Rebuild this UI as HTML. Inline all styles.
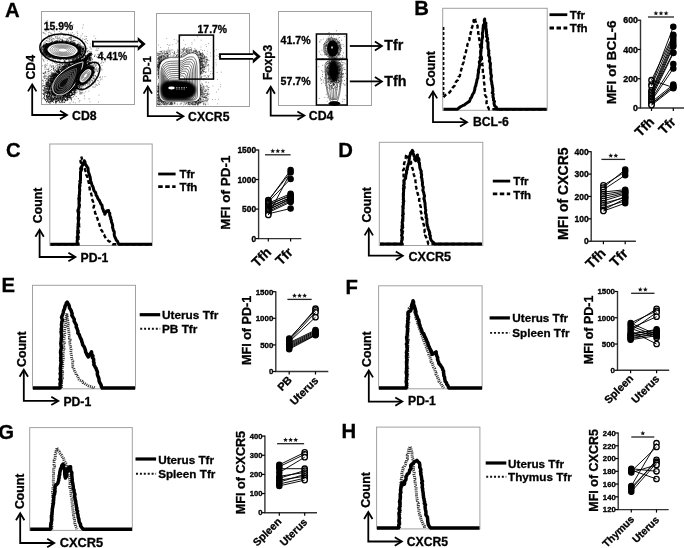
<!DOCTYPE html>
<html><head><meta charset="utf-8"><style>
html,body{margin:0;padding:0;background:#fff;width:685px;height:548px;overflow:hidden}
svg{display:block;will-change:transform}
</style></head><body>
<svg width="685" height="548" viewBox="0 0 685 548" font-family='"Liberation Sans", sans-serif'><defs><filter id="bl1" x="-50%" y="-50%" width="200%" height="200%"><feGaussianBlur stdDeviation="1.2"/></filter><filter id="bl05" x="-50%" y="-50%" width="200%" height="200%"><feGaussianBlur stdDeviation="0.6"/></filter></defs><text x="4.9" y="17.4" font-size="20.3" font-weight="bold" text-anchor="start" fill="#000" stroke="#000" stroke-width="0.3">A</text>
<text x="414.3" y="14.8" font-size="20.3" font-weight="bold" text-anchor="start" fill="#000" stroke="#000" stroke-width="0.3">B</text>
<text x="5.95" y="156.6" font-size="20.3" font-weight="bold" text-anchor="start" fill="#000" stroke="#000" stroke-width="0.3">C</text>
<text x="338.3" y="156.7" font-size="20.3" font-weight="bold" text-anchor="start" fill="#000" stroke="#000" stroke-width="0.3">D</text>
<text x="1.6" y="291.8" font-size="20.3" font-weight="bold" text-anchor="start" fill="#000" stroke="#000" stroke-width="0.3">E</text>
<text x="345.5" y="293.5" font-size="20.3" font-weight="bold" text-anchor="start" fill="#000" stroke="#000" stroke-width="0.3">F</text>
<text x="-1.65" y="438.7" font-size="20.3" font-weight="bold" text-anchor="start" fill="#000" stroke="#000" stroke-width="0.3">G</text>
<text x="341.5" y="437.9" font-size="20.3" font-weight="bold" text-anchor="start" fill="#000" stroke="#000" stroke-width="0.3">H</text>
<rect x="41.5" y="11.5" width="93.0" height="93.0" fill="#fff" stroke="#a0a0a0" stroke-width="1"/>
<rect x="156.5" y="13.5" width="93.0" height="93.0" fill="#fff" stroke="#a0a0a0" stroke-width="1"/>
<rect x="278.5" y="11.5" width="93.0" height="94.0" fill="#fff" stroke="#a0a0a0" stroke-width="1"/>
<path d="M62.8 57.3h0.9M80.3 54.8h0.9M77.1 72.0h0.9M56.3 50.2h0.9M59.5 45.8h0.9M56.1 50.7h0.9M71.4 39.2h0.9M61.9 54.1h0.9M72.7 50.0h0.9M83.0 54.9h0.9M62.5 41.0h0.9M70.8 62.0h0.9M62.0 41.4h0.9M57.4 57.2h0.9M70.2 37.2h0.9M73.4 54.2h0.9M61.0 42.9h0.9M61.0 50.3h0.9M72.4 45.4h0.9M53.3 30.7h0.9M44.2 39.0h0.9M68.1 51.2h0.9M53.8 54.7h0.9M54.0 31.2h0.9M57.6 42.2h0.9M47.7 47.0h0.9M44.1 43.1h0.9M64.1 43.3h0.9M74.0 58.3h0.9M59.3 58.0h0.9M52.8 55.6h0.9M68.7 42.6h0.9M72.2 51.6h0.9M59.2 48.2h0.9M71.1 38.7h0.9M75.8 58.8h0.9M60.2 50.6h0.9M52.8 45.1h0.9M66.4 62.5h0.9M65.6 56.9h0.9M76.6 58.6h0.9M45.5 58.8h0.9M53.9 55.5h0.9M53.1 38.5h0.9M63.9 58.8h0.9M70.4 44.2h0.9M53.4 49.6h0.9M80.6 55.1h0.9M72.6 63.3h0.9M70.2 61.8h0.9M67.5 58.2h0.9M75.5 49.6h0.9M45.1 56.4h0.9M70.5 55.3h0.9M70.9 49.4h0.9M67.1 54.7h0.9M60.3 43.4h0.9M72.2 61.7h0.9M57.5 47.5h0.9M62.3 55.1h0.9M68.6 37.6h0.9M51.7 48.9h0.9M71.4 42.8h0.9M62.4 41.7h0.9M70.8 34.5h0.9M54.6 67.7h0.9M77.2 50.1h0.9M70.7 52.8h0.9M59.9 59.3h0.9M71.3 49.8h0.9M78.9 55.9h0.9M87.2 40.6h0.9M42.5 50.0h0.9M74.7 47.6h0.9M68.6 54.8h0.9M61.6 51.5h0.9M51.0 37.2h0.9M80.6 35.8h0.9M47.4 40.1h0.9M69.8 57.0h0.9M79.5 55.1h0.9M60.6 32.6h0.9M48.0 25.8h0.9M66.6 45.1h0.9M82.9 49.0h0.9M89.6 47.2h0.9M55.7 48.0h0.9M73.0 40.8h0.9M84.1 44.4h0.9M68.3 51.7h0.9M53.3 49.8h0.9M66.9 49.7h0.9M61.1 69.2h0.9M60.6 47.6h0.9M53.4 50.2h0.9M68.8 42.0h0.9M67.3 47.3h0.9M61.4 54.4h0.9M59.7 54.6h0.9M46.5 47.2h0.9M56.4 52.8h0.9M78.6 51.8h0.9M61.9 33.9h0.9M46.8 20.6h0.9M78.6 71.1h0.9M69.3 57.6h0.9M90.3 51.9h0.9M65.1 35.4h0.9M58.0 38.7h0.9M43.2 59.8h0.9M82.2 27.9h0.9M96.5 50.2h0.9M51.7 56.4h0.9M54.5 50.5h0.9M70.2 57.1h0.9M52.3 47.9h0.9M57.7 70.0h0.9M59.2 40.9h0.9M66.5 38.7h0.9M77.0 53.6h0.9M62.2 62.1h0.9M74.9 50.6h0.9M56.8 58.4h0.9M67.6 45.9h0.9M43.2 60.2h0.9M72.1 64.2h0.9M54.2 62.3h0.9M70.8 46.9h0.9M70.9 40.8h0.9M81.0 41.6h0.9M73.7 49.0h0.9M75.7 56.1h0.9M61.2 54.2h0.9M55.0 37.1h0.9M53.4 50.8h0.9M56.7 49.6h0.9M48.3 49.5h0.9M55.9 49.2h0.9M62.0 48.2h0.9M65.8 55.3h0.9M58.5 50.7h0.9M62.6 44.1h0.9M65.6 53.6h0.9M77.1 50.2h0.9M72.1 32.7h0.9M54.3 53.4h0.9M53.8 46.9h0.9M88.4 60.1h0.9M72.9 49.5h0.9M86.8 51.3h0.9M90.4 54.2h0.9M52.4 49.0h0.9M68.3 46.7h0.9M70.3 35.3h0.9M68.9 66.2h0.9M71.2 37.2h0.9M65.9 47.3h0.9M64.8 55.7h0.9M43.3 51.5h0.9M60.4 54.6h0.9M52.7 55.7h0.9M63.7 60.8h0.9M56.7 52.0h0.9M68.9 75.3h0.9M74.4 42.3h0.9M66.8 52.3h0.9M67.4 47.3h0.9M64.6 45.5h0.9M57.0 51.9h0.9M59.8 62.2h0.9M57.1 43.4h0.9M68.6 44.4h0.9M62.6 56.2h0.9M70.1 55.3h0.9M44.3 65.1h0.9M73.7 59.7h0.9M53.0 51.1h0.9M53.7 46.4h0.9M60.3 51.6h0.9M55.8 47.9h0.9M67.8 38.8h0.9M55.6 49.4h0.9M49.3 47.3h0.9M52.2 47.1h0.9M80.3 47.9h0.9M62.3 64.4h0.9M47.4 54.6h0.9M62.4 57.9h0.9M43.3 43.1h0.9M86.9 43.4h0.9M43.5 45.9h0.9M69.0 52.6h0.9M70.3 47.7h0.9M44.4 46.8h0.9M66.2 58.5h0.9M75.7 53.7h0.9M69.8 42.2h0.9M66.7 46.7h0.9M75.8 45.5h0.9M64.9 51.7h0.9M68.2 40.5h0.9M61.5 48.3h0.9M70.7 56.6h0.9M50.8 49.2h0.9M73.9 43.2h0.9M56.9 44.2h0.9M48.8 49.8h0.9M67.4 54.5h0.9M84.3 59.0h0.9M75.6 49.9h0.9M57.3 38.3h0.9M71.0 62.9h0.9M56.9 52.0h0.9M61.1 53.3h0.9M63.9 52.7h0.9M65.7 47.5h0.9M49.5 51.0h0.9M53.2 58.0h0.9M43.9 48.8h0.9M45.7 21.9h0.9M51.0 46.9h0.9M73.4 53.9h0.9M83.6 62.8h0.9M62.1 56.0h0.9M75.3 72.3h0.9M58.5 61.8h0.9M64.2 58.2h0.9M69.8 38.8h0.9M56.8 56.7h0.9M66.5 55.4h0.9M70.8 46.2h0.9M51.4 54.0h0.9M43.6 51.9h0.9M60.5 45.8h0.9M60.4 48.7h0.9M58.6 47.4h0.9M75.6 53.1h0.9M85.7 48.4h0.9M57.2 54.1h0.9M73.5 34.6h0.9M75.4 48.7h0.9M73.5 36.5h0.9M76.9 47.1h0.9M57.6 53.9h0.9M72.6 51.0h0.9M89.3 51.4h0.9M73.4 51.5h0.9M53.8 62.6h0.9M71.7 41.3h0.9M78.7 58.9h0.9M68.9 37.6h0.9M56.0 45.4h0.9M82.9 53.1h0.9M47.4 41.4h0.9M69.4 52.3h0.9M62.3 56.2h0.9M48.4 38.5h0.9M78.8 50.7h0.9M67.8 47.2h0.9M49.3 32.2h0.9M70.9 49.1h0.9M58.0 42.8h0.9M54.7 41.8h0.9M65.2 64.7h0.9M71.6 46.2h0.9M63.7 66.6h0.9M63.2 54.6h0.9M68.8 54.4h0.9M59.7 56.6h0.9M77.6 59.0h0.9M63.9 62.1h0.9M65.5 65.0h0.9M70.3 47.7h0.9M50.2 38.2h0.9M55.8 26.6h0.9M83.1 48.5h0.9M66.8 56.8h0.9M59.1 52.9h0.9M67.3 51.4h0.9M57.0 46.5h0.9M67.1 44.9h0.9M54.6 46.8h0.9M66.3 53.6h0.9M43.9 33.3h0.9M79.7 57.7h0.9M57.4 37.1h0.9M42.6 46.9h0.9M60.6 44.4h0.9M58.5 46.5h0.9M65.7 41.3h0.9M49.0 38.9h0.9M68.3 48.5h0.9M110.7 44.9h0.9M44.6 69.3h0.9M67.7 46.8h0.9M59.5 44.0h0.9M65.9 45.5h0.9M49.9 27.8h0.9M69.1 48.3h0.9M62.3 52.5h0.9M85.3 39.1h0.9M53.9 49.2h0.9M66.2 39.9h0.9M100.8 52.9h0.9M52.8 52.1h0.9M50.9 53.0h0.9M62.2 53.6h0.9M63.0 43.9h0.9M73.3 58.3h0.9M65.0 46.3h0.9M52.9 52.0h0.9M65.2 56.1h0.9M97.4 50.3h0.9M80.4 40.5h0.9M62.0 40.3h0.9M52.3 41.4h0.9M71.9 41.3h0.9M60.1 56.9h0.9M88.2 50.7h0.9M76.7 31.9h0.9M74.0 57.2h0.9M63.9 67.7h0.9M61.2 65.1h0.9M67.8 45.5h0.9M79.7 52.0h0.9M69.6 54.8h0.9M57.8 57.1h0.9M79.5 51.7h0.9M66.3 40.9h0.9M61.4 56.2h0.9M52.3 54.2h0.9M56.7 38.0h0.9M55.0 46.1h0.9M76.2 51.0h0.9M70.0 55.0h0.9M59.6 56.4h0.9M76.2 55.7h0.9M68.8 49.4h0.9M68.8 38.9h0.9M59.0 61.5h0.9M68.4 67.2h0.9M83.9 51.4h0.9M86.9 51.7h0.9M80.4 63.8h0.9M46.9 60.8h0.9M69.9 56.6h0.9M63.9 43.5h0.9M75.0 55.9h0.9M62.0 42.7h0.9M66.0 48.9h0.9M43.7 47.1h0.9M69.2 46.4h0.9M58.8 31.5h0.9M68.2 43.3h0.9M68.7 53.2h0.9M61.5 49.2h0.9M67.4 46.9h0.9M62.5 53.5h0.9M72.3 56.6h0.9M68.9 57.6h0.9M56.5 42.4h0.9M55.4 49.4h0.9M85.8 49.0h0.9M62.3 42.3h0.9M77.0 38.3h0.9M68.2 49.5h0.9M56.4 41.8h0.9M51.7 67.2h0.9M64.6 49.2h0.9M66.5 48.2h0.9M71.3 47.2h0.9M45.2 64.3h0.9M56.0 41.2h0.9M61.9 48.4h0.9M84.3 45.2h0.9M68.7 50.1h0.9M55.2 58.6h0.9M69.6 38.4h0.9M56.7 49.1h0.9M66.5 64.0h0.9M83.7 47.3h0.9M67.7 48.8h0.9M69.3 42.8h0.9M69.8 28.1h0.9M53.4 48.1h0.9M69.2 60.4h0.9M60.7 45.7h0.9M53.9 33.3h0.9M62.3 52.1h0.9M60.0 50.3h0.9M72.0 59.2h0.9M61.8 57.5h0.9M56.4 47.0h0.9M81.6 54.9h0.9M77.1 35.7h0.9M78.6 60.7h0.9M70.7 52.1h0.9M60.8 58.9h0.9M56.8 58.4h0.9M59.6 47.1h0.9M75.4 49.7h0.9M65.1 42.6h0.9M45.3 30.7h0.9M62.6 48.7h0.9M44.6 49.6h0.9M66.0 40.8h0.9M46.9 54.5h0.9M46.6 49.3h0.9M64.2 53.8h0.9M62.6 43.3h0.9M42.8 33.0h0.9M72.1 57.3h0.9M90.6 57.5h0.9M43.9 47.2h0.9M86.9 48.4h0.9M54.3 46.7h0.9M56.7 48.1h0.9M61.1 45.3h0.9M45.8 31.2h0.9M79.3 58.0h0.9M70.5 37.8h0.9M53.5 46.2h0.9M59.7 46.9h0.9M43.2 50.4h0.9M59.7 35.8h0.9M74.2 61.1h0.9M56.8 55.9h0.9M64.0 60.8h0.9M77.2 44.3h0.9M82.8 24.9h0.9M56.8 52.2h0.9M52.4 60.2h0.9M68.0 60.3h0.9M58.7 45.0h0.9M59.1 48.8h0.9M76.8 53.6h0.9M86.2 36.5h0.9M66.9 44.6h0.9M61.0 44.3h0.9M69.2 64.0h0.9M61.6 63.2h0.9M49.3 48.9h0.9M95.2 38.5h0.9M70.7 69.6h0.9M65.6 41.9h0.9M60.0 55.0h0.9M72.6 46.3h0.9M85.0 41.4h0.9M52.8 58.0h0.9M71.8 51.3h0.9M73.3 40.4h0.9M43.8 39.1h0.9M75.4 47.8h0.9M79.8 59.7h0.9M66.2 47.8h0.9M61.7 55.5h0.9M72.0 64.9h0.9M42.1 59.0h0.9M63.1 62.3h0.9M75.7 61.6h0.9M48.1 35.0h0.9M74.9 61.5h0.9M57.3 52.3h0.9M62.4 40.7h0.9M51.6 35.4h0.9M68.0 41.0h0.9M47.8 48.5h0.9M77.5 41.2h0.9M54.0 42.2h0.9M68.1 45.2h0.9M54.8 55.0h0.9M59.0 47.1h0.9M78.5 50.1h0.9M64.8 61.5h0.9M58.1 46.8h0.9M46.3 53.7h0.9M78.8 42.4h0.9M72.2 53.6h0.9M58.7 50.6h0.9M66.0 51.8h0.9M50.0 44.9h0.9M50.6 40.1h0.9M52.5 46.5h0.9M67.9 46.4h0.9M66.1 59.1h0.9M52.7 56.8h0.9M73.4 40.7h0.9M72.7 56.2h0.9M65.6 46.1h0.9M76.1 55.1h0.9M59.6 45.6h0.9M62.6 37.4h0.9M68.4 59.1h0.9M62.2 53.8h0.9M74.2 40.5h0.9M48.2 32.6h0.9M81.9 47.1h0.9M53.8 39.1h0.9M61.1 46.7h0.9M44.7 53.7h0.9M69.7 63.1h0.9M79.8 48.4h0.9M75.9 62.9h0.9M72.9 60.8h0.9M43.2 44.6h0.9M54.1 35.0h0.9M56.4 56.7h0.9M50.4 54.1h0.9M75.8 71.2h0.9M64.3 62.3h0.9M62.1 56.6h0.9M68.1 64.9h0.9M51.5 40.1h0.9M51.1 50.6h0.9M51.8 46.7h0.9M68.2 65.4h0.9M67.0 55.2h0.9M72.7 24.8h0.9M75.9 62.9h0.9M46.1 40.8h0.9M55.2 56.0h0.9M65.3 46.2h0.9M45.3 50.6h0.9M55.6 54.9h0.9M76.0 52.9h0.9M78.0 43.3h0.9M75.9 63.2h0.9M63.3 53.5h0.9M60.3 49.7h0.9M76.4 57.3h0.9M58.6 45.2h0.9M66.0 66.5h0.9M80.0 53.5h0.9M58.0 52.8h0.9M54.8 52.4h0.9M63.5 42.4h0.9M71.6 40.9h0.9M69.1 52.5h0.9M64.7 53.3h0.9M69.2 62.2h0.9M52.7 40.0h0.9M64.7 54.8h0.9M50.3 56.1h0.9M44.9 57.1h0.9M47.1 51.6h0.9M52.0 38.8h0.9M59.8 59.8h0.9M50.3 42.8h0.9M65.6 55.3h0.9M86.1 38.8h0.9M60.5 56.5h0.9M80.1 45.0h0.9M65.9 59.7h0.9M47.2 63.8h0.9M58.8 59.8h0.9M51.1 39.2h0.9M73.6 43.0h0.9M48.7 41.5h0.9M79.6 57.3h0.9M70.2 53.7h0.9M72.9 53.7h0.9M82.7 56.8h0.9M52.3 54.8h0.9M74.5 65.6h0.9M66.1 52.1h0.9M42.8 32.5h0.9M70.2 39.5h0.9M68.0 52.4h0.9M91.8 61.5h0.9M55.6 45.7h0.9M74.1 46.9h0.9M64.8 45.9h0.9M58.7 50.8h0.9M71.4 46.1h0.9M83.9 55.5h0.9M46.8 51.2h0.9M70.0 53.6h0.9M66.9 56.9h0.9M44.5 48.7h0.9M83.8 53.1h0.9M86.9 67.1h0.9M50.7 48.6h0.9M84.9 58.7h0.9M63.7 50.5h0.9M61.2 45.9h0.9M82.8 47.8h0.9M66.6 43.3h0.9M67.2 50.5h0.9M83.1 46.6h0.9M80.0 47.9h0.9M73.7 61.3h0.9M45.0 47.3h0.9M77.4 53.5h0.9M50.4 56.2h0.9M65.4 45.0h0.9M49.0 50.0h0.9M58.7 72.1h0.9M45.8 55.5h0.9M83.4 60.3h0.9M49.6 50.8h0.9M60.8 57.1h0.9M61.4 39.9h0.9M79.3 44.1h0.9M44.3 52.0h0.9M62.0 56.9h0.9M60.6 46.2h0.9M70.0 49.0h0.9M69.4 47.4h0.9M57.1 47.8h0.9M67.0 40.0h0.9M59.2 37.4h0.9M69.1 49.8h0.9M63.0 35.1h0.9M55.2 40.9h0.9M63.1 44.3h0.9M68.5 41.4h0.9M92.2 54.5h0.9M57.0 45.5h0.9M67.0 49.5h0.9M82.7 43.0h0.9M47.4 51.6h0.9M61.9 45.7h0.9M94.3 55.7h0.9M67.9 51.8h0.9M78.5 52.5h0.9M59.0 63.0h0.9M75.9 54.5h0.9M65.6 48.0h0.9M47.1 38.4h0.9M77.0 56.9h0.9M42.9 50.2h0.9M77.7 51.4h0.9M81.8 51.6h0.9M53.1 49.0h0.9M49.3 40.9h0.9M73.7 53.1h0.9M50.2 33.2h0.9M74.2 50.4h0.9M48.7 35.6h0.9M73.8 47.6h0.9M63.7 55.8h0.9M57.6 46.9h0.9M51.8 44.5h0.9M65.7 54.2h0.9M59.8 45.8h0.9M58.2 45.8h0.9M70.7 63.1h0.9M46.3 53.8h0.9M84.9 55.6h0.9M59.9 39.1h0.9M47.8 53.5h0.9M81.9 40.2h0.9M84.2 55.5h0.9M61.4 39.9h0.9M50.1 65.0h0.9M64.5 35.3h0.9M53.2 59.1h0.9M58.4 55.9h0.9M84.5 36.2h0.9M68.3 47.9h0.9M63.9 61.9h0.9M66.7 59.5h0.9M63.5 35.4h0.9M74.3 46.0h0.9M75.3 40.5h0.9M59.0 40.4h0.9M64.9 44.2h0.9M92.9 67.8h0.9M68.4 51.1h0.9M60.8 47.3h0.9M89.8 49.0h0.9M62.7 55.1h0.9M48.3 54.1h0.9M72.5 42.4h0.9M50.3 60.9h0.9M57.4 39.7h0.9M67.5 47.5h0.9M61.1 53.1h0.9M51.9 63.1h0.9M56.2 45.9h0.9M55.2 51.2h0.9M77.2 61.8h0.9M53.2 53.9h0.9M54.8 58.3h0.9M88.7 60.5h0.9M55.7 51.0h0.9M81.9 56.5h0.9M79.4 58.7h0.9M61.1 49.0h0.9M43.5 61.4h0.9M70.4 33.1h0.9M72.4 42.4h0.9M74.5 62.8h0.9M63.7 53.1h0.9M79.1 45.4h0.9M80.8 54.2h0.9M48.6 57.5h0.9M82.0 46.3h0.9M64.7 56.2h0.9M55.8 47.8h0.9M59.0 48.1h0.9M87.4 51.0h0.9M75.0 60.0h0.9M64.4 46.4h0.9M60.7 54.9h0.9M61.7 38.9h0.9M57.6 35.5h0.9M43.8 52.6h0.9M74.2 50.5h0.9M51.0 47.2h0.9M58.1 50.2h0.9M56.0 40.5h0.9M51.5 73.3h0.9M73.4 42.0h0.9M68.3 46.2h0.9M55.4 36.7h0.9M51.1 44.9h0.9M55.8 61.9h0.9M75.6 50.7h0.9M64.2 54.6h0.9M66.4 45.6h0.9M57.5 64.4h0.9M59.6 50.6h0.9M66.8 39.1h0.9M84.2 48.2h0.9M52.4 53.7h0.9M55.6 50.0h0.9M80.2 53.2h0.9M65.8 50.9h0.9M64.3 41.8h0.9M56.6 36.1h0.9M42.1 56.0h0.9M65.5 48.5h0.9M78.3 53.2h0.9M51.7 44.5h0.9M82.2 33.9h0.9M49.4 37.4h0.9M52.5 60.4h0.9M70.2 43.4h0.9M63.3 46.2h0.9M73.1 37.8h0.9M53.8 44.1h0.9M50.0 45.1h0.9M47.5 47.5h0.9M49.6 42.9h0.9M45.0 43.0h0.9M67.1 49.7h0.9M54.2 51.4h0.9M93.9 67.0h0.9M52.1 50.2h0.9M46.7 49.4h0.9M79.6 45.3h0.9M77.4 59.4h0.9M48.9 39.4h0.9M45.2 34.0h0.9M50.8 40.0h0.9M77.2 55.9h0.9M59.9 39.4h0.9M51.6 59.4h0.9M62.7 49.2h0.9M79.8 37.9h0.9M45.2 45.9h0.9M56.8 64.1h0.9M45.8 40.6h0.9M92.2 40.8h0.9M86.2 55.8h0.9M74.4 61.5h0.9M60.6 57.9h0.9M71.8 47.4h0.9M66.4 52.5h0.9M44.9 57.8h0.9M44.3 66.1h0.9M54.0 47.7h0.9M57.6 60.0h0.9M70.7 47.1h0.9M71.7 55.2h0.9M67.1 41.8h0.9M51.4 41.9h0.9M71.5 53.7h0.9M62.2 41.7h0.9M77.7 58.2h0.9M51.6 43.7h0.9M56.9 48.1h0.9M91.2 49.0h0.9M69.0 51.0h0.9M59.7 58.3h0.9M72.2 76.7h0.9M70.4 39.9h0.9M68.8 52.5h0.9M56.5 47.3h0.9M64.7 41.7h0.9M65.4 52.0h0.9M55.4 41.2h0.9M48.6 47.5h0.9M63.9 60.0h0.9M77.1 33.4h0.9M71.3 52.2h0.9M69.1 53.7h0.9M70.3 41.9h0.9M96.1 56.8h0.9M66.2 52.7h0.9M76.8 47.6h0.9M87.5 61.9h0.9M64.7 38.4h0.9M66.0 55.1h0.9M76.7 48.6h0.9M85.7 42.4h0.9M67.2 48.2h0.9M68.0 46.8h0.9M63.6 56.4h0.9M48.5 35.4h0.9M77.7 49.0h0.9M60.1 45.2h0.9M62.0 39.8h0.9M51.3 33.4h0.9M63.1 52.3h0.9M51.3 47.2h0.9M76.7 53.8h0.9M44.6 41.8h0.9M68.0 33.1h0.9M71.5 36.9h0.9M81.1 62.1h0.9M74.9 52.2h0.9M66.8 42.3h0.9M63.5 57.0h0.9M63.0 42.9h0.9M78.5 44.3h0.9M55.6 38.3h0.9M69.1 59.9h0.9M60.5 65.8h0.9M67.0 41.4h0.9M59.6 51.4h0.9M90.1 60.0h0.9M53.1 66.4h0.9M68.3 29.2h0.9M66.7 50.8h0.9M70.6 55.4h0.9M70.1 37.2h0.9M68.4 53.2h0.9M75.8 52.0h0.9M43.2 53.7h0.9M63.8 44.3h0.9M46.9 51.4h0.9M66.7 44.4h0.9M47.5 53.0h0.9M50.7 49.5h0.9M62.7 46.0h0.9M82.4 38.8h0.9M69.5 63.8h0.9M66.3 58.9h0.9M80.8 58.2h0.9M51.5 42.5h0.9M56.5 62.9h0.9M59.1 55.2h0.9M79.9 43.4h0.9M90.9 52.0h0.9M45.9 48.9h0.9M95.5 50.3h0.9M84.2 43.0h0.9" stroke="#000" stroke-width="0.9" opacity="0.5" fill="none"/>
<path d="M72.8 80.4h0.9M63.0 80.0h0.9M70.9 99.0h0.9M42.3 89.8h0.9M63.2 96.7h0.9M68.3 93.6h0.9M58.2 71.2h0.9M62.2 92.7h0.9M69.0 78.6h0.9M65.9 89.1h0.9M46.5 82.2h0.9M44.9 86.7h0.9M46.8 93.0h0.9M67.4 94.7h0.9M60.9 81.4h0.9M54.9 60.4h0.9M50.4 75.7h0.9M44.0 85.5h0.9M82.5 74.4h0.9M57.2 77.9h0.9M47.7 76.5h0.9M64.7 93.5h0.9M51.5 95.7h0.9M66.1 82.2h0.9M57.0 76.8h0.9M79.8 82.4h0.9M66.5 75.9h0.9M53.1 65.8h0.9M61.2 68.4h0.9M52.1 81.1h0.9M55.4 86.6h0.9M64.0 89.7h0.9M46.1 88.7h0.9M54.7 81.7h0.9M71.2 100.8h0.9M64.8 80.2h0.9M56.1 81.2h0.9M46.3 98.1h0.9M51.8 76.2h0.9M73.0 77.8h0.9M50.5 86.1h0.9M66.1 90.7h0.9M48.4 91.9h0.9M57.6 90.1h0.9M55.3 79.3h0.9M45.2 88.6h0.9M52.2 72.8h0.9M63.9 82.9h0.9M48.9 91.5h0.9M58.2 82.6h0.9M60.1 69.5h0.9M51.0 78.2h0.9M58.7 77.2h0.9M67.2 82.8h0.9M59.9 87.9h0.9M62.3 73.0h0.9M64.3 83.5h0.9M63.9 102.5h0.9M64.1 81.3h0.9M78.7 91.0h0.9M68.2 81.4h0.9M63.6 97.3h0.9M59.6 77.7h0.9M76.9 82.0h0.9M53.8 75.1h0.9M69.7 77.4h0.9M66.8 72.9h0.9M46.8 71.8h0.9M55.8 70.9h0.9M64.9 93.5h0.9M70.5 79.8h0.9M67.4 93.1h0.9M57.2 89.3h0.9M60.9 86.3h0.9M58.9 77.8h0.9M59.9 77.7h0.9M48.7 89.5h0.9M50.3 83.9h0.9M56.3 75.5h0.9M71.1 88.6h0.9M63.3 86.4h0.9M74.3 61.3h0.9M65.1 73.5h0.9M65.5 90.8h0.9M67.4 81.4h0.9M70.6 75.9h0.9M54.7 73.7h0.9M44.8 93.6h0.9M53.4 76.1h0.9M48.1 71.5h0.9M80.7 74.6h0.9M44.8 94.9h0.9M68.2 70.4h0.9M52.7 79.0h0.9M71.3 82.2h0.9M71.2 99.3h0.9M64.9 86.4h0.9M73.9 81.9h0.9M52.6 75.4h0.9M68.5 77.6h0.9M60.8 85.9h0.9M66.6 96.3h0.9M58.5 85.5h0.9M50.4 81.4h0.9M58.7 84.3h0.9M66.9 71.5h0.9M60.9 101.4h0.9M52.5 99.8h0.9M62.1 86.2h0.9M73.1 73.1h0.9M72.8 81.8h0.9M66.3 71.4h0.9M63.0 69.1h0.9M42.9 77.0h0.9M68.4 90.5h0.9M59.8 92.2h0.9M64.6 79.8h0.9M58.5 100.6h0.9M56.2 76.8h0.9M65.5 72.6h0.9M70.6 57.7h0.9M70.8 74.2h0.9M47.5 92.6h0.9M46.4 102.8h0.9M57.5 78.9h0.9M58.8 67.3h0.9M52.3 98.7h0.9M64.6 95.5h0.9M61.7 91.5h0.9M60.1 83.0h0.9M61.5 87.4h0.9M53.0 69.1h0.9M65.6 73.9h0.9M68.1 90.4h0.9M68.5 81.1h0.9M68.9 63.9h0.9M58.5 96.1h0.9M52.0 90.0h0.9M68.5 84.5h0.9M64.4 61.4h0.9M58.1 78.9h0.9M70.1 77.7h0.9M60.1 87.5h0.9M70.3 80.4h0.9M55.8 87.7h0.9M63.9 77.3h0.9M66.2 83.5h0.9M68.7 86.0h0.9M60.5 63.9h0.9M65.9 73.7h0.9M54.9 86.2h0.9M67.7 78.0h0.9M54.9 101.7h0.9M59.0 67.8h0.9M83.3 67.2h0.9M53.3 68.4h0.9M59.3 74.8h0.9M57.7 79.4h0.9M64.7 75.5h0.9M53.5 82.4h0.9M62.1 75.1h0.9M56.6 82.8h0.9M55.9 84.3h0.9M49.8 70.5h0.9M51.4 74.6h0.9M45.7 92.5h0.9M78.7 71.7h0.9M68.1 88.4h0.9M69.0 76.1h0.9M55.5 78.2h0.9M63.3 82.7h0.9M70.1 82.3h0.9M55.3 90.2h0.9M59.4 83.0h0.9M62.2 81.0h0.9M58.9 67.0h0.9M47.7 80.7h0.9M66.5 92.5h0.9M49.5 66.0h0.9M59.6 86.3h0.9M57.3 83.1h0.9M71.3 90.0h0.9M57.6 93.9h0.9M66.5 66.3h0.9M62.2 97.5h0.9M57.5 79.2h0.9M71.0 97.9h0.9M66.2 98.5h0.9M64.0 78.7h0.9M72.8 80.7h0.9M72.2 73.9h0.9M59.2 73.2h0.9M64.3 92.9h0.9M69.6 79.6h0.9M55.9 98.6h0.9M67.9 89.5h0.9M73.4 88.3h0.9M71.3 85.6h0.9M52.1 90.7h0.9M50.7 94.2h0.9M75.1 74.0h0.9M56.4 86.0h0.9M47.6 93.3h0.9M63.9 86.2h0.9M81.0 86.8h0.9M55.8 78.4h0.9M68.9 74.5h0.9M59.5 78.9h0.9M61.5 77.5h0.9M65.8 74.5h0.9M57.2 85.2h0.9M60.0 78.5h0.9M69.3 97.4h0.9M60.4 92.1h0.9M60.6 74.0h0.9M51.4 85.7h0.9M65.9 87.5h0.9M58.4 92.4h0.9M56.1 80.2h0.9M62.7 92.9h0.9M59.3 66.6h0.9M58.1 79.9h0.9M72.0 93.8h0.9M55.8 55.4h0.9M58.8 97.6h0.9M55.5 78.7h0.9M57.9 74.9h0.9M51.8 65.9h0.9M53.9 73.4h0.9M54.6 90.2h0.9M69.2 67.7h0.9M62.4 81.4h0.9M57.5 84.6h0.9M54.2 93.4h0.9M52.8 70.3h0.9M54.9 85.2h0.9M55.0 84.8h0.9M59.8 80.3h0.9M56.2 76.6h0.9M73.1 78.9h0.9M58.3 96.0h0.9M67.0 86.2h0.9M71.4 93.2h0.9M64.4 87.1h0.9M54.9 84.3h0.9M63.6 86.6h0.9M48.8 80.4h0.9M50.0 97.0h0.9M64.7 77.9h0.9M46.3 84.4h0.9M66.2 93.2h0.9M72.4 85.7h0.9M63.2 86.6h0.9M84.7 69.6h0.9M54.0 88.3h0.9M52.2 74.7h0.9M63.7 68.3h0.9M62.8 90.0h0.9M51.5 95.5h0.9M58.8 66.4h0.9M61.9 98.8h0.9M60.1 86.7h0.9M76.5 87.9h0.9M62.5 95.8h0.9M54.2 84.4h0.9M64.2 81.1h0.9M54.0 80.8h0.9M56.8 76.6h0.9M51.5 88.8h0.9M62.4 88.0h0.9M61.0 100.3h0.9M43.5 89.4h0.9M77.0 76.0h0.9M63.6 81.1h0.9M65.2 76.2h0.9M60.4 98.0h0.9M57.7 82.0h0.9M67.4 94.2h0.9M48.0 92.0h0.9M58.2 74.4h0.9M59.9 94.0h0.9M49.5 76.3h0.9M66.0 75.9h0.9M65.6 78.8h0.9M61.3 79.7h0.9M47.9 79.5h0.9M72.1 78.7h0.9M61.7 89.5h0.9M55.7 75.9h0.9M62.9 84.8h0.9M53.6 93.4h0.9M77.4 79.8h0.9M71.0 91.8h0.9M57.7 82.9h0.9M68.4 87.7h0.9M57.5 74.1h0.9M58.6 81.9h0.9M56.2 91.8h0.9M69.9 87.4h0.9M59.4 67.5h0.9M58.6 79.5h0.9M76.4 75.9h0.9M69.4 81.1h0.9M59.0 72.1h0.9M64.4 68.7h0.9M58.3 91.6h0.9M50.1 81.4h0.9M65.4 82.0h0.9M69.7 86.3h0.9M71.0 73.6h0.9M51.4 59.1h0.9M68.9 90.4h0.9M69.1 89.9h0.9M67.3 95.1h0.9M63.1 92.2h0.9M46.4 76.7h0.9M75.7 86.7h0.9M59.2 89.6h0.9M63.8 92.6h0.9M60.4 82.0h0.9M55.2 86.2h0.9M57.2 84.2h0.9M64.7 83.2h0.9M56.9 84.9h0.9M53.6 74.6h0.9M66.0 84.4h0.9M47.4 97.2h0.9M78.4 68.0h0.9M67.9 89.1h0.9M66.4 87.2h0.9M48.1 96.4h0.9M66.5 80.7h0.9M64.3 81.3h0.9M62.9 90.7h0.9M67.0 86.2h0.9M70.9 75.3h0.9M53.2 80.4h0.9M60.1 95.1h0.9M76.3 79.6h0.9M56.3 74.6h0.9M62.4 86.9h0.9M75.0 64.5h0.9M48.5 68.2h0.9M59.7 84.1h0.9M69.1 87.3h0.9M53.8 81.4h0.9M58.3 77.2h0.9M68.7 88.6h0.9M49.6 80.8h0.9M53.4 79.0h0.9M61.3 79.0h0.9M67.8 84.4h0.9M69.2 83.0h0.9M63.3 74.3h0.9M60.9 79.5h0.9M65.3 80.1h0.9M55.9 83.4h0.9M53.8 79.6h0.9M61.5 69.0h0.9M51.6 101.7h0.9M62.2 79.3h0.9M101.5 79.1h0.9M51.8 100.4h0.9M66.8 68.0h0.9M48.5 95.8h0.9M65.6 83.0h0.9M74.8 74.5h0.9M74.1 75.8h0.9M57.2 92.8h0.9M50.6 91.9h0.9M54.6 97.9h0.9M79.6 92.4h0.9M55.1 83.6h0.9M58.2 81.2h0.9M66.9 86.4h0.9M71.4 88.7h0.9M69.5 85.1h0.9M69.1 90.6h0.9M48.8 94.8h0.9M69.3 72.0h0.9M73.5 79.3h0.9M66.8 98.7h0.9M68.9 95.1h0.9M45.2 75.9h0.9M62.8 91.4h0.9M56.0 79.7h0.9M45.1 72.5h0.9M55.1 94.1h0.9M65.3 76.8h0.9M54.1 85.7h0.9M61.7 66.2h0.9M52.9 78.5h0.9M54.0 87.5h0.9M54.0 71.3h0.9M65.9 76.9h0.9M54.5 91.1h0.9M57.4 84.9h0.9M72.3 75.6h0.9M52.8 90.4h0.9M47.0 82.4h0.9M55.0 76.1h0.9M52.6 93.2h0.9M49.5 96.5h0.9M59.8 78.0h0.9M66.0 80.2h0.9M53.0 68.1h0.9M56.8 74.7h0.9M49.2 90.1h0.9M64.7 78.6h0.9M66.4 73.6h0.9M53.6 87.0h0.9M59.4 69.6h0.9M54.1 82.7h0.9M63.2 84.0h0.9M51.2 69.5h0.9M42.2 86.6h0.9M68.4 71.2h0.9M63.6 99.2h0.9M63.9 88.7h0.9M66.7 97.1h0.9M72.0 89.0h0.9M60.5 77.8h0.9M60.0 83.1h0.9M62.8 66.3h0.9M69.7 89.2h0.9M62.1 91.2h0.9M62.5 89.9h0.9M61.2 88.7h0.9M55.5 91.2h0.9M56.0 91.5h0.9M72.2 87.2h0.9M62.7 71.3h0.9M67.1 63.7h0.9M68.4 75.7h0.9M62.7 96.1h0.9M63.6 83.4h0.9M49.4 92.1h0.9M70.8 83.8h0.9M63.5 81.9h0.9M43.9 76.0h0.9M53.2 78.1h0.9M45.3 72.2h0.9M54.4 86.8h0.9M66.8 71.5h0.9M85.1 64.6h0.9M79.5 91.3h0.9M64.0 72.5h0.9M61.5 82.6h0.9M55.4 83.8h0.9M58.0 50.4h0.9M52.9 81.5h0.9M58.6 76.4h0.9M61.2 86.3h0.9M59.2 74.2h0.9M51.8 75.9h0.9M68.3 83.3h0.9M51.0 92.3h0.9M54.0 78.8h0.9M65.2 69.2h0.9M51.1 89.1h0.9M60.8 93.6h0.9M79.0 83.1h0.9M54.9 72.6h0.9M75.3 83.6h0.9M44.9 99.9h0.9M63.7 85.0h0.9M57.5 98.9h0.9M44.4 87.5h0.9M68.7 86.3h0.9M60.4 67.1h0.9M46.8 91.4h0.9M47.1 86.2h0.9M66.9 98.6h0.9M69.8 95.1h0.9M55.7 98.0h0.9M79.6 71.0h0.9M61.1 76.3h0.9M68.8 97.4h0.9M65.5 96.3h0.9M82.5 73.0h0.9M75.5 67.2h0.9M54.7 85.1h0.9M62.3 80.8h0.9M77.7 83.3h0.9M46.0 86.3h0.9M56.9 88.8h0.9M80.3 84.7h0.9M61.0 94.4h0.9M68.3 98.0h0.9M53.4 96.1h0.9M57.7 92.1h0.9M74.0 87.8h0.9M58.6 94.0h0.9M53.3 95.4h0.9M52.7 85.3h0.9M63.6 62.1h0.9M71.0 92.2h0.9M53.7 85.4h0.9M56.7 78.3h0.9M69.0 86.4h0.9M55.6 77.6h0.9M58.9 78.4h0.9M58.5 85.3h0.9M68.1 79.9h0.9M54.0 97.0h0.9M73.9 82.9h0.9M56.1 87.0h0.9M50.5 98.7h0.9M69.1 74.1h0.9M52.7 83.9h0.9M65.5 84.1h0.9M61.4 87.6h0.9M79.8 88.2h0.9M72.0 80.2h0.9M63.9 71.9h0.9M69.2 83.0h0.9M47.3 94.2h0.9M51.0 72.1h0.9M49.4 86.9h0.9M59.5 76.8h0.9M62.3 83.9h0.9M49.4 93.6h0.9M42.9 81.7h0.9M55.1 91.8h0.9M68.1 95.0h0.9M74.3 88.6h0.9M67.3 72.3h0.9M56.3 94.1h0.9M50.8 82.9h0.9M62.3 64.2h0.9M74.4 85.7h0.9M66.2 86.9h0.9M50.8 89.2h0.9M67.2 89.0h0.9M58.1 90.6h0.9M72.4 68.0h0.9M62.7 85.5h0.9M62.3 82.3h0.9M49.9 89.7h0.9M48.4 87.3h0.9M61.4 94.9h0.9M52.9 85.9h0.9M51.3 78.6h0.9M74.3 93.1h0.9M69.9 90.5h0.9M70.8 80.5h0.9M50.3 93.6h0.9M63.1 84.1h0.9M53.0 73.6h0.9M71.6 72.9h0.9M60.5 87.7h0.9M61.4 80.8h0.9M57.2 92.9h0.9M58.5 76.5h0.9M64.3 82.7h0.9M46.0 79.0h0.9M57.0 87.3h0.9M56.2 80.7h0.9M56.1 71.9h0.9M49.6 90.0h0.9M66.7 78.1h0.9M54.1 82.9h0.9M79.6 76.5h0.9M66.3 69.5h0.9M63.2 93.0h0.9M60.3 93.3h0.9M74.0 62.9h0.9M73.7 88.7h0.9M55.8 71.7h0.9M60.5 90.6h0.9M59.7 85.6h0.9M70.7 83.3h0.9M54.8 70.1h0.9M46.8 82.7h0.9M63.9 70.1h0.9M62.5 82.1h0.9M53.9 91.5h0.9M67.4 77.2h0.9M57.3 83.8h0.9M61.3 74.2h0.9M47.6 79.6h0.9M60.0 78.9h0.9M51.8 99.0h0.9M69.1 87.8h0.9M46.1 91.8h0.9M67.9 89.6h0.9M64.5 89.4h0.9M58.5 72.2h0.9M65.1 82.2h0.9M62.7 69.6h0.9M46.4 85.7h0.9M67.9 69.5h0.9M80.4 81.5h0.9M47.3 88.5h0.9M58.3 93.6h0.9M56.9 89.1h0.9M61.8 86.1h0.9M63.3 84.7h0.9M56.8 72.4h0.9M58.5 86.2h0.9M55.0 93.5h0.9M63.2 73.7h0.9M59.8 88.8h0.9M61.8 69.6h0.9M68.4 84.8h0.9M53.4 82.0h0.9M66.7 74.0h0.9M70.7 83.3h0.9M63.2 94.4h0.9M45.0 92.1h0.9M52.2 84.0h0.9M70.6 85.9h0.9M81.0 79.9h0.9M69.9 90.3h0.9M54.8 76.1h0.9M70.3 88.6h0.9M56.0 92.7h0.9M62.0 87.8h0.9M46.2 95.6h0.9M62.7 76.3h0.9M54.4 84.9h0.9M57.4 83.2h0.9M54.6 87.0h0.9M61.3 74.2h0.9M60.2 82.9h0.9M53.2 84.7h0.9M70.9 73.2h0.9M61.3 86.3h0.9M68.6 97.6h0.9M63.0 70.8h0.9M62.4 78.6h0.9M46.5 86.5h0.9M45.4 80.7h0.9M60.5 94.3h0.9M51.5 73.7h0.9M66.4 89.0h0.9M64.3 84.1h0.9M57.9 79.0h0.9M65.8 69.9h0.9M75.1 75.0h0.9M66.0 80.0h0.9M70.0 83.3h0.9M57.3 86.7h0.9M49.0 88.7h0.9M67.5 83.2h0.9M52.8 76.3h0.9M71.4 83.2h0.9M47.3 97.4h0.9M72.1 58.0h0.9M44.6 86.8h0.9M58.2 81.8h0.9M55.7 65.6h0.9M58.8 102.6h0.9M62.1 94.0h0.9M49.1 93.5h0.9M63.2 85.8h0.9M55.7 75.6h0.9M44.2 72.8h0.9M58.7 64.8h0.9M77.3 81.6h0.9M61.9 86.0h0.9M50.2 77.4h0.9M62.5 90.4h0.9M54.5 85.0h0.9M65.1 70.5h0.9M58.4 79.0h0.9M54.7 83.5h0.9M68.9 96.1h0.9M58.0 74.2h0.9M54.6 84.3h0.9M70.6 90.1h0.9M69.2 93.7h0.9M63.5 68.2h0.9M81.2 88.7h0.9M56.8 101.0h0.9M49.5 75.8h0.9M76.4 90.3h0.9M47.5 77.9h0.9M70.1 82.5h0.9M55.2 74.4h0.9M53.0 68.6h0.9M64.9 89.8h0.9M64.8 84.5h0.9M63.2 79.7h0.9M50.8 95.7h0.9M52.9 89.9h0.9M51.1 89.6h0.9M65.3 65.3h0.9M65.9 85.5h0.9M62.8 81.5h0.9M59.7 81.2h0.9M52.8 84.1h0.9M53.0 87.5h0.9M56.5 68.4h0.9M55.4 84.7h0.9M65.1 66.5h0.9M69.5 90.7h0.9M54.7 77.3h0.9M55.6 82.7h0.9M59.6 84.6h0.9M65.3 88.8h0.9M73.8 76.1h0.9M76.8 67.5h0.9M61.8 82.1h0.9M67.1 81.0h0.9M49.9 82.8h0.9M62.9 93.3h0.9M56.4 71.0h0.9M55.8 80.4h0.9M64.7 89.9h0.9M51.5 74.2h0.9M60.7 81.0h0.9M82.4 73.4h0.9M59.9 81.2h0.9M67.7 79.7h0.9M52.2 83.4h0.9M58.6 77.5h0.9M54.0 82.3h0.9M56.8 82.8h0.9M57.7 94.3h0.9M54.8 90.2h0.9M75.8 93.1h0.9M68.9 82.1h0.9M65.1 82.4h0.9M69.5 102.9h0.9M61.6 81.0h0.9M67.8 78.2h0.9M52.9 77.3h0.9M65.3 85.2h0.9M77.0 84.3h0.9M61.1 90.9h0.9M64.3 74.5h0.9M56.1 86.1h0.9M67.0 83.1h0.9M64.7 94.2h0.9M59.8 79.2h0.9M67.8 70.9h0.9M62.4 95.3h0.9M57.2 89.6h0.9M60.0 88.4h0.9M65.4 84.8h0.9M74.8 59.5h0.9M55.1 87.0h0.9M54.6 87.5h0.9M47.7 93.8h0.9M58.1 89.7h0.9M62.8 86.2h0.9M50.3 83.5h0.9M47.9 98.0h0.9M74.3 95.3h0.9M55.1 89.4h0.9M70.3 78.5h0.9M58.5 67.2h0.9M60.2 96.1h0.9M63.1 91.9h0.9M65.8 88.6h0.9M64.5 77.3h0.9M50.8 98.0h0.9M59.3 83.9h0.9M78.9 76.0h0.9M59.6 84.3h0.9M66.8 87.2h0.9M51.9 75.3h0.9M49.8 90.2h0.9M49.1 59.0h0.9M61.3 80.9h0.9M66.4 87.5h0.9M63.8 77.0h0.9M80.8 93.0h0.9M61.6 78.2h0.9M50.4 82.0h0.9M58.3 79.4h0.9M52.3 85.8h0.9M44.9 80.6h0.9M60.9 70.8h0.9M73.1 96.6h0.9M56.7 84.1h0.9M64.1 91.5h0.9M52.9 75.1h0.9M59.5 83.1h0.9M53.1 88.8h0.9M55.5 82.1h0.9M64.5 77.2h0.9M70.3 74.2h0.9M59.1 95.5h0.9M81.8 77.5h0.9M52.8 74.6h0.9M50.9 67.1h0.9M55.5 86.1h0.9M56.2 87.9h0.9M75.2 77.9h0.9M65.7 91.8h0.9M55.6 80.0h0.9M81.8 88.3h0.9M74.4 72.9h0.9M65.3 90.9h0.9M62.3 85.3h0.9M75.3 72.4h0.9M68.0 55.9h0.9M58.3 81.9h0.9M64.3 81.8h0.9M65.8 76.3h0.9M73.1 79.6h0.9M66.3 93.6h0.9M76.4 86.9h0.9M63.6 96.2h0.9M63.9 83.5h0.9M71.7 83.2h0.9M43.2 97.8h0.9M46.2 69.2h0.9M60.5 75.0h0.9M68.1 75.9h0.9M56.6 68.1h0.9M48.3 73.4h0.9M72.5 74.8h0.9M65.2 83.5h0.9M57.5 83.1h0.9M58.4 79.0h0.9M57.5 66.4h0.9M61.7 81.2h0.9M56.5 78.1h0.9M53.4 96.1h0.9M70.4 85.7h0.9M57.7 79.3h0.9M76.6 72.7h0.9M62.1 84.3h0.9M64.8 88.1h0.9M66.3 97.2h0.9M70.3 82.1h0.9M64.1 89.0h0.9M61.0 93.0h0.9M69.7 69.0h0.9M73.6 70.3h0.9M60.0 88.4h0.9M61.6 98.1h0.9M77.2 83.2h0.9M74.2 56.1h0.9M59.8 83.7h0.9M57.0 65.2h0.9M48.5 88.8h0.9M50.4 72.8h0.9M76.2 82.6h0.9M69.0 84.6h0.9M50.5 80.0h0.9M80.6 67.7h0.9M71.0 82.4h0.9M70.5 95.6h0.9M62.0 92.5h0.9M60.0 85.7h0.9M70.1 72.8h0.9M59.6 92.4h0.9M63.3 84.6h0.9M52.3 85.7h0.9M62.3 66.3h0.9M66.6 90.8h0.9M62.7 72.2h0.9M63.4 77.2h0.9M62.0 92.1h0.9M65.7 77.6h0.9M75.0 83.4h0.9M45.9 84.0h0.9M70.9 82.8h0.9M78.0 49.2h0.9M49.5 75.5h0.9M59.1 71.8h0.9M52.4 93.2h0.9M60.1 75.4h0.9M48.2 78.4h0.9M74.2 85.1h0.9M54.7 77.2h0.9M52.0 90.6h0.9M70.6 76.7h0.9M56.6 81.5h0.9M56.2 92.4h0.9M65.5 86.4h0.9M53.6 89.2h0.9M70.5 86.7h0.9M56.9 79.6h0.9M51.8 78.9h0.9M67.2 79.5h0.9M45.9 85.9h0.9M70.4 78.4h0.9M46.2 96.6h0.9M69.6 68.5h0.9M66.1 85.3h0.9M62.6 88.2h0.9M63.0 77.0h0.9M60.9 84.9h0.9M62.9 87.3h0.9M65.0 72.1h0.9M50.7 78.7h0.9M60.2 85.4h0.9M68.5 84.2h0.9M55.7 62.2h0.9M50.5 74.5h0.9M58.5 78.0h0.9M45.0 66.2h0.9M62.6 73.8h0.9M77.0 77.5h0.9M47.7 82.8h0.9M61.0 84.7h0.9M55.1 77.6h0.9M68.0 81.4h0.9M75.9 76.3h0.9M69.2 91.3h0.9M63.1 81.8h0.9M75.9 81.5h0.9M54.7 94.3h0.9M52.6 85.4h0.9M67.2 95.5h0.9M57.2 79.2h0.9M63.8 82.3h0.9M72.9 102.1h0.9M79.1 75.9h0.9M50.8 82.7h0.9M61.5 86.2h0.9M65.3 71.6h0.9M65.7 76.5h0.9M51.4 73.5h0.9M65.1 81.6h0.9M57.1 67.2h0.9M63.3 85.4h0.9M68.1 80.7h0.9M59.8 94.9h0.9M75.7 96.6h0.9M47.0 81.8h0.9M46.5 84.8h0.9M66.4 70.4h0.9M63.3 91.9h0.9M61.0 78.7h0.9M50.6 85.9h0.9M52.4 77.3h0.9M55.0 81.0h0.9M52.0 86.4h0.9M66.4 76.2h0.9M64.9 78.1h0.9M83.6 67.6h0.9M57.2 91.2h0.9M53.2 74.9h0.9M54.9 99.5h0.9M65.8 88.4h0.9M50.3 97.5h0.9M57.5 70.8h0.9M47.9 77.4h0.9M47.8 96.7h0.9M44.9 86.0h0.9M64.3 91.0h0.9M72.6 82.9h0.9M61.9 90.2h0.9M60.5 100.1h0.9M60.3 95.1h0.9M54.1 75.2h0.9M65.5 80.0h0.9M66.2 83.4h0.9M71.8 77.8h0.9M59.2 85.5h0.9M66.5 72.7h0.9M44.1 90.9h0.9M46.2 96.1h0.9M52.1 91.1h0.9M58.6 83.9h0.9M53.1 84.1h0.9M42.5 73.1h0.9M43.2 73.5h0.9M63.5 89.5h0.9M48.0 83.8h0.9M71.4 90.1h0.9M55.7 79.2h0.9M55.2 93.3h0.9M64.2 61.4h0.9M47.0 88.8h0.9M64.2 77.0h0.9M58.6 92.8h0.9M73.6 91.8h0.9M70.2 86.0h0.9M57.3 68.2h0.9M70.6 73.4h0.9M53.2 88.7h0.9M76.9 59.0h0.9M67.0 84.4h0.9M64.6 99.5h0.9M47.7 90.5h0.9M84.5 73.8h0.9M81.2 80.6h0.9M53.6 76.9h0.9M77.3 89.3h0.9M80.7 84.7h0.9M63.1 84.7h0.9M68.3 97.4h0.9M61.9 85.3h0.9M73.9 84.8h0.9M64.8 87.5h0.9M46.2 86.9h0.9M67.7 79.7h0.9M47.0 94.9h0.9M52.0 85.7h0.9M62.2 67.2h0.9M57.3 76.8h0.9M54.4 73.9h0.9M68.6 89.9h0.9M55.5 63.5h0.9M60.7 84.3h0.9M42.6 93.7h0.9M54.4 73.7h0.9M79.7 79.7h0.9M66.9 74.8h0.9M59.3 89.0h0.9M59.2 83.2h0.9M65.3 87.0h0.9M73.7 82.2h0.9M52.1 86.2h0.9M54.1 89.8h0.9M67.2 99.2h0.9M57.9 78.8h0.9M73.9 93.1h0.9M55.2 83.8h0.9M62.5 74.4h0.9M42.4 80.1h0.9M54.6 78.7h0.9M44.4 77.4h0.9M49.6 87.1h0.9M73.8 79.0h0.9M57.8 85.4h0.9M49.4 86.9h0.9M54.3 76.7h0.9M48.9 86.4h0.9M55.6 69.9h0.9M58.6 69.3h0.9M80.3 88.5h0.9M54.4 92.7h0.9M53.6 78.7h0.9M78.1 74.4h0.9M68.5 94.6h0.9M65.6 70.3h0.9M70.9 71.8h0.9M42.5 85.5h0.9M59.1 64.6h0.9M74.7 86.8h0.9M88.7 98.9h0.9M68.0 66.5h0.9M53.5 69.8h0.9M70.1 91.9h0.9M71.7 85.8h0.9M61.1 89.0h0.9M73.5 89.3h0.9M43.8 95.9h0.9M74.8 72.7h0.9M61.7 92.3h0.9M62.4 77.6h0.9M65.8 84.2h0.9M59.8 81.2h0.9M64.2 85.6h0.9M62.0 84.0h0.9M57.1 88.0h0.9M60.0 65.7h0.9M47.7 85.4h0.9M42.3 80.5h0.9M81.0 73.4h0.9M67.1 72.6h0.9M69.3 69.7h0.9M68.3 91.5h0.9M67.0 86.0h0.9M64.6 76.6h0.9M51.3 66.2h0.9M64.0 88.3h0.9M48.2 92.4h0.9M52.9 86.5h0.9M54.2 99.1h0.9M67.8 68.1h0.9M57.0 85.9h0.9M64.8 90.5h0.9M66.1 85.1h0.9M56.6 79.5h0.9M73.4 89.0h0.9M63.2 95.4h0.9M72.7 70.6h0.9M56.6 90.1h0.9M63.6 93.8h0.9M57.4 92.2h0.9M57.3 88.5h0.9M59.8 82.9h0.9M63.8 76.4h0.9M48.6 87.1h0.9M58.3 77.5h0.9M58.0 91.1h0.9M67.0 73.1h0.9M42.4 83.6h0.9M61.3 83.3h0.9M76.0 89.2h0.9M59.1 102.2h0.9M48.3 70.2h0.9M55.9 77.3h0.9M59.5 94.5h0.9M59.2 85.8h0.9M67.8 77.1h0.9M61.2 81.2h0.9M57.6 87.2h0.9M52.3 78.8h0.9M70.9 88.1h0.9M62.7 68.1h0.9M65.0 77.2h0.9M75.2 88.4h0.9M78.3 79.5h0.9M49.1 94.9h0.9M49.9 94.1h0.9M63.0 74.8h0.9M42.3 98.8h0.9M68.4 92.7h0.9M62.8 75.8h0.9M53.8 97.5h0.9M58.2 91.4h0.9M60.9 88.4h0.9M63.6 77.0h0.9M54.0 99.5h0.9M63.5 82.7h0.9M65.8 79.6h0.9M58.2 80.0h0.9M47.7 69.3h0.9M73.7 79.8h0.9M66.5 87.3h0.9M56.8 81.0h0.9M56.7 85.3h0.9M66.6 81.2h0.9M52.0 80.0h0.9M69.3 83.9h0.9M65.4 87.9h0.9M73.6 81.5h0.9M60.4 95.6h0.9M48.7 71.6h0.9M66.0 84.9h0.9M60.4 78.4h0.9M75.3 83.1h0.9M69.7 88.0h0.9M71.8 82.9h0.9M73.6 69.7h0.9M83.9 95.9h0.9M52.4 91.3h0.9M43.5 87.7h0.9M71.1 85.5h0.9M48.4 77.7h0.9M74.4 94.3h0.9M65.4 91.8h0.9M77.9 83.3h0.9M75.4 82.3h0.9M54.8 94.8h0.9M53.9 73.9h0.9M54.4 82.6h0.9M54.6 97.1h0.9M63.6 78.4h0.9M61.6 87.6h0.9M59.1 76.8h0.9M72.9 61.7h0.9M71.6 76.7h0.9M72.8 81.1h0.9M57.4 87.2h0.9M45.8 86.5h0.9M58.6 64.9h0.9M70.9 99.2h0.9M53.4 76.7h0.9M52.1 81.4h0.9M56.4 78.9h0.9M82.9 72.8h0.9M53.2 81.7h0.9M61.7 89.7h0.9M63.5 84.6h0.9M55.0 75.0h0.9M52.7 93.7h0.9M55.0 87.3h0.9M63.3 90.4h0.9M53.1 88.3h0.9M47.3 85.6h0.9M50.8 88.2h0.9M56.1 85.8h0.9M61.3 87.2h0.9M44.5 76.5h0.9M65.6 84.8h0.9M58.3 84.4h0.9M50.4 93.9h0.9M58.7 88.1h0.9M58.7 83.3h0.9M62.4 75.9h0.9M49.0 96.4h0.9M68.9 83.5h0.9M58.7 89.6h0.9M61.4 82.9h0.9M58.0 72.8h0.9M55.1 91.8h0.9M46.8 82.6h0.9M54.7 80.8h0.9M65.8 80.0h0.9M56.6 88.8h0.9M56.6 101.1h0.9M60.4 94.7h0.9M65.5 84.6h0.9M65.9 74.0h0.9M56.0 87.7h0.9M55.9 85.0h0.9M69.3 96.4h0.9M61.6 88.1h0.9M48.9 86.8h0.9M51.3 82.1h0.9M69.0 90.6h0.9M54.9 78.1h0.9M62.1 86.4h0.9M53.7 92.5h0.9M62.5 94.9h0.9M49.1 83.8h0.9M70.0 79.8h0.9M71.2 75.3h0.9M67.1 86.9h0.9M79.5 81.6h0.9M58.3 87.0h0.9M56.3 84.9h0.9M56.1 99.0h0.9M52.5 73.8h0.9M57.7 88.7h0.9M54.2 77.5h0.9M55.6 73.3h0.9M48.1 76.1h0.9M64.7 89.8h0.9M64.7 90.3h0.9M60.6 84.8h0.9M71.0 86.1h0.9M58.5 86.0h0.9M54.8 83.1h0.9M65.2 65.3h0.9M72.2 81.6h0.9M64.3 90.0h0.9M61.2 98.8h0.9M51.7 82.4h0.9M60.8 79.8h0.9M57.3 69.9h0.9M84.0 74.6h0.9M62.6 90.4h0.9M64.2 86.4h0.9M57.3 86.6h0.9M59.6 82.7h0.9M55.0 84.6h0.9M59.4 98.5h0.9M63.2 73.1h0.9M66.5 88.9h0.9M70.8 77.0h0.9M50.2 81.4h0.9M52.8 73.2h0.9M59.8 74.6h0.9M46.7 97.1h0.9M42.7 85.3h0.9M69.3 82.8h0.9M68.0 90.6h0.9M50.7 100.4h0.9M44.3 78.6h0.9M62.2 92.9h0.9M80.3 82.7h0.9M53.6 85.6h0.9M77.6 73.2h0.9M56.7 84.1h0.9M51.0 85.2h0.9M77.4 79.4h0.9M63.4 74.0h0.9M75.2 79.8h0.9M84.7 81.3h0.9M66.9 75.8h0.9M80.6 87.2h0.9M60.3 95.5h0.9M63.4 80.9h0.9M77.9 98.7h0.9M65.6 79.2h0.9M52.0 82.2h0.9M78.4 86.4h0.9M64.8 60.1h0.9M67.3 82.6h0.9M61.4 73.2h0.9M72.7 89.0h0.9M66.3 76.7h0.9M67.4 87.7h0.9M56.7 87.1h0.9M54.9 75.5h0.9M47.6 69.4h0.9M63.6 83.6h0.9M53.4 76.3h0.9M59.9 80.3h0.9M62.9 93.9h0.9M54.4 71.0h0.9M79.2 93.8h0.9M53.9 87.1h0.9M60.4 79.2h0.9M74.0 86.5h0.9M67.0 79.9h0.9M47.6 83.9h0.9M59.0 96.8h0.9M63.4 86.5h0.9M60.2 98.3h0.9M72.0 60.5h0.9M47.5 82.4h0.9M58.7 93.4h0.9M62.0 76.6h0.9M43.3 73.6h0.9M63.1 89.0h0.9M48.6 86.3h0.9M64.5 95.8h0.9M45.5 92.2h0.9M53.1 89.8h0.9M48.5 75.0h0.9M54.3 79.6h0.9M50.9 90.8h0.9M58.5 92.9h0.9M55.0 91.4h0.9M67.5 90.0h0.9M44.9 71.5h0.9M51.2 93.2h0.9M63.3 78.9h0.9M48.2 82.6h0.9M62.1 81.4h0.9M48.5 86.0h0.9M64.4 85.0h0.9M56.6 83.0h0.9M63.2 87.2h0.9M57.3 75.1h0.9M70.7 89.4h0.9M63.3 85.8h0.9M72.1 94.6h0.9M49.9 92.4h0.9M55.9 81.7h0.9M45.2 100.6h0.9M50.8 80.0h0.9M58.1 86.1h0.9M69.6 73.6h0.9M60.1 75.6h0.9M64.9 74.2h0.9M51.3 80.4h0.9M63.6 82.2h0.9M59.2 67.7h0.9M74.1 91.5h0.9M62.3 82.1h0.9M66.4 89.6h0.9M45.6 83.1h0.9M55.7 92.7h0.9M48.9 93.4h0.9M68.8 87.7h0.9M63.4 91.7h0.9M44.6 78.5h0.9M69.6 89.1h0.9M46.2 78.7h0.9M75.6 85.5h0.9M72.8 70.6h0.9M55.3 73.4h0.9M59.5 93.5h0.9M49.6 94.9h0.9M67.5 63.8h0.9M58.3 76.3h0.9M54.7 95.4h0.9M58.6 67.9h0.9M42.7 90.3h0.9M68.6 99.1h0.9M53.3 80.9h0.9M59.7 89.0h0.9M54.7 95.0h0.9M82.7 73.5h0.9M62.7 92.6h0.9M46.4 65.4h0.9M57.0 80.8h0.9M56.2 102.9h0.9M51.0 82.9h0.9M73.0 94.3h0.9M68.0 79.2h0.9M49.7 78.8h0.9M66.1 85.2h0.9M69.9 98.9h0.9M59.7 75.7h0.9M58.5 74.3h0.9M51.8 84.7h0.9M56.6 88.9h0.9M54.7 93.8h0.9M65.6 81.2h0.9M91.5 83.3h0.9M48.1 82.1h0.9M43.4 76.8h0.9M67.0 84.3h0.9M63.2 83.3h0.9M46.6 79.0h0.9M69.8 96.3h0.9M52.8 82.3h0.9M55.3 70.7h0.9M68.2 81.2h0.9M76.4 75.9h0.9M81.5 92.7h0.9M54.8 69.6h0.9M52.9 74.8h0.9M64.8 75.7h0.9M50.3 88.2h0.9M74.7 68.4h0.9M57.4 77.5h0.9M59.9 64.1h0.9M51.5 86.8h0.9M71.8 81.4h0.9M67.9 86.3h0.9M54.5 81.1h0.9M58.8 92.2h0.9M56.5 92.9h0.9M69.5 68.2h0.9M66.4 73.2h0.9M61.1 83.5h0.9M79.4 100.6h0.9M56.0 90.2h0.9M46.4 95.6h0.9M52.2 84.8h0.9M66.3 92.5h0.9M58.6 71.4h0.9M69.0 85.8h0.9M63.9 85.6h0.9M47.8 96.6h0.9M63.2 90.2h0.9M51.3 75.7h0.9M53.5 95.3h0.9M65.3 62.3h0.9M67.6 82.9h0.9M52.2 81.7h0.9M69.0 70.5h0.9M71.9 80.2h0.9M56.5 74.2h0.9M65.6 86.4h0.9M80.0 93.0h0.9M69.1 72.5h0.9M66.7 89.8h0.9M63.4 90.7h0.9M56.0 71.8h0.9M60.7 83.5h0.9M43.5 73.2h0.9M60.2 84.5h0.9M60.4 87.1h0.9M65.5 84.7h0.9M63.7 86.3h0.9M69.2 92.2h0.9M57.0 82.9h0.9M72.0 89.6h0.9M59.9 91.1h0.9M70.5 80.6h0.9M47.2 95.0h0.9M67.7 88.8h0.9M58.5 76.1h0.9M55.8 97.8h0.9M64.3 94.4h0.9M65.2 70.5h0.9M53.1 78.9h0.9M49.0 85.5h0.9M64.9 84.1h0.9M66.5 89.1h0.9M76.7 92.0h0.9M85.1 80.1h0.9M61.9 85.9h0.9M58.6 80.7h0.9M47.5 81.2h0.9M65.0 89.9h0.9M63.3 87.7h0.9M63.7 77.0h0.9M63.0 79.2h0.9M54.0 88.8h0.9M69.5 74.0h0.9M55.5 93.0h0.9M64.6 78.1h0.9M64.8 65.8h0.9M65.1 79.8h0.9M65.0 85.4h0.9M81.4 86.1h0.9M69.5 88.5h0.9M63.9 88.0h0.9M58.4 85.3h0.9M59.6 67.4h0.9M62.0 76.2h0.9M62.3 64.4h0.9M57.1 85.9h0.9M64.8 93.2h0.9M63.8 94.0h0.9M68.0 88.0h0.9M55.4 89.2h0.9M73.1 84.0h0.9M60.8 80.0h0.9M47.5 97.3h0.9M59.1 62.8h0.9M56.3 81.2h0.9M45.4 67.3h0.9M54.1 84.1h0.9M70.7 89.2h0.9M42.4 93.6h0.9M50.0 97.2h0.9M55.8 78.9h0.9M53.7 67.7h0.9M68.3 85.6h0.9M63.5 89.4h0.9M63.0 75.8h0.9M65.3 93.3h0.9M55.2 79.5h0.9M62.1 87.2h0.9M44.2 74.9h0.9M49.1 83.3h0.9M60.6 93.0h0.9M43.4 85.7h0.9M52.6 73.1h0.9M49.9 76.4h0.9M64.9 74.5h0.9M67.7 75.2h0.9M63.2 88.3h0.9M68.8 95.2h0.9M51.8 87.3h0.9M64.7 100.4h0.9M53.2 98.4h0.9M65.0 76.4h0.9M61.9 89.0h0.9M75.0 88.9h0.9M75.6 88.0h0.9M61.4 92.6h0.9M57.8 85.3h0.9M63.0 92.0h0.9M68.8 78.3h0.9M62.1 84.3h0.9M63.0 84.7h0.9" stroke="#000" stroke-width="0.9" opacity="0.6" fill="none"/>
<path d="M92.2 59.6h0.9M79.3 80.8h0.9M81.7 70.7h0.9M88.5 87.9h0.9M100.0 76.9h0.9M87.7 63.1h0.9M89.8 62.4h0.9M85.0 76.7h0.9M89.9 76.6h0.9M92.6 71.3h0.9M90.5 75.7h0.9M92.6 76.5h0.9M93.2 78.1h0.9M96.8 80.4h0.9M86.9 75.8h0.9M86.9 69.7h0.9M78.5 82.9h0.9M94.8 86.2h0.9M83.5 85.9h0.9M89.7 78.0h0.9M89.1 84.5h0.9M95.5 76.4h0.9M104.6 76.7h0.9M76.4 78.6h0.9M83.6 80.0h0.9M92.2 75.7h0.9M98.5 69.2h0.9M89.3 68.2h0.9M81.8 65.0h0.9M85.3 73.7h0.9M81.3 74.2h0.9M88.4 71.7h0.9M94.7 76.0h0.9M91.0 76.4h0.9M78.4 73.1h0.9M74.6 80.9h0.9M83.1 80.3h0.9M90.0 81.4h0.9M80.2 81.1h0.9M89.5 73.3h0.9M72.0 76.6h0.9M82.8 74.1h0.9M84.9 68.9h0.9M92.0 70.2h0.9M86.7 71.7h0.9M89.1 63.3h0.9M78.4 73.3h0.9M83.4 79.8h0.9M89.4 64.9h0.9M87.0 84.2h0.9M86.4 75.7h0.9M75.9 83.5h0.9M96.8 71.2h0.9M84.8 64.8h0.9M86.6 82.5h0.9M73.7 81.6h0.9M91.2 75.6h0.9M84.7 69.6h0.9M88.3 63.1h0.9M87.9 55.3h0.9M87.9 72.8h0.9M87.4 77.4h0.9M78.6 69.7h0.9M92.9 83.3h0.9M78.9 82.2h0.9M76.3 74.7h0.9M94.9 82.7h0.9M75.6 82.2h0.9M86.0 88.0h0.9M79.9 55.0h0.9M92.6 87.0h0.9M91.5 70.0h0.9M92.2 67.4h0.9M87.8 75.3h0.9M85.4 64.2h0.9M89.6 78.9h0.9M83.6 81.1h0.9M87.2 76.0h0.9M84.0 71.2h0.9M81.6 68.4h0.9M88.3 75.1h0.9M87.9 79.8h0.9M92.7 68.2h0.9M84.3 74.3h0.9M81.6 74.3h0.9M94.6 71.4h0.9M87.6 86.0h0.9M85.6 73.3h0.9M90.3 61.6h0.9M98.0 83.8h0.9M86.8 59.0h0.9M86.1 76.5h0.9M83.1 76.5h0.9M91.5 80.3h0.9M82.7 76.7h0.9M76.7 69.1h0.9M78.7 71.8h0.9M91.1 69.6h0.9M88.4 71.4h0.9M82.1 72.4h0.9M79.7 76.0h0.9M96.4 48.2h0.9M78.4 68.9h0.9M91.0 62.9h0.9M76.8 78.1h0.9M81.7 77.7h0.9M87.5 61.7h0.9M87.6 86.9h0.9M72.5 73.0h0.9M90.0 77.8h0.9M85.0 80.5h0.9M92.1 82.2h0.9M93.6 78.7h0.9M85.0 63.3h0.9M89.0 74.3h0.9M91.5 75.4h0.9M97.9 70.0h0.9M96.4 67.6h0.9M81.9 73.7h0.9M82.4 90.4h0.9M80.5 79.5h0.9M90.0 65.6h0.9M84.8 77.6h0.9M80.6 76.4h0.9M81.0 73.9h0.9M95.6 65.0h0.9M98.9 84.5h0.9M86.0 77.6h0.9M83.1 78.5h0.9M78.6 78.7h0.9M103.3 58.6h0.9M80.9 69.4h0.9M89.6 75.1h0.9M86.1 77.0h0.9M92.7 68.0h0.9M83.3 82.0h0.9M75.3 84.7h0.9M86.5 80.2h0.9M90.8 74.2h0.9M101.3 62.8h0.9M86.2 74.5h0.9M86.0 82.8h0.9M84.5 74.6h0.9M88.3 84.0h0.9M81.8 78.2h0.9M92.9 78.7h0.9M89.3 73.3h0.9M82.9 77.8h0.9M87.9 63.3h0.9M89.1 77.1h0.9M88.8 74.8h0.9M84.0 77.3h0.9M90.4 73.5h0.9M89.4 72.1h0.9M86.0 66.3h0.9M76.8 74.1h0.9M92.9 72.8h0.9M84.4 78.2h0.9M94.1 79.7h0.9M99.8 77.8h0.9M98.6 68.4h0.9M87.1 79.3h0.9M83.2 83.0h0.9M87.9 73.6h0.9M90.3 64.1h0.9M72.8 65.1h0.9M103.2 62.6h0.9M79.2 87.7h0.9M94.9 65.1h0.9M93.5 67.5h0.9M97.1 71.3h0.9M86.4 82.7h0.9M94.9 66.6h0.9M91.8 66.0h0.9M96.1 69.0h0.9M89.1 78.6h0.9M95.5 84.5h0.9M89.5 62.5h0.9M90.8 73.9h0.9M80.7 72.5h0.9M80.1 77.1h0.9M98.8 82.1h0.9M77.5 80.4h0.9M89.2 70.0h0.9M84.9 70.7h0.9M82.2 86.8h0.9M87.2 69.5h0.9M85.5 59.9h0.9M88.6 73.1h0.9M83.3 85.3h0.9M83.3 77.5h0.9M91.9 69.6h0.9M76.4 78.9h0.9M80.3 72.3h0.9M92.8 67.1h0.9M79.9 71.0h0.9M81.4 75.6h0.9M86.4 65.0h0.9M94.2 63.3h0.9M92.4 74.8h0.9M79.2 81.7h0.9M83.1 88.3h0.9M86.9 76.9h0.9M76.2 84.2h0.9M81.9 70.7h0.9M91.9 68.9h0.9M66.9 85.0h0.9M89.0 78.1h0.9M82.1 66.4h0.9M77.2 71.4h0.9M84.7 68.0h0.9M81.5 64.0h0.9M92.6 68.0h0.9M97.5 54.5h0.9M86.1 70.1h0.9M84.5 81.8h0.9M70.8 70.9h0.9M78.7 80.3h0.9M91.9 71.1h0.9M93.0 76.0h0.9M89.6 71.6h0.9M84.5 69.9h0.9M99.3 68.2h0.9M96.6 71.1h0.9M102.1 76.9h0.9M92.6 86.8h0.9M83.8 75.0h0.9M85.7 87.4h0.9M83.9 78.7h0.9M82.3 69.2h0.9M83.1 84.1h0.9M89.0 83.1h0.9M86.6 52.1h0.9M91.6 80.5h0.9M74.5 79.5h0.9M87.1 88.0h0.9M87.1 75.4h0.9M91.7 69.5h0.9M92.4 80.2h0.9M89.6 67.3h0.9M97.7 80.6h0.9M76.0 76.6h0.9M89.3 65.2h0.9M79.0 72.1h0.9M99.1 64.8h0.9M82.9 77.1h0.9M89.3 78.0h0.9M88.5 81.6h0.9M88.6 78.7h0.9M93.8 75.6h0.9M90.4 79.5h0.9M92.4 66.4h0.9M85.3 68.2h0.9M90.4 60.3h0.9M90.2 76.4h0.9M90.9 63.8h0.9M88.4 62.6h0.9M81.8 71.1h0.9M99.1 57.6h0.9M95.6 65.6h0.9M88.2 69.4h0.9M80.6 70.6h0.9M88.4 76.4h0.9M75.2 65.5h0.9M86.4 70.6h0.9M85.0 84.7h0.9M87.8 74.3h0.9M88.5 82.1h0.9M95.8 64.0h0.9M93.1 71.3h0.9M95.5 63.7h0.9M97.2 57.5h0.9M90.6 72.2h0.9M101.6 65.4h0.9M79.3 63.1h0.9M85.9 66.3h0.9M71.6 70.5h0.9M82.4 69.1h0.9M88.1 59.5h0.9M86.7 68.4h0.9M82.8 74.4h0.9M90.6 77.2h0.9M87.8 82.8h0.9M78.9 74.0h0.9M76.1 79.9h0.9M95.0 69.2h0.9M89.1 64.1h0.9M83.7 72.3h0.9M70.4 73.7h0.9M88.2 77.7h0.9M98.1 62.3h0.9M74.6 77.3h0.9M77.4 70.8h0.9M78.7 71.7h0.9M92.4 70.3h0.9M77.1 78.9h0.9M82.0 66.7h0.9M80.2 76.8h0.9M88.1 78.9h0.9M85.3 85.7h0.9M95.1 75.6h0.9M84.1 76.8h0.9M84.2 77.9h0.9M93.5 68.0h0.9M91.2 74.0h0.9M101.7 61.7h0.9M84.2 66.9h0.9M83.4 69.8h0.9M85.2 71.0h0.9M104.3 59.8h0.9M90.7 63.8h0.9M81.3 71.9h0.9M92.7 75.6h0.9M90.2 82.4h0.9M85.8 65.7h0.9M83.0 75.8h0.9M88.6 81.4h0.9M86.9 69.1h0.9M97.8 69.0h0.9M84.5 62.4h0.9M89.3 68.0h0.9M89.5 75.8h0.9M80.3 94.1h0.9M89.7 78.3h0.9M77.8 68.0h0.9M82.2 63.9h0.9M91.8 59.3h0.9M94.1 72.2h0.9M80.2 86.8h0.9M91.3 77.7h0.9M88.1 77.6h0.9M87.5 66.7h0.9M84.2 72.2h0.9M71.9 81.2h0.9M85.1 82.2h0.9M78.8 70.2h0.9M75.5 86.0h0.9M86.7 75.2h0.9M90.3 80.2h0.9M88.5 63.9h0.9M87.4 75.8h0.9M78.3 73.1h0.9M90.2 78.4h0.9M84.6 71.9h0.9M90.0 66.4h0.9M76.7 75.3h0.9M71.2 84.5h0.9M98.1 54.3h0.9M87.5 66.5h0.9M91.6 78.0h0.9M94.7 54.9h0.9M81.0 81.4h0.9M85.6 81.7h0.9M78.6 71.5h0.9M79.0 61.8h0.9M85.8 78.2h0.9M82.8 62.1h0.9M80.7 72.5h0.9M92.7 65.3h0.9M89.9 71.9h0.9M75.9 82.4h0.9M82.7 70.9h0.9M84.4 84.5h0.9M86.3 75.3h0.9M94.8 81.4h0.9M94.1 56.4h0.9M84.4 74.6h0.9M77.1 83.1h0.9M89.1 75.2h0.9M80.8 81.6h0.9M96.1 62.7h0.9M98.8 77.4h0.9M93.9 63.5h0.9M85.9 77.9h0.9M81.2 80.7h0.9M84.9 69.4h0.9M81.9 85.0h0.9M72.3 71.9h0.9M87.1 82.9h0.9M78.2 68.2h0.9M76.3 81.6h0.9M75.3 86.6h0.9M91.6 63.0h0.9M80.7 74.8h0.9M90.5 79.7h0.9M100.1 79.8h0.9M93.1 75.3h0.9M83.2 78.3h0.9M80.8 73.8h0.9M91.4 60.8h0.9M98.4 71.0h0.9M94.2 72.8h0.9M101.1 69.0h0.9M80.4 89.1h0.9M92.8 78.2h0.9M81.9 72.9h0.9M72.1 82.0h0.9M83.4 67.4h0.9M89.5 69.6h0.9M86.7 71.2h0.9M76.8 85.0h0.9M79.5 70.0h0.9M88.1 73.0h0.9M88.5 78.3h0.9M88.0 72.2h0.9M76.7 59.6h0.9M93.8 64.8h0.9M85.8 70.7h0.9M104.7 61.3h0.9M86.6 71.5h0.9M90.6 74.3h0.9M88.7 67.2h0.9M87.3 75.3h0.9M88.8 79.4h0.9M91.7 64.9h0.9M75.9 87.7h0.9M77.3 84.9h0.9M100.3 63.4h0.9M89.7 68.5h0.9M91.3 72.1h0.9M79.6 64.2h0.9M86.7 70.8h0.9M84.8 82.5h0.9M87.7 77.9h0.9M76.3 75.7h0.9M88.9 63.2h0.9M91.5 71.2h0.9M89.2 73.4h0.9M90.4 72.9h0.9M85.8 74.5h0.9M80.4 80.8h0.9M100.2 67.3h0.9M85.6 65.7h0.9M79.1 68.9h0.9M94.0 73.9h0.9M89.8 62.6h0.9M95.8 69.0h0.9M86.8 66.6h0.9M85.8 63.9h0.9M91.9 81.0h0.9M93.3 64.9h0.9M85.1 61.9h0.9M90.5 66.7h0.9M78.4 80.5h0.9M88.8 68.6h0.9M90.6 69.9h0.9M85.4 63.8h0.9M70.7 87.9h0.9M78.0 86.5h0.9M90.5 74.2h0.9M81.4 79.5h0.9M84.7 67.8h0.9M76.8 66.0h0.9M97.4 74.1h0.9M78.1 72.3h0.9M78.3 78.1h0.9M89.0 70.3h0.9M86.6 76.9h0.9M79.5 80.5h0.9M71.6 82.2h0.9M103.1 54.2h0.9M93.4 84.0h0.9M95.9 85.1h0.9M74.3 84.6h0.9M83.4 82.3h0.9M77.4 67.5h0.9M88.8 72.4h0.9M93.5 71.7h0.9M80.6 76.9h0.9M96.8 78.0h0.9M96.3 70.1h0.9M86.0 79.2h0.9M74.0 63.5h0.9M73.4 82.1h0.9M84.7 81.4h0.9M76.3 80.0h0.9M81.9 62.4h0.9M82.5 72.4h0.9M101.6 70.0h0.9M90.1 75.2h0.9M94.3 72.2h0.9M89.8 71.2h0.9M94.4 78.9h0.9M67.7 68.9h0.9M89.8 58.7h0.9M94.2 81.9h0.9M80.7 89.1h0.9M84.0 78.1h0.9M78.5 79.0h0.9M84.5 59.1h0.9M90.0 65.5h0.9M93.9 63.7h0.9M94.0 56.5h0.9M88.7 83.1h0.9M80.3 89.3h0.9M79.7 78.2h0.9M92.4 74.7h0.9M71.0 90.0h0.9M84.0 78.4h0.9M88.6 66.5h0.9" stroke="#000" stroke-width="0.9" opacity="0.5" fill="none"/>
<path d="M72.3 97.5h0.9M94.9 70.2h0.9M93.8 77.9h0.9M69.4 77.0h0.9M89.9 44.0h0.9M84.2 98.8h0.9M97.7 56.7h0.9M59.8 59.0h0.9M68.9 59.5h0.9M78.8 80.1h0.9M86.2 57.2h0.9M81.3 88.8h0.9M66.6 52.0h0.9M89.7 47.1h0.9M97.1 85.4h0.9M93.5 36.0h0.9M71.3 41.5h0.9M71.1 37.5h0.9M65.5 94.2h0.9M92.3 83.8h0.9M83.6 93.0h0.9M57.1 99.6h0.9M75.3 85.9h0.9M47.0 101.5h0.9M45.0 82.8h0.9M85.3 49.1h0.9M51.3 36.8h0.9M59.0 38.7h0.9M98.1 45.3h0.9M64.8 45.9h0.9M81.9 92.1h0.9M69.5 53.2h0.9M85.3 91.7h0.9M95.8 77.3h0.9M88.4 91.1h0.9M47.1 78.6h0.9M94.5 69.0h0.9M80.9 88.5h0.9M57.6 54.3h0.9M58.3 41.7h0.9M49.4 88.8h0.9M74.7 38.7h0.9M89.5 101.9h0.9M46.6 74.1h0.9M62.9 42.9h0.9M49.0 75.9h0.9M60.6 98.8h0.9M46.7 56.8h0.9M72.6 54.5h0.9M53.8 89.6h0.9M73.0 42.9h0.9M74.9 102.9h0.9M91.5 65.4h0.9M72.8 92.2h0.9M83.2 85.6h0.9M69.2 74.6h0.9M47.4 57.7h0.9M91.5 58.5h0.9M44.9 73.6h0.9M46.2 53.3h0.9M52.1 50.6h0.9M84.1 39.5h0.9M53.1 99.7h0.9M73.8 83.3h0.9M72.0 62.2h0.9M47.8 56.2h0.9M54.1 78.5h0.9M98.1 102.1h0.9M50.6 98.2h0.9M46.3 54.6h0.9M72.1 69.0h0.9M52.7 51.1h0.9M98.1 48.4h0.9M58.8 82.4h0.9M44.4 56.6h0.9M85.2 82.9h0.9M64.8 52.7h0.9M61.1 73.3h0.9M98.5 95.1h0.9M81.5 93.7h0.9M45.8 75.7h0.9M71.0 49.4h0.9M65.1 87.1h0.9M58.3 83.0h0.9M78.7 101.9h0.9M47.6 87.3h0.9M42.2 65.7h0.9M52.3 77.0h0.9M95.9 76.9h0.9M64.9 90.4h0.9M44.2 67.8h0.9M82.3 81.0h0.9M87.4 83.6h0.9M94.4 87.4h0.9M57.3 93.4h0.9M74.4 99.1h0.9M55.2 66.4h0.9" stroke="#000" stroke-width="0.9" opacity="0.45" fill="none"/>
<path d="M76.3 53.4h0.9M46.1 48.4h0.9M56.8 55.8h0.9M55.7 42.6h0.9M46.3 52.5h0.9M55.3 55.3h0.9M53.0 43.1h0.9M83.3 49.5h0.9M63.9 57.4h0.9M79.6 54.4h0.9M70.4 56.0h0.9M75.3 47.7h0.9M60.9 42.6h0.9M80.6 51.3h0.9M66.3 57.3h0.9M65.4 41.9h0.9M71.4 55.6h0.9M46.6 49.9h0.9M67.8 56.2h0.9M58.3 57.8h0.9M48.6 51.5h0.9M48.0 50.1h0.9M75.1 44.8h0.9M46.8 50.1h0.9M79.0 48.9h0.9M43.9 48.3h0.9M44.8 51.0h0.9M56.8 58.8h0.9M47.9 54.7h0.9M82.5 49.8h0.9M48.5 47.9h0.9M68.2 56.2h0.9M75.7 57.1h0.9M52.9 44.7h0.9M44.3 46.9h0.9M43.0 48.9h0.9M49.7 44.5h0.9M76.2 53.9h0.9M78.3 53.9h0.9M59.2 56.8h0.9M58.9 57.3h0.9M59.7 44.0h0.9M73.1 46.1h0.9M48.4 46.5h0.9M67.0 43.5h0.9M67.1 44.3h0.9M50.4 53.4h0.9M49.5 46.9h0.9M69.7 42.5h0.9M82.1 48.6h0.9M68.1 44.6h0.9M49.6 52.7h0.9M74.5 54.3h0.9M62.5 57.6h0.9M46.1 48.0h0.9M66.1 56.6h0.9M61.5 42.3h0.9M60.4 58.1h0.9M49.1 51.9h0.9M50.6 53.2h0.9M79.7 50.3h0.9M49.4 52.7h0.9M53.9 42.2h0.9M76.8 49.3h0.9M62.3 43.8h0.9M59.9 44.0h0.9M72.3 43.5h0.9M46.0 54.1h0.9M63.5 57.4h0.9M65.2 59.4h0.9M76.4 55.3h0.9M75.5 53.8h0.9M72.8 45.9h0.9M80.0 47.2h0.9M69.7 44.9h0.9M64.7 56.6h0.9M79.6 52.9h0.9M61.5 42.0h0.9M43.1 46.6h0.9M48.0 45.7h0.9M50.6 53.2h0.9M50.8 46.0h0.9M62.1 42.1h0.9M47.7 50.1h0.9M45.9 52.5h0.9M49.0 51.8h0.9M77.3 52.5h0.9M50.0 55.1h0.9M49.3 54.3h0.9M61.9 58.0h0.9M56.8 42.7h0.9M68.4 43.7h0.9M45.4 54.9h0.9M61.4 43.0h0.9M47.8 48.9h0.9M56.3 56.7h0.9M77.6 52.2h0.9M56.7 55.9h0.9M76.2 45.8h0.9M71.8 44.4h0.9M76.4 48.8h0.9M67.9 41.9h0.9M53.5 45.0h0.9M79.1 53.7h0.9M75.7 53.7h0.9M71.7 44.7h0.9M73.0 56.1h0.9M73.1 55.4h0.9M78.0 47.1h0.9M45.1 53.6h0.9M76.1 54.5h0.9M64.4 56.5h0.9M63.5 57.1h0.9M75.9 53.9h0.9M48.1 49.0h0.9M55.8 55.8h0.9M75.3 54.0h0.9M47.5 51.9h0.9M50.4 46.2h0.9M54.7 58.3h0.9M52.7 56.9h0.9M54.9 55.1h0.9M82.7 48.8h0.9M72.6 46.1h0.9M55.7 55.4h0.9M61.7 42.1h0.9M71.2 45.6h0.9M55.1 43.3h0.9M58.1 43.7h0.9M75.4 53.9h0.9M68.3 44.5h0.9M76.2 53.1h0.9M77.2 50.4h0.9M66.6 56.6h0.9M64.9 56.8h0.9M48.2 50.8h0.9M51.4 53.7h0.9M72.9 55.1h0.9M71.3 57.2h0.9M82.7 49.5h0.9M68.1 59.3h0.9M76.9 52.2h0.9M55.8 55.9h0.9M75.7 53.5h0.9M54.7 42.0h0.9M48.2 50.5h0.9M70.3 44.8h0.9M62.8 56.6h0.9M79.6 53.4h0.9M42.5 46.2h0.9M78.4 50.9h0.9M82.2 53.2h0.9M62.3 41.6h0.9M45.3 52.1h0.9M59.0 43.8h0.9M53.4 54.6h0.9M72.0 44.0h0.9M49.0 47.3h0.9M55.4 55.8h0.9M53.8 56.0h0.9M54.4 44.7h0.9M58.8 56.8h0.9M53.9 57.8h0.9M78.5 48.3h0.9M65.8 59.1h0.9M56.0 42.5h0.9M70.4 56.0h0.9M67.3 56.7h0.9M57.0 43.3h0.9M51.1 54.1h0.9M43.2 51.7h0.9M64.7 59.0h0.9M75.5 47.7h0.9M60.0 44.0h0.9M62.5 57.5h0.9M51.3 55.3h0.9M60.0 58.2h0.9M66.7 44.2h0.9M48.6 43.7h0.9M55.6 55.6h0.9M44.9 47.4h0.9M65.6 42.8h0.9M62.8 58.0h0.9M49.4 53.9h0.9M48.8 53.3h0.9M44.7 46.4h0.9M77.4 52.8h0.9M54.9 55.5h0.9M66.1 56.4h0.9M71.9 55.4h0.9M52.0 56.1h0.9M64.2 57.5h0.9M55.0 44.5h0.9M74.3 54.7h0.9M71.0 44.3h0.9M73.0 46.0h0.9M77.4 48.9h0.9M74.3 55.1h0.9M76.4 53.7h0.9M76.8 49.2h0.9M75.0 54.4h0.9M75.2 56.4h0.9M67.9 57.8h0.9M47.3 43.9h0.9M67.9 43.3h0.9M80.8 54.7h0.9M49.7 56.3h0.9M47.3 55.4h0.9M77.6 48.7h0.9M48.7 44.1h0.9M46.0 51.1h0.9M51.4 54.2h0.9M53.1 54.7h0.9M61.8 56.8h0.9M58.4 42.9h0.9M72.1 57.2h0.9M48.5 47.6h0.9M65.3 44.2h0.9M47.4 49.0h0.9M48.4 51.8h0.9M52.7 44.9h0.9M80.5 54.5h0.9M79.4 55.2h0.9M74.5 54.3h0.9M58.5 56.2h0.9M50.1 53.1h0.9M54.1 57.8h0.9M49.9 57.2h0.9M57.2 43.4h0.9M67.2 44.5h0.9M60.9 44.0h0.9M58.5 43.6h0.9M78.3 53.0h0.9M55.0 55.2h0.9M48.5 53.7h0.9M52.4 45.3h0.9M45.5 52.6h0.9M50.6 46.1h0.9M67.3 43.0h0.9M46.6 45.9h0.9M63.8 56.5h0.9M75.1 47.5h0.9M72.4 45.3h0.9M48.1 50.3h0.9M62.4 43.6h0.9M78.6 54.2h0.9M47.0 44.4h0.9M50.1 45.9h0.9M76.2 48.4h0.9M60.2 44.0h0.9M77.2 51.7h0.9M47.8 49.7h0.9M83.2 48.6h0.9M76.5 57.8h0.9M54.4 44.1h0.9M49.5 56.1h0.9M44.6 53.9h0.9M75.3 47.6h0.9M70.0 45.1h0.9M51.0 56.0h0.9M56.0 44.3h0.9M60.2 56.4h0.9M48.1 47.3h0.9M68.3 56.3h0.9M65.9 44.2h0.9M71.8 55.4h0.9M77.5 54.0h0.9M79.2 51.9h0.9M70.1 44.8h0.9M57.0 43.8h0.9M55.0 44.3h0.9M80.0 46.7h0.9M58.7 44.0h0.9M76.7 52.5h0.9M81.3 55.0h0.9M76.5 53.0h0.9M74.1 54.8h0.9M74.1 54.9h0.9M61.5 57.7h0.9M54.8 56.7h0.9M44.0 46.3h0.9M48.2 50.8h0.9M61.5 42.2h0.9M50.0 52.8h0.9M83.6 50.8h0.9M59.5 42.2h0.9M82.5 51.3h0.9M49.3 52.7h0.9M57.9 56.0h0.9M65.4 44.1h0.9M76.3 53.2h0.9M75.5 45.4h0.9M51.3 45.1h0.9M77.0 44.9h0.9M55.0 55.3h0.9M75.5 47.9h0.9M76.0 53.2h0.9M59.3 42.0h0.9M74.9 55.3h0.9M79.1 46.3h0.9M57.0 55.7h0.9M51.5 45.4h0.9M56.3 57.1h0.9M53.0 44.4h0.9M45.8 51.3h0.9M61.7 58.3h0.9M75.6 53.7h0.9M75.5 47.8h0.9M43.6 50.7h0.9M53.0 54.9h0.9M65.1 42.6h0.9M57.0 41.0h0.9M69.3 45.0h0.9M64.2 44.0h0.9M79.1 44.9h0.9M66.4 44.2h0.9M49.9 43.0h0.9M66.0 43.4h0.9M76.9 47.2h0.9M69.2 56.0h0.9M50.9 53.4h0.9M45.2 50.9h0.9M55.7 42.9h0.9M65.1 56.6h0.9M46.4 46.8h0.9M47.4 55.0h0.9M69.8 55.9h0.9M65.0 56.8h0.9M81.8 49.0h0.9M64.6 56.4h0.9M65.1 56.6h0.9M50.4 55.2h0.9M79.7 55.4h0.9M56.8 57.4h0.9M74.9 47.4h0.9M50.5 53.7h0.9M49.0 47.3h0.9M48.1 49.1h0.9M70.6 45.0h0.9M59.5 43.8h0.9M55.4 42.8h0.9M52.6 55.1h0.9M47.7 49.3h0.9M77.8 53.0h0.9M72.5 55.4h0.9M48.1 48.1h0.9M71.0 43.9h0.9M50.5 53.2h0.9M75.6 53.5h0.9M60.5 44.0h0.9M53.7 55.0h0.9M54.3 55.5h0.9M80.8 46.1h0.9M76.5 48.8h0.9M79.9 50.7h0.9M76.9 52.1h0.9M62.2 42.9h0.9M78.3 53.1h0.9M55.2 43.2h0.9M48.7 53.7h0.9M53.0 45.1h0.9M73.8 54.8h0.9M72.9 55.5h0.9M56.8 43.6h0.9M47.7 47.0h0.9M73.2 56.4h0.9M51.5 45.1h0.9M55.4 44.4h0.9M45.9 47.4h0.9M58.4 44.1h0.9M72.9 55.0h0.9M77.6 48.9h0.9M71.5 55.8h0.9M75.2 54.1h0.9M49.7 46.5h0.9M71.3 43.4h0.9M72.5 44.9h0.9M48.9 51.7h0.9M51.6 53.9h0.9M57.6 43.8h0.9M73.9 54.7h0.9M55.0 44.2h0.9M77.9 52.3h0.9M77.0 51.9h0.9M49.6 46.3h0.9M48.2 46.7h0.9M50.8 54.0h0.9M62.2 57.3h0.9M70.4 45.0h0.9M52.6 45.0h0.9M60.4 56.6h0.9M74.0 57.1h0.9M55.7 41.7h0.9M78.1 49.0h0.9M66.4 42.8h0.9M65.4 56.9h0.9M75.5 55.8h0.9M50.8 45.4h0.9M75.9 54.4h0.9M67.2 43.2h0.9M79.5 55.6h0.9M56.9 55.8h0.9M79.7 56.4h0.9M78.7 52.4h0.9M63.7 56.4h0.9M59.6 56.5h0.9M58.6 41.1h0.9M47.9 49.5h0.9M76.2 46.0h0.9M47.8 54.6h0.9M45.8 49.3h0.9M53.7 44.1h0.9M51.9 54.0h0.9M62.5 43.8h0.9M70.2 41.8h0.9M77.2 44.3h0.9M66.2 56.4h0.9M47.7 51.4h0.9M47.7 51.8h0.9M69.0 44.9h0.9M63.6 56.4h0.9M61.6 56.4h0.9M59.5 44.0h0.9M71.2 45.5h0.9M68.9 44.8h0.9M80.3 53.9h0.9M48.5 51.3h0.9M51.0 55.2h0.9M65.7 42.5h0.9M43.0 52.6h0.9M65.6 56.5h0.9M79.2 51.7h0.9M76.3 48.6h0.9M73.2 46.4h0.9M45.3 46.5h0.9M51.5 42.9h0.9M42.9 46.0h0.9M48.9 56.5h0.9M57.5 56.0h0.9M46.7 49.1h0.9M55.4 58.6h0.9M46.5 46.6h0.9M47.9 50.2h0.9M48.8 51.8h0.9M77.2 53.2h0.9M64.5 43.9h0.9M60.3 41.8h0.9M70.6 44.4h0.9M68.7 56.8h0.9M48.1 50.8h0.9M51.2 44.7h0.9M59.8 43.4h0.9M47.3 50.5h0.9M48.1 51.4h0.9M78.7 50.0h0.9M48.0 52.0h0.9M77.0 49.9h0.9M48.2 50.6h0.9M61.7 56.4h0.9M52.2 54.6h0.9M61.4 41.2h0.9M65.0 43.9h0.9M62.1 41.1h0.9M48.0 48.6h0.9M63.8 43.8h0.9M60.3 58.6h0.9M67.0 56.9h0.9M65.8 44.2h0.9M77.5 54.0h0.9M75.9 53.4h0.9M75.6 54.9h0.9M51.4 54.0h0.9M74.5 54.5h0.9M68.4 56.2h0.9M58.2 43.4h0.9M74.2 56.5h0.9M45.0 51.2h0.9M49.9 46.5h0.9M76.7 48.6h0.9M55.2 55.3h0.9M76.3 55.4h0.9M70.5 41.9h0.9M69.0 57.2h0.9M65.2 42.9h0.9M71.7 55.5h0.9M77.9 51.6h0.9M72.6 45.7h0.9M53.0 43.3h0.9M74.3 54.4h0.9M61.6 57.1h0.9M66.9 43.9h0.9M76.2 55.5h0.9M75.8 45.8h0.9M73.6 54.8h0.9M47.9 47.7h0.9M69.7 57.9h0.9M48.2 47.5h0.9M68.7 56.1h0.9M77.9 56.9h0.9M52.7 54.4h0.9M59.0 43.4h0.9M48.3 48.4h0.9M45.0 46.6h0.9M47.8 48.9h0.9M49.5 46.9h0.9M72.2 56.1h0.9M48.5 51.4h0.9M75.7 54.3h0.9M79.3 56.4h0.9M64.0 56.4h0.9M76.9 52.1h0.9M71.3 56.0h0.9M50.5 53.2h0.9M82.1 52.3h0.9M77.1 50.0h0.9M77.6 45.2h0.9M60.9 44.0h0.9M61.4 56.4h0.9M52.8 45.2h0.9M68.6 56.1h0.9M77.7 50.6h0.9M59.5 43.8h0.9M50.2 53.0h0.9M48.3 51.1h0.9M50.8 53.7h0.9M72.1 45.9h0.9M48.5 43.2h0.9M77.0 55.9h0.9M74.5 54.3h0.9M67.0 44.3h0.9M58.5 56.1h0.9M46.8 52.5h0.9M48.9 44.6h0.9M58.4 56.0h0.9M63.2 43.0h0.9M58.8 44.0h0.9M75.4 53.7h0.9M49.3 46.1h0.9M76.0 48.2h0.9M55.1 44.5h0.9M65.6 58.4h0.9M59.8 57.6h0.9M74.3 44.8h0.9M65.5 44.2h0.9M61.0 56.9h0.9M48.0 49.3h0.9M51.9 56.6h0.9M69.5 44.2h0.9M76.6 53.6h0.9M77.2 52.1h0.9M79.3 51.0h0.9M64.2 56.4h0.9M64.2 58.0h0.9M74.1 43.4h0.9M77.2 46.1h0.9M50.7 46.1h0.9M69.9 57.9h0.9M63.1 59.0h0.9M70.8 58.9h0.9M77.2 51.0h0.9M77.0 51.9h0.9M48.0 51.7h0.9M49.6 46.5h0.9M72.0 55.4h0.9M79.7 52.1h0.9M68.0 56.3h0.9M74.6 54.9h0.9M77.6 54.7h0.9M61.5 58.0h0.9M60.6 59.1h0.9M73.5 54.8h0.9M73.5 55.0h0.9M81.6 53.0h0.9M48.1 50.4h0.9M79.4 54.3h0.9M53.5 44.7h0.9M79.4 46.3h0.9M66.4 56.8h0.9M66.0 58.8h0.9M61.6 42.7h0.9M48.7 47.7h0.9M76.6 53.1h0.9M76.4 48.4h0.9M77.9 52.5h0.9M47.7 47.1h0.9M66.7 56.4h0.9M63.8 43.3h0.9M71.2 55.6h0.9M43.1 47.4h0.9M45.0 50.4h0.9M49.6 52.7h0.9M48.2 50.7h0.9M46.3 51.8h0.9M59.5 56.6h0.9M44.5 51.1h0.9M75.3 57.7h0.9M72.2 55.3h0.9M49.4 46.8h0.9M47.2 50.8h0.9M49.7 46.4h0.9M50.5 45.7h0.9M59.7 57.2h0.9M77.1 50.3h0.9M60.7 58.8h0.9M62.2 56.4h0.9M59.2 57.3h0.9M77.2 52.4h0.9M77.3 50.6h0.9M73.5 44.4h0.9M82.2 49.7h0.9M48.1 51.1h0.9M70.1 45.0h0.9M67.0 44.4h0.9M65.6 56.6h0.9M47.5 47.8h0.9M77.0 53.4h0.9M67.9 44.6h0.9M53.6 54.7h0.9M70.9 44.5h0.9M52.0 45.5h0.9M44.6 45.9h0.9M59.2 58.1h0.9M66.5 43.7h0.9M65.7 56.4h0.9M73.8 56.2h0.9M55.8 56.0h0.9M55.8 44.0h0.9M60.1 42.6h0.9M75.4 54.0h0.9M77.2 47.6h0.9M68.1 58.5h0.9M73.8 46.5h0.9M48.9 47.4h0.9M79.0 50.3h0.9M75.1 54.1h0.9M50.3 46.3h0.9M47.7 50.2h0.9M67.9 56.6h0.9M62.8 43.9h0.9M47.2 50.6h0.9M76.2 44.4h0.9M70.8 45.1h0.9M63.8 56.5h0.9M55.4 55.3h0.9M61.6 56.4h0.9M62.3 41.9h0.9M71.8 44.1h0.9M67.2 44.4h0.9M77.7 51.0h0.9M46.2 43.8h0.9M77.2 52.3h0.9M77.2 50.6h0.9M76.0 46.5h0.9M48.3 56.4h0.9M53.4 55.0h0.9M76.9 56.1h0.9M45.8 47.0h0.9M52.9 44.0h0.9M61.0 43.9h0.9M71.5 55.5h0.9M46.0 47.1h0.9M57.8 43.0h0.9M71.5 42.7h0.9M77.1 51.7h0.9M47.9 50.0h0.9M55.8 58.2h0.9M48.2 47.6h0.9M45.8 47.5h0.9M46.5 54.6h0.9M78.2 49.3h0.9M52.9 45.1h0.9M54.4 57.1h0.9M82.5 48.0h0.9M52.7 55.9h0.9M66.0 44.2h0.9M62.7 43.6h0.9M72.1 55.6h0.9M53.8 54.8h0.9M63.6 57.0h0.9M81.3 48.8h0.9M47.6 52.2h0.9M76.6 45.6h0.9M51.0 45.2h0.9M64.5 44.1h0.9M64.0 56.5h0.9M51.8 53.9h0.9M70.9 43.8h0.9M58.9 43.7h0.9M76.1 48.0h0.9M66.6 41.8h0.9M55.2 43.8h0.9M55.6 43.9h0.9M60.1 56.2h0.9M74.1 57.0h0.9M50.5 46.2h0.9M48.6 45.5h0.9M72.9 46.0h0.9M62.0 56.7h0.9M62.6 57.8h0.9M79.5 47.4h0.9M48.1 50.2h0.9M45.5 50.0h0.9M53.4 44.2h0.9M78.7 51.4h0.9M68.2 56.3h0.9M78.0 47.1h0.9M76.4 57.1h0.9M77.2 47.9h0.9M75.6 48.0h0.9M81.7 54.5h0.9M44.9 48.4h0.9M57.7 55.9h0.9M55.3 44.2h0.9M79.1 47.9h0.9M56.4 56.5h0.9M72.0 55.6h0.9M77.1 48.3h0.9M66.0 41.8h0.9M50.7 55.0h0.9M73.0 44.9h0.9M47.5 48.4h0.9M74.0 54.6h0.9M51.8 54.0h0.9M62.0 43.4h0.9M56.6 55.6h0.9M52.9 44.1h0.9M71.8 58.7h0.9M66.2 43.4h0.9M66.8 57.1h0.9M53.8 55.8h0.9M65.1 43.8h0.9M67.2 56.5h0.9M45.9 51.4h0.9M68.6 44.4h0.9M53.5 44.9h0.9M75.3 53.9h0.9M74.6 54.7h0.9M65.6 42.6h0.9M76.3 53.0h0.9M71.7 56.7h0.9M80.4 54.3h0.9M67.5 56.3h0.9M49.3 44.1h0.9M56.6 56.8h0.9M80.4 52.4h0.9M54.5 44.7h0.9M49.8 46.3h0.9M45.6 47.2h0.9M51.0 45.9h0.9M52.3 44.6h0.9M68.0 57.2h0.9M78.0 51.6h0.9M49.9 53.7h0.9M77.1 51.6h0.9M49.8 52.6h0.9M70.0 44.8h0.9M74.0 54.8h0.9M56.6 43.8h0.9M49.7 45.0h0.9M73.4 44.4h0.9M48.0 48.4h0.9M55.7 42.6h0.9M64.9 41.3h0.9M51.7 45.6h0.9M67.2 58.2h0.9M76.1 48.3h0.9M48.1 50.4h0.9M65.3 56.8h0.9M75.2 43.5h0.9M49.2 43.4h0.9M51.6 54.3h0.9M62.0 43.9h0.9M47.6 50.6h0.9M53.0 43.3h0.9M73.2 46.4h0.9M78.0 51.8h0.9M63.1 44.0h0.9M77.7 47.4h0.9M70.5 44.4h0.9M81.1 51.1h0.9M49.2 52.3h0.9M63.3 56.9h0.9M53.2 54.5h0.9M79.5 52.7h0.9M53.9 44.5h0.9M72.3 55.3h0.9M72.6 45.9h0.9M83.0 50.9h0.9M49.3 52.3h0.9M62.9 43.4h0.9M59.3 56.2h0.9M83.6 50.9h0.9M75.6 47.9h0.9M55.5 44.5h0.9M48.5 48.0h0.9M83.6 52.4h0.9M77.5 50.0h0.9M81.5 51.4h0.9M75.7 48.0h0.9M47.9 50.2h0.9M81.7 50.8h0.9M50.3 53.7h0.9M54.4 55.0h0.9M51.1 43.8h0.9M61.3 42.2h0.9M47.4 45.7h0.9M77.2 52.1h0.9M71.3 58.1h0.9M50.3 53.0h0.9M54.0 56.5h0.9M53.0 43.9h0.9M77.8 49.4h0.9M51.9 44.9h0.9M47.8 46.0h0.9M80.0 54.1h0.9M57.2 56.9h0.9M70.3 42.2h0.9M71.6 43.2h0.9M72.0 57.6h0.9M56.1 41.4h0.9M71.8 45.8h0.9M79.0 47.7h0.9M46.8 50.9h0.9M45.7 54.7h0.9M75.9 53.6h0.9M58.2 57.2h0.9M76.3 54.7h0.9M48.0 47.9h0.9M65.9 58.1h0.9M77.0 45.5h0.9M70.5 57.4h0.9M78.6 53.5h0.9M74.9 47.4h0.9M50.7 45.4h0.9M49.1 45.0h0.9M52.4 43.4h0.9M81.4 54.1h0.9M75.6 53.6h0.9M55.9 55.7h0.9M44.4 52.4h0.9M47.0 49.2h0.9M61.1 43.9h0.9M50.5 46.2h0.9M45.7 50.0h0.9M66.3 44.3h0.9M48.1 47.3h0.9M76.9 53.2h0.9M47.4 49.3h0.9M52.2 54.6h0.9M51.5 54.9h0.9M67.4 57.8h0.9M57.1 41.9h0.9M65.4 56.9h0.9M76.7 57.3h0.9M54.7 44.6h0.9M67.5 44.6h0.9M75.1 47.5h0.9M64.6 56.5h0.9M78.4 51.3h0.9M77.4 50.2h0.9M63.7 56.4h0.9M53.7 54.8h0.9M74.5 47.1h0.9M54.9 44.5h0.9M51.2 45.8h0.9M61.3 43.9h0.9M70.4 56.3h0.9M48.5 51.1h0.9M65.4 56.5h0.9M51.3 45.8h0.9M52.4 43.8h0.9M44.7 48.3h0.9M63.6 41.0h0.9M73.2 57.5h0.9M43.9 50.9h0.9M77.3 51.3h0.9M63.6 58.5h0.9M74.5 54.5h0.9M57.1 56.9h0.9M75.4 47.1h0.9M76.3 47.2h0.9M57.5 57.9h0.9M48.9 47.4h0.9M59.1 58.5h0.9M62.9 57.2h0.9M48.1 50.2h0.9M77.1 48.3h0.9M80.5 46.2h0.9M74.2 46.9h0.9M75.9 48.3h0.9M71.6 45.7h0.9M72.9 57.2h0.9M77.3 51.6h0.9M55.6 55.7h0.9M77.2 53.4h0.9M63.8 56.6h0.9M67.6 56.3h0.9M46.8 49.2h0.9M78.0 48.0h0.9M56.9 44.1h0.9M56.0 42.4h0.9M46.9 50.9h0.9M71.7 45.7h0.9M54.5 43.4h0.9M77.5 49.8h0.9M78.2 53.4h0.9M51.7 56.1h0.9M54.1 44.8h0.9M54.4 55.3h0.9M51.1 54.1h0.9M52.1 54.2h0.9M69.1 44.9h0.9M64.9 56.6h0.9M61.3 43.9h0.9M66.4 56.4h0.9M52.6 45.1h0.9M49.5 46.6h0.9M68.5 57.3h0.9M49.3 45.3h0.9M70.7 56.0h0.9M47.4 46.6h0.9M57.5 44.1h0.9M60.8 56.7h0.9M63.4 56.6h0.9M61.6 56.4h0.9M77.0 52.6h0.9M44.9 46.2h0.9M49.6 44.7h0.9M75.6 47.8h0.9M78.8 56.0h0.9M54.3 56.4h0.9M83.6 49.9h0.9M48.6 47.7h0.9M46.4 50.3h0.9M46.8 52.5h0.9M48.6 47.9h0.9M65.0 43.9h0.9M80.0 53.8h0.9M43.5 50.7h0.9M75.6 53.6h0.9M74.4 54.6h0.9M51.4 53.8h0.9M71.0 56.6h0.9M66.5 56.4h0.9M44.4 51.9h0.9M74.2 45.5h0.9M76.6 49.0h0.9M44.4 49.7h0.9M63.3 56.4h0.9M44.6 46.9h0.9M54.4 55.0h0.9M70.8 44.8h0.9M76.7 49.2h0.9M77.4 51.6h0.9M76.9 52.4h0.9M57.6 41.2h0.9M79.9 49.6h0.9M60.3 58.2h0.9M50.1 44.0h0.9M77.1 51.6h0.9M62.3 43.3h0.9M47.6 49.5h0.9M77.6 50.1h0.9M76.3 48.7h0.9M75.4 56.1h0.9M66.6 56.5h0.9M52.1 45.4h0.9M71.3 55.6h0.9M48.6 44.8h0.9M65.5 42.0h0.9M48.3 48.3h0.9M48.7 51.7h0.9M78.5 50.4h0.9M74.8 45.4h0.9M61.8 43.5h0.9M52.2 43.5h0.9M71.7 57.5h0.9M66.5 56.7h0.9M52.1 43.8h0.9M61.7 42.5h0.9M55.5 55.3h0.9M47.3 47.6h0.9M57.0 55.8h0.9M73.1 46.2h0.9M42.6 50.6h0.9M58.0 58.4h0.9M69.4 45.0h0.9M46.3 53.8h0.9M62.9 42.5h0.9M62.9 56.7h0.9M50.0 46.1h0.9M51.5 54.1h0.9M69.3 58.5h0.9M55.3 44.1h0.9M63.0 43.5h0.9M49.3 45.3h0.9M48.3 50.8h0.9M62.0 44.0h0.9M76.0 55.8h0.9M77.5 52.2h0.9M66.1 58.1h0.9M61.2 42.0h0.9M48.7 47.8h0.9M57.1 55.8h0.9M56.5 44.1h0.9M50.5 56.5h0.9M53.8 54.9h0.9M65.8 43.9h0.9M79.3 50.1h0.9M83.6 50.7h0.9M59.5 56.3h0.9M45.5 44.0h0.9M65.2 58.1h0.9M69.8 57.9h0.9M64.7 56.9h0.9M61.1 42.6h0.9M64.2 44.1h0.9M46.7 52.0h0.9M56.7 55.9h0.9M57.6 55.9h0.9M52.1 57.0h0.9M68.5 44.8h0.9M50.1 53.4h0.9M64.4 57.0h0.9M74.6 43.2h0.9M71.5 56.7h0.9M76.3 48.6h0.9M49.1 53.6h0.9M67.7 42.8h0.9M45.2 48.7h0.9M57.8 43.4h0.9M54.8 44.5h0.9M49.5 46.3h0.9M80.8 47.7h0.9M49.1 47.3h0.9M47.5 47.4h0.9M65.3 44.1h0.9M48.2 50.9h0.9M52.3 54.2h0.9M54.0 44.7h0.9M44.1 52.3h0.9M70.7 59.2h0.9M46.5 45.4h0.9M49.8 56.9h0.9M48.0 49.0h0.9M74.1 43.1h0.9M77.1 49.8h0.9M77.3 50.8h0.9M75.2 54.2h0.9M75.7 47.4h0.9M82.0 49.6h0.9M45.6 53.2h0.9M51.8 53.9h0.9M44.4 51.1h0.9M76.0 55.1h0.9M54.4 41.4h0.9M63.0 57.5h0.9M66.5 56.7h0.9M47.3 51.0h0.9M73.1 43.1h0.9M75.6 53.6h0.9M42.9 46.2h0.9M76.7 48.0h0.9M72.8 46.2h0.9M74.4 57.6h0.9M59.3 58.1h0.9M77.1 52.3h0.9M65.9 43.9h0.9M76.2 53.4h0.9M51.1 45.6h0.9M72.0 44.4h0.9M55.2 42.3h0.9M71.0 45.5h0.9M51.4 45.7h0.9M76.5 52.7h0.9M70.9 57.9h0.9M74.0 46.8h0.9M72.6 55.7h0.9M53.7 54.7h0.9M49.5 52.8h0.9M61.3 44.0h0.9M77.3 50.8h0.9M65.9 42.5h0.9M73.7 56.2h0.9M78.0 53.8h0.9M47.6 50.1h0.9M71.7 55.6h0.9M51.0 53.4h0.9M51.7 45.2h0.9M43.5 49.4h0.9M53.5 54.8h0.9M50.1 53.0h0.9M77.2 51.0h0.9M66.0 42.9h0.9M72.8 55.1h0.9M48.1 50.4h0.9M60.2 44.0h0.9M78.9 49.7h0.9M57.3 55.8h0.9M69.3 43.8h0.9M62.8 43.2h0.9M78.0 56.7h0.9M77.1 52.4h0.9M76.7 54.0h0.9M79.0 56.2h0.9M57.3 43.3h0.9M79.7 52.9h0.9M64.2 44.1h0.9M45.1 45.0h0.9M76.5 48.0h0.9M57.4 56.9h0.9M76.4 45.6h0.9M76.5 48.3h0.9M50.4 53.8h0.9M44.6 47.6h0.9M69.3 44.5h0.9M74.2 46.0h0.9M52.1 44.5h0.9M66.9 56.6h0.9M77.7 51.8h0.9M69.5 45.0h0.9M67.4 43.0h0.9M52.0 56.7h0.9M57.6 58.6h0.9M71.8 45.8h0.9M50.4 54.8h0.9M70.6 55.7h0.9M53.0 43.7h0.9M83.3 50.8h0.9M51.1 45.1h0.9M75.7 53.5h0.9M67.0 57.1h0.9M53.7 57.2h0.9M79.0 50.3h0.9M66.9 57.2h0.9M57.3 56.3h0.9M76.6 52.8h0.9M56.8 56.1h0.9M73.2 44.9h0.9M57.8 55.9h0.9M62.3 44.0h0.9M81.7 50.9h0.9M72.6 55.3h0.9M61.4 56.6h0.9M52.0 54.0h0.9M77.1 51.7h0.9M78.4 52.5h0.9M76.8 47.6h0.9M77.9 50.5h0.9M46.9 51.8h0.9M75.4 47.7h0.9M65.9 57.1h0.9M50.5 53.2h0.9M56.6 44.2h0.9M58.3 56.2h0.9M55.4 44.4h0.9M50.8 45.7h0.9M78.0 49.7h0.9M70.0 44.0h0.9M54.5 55.0h0.9M48.0 46.1h0.9M47.6 50.0h0.9M48.0 48.8h0.9M48.6 47.9h0.9M47.4 51.0h0.9M76.8 52.3h0.9M71.2 55.6h0.9M62.8 56.6h0.9M83.4 48.7h0.9M76.6 48.0h0.9M55.3 44.0h0.9M79.1 46.3h0.9M66.4 43.7h0.9M50.7 44.6h0.9M60.5 56.5h0.9M67.9 56.2h0.9M76.9 52.2h0.9M76.2 48.5h0.9M54.8 55.9h0.9M77.1 50.2h0.9M77.7 52.2h0.9M48.1 48.4h0.9M76.5 48.9h0.9M78.9 53.4h0.9M77.2 51.0h0.9M64.2 43.4h0.9M58.9 56.4h0.9M81.9 50.0h0.9M67.6 44.3h0.9M59.6 56.2h0.9M76.3 47.9h0.9M63.0 56.8h0.9M72.5 46.0h0.9M70.9 45.4h0.9M55.8 44.4h0.9M48.1 48.4h0.9M55.2 57.2h0.9M69.8 56.1h0.9M46.9 52.6h0.9M71.3 55.6h0.9M46.5 44.8h0.9M61.7 43.6h0.9M51.6 53.8h0.9M48.2 52.1h0.9M61.4 42.9h0.9M52.2 54.3h0.9M74.3 54.4h0.9M74.0 46.6h0.9M71.7 56.5h0.9M76.1 53.1h0.9M63.2 57.0h0.9M73.6 44.3h0.9M63.6 43.0h0.9M76.2 56.1h0.9M51.8 43.5h0.9M76.4 44.8h0.9M76.8 48.4h0.9M46.0 47.6h0.9M77.3 44.3h0.9M51.4 55.3h0.9M84.0 53.0h0.9M73.9 58.2h0.9M60.6 56.5h0.9M76.6 52.5h0.9M77.2 49.6h0.9M77.2 51.0h0.9M74.2 46.9h0.9M47.5 48.2h0.9M43.4 52.8h0.9M52.6 57.5h0.9M47.3 46.4h0.9M76.9 57.6h0.9M64.9 44.0h0.9M54.3 55.0h0.9M69.5 42.4h0.9M78.4 56.0h0.9M59.8 56.3h0.9M71.4 43.9h0.9M66.3 44.3h0.9M51.5 42.2h0.9M49.5 46.7h0.9M77.2 50.4h0.9M51.7 41.8h0.9M56.4 55.6h0.9M67.2 56.4h0.9M42.5 53.1h0.9M76.8 48.1h0.9M69.6 56.2h0.9M74.2 45.7h0.9M63.6 44.0h0.9M69.4 56.0h0.9M77.7 51.5h0.9M80.9 54.6h0.9M42.8 48.1h0.9M61.9 58.3h0.9M59.0 41.9h0.9M48.1 47.3h0.9M48.9 54.7h0.9M47.0 46.8h0.9M60.3 43.9h0.9M59.4 44.0h0.9M73.8 56.5h0.9M61.8 56.7h0.9M68.4 58.6h0.9M46.0 43.7h0.9M77.7 49.0h0.9M48.2 50.6h0.9M76.5 53.2h0.9M50.4 53.8h0.9M58.5 56.1h0.9M48.0 51.4h0.9M79.6 49.8h0.9M80.2 49.5h0.9M46.3 46.8h0.9M61.0 43.9h0.9M83.4 52.6h0.9M49.1 46.4h0.9M52.0 45.5h0.9M73.1 44.0h0.9M48.9 52.1h0.9M43.3 53.7h0.9M71.7 45.7h0.9M75.3 57.3h0.9M80.1 49.1h0.9M58.5 44.1h0.9M74.7 45.4h0.9M73.3 46.4h0.9M50.8 53.3h0.9M76.1 48.0h0.9M59.8 42.7h0.9M51.9 44.9h0.9M72.3 55.2h0.9M42.5 49.2h0.9M48.8 47.1h0.9M71.0 55.6h0.9M54.6 55.4h0.9M43.2 50.3h0.9M65.2 57.0h0.9M62.5 58.5h0.9M46.7 54.2h0.9M74.0 56.3h0.9M56.9 55.7h0.9M50.5 53.3h0.9M61.9 56.4h0.9M65.1 57.1h0.9M49.5 52.5h0.9M55.5 44.4h0.9M77.5 53.4h0.9M54.8 55.6h0.9M58.9 56.7h0.9M48.1 45.6h0.9M77.9 55.6h0.9M73.0 55.0h0.9M77.4 48.6h0.9M48.6 47.6h0.9M45.6 44.3h0.9M72.9 58.0h0.9M77.5 51.6h0.9M81.0 55.8h0.9M81.8 53.5h0.9M50.0 55.6h0.9M63.0 56.4h0.9M77.0 49.4h0.9M78.7 52.9h0.9M77.5 51.0h0.9M75.2 54.0h0.9M77.1 51.3h0.9M48.0 49.9h0.9M45.5 54.4h0.9M57.2 55.9h0.9M77.0 49.5h0.9M62.6 43.5h0.9M68.4 57.3h0.9M76.8 55.1h0.9M76.7 45.8h0.9M71.9 45.5h0.9M81.5 55.4h0.9M72.3 44.4h0.9M51.4 45.7h0.9M66.2 43.0h0.9M60.3 42.7h0.9M55.0 56.4h0.9M72.2 45.7h0.9M77.2 52.7h0.9M77.4 48.3h0.9M76.9 53.0h0.9M53.1 42.6h0.9M48.2 50.6h0.9M53.3 45.0h0.9M80.7 47.6h0.9M59.9 41.3h0.9M48.0 49.5h0.9M57.2 44.1h0.9M50.4 55.1h0.9M72.8 56.3h0.9M72.0 55.4h0.9M60.3 57.4h0.9M76.2 46.8h0.9M49.0 52.0h0.9M56.3 42.8h0.9M51.7 56.9h0.9M72.4 43.3h0.9M50.9 44.0h0.9M62.2 57.2h0.9M83.0 54.3h0.9M65.2 44.2h0.9M69.4 56.9h0.9M64.1 43.7h0.9M71.5 55.5h0.9M68.2 44.7h0.9M57.6 43.3h0.9M68.5 56.2h0.9M46.7 51.6h0.9M54.7 44.6h0.9M70.2 58.0h0.9M67.0 56.4h0.9M70.0 57.7h0.9M77.9 53.9h0.9M77.1 49.2h0.9M65.1 56.5h0.9M43.7 46.6h0.9M68.6 56.1h0.9M59.9 57.3h0.9M74.0 46.8h0.9M68.5 57.2h0.9M76.7 53.9h0.9M71.2 45.1h0.9M48.7 51.5h0.9M81.6 47.9h0.9M53.0 54.5h0.9M65.6 44.2h0.9M46.2 54.2h0.9M48.7 52.2h0.9M61.5 43.5h0.9M50.7 53.3h0.9M79.5 52.3h0.9M61.0 56.3h0.9M73.3 45.9h0.9M55.6 55.4h0.9M46.3 43.7h0.9M46.5 43.8h0.9M67.7 43.9h0.9M51.2 54.1h0.9M52.4 41.6h0.9M48.7 55.8h0.9M61.5 57.0h0.9M75.5 53.7h0.9M68.8 44.8h0.9M77.7 54.5h0.9M48.6 54.9h0.9M50.9 43.3h0.9M59.3 58.9h0.9M47.9 49.4h0.9M72.6 43.2h0.9M62.2 43.7h0.9M53.4 55.3h0.9M74.8 47.3h0.9M73.1 45.7h0.9M69.4 44.3h0.9M65.4 57.4h0.9M49.8 53.4h0.9M77.2 50.8h0.9M46.0 44.7h0.9M62.7 56.4h0.9M42.3 52.1h0.9M52.4 54.4h0.9M46.1 46.2h0.9M56.4 55.7h0.9M79.9 48.6h0.9M47.2 49.5h0.9M48.0 49.8h0.9M78.3 52.4h0.9M63.9 56.4h0.9M67.4 57.9h0.9M49.6 52.6h0.9M80.6 54.6h0.9M57.4 55.9h0.9M70.6 45.3h0.9M45.4 49.3h0.9M74.8 47.1h0.9M48.8 53.3h0.9M45.1 44.9h0.9M72.9 45.8h0.9M47.9 56.2h0.9M45.9 50.8h0.9M47.7 53.1h0.9M48.3 48.4h0.9M59.0 58.4h0.9M59.5 41.7h0.9M65.2 56.4h0.9M78.0 54.0h0.9M72.6 55.2h0.9M73.4 57.9h0.9M44.5 49.4h0.9M65.0 44.2h0.9M45.7 53.0h0.9M70.6 56.6h0.9M75.6 55.3h0.9M64.5 44.1h0.9M45.7 55.0h0.9M78.6 52.1h0.9M56.2 42.7h0.9M69.5 44.5h0.9M78.3 49.1h0.9M73.1 45.9h0.9M76.8 52.2h0.9M56.8 44.1h0.9M43.4 45.1h0.9M49.9 54.4h0.9M73.5 54.8h0.9M75.4 58.1h0.9M66.1 43.0h0.9M54.9 56.4h0.9M53.1 45.0h0.9M45.2 45.2h0.9M60.4 43.9h0.9M57.6 41.1h0.9M51.7 53.9h0.9M72.4 56.6h0.9M47.8 49.0h0.9M61.3 57.4h0.9M62.5 41.9h0.9M48.0 46.8h0.9M47.5 45.6h0.9M61.6 43.9h0.9M59.1 42.1h0.9M48.1 50.3h0.9M69.5 44.5h0.9M64.7 44.1h0.9M66.5 44.3h0.9M74.6 54.3h0.9M66.2 44.2h0.9M49.0 47.3h0.9M48.2 50.7h0.9M65.4 42.3h0.9M74.2 46.2h0.9M71.4 43.1h0.9M79.8 53.6h0.9M73.6 46.5h0.9M70.8 57.5h0.9M44.7 46.7h0.9M75.5 47.9h0.9M66.9 59.2h0.9M56.4 44.3h0.9M53.2 56.4h0.9M72.0 57.5h0.9M73.4 45.3h0.9M67.6 43.6h0.9M77.4 47.2h0.9M80.6 54.4h0.9M66.9 56.8h0.9M75.6 53.8h0.9M76.0 53.7h0.9M48.0 49.8h0.9M69.3 45.0h0.9M69.1 44.8h0.9M78.3 51.5h0.9M53.2 57.7h0.9M55.0 56.3h0.9M80.6 49.2h0.9M58.8 57.5h0.9M64.7 43.6h0.9M69.5 56.2h0.9M66.6 56.4h0.9M54.6 44.6h0.9M48.8 46.7h0.9M47.1 46.5h0.9M73.6 58.7h0.9M71.5 44.7h0.9M70.8 45.4h0.9M62.8 58.8h0.9M49.3 46.6h0.9M55.2 55.3h0.9M67.5 56.3h0.9M81.1 48.3h0.9M48.3 47.1h0.9M74.6 54.4h0.9M48.7 51.9h0.9M61.4 58.1h0.9M81.4 50.0h0.9M57.7 58.4h0.9M47.5 50.3h0.9M54.9 55.5h0.9M73.7 54.7h0.9M74.1 46.7h0.9M57.3 41.7h0.9M79.9 47.1h0.9M74.8 44.7h0.9M47.4 44.4h0.9M48.9 46.2h0.9M58.3 43.9h0.9M51.3 53.6h0.9M60.2 42.5h0.9M73.8 56.3h0.9M46.8 45.3h0.9M58.0 43.2h0.9M75.8 57.6h0.9M81.7 53.6h0.9M49.9 52.8h0.9M65.7 41.5h0.9M55.6 56.6h0.9M70.2 56.4h0.9M57.0 41.9h0.9M60.4 42.3h0.9M58.8 57.0h0.9M70.8 56.6h0.9M46.9 52.2h0.9M69.3 56.9h0.9M77.1 51.4h0.9M70.1 44.7h0.9M44.5 48.0h0.9M68.2 56.2h0.9M58.2 56.0h0.9M54.0 57.2h0.9M49.0 52.0h0.9M76.0 48.3h0.9M68.1 44.5h0.9M73.7 54.7h0.9M59.1 44.0h0.9M42.7 51.7h0.9M61.8 57.3h0.9M79.9 54.4h0.9M52.5 45.3h0.9M79.4 49.6h0.9M76.8 52.2h0.9M75.2 47.6h0.9M71.7 45.7h0.9M55.4 55.4h0.9M59.1 42.3h0.9M58.9 43.9h0.9M57.1 42.9h0.9M52.4 45.2h0.9M68.4 44.7h0.9M72.5 46.0h0.9M63.1 56.6h0.9M44.5 48.8h0.9M78.8 46.7h0.9M74.4 54.5h0.9M44.9 46.7h0.9M67.2 44.5h0.9M79.6 45.9h0.9M54.9 44.6h0.9M43.3 48.0h0.9M42.0 49.4h0.9M60.9 56.3h0.9M53.9 55.4h0.9M56.6 43.1h0.9M74.4 46.4h0.9M83.1 48.4h0.9M75.8 48.2h0.9M60.5 56.6h0.9M62.7 58.9h0.9M75.6 54.1h0.9M77.0 46.4h0.9M49.2 47.2h0.9M54.5 55.6h0.9M54.2 44.8h0.9M70.0 44.7h0.9M60.7 43.9h0.9M68.0 56.7h0.9M49.1 47.2h0.9M80.4 52.0h0.9M59.4 56.7h0.9M47.1 46.4h0.9M51.9 43.8h0.9M66.0 56.7h0.9M56.8 44.3h0.9M51.7 55.8h0.9M76.5 53.3h0.9M78.2 50.5h0.9M47.6 46.8h0.9M46.2 43.7h0.9M71.9 57.4h0.9M64.0 42.0h0.9M76.7 53.8h0.9M70.7 56.6h0.9M70.4 45.1h0.9M64.5 43.8h0.9M45.4 51.9h0.9M70.8 56.2h0.9M43.3 50.0h0.9M60.1 57.0h0.9M49.6 55.2h0.9M69.8 56.9h0.9M77.1 47.2h0.9M69.9 44.7h0.9M80.8 50.4h0.9M53.9 54.9h0.9M44.5 52.7h0.9M57.1 44.2h0.9M76.1 47.7h0.9M73.7 55.7h0.9M72.0 55.5h0.9M81.3 54.8h0.9M76.4 52.8h0.9M65.3 56.5h0.9M57.2 56.6h0.9M48.0 51.6h0.9M56.8 43.6h0.9M63.2 41.1h0.9M74.7 47.1h0.9M67.1 44.4h0.9M56.9 55.8h0.9M77.3 50.6h0.9M53.7 55.1h0.9M72.2 55.7h0.9M76.7 46.2h0.9M77.8 47.2h0.9M49.0 52.2h0.9M70.3 59.1h0.9M56.3 55.6h0.9M80.3 48.2h0.9M75.2 54.7h0.9M59.5 41.6h0.9M76.9 52.4h0.9M53.8 44.6h0.9M68.3 44.6h0.9M47.8 44.7h0.9M82.3 51.8h0.9M75.7 53.6h0.9M46.2 49.8h0.9M64.0 44.1h0.9M75.1 56.4h0.9M51.3 53.8h0.9M76.8 49.3h0.9M84.3 51.8h0.9M80.2 50.1h0.9M67.8 56.3h0.9M69.4 58.0h0.9M71.7 45.7h0.9M77.5 49.8h0.9M61.9 43.9h0.9M78.6 51.4h0.9M70.2 56.6h0.9M80.5 49.6h0.9M43.5 46.1h0.9M67.3 44.3h0.9M68.6 44.8h0.9M48.9 46.6h0.9M64.1 57.6h0.9M56.4 56.0h0.9M72.5 45.9h0.9M79.1 49.6h0.9M66.6 57.0h0.9M56.2 43.5h0.9M66.6 41.6h0.9M70.3 58.1h0.9M49.8 46.7h0.9M54.3 43.1h0.9M50.8 53.7h0.9M50.1 54.4h0.9M55.4 55.7h0.9M61.6 41.1h0.9M77.6 46.1h0.9M48.7 45.2h0.9M74.8 54.3h0.9M61.7 44.0h0.9M51.9 54.0h0.9M77.1 47.7h0.9M47.9 51.1h0.9M46.0 43.7h0.9M50.3 45.8h0.9M74.4 47.0h0.9M54.2 41.6h0.9M47.7 47.3h0.9M47.1 45.2h0.9M51.3 45.7h0.9M59.4 43.3h0.9M78.9 47.5h0.9M44.0 54.0h0.9M48.0 49.8h0.9M62.5 43.3h0.9M75.7 45.2h0.9M69.0 44.8h0.9M59.1 43.8h0.9M50.2 46.3h0.9M72.1 55.4h0.9M76.3 53.3h0.9M75.0 56.0h0.9M64.1 44.0h0.9M80.5 53.9h0.9M64.6 56.5h0.9M53.2 44.6h0.9M45.6 54.5h0.9M80.8 52.4h0.9M82.0 48.6h0.9M72.5 46.1h0.9M77.5 51.4h0.9M49.9 46.5h0.9M79.6 47.4h0.9M73.4 54.8h0.9M47.8 50.2h0.9M48.8 55.2h0.9M77.7 50.9h0.9M75.9 53.6h0.9M76.1 53.5h0.9M48.4 51.8h0.9M45.6 50.6h0.9M50.7 53.6h0.9M50.6 45.8h0.9M58.6 57.8h0.9M61.7 43.5h0.9M44.4 52.6h0.9M77.5 50.2h0.9M75.4 53.8h0.9M50.6 43.5h0.9M66.6 56.5h0.9M52.2 45.2h0.9M48.6 47.9h0.9M61.8 58.5h0.9M46.3 55.0h0.9M46.7 48.4h0.9M52.7 45.2h0.9M74.7 47.2h0.9M44.1 45.0h0.9M74.5 46.5h0.9M49.2 46.0h0.9M48.1 46.8h0.9M73.0 56.4h0.9M56.4 43.8h0.9M83.8 51.0h0.9M65.8 57.6h0.9M68.4 44.6h0.9M48.6 44.6h0.9M75.7 53.9h0.9M63.5 56.4h0.9M46.6 49.9h0.9M74.1 55.5h0.9M81.1 55.8h0.9M51.9 54.0h0.9M77.3 49.6h0.9M61.1 57.7h0.9M77.2 49.9h0.9M68.5 56.2h0.9M50.2 53.3h0.9M77.4 44.5h0.9M49.2 53.4h0.9M77.9 44.4h0.9M42.9 45.3h0.9M48.9 46.0h0.9M70.0 43.4h0.9M65.7 43.7h0.9M73.5 55.8h0.9M42.9 46.5h0.9M80.8 47.9h0.9M56.7 57.3h0.9M70.8 55.7h0.9M75.8 48.1h0.9M53.1 43.5h0.9M65.9 44.3h0.9M53.3 44.9h0.9M74.1 55.0h0.9M75.2 47.3h0.9M65.2 56.7h0.9M72.8 44.3h0.9M44.0 49.3h0.9M51.0 54.8h0.9M64.6 57.1h0.9M74.9 47.4h0.9M70.5 45.3h0.9M71.2 55.6h0.9M77.4 50.0h0.9M67.7 56.9h0.9M77.2 49.7h0.9M49.9 44.3h0.9M47.6 48.9h0.9M61.8 43.0h0.9M73.1 44.0h0.9M48.2 53.1h0.9M72.0 45.8h0.9M76.7 45.4h0.9M49.2 52.4h0.9M61.6 41.2h0.9M51.3 44.4h0.9M44.2 44.9h0.9M47.3 45.6h0.9M70.7 56.2h0.9M71.9 45.7h0.9M53.2 43.2h0.9M74.7 54.6h0.9M48.0 48.1h0.9M65.4 57.4h0.9M48.5 51.1h0.9M64.6 43.6h0.9M78.5 53.0h0.9M62.2 42.2h0.9M49.9 53.1h0.9M76.7 55.2h0.9M74.4 54.7h0.9M77.0 49.9h0.9M48.0 52.9h0.9M60.3 56.5h0.9M64.4 43.6h0.9M77.5 51.1h0.9M79.9 49.0h0.9M48.7 47.5h0.9M78.5 54.3h0.9M48.2 46.6h0.9M74.1 44.3h0.9M48.3 48.1h0.9M76.7 52.5h0.9M52.6 54.3h0.9M70.8 55.7h0.9M82.3 51.7h0.9M57.1 41.2h0.9M58.6 44.0h0.9M74.4 54.5h0.9M49.6 53.3h0.9M59.6 43.4h0.9M68.4 57.8h0.9M47.5 47.8h0.9M71.9 55.4h0.9M76.9 54.2h0.9M60.6 44.0h0.9M56.0 55.6h0.9M54.8 44.4h0.9M50.8 44.2h0.9M72.0 45.0h0.9M76.3 55.6h0.9M43.7 50.1h0.9M77.5 53.2h0.9M66.9 44.3h0.9M46.8 50.7h0.9M55.6 41.4h0.9M76.7 45.5h0.9M55.1 44.5h0.9M72.5 57.9h0.9M55.0 55.4h0.9M69.9 42.6h0.9M52.8 56.0h0.9M51.6 45.6h0.9M46.1 50.9h0.9M55.3 43.5h0.9M66.8 44.3h0.9M53.2 43.8h0.9M72.3 46.0h0.9M67.9 56.7h0.9M69.3 43.8h0.9M67.1 56.3h0.9M48.6 44.2h0.9M73.9 44.4h0.9M55.4 41.9h0.9M83.0 54.0h0.9M70.3 45.1h0.9M55.2 55.2h0.9M72.5 55.2h0.9M77.0 49.7h0.9M51.8 54.1h0.9M72.4 55.7h0.9M71.4 45.4h0.9M50.8 42.6h0.9M76.7 55.8h0.9M76.9 52.0h0.9M75.6 48.0h0.9M78.2 49.2h0.9M78.6 46.9h0.9M69.1 44.9h0.9M79.7 53.7h0.9M75.9 47.7h0.9M55.2 56.8h0.9M51.5 53.7h0.9M68.1 56.3h0.9M59.1 57.6h0.9M76.9 52.1h0.9M82.9 48.3h0.9M75.7 53.5h0.9M77.2 50.7h0.9M77.0 53.1h0.9M63.2 58.8h0.9M75.4 54.1h0.9M76.6 49.0h0.9M71.5 55.5h0.9M60.6 43.2h0.9M64.9 44.2h0.9M59.3 42.0h0.9M69.3 58.0h0.9M71.1 43.4h0.9M58.4 56.1h0.9M73.6 46.2h0.9M79.5 53.8h0.9M79.1 53.9h0.9M74.8 54.6h0.9M68.8 57.7h0.9M81.2 46.9h0.9M59.3 58.0h0.9M81.5 51.7h0.9M47.1 46.8h0.9M47.6 48.5h0.9M64.5 57.6h0.9M59.9 44.0h0.9M44.6 53.5h0.9M79.7 51.1h0.9M53.2 54.6h0.9M51.5 53.8h0.9M60.2 56.3h0.9M72.7 58.5h0.9M44.2 50.6h0.9M77.9 45.4h0.9M67.5 56.5h0.9M74.6 47.0h0.9M75.2 53.9h0.9M51.7 45.3h0.9M73.2 54.9h0.9M51.6 44.6h0.9M58.4 56.3h0.9M57.1 42.3h0.9M70.9 45.1h0.9M59.6 56.7h0.9M69.7 44.9h0.9M63.9 57.8h0.9M48.1 51.3h0.9M76.0 54.1h0.9M45.0 52.4h0.9M79.7 48.3h0.9M71.9 57.4h0.9M46.3 50.0h0.9M76.0 53.3h0.9M60.8 44.0h0.9M64.1 58.6h0.9M64.5 41.2h0.9M51.5 44.3h0.9M77.1 49.5h0.9M65.9 56.4h0.9M59.1 43.9h0.9M47.5 43.8h0.9M75.7 53.9h0.9M45.2 48.3h0.9M82.8 49.3h0.9M73.5 43.4h0.9" stroke="#000" stroke-width="0.9" opacity="0.75" fill="none"/>
<path d="M79.80 51.10 L79.74 51.61 L79.58 52.11 L79.35 52.60 L79.03 53.08 L78.64 53.55 L78.16 54.00 L77.61 54.43 L76.99 54.84 L76.29 55.22 L75.53 55.59 L74.71 55.92 L73.83 56.23 L72.89 56.51 L71.90 56.76 L70.87 56.98 L69.80 57.16 L68.69 57.31 L67.55 57.43 L66.39 57.51 L65.21 57.55 L64.02 57.56 L62.82 57.53 L61.62 57.47 L60.42 57.37 L59.24 57.24 L58.07 57.07 L56.92 56.87 L55.80 56.64 L54.71 56.37 L53.67 56.08 L52.66 55.75 L51.71 55.40 L50.80 55.03 L49.96 54.63 L49.17 54.21 L48.46 53.76 L47.81 53.31 L47.23 52.83 L46.73 52.35 L46.30 51.85 L45.96 51.35 L45.69 50.84 L45.51 50.32 L45.41 49.81 L45.40 49.30 L45.46 48.79 L45.62 48.29 L45.85 47.80 L46.17 47.32 L46.56 46.85 L47.04 46.40 L47.59 45.97 L48.21 45.56 L48.91 45.18 L49.67 44.81 L50.49 44.48 L51.37 44.17 L52.31 43.89 L53.30 43.64 L54.33 43.42 L55.40 43.24 L56.51 43.09 L57.65 42.97 L58.81 42.89 L59.99 42.85 L61.18 42.84 L62.38 42.87 L63.58 42.93 L64.78 43.03 L65.96 43.16 L67.13 43.33 L68.28 43.53 L69.40 43.76 L70.49 44.03 L71.53 44.32 L72.54 44.65 L73.49 45.00 L74.40 45.37 L75.24 45.77 L76.03 46.19 L76.74 46.64 L77.39 47.09 L77.97 47.57 L78.47 48.05 L78.90 48.55 L79.24 49.05 L79.51 49.56 L79.69 50.08 L79.79 50.59Z" fill="none" stroke="#000" stroke-width="2.4" opacity="0.85" filter="url(#bl05)"/>
<path d="M76.00 51.72 L75.93 52.23 L75.77 52.74 L75.53 53.24 L75.21 53.73 L74.81 54.20 L74.33 54.66 L73.77 55.10 L73.13 55.51 L72.43 55.91 L71.65 56.28 L70.82 56.62 L69.92 56.93 L68.96 57.22 L67.96 57.47 L66.91 57.69 L65.82 57.88 L64.69 58.03 L63.54 58.15 L62.35 58.23 L61.15 58.28 L59.94 58.28 L58.72 58.26 L57.50 58.19 L56.28 58.09 L55.08 57.96 L53.89 57.79 L52.72 57.58 L51.58 57.35 L50.48 57.08 L49.41 56.78 L48.39 56.45 L47.42 56.09 L46.50 55.71 L45.64 55.30 L44.85 54.87 L44.12 54.43 L43.46 53.96 L42.87 53.48 L42.36 52.98 L41.93 52.48 L41.57 51.97 L41.31 51.45 L41.12 50.93 L41.02 50.40 L41.00 49.88 L41.07 49.37 L41.23 48.86 L41.47 48.36 L41.79 47.87 L42.19 47.40 L42.67 46.94 L43.23 46.50 L43.87 46.09 L44.57 45.69 L45.35 45.32 L46.18 44.98 L47.08 44.67 L48.04 44.38 L49.04 44.13 L50.09 43.91 L51.18 43.72 L52.31 43.57 L53.46 43.45 L54.65 43.37 L55.85 43.32 L57.06 43.32 L58.28 43.34 L59.50 43.41 L60.72 43.51 L61.92 43.64 L63.11 43.81 L64.28 44.02 L65.42 44.25 L66.52 44.52 L67.59 44.82 L68.61 45.15 L69.58 45.51 L70.50 45.89 L71.36 46.30 L72.15 46.73 L72.88 47.17 L73.54 47.64 L74.13 48.12 L74.64 48.62 L75.07 49.12 L75.43 49.63 L75.69 50.15 L75.88 50.67 L75.98 51.20Z" fill="none" stroke="#000" stroke-width="2" opacity="0.6" filter="url(#bl05)"/>
<path d="M77.18 50.96 L77.12 51.39 L76.99 51.82 L76.79 52.23 L76.53 52.64 L76.19 53.04 L75.79 53.42 L75.32 53.78 L74.79 54.13 L74.20 54.46 L73.56 54.77 L72.86 55.05 L72.11 55.31 L71.32 55.55 L70.48 55.76 L69.61 55.94 L68.70 56.10 L67.76 56.23 L66.80 56.32 L65.81 56.39 L64.81 56.43 L63.80 56.44 L62.78 56.41 L61.77 56.36 L60.75 56.28 L59.75 56.16 L58.76 56.02 L57.79 55.85 L56.84 55.65 L55.92 55.43 L55.03 55.18 L54.18 54.91 L53.37 54.61 L52.60 54.29 L51.89 53.95 L51.22 53.59 L50.61 53.22 L50.06 52.83 L49.57 52.43 L49.15 52.02 L48.79 51.60 L48.50 51.17 L48.27 50.74 L48.12 50.31 L48.03 49.87 L48.02 49.44 L48.08 49.01 L48.21 48.58 L48.41 48.17 L48.67 47.76 L49.01 47.36 L49.41 46.98 L49.88 46.62 L50.41 46.27 L51.00 45.94 L51.64 45.63 L52.34 45.35 L53.09 45.09 L53.88 44.85 L54.72 44.64 L55.59 44.46 L56.50 44.30 L57.44 44.17 L58.40 44.08 L59.39 44.01 L60.39 43.97 L61.40 43.96 L62.42 43.99 L63.43 44.04 L64.45 44.12 L65.45 44.24 L66.44 44.38 L67.41 44.55 L68.36 44.75 L69.28 44.97 L70.17 45.22 L71.02 45.49 L71.83 45.79 L72.60 46.11 L73.31 46.45 L73.98 46.81 L74.59 47.18 L75.14 47.57 L75.63 47.97 L76.05 48.38 L76.41 48.80 L76.70 49.23 L76.93 49.66 L77.08 50.09 L77.17 50.53Z" fill="#fff" stroke="#fff" stroke-width="1"/>
<path d="M75.14 50.86 L75.09 51.23 L74.98 51.59 L74.81 51.95 L74.58 52.30 L74.29 52.64 L73.94 52.97 L73.54 53.28 L73.09 53.58 L72.58 53.86 L72.03 54.13 L71.43 54.37 L70.78 54.60 L70.10 54.80 L69.38 54.98 L68.63 55.14 L67.85 55.27 L67.04 55.38 L66.21 55.47 L65.36 55.53 L64.50 55.56 L63.63 55.56 L62.76 55.54 L61.88 55.50 L61.01 55.43 L60.15 55.33 L59.30 55.21 L58.46 55.06 L57.64 54.89 L56.85 54.70 L56.09 54.48 L55.36 54.25 L54.66 53.99 L54.00 53.72 L53.39 53.43 L52.82 53.12 L52.29 52.80 L51.82 52.46 L51.40 52.12 L51.03 51.77 L50.72 51.40 L50.47 51.04 L50.28 50.66 L50.14 50.29 L50.07 49.92 L50.06 49.54 L50.11 49.17 L50.22 48.81 L50.39 48.45 L50.62 48.10 L50.91 47.76 L51.26 47.43 L51.66 47.12 L52.11 46.82 L52.62 46.54 L53.17 46.27 L53.77 46.03 L54.42 45.80 L55.10 45.60 L55.82 45.42 L56.57 45.26 L57.35 45.13 L58.16 45.02 L58.99 44.93 L59.84 44.87 L60.70 44.84 L61.57 44.84 L62.44 44.86 L63.32 44.90 L64.19 44.97 L65.05 45.07 L65.90 45.19 L66.74 45.34 L67.56 45.51 L68.35 45.70 L69.11 45.92 L69.84 46.15 L70.54 46.41 L71.20 46.68 L71.81 46.97 L72.38 47.28 L72.91 47.60 L73.38 47.94 L73.80 48.28 L74.17 48.63 L74.48 49.00 L74.73 49.36 L74.92 49.74 L75.06 50.11 L75.13 50.48Z" fill="none" stroke="#555" stroke-width="0.7"/>
<path d="M73.10 50.75 L73.06 51.06 L72.96 51.37 L72.82 51.66 L72.63 51.96 L72.38 52.24 L72.10 52.52 L71.76 52.78 L71.38 53.03 L70.96 53.27 L70.49 53.49 L69.99 53.69 L69.45 53.88 L68.88 54.05 L68.28 54.20 L67.65 54.34 L66.99 54.45 L66.32 54.54 L65.62 54.61 L64.91 54.66 L64.19 54.69 L63.46 54.69 L62.73 54.67 L62.00 54.64 L61.27 54.58 L60.55 54.49 L59.83 54.39 L59.13 54.27 L58.45 54.13 L57.79 53.97 L57.15 53.79 L56.54 53.59 L55.95 53.37 L55.40 53.14 L54.89 52.90 L54.41 52.64 L53.97 52.38 L53.57 52.10 L53.22 51.81 L52.91 51.51 L52.66 51.21 L52.44 50.90 L52.28 50.59 L52.17 50.28 L52.11 49.96 L52.10 49.65 L52.14 49.34 L52.24 49.03 L52.38 48.74 L52.57 48.44 L52.82 48.16 L53.10 47.88 L53.44 47.62 L53.82 47.37 L54.24 47.13 L54.71 46.91 L55.21 46.71 L55.75 46.52 L56.32 46.35 L56.92 46.20 L57.55 46.06 L58.21 45.95 L58.88 45.86 L59.58 45.79 L60.29 45.74 L61.01 45.71 L61.74 45.71 L62.47 45.73 L63.20 45.76 L63.93 45.82 L64.65 45.91 L65.37 46.01 L66.07 46.13 L66.75 46.27 L67.41 46.43 L68.05 46.61 L68.66 46.81 L69.25 47.03 L69.80 47.26 L70.31 47.50 L70.79 47.76 L71.23 48.02 L71.63 48.30 L71.98 48.59 L72.29 48.89 L72.54 49.19 L72.76 49.50 L72.92 49.81 L73.03 50.12 L73.09 50.44Z" fill="none" stroke="#555" stroke-width="0.7"/>
<path d="M71.06 50.64 L71.02 50.89 L70.95 51.14 L70.83 51.38 L70.68 51.62 L70.48 51.84 L70.25 52.07 L69.98 52.28 L69.67 52.48 L69.33 52.67 L68.96 52.85 L68.55 53.01 L68.12 53.17 L67.66 53.30 L67.17 53.42 L66.67 53.53 L66.14 53.62 L65.59 53.70 L65.03 53.75 L64.46 53.79 L63.88 53.81 L63.30 53.82 L62.71 53.80 L62.12 53.77 L61.53 53.73 L60.95 53.66 L60.37 53.58 L59.81 53.48 L59.26 53.36 L58.72 53.23 L58.21 53.09 L57.72 52.93 L57.25 52.76 L56.80 52.57 L56.39 52.38 L56.00 52.17 L55.65 51.95 L55.33 51.73 L55.05 51.49 L54.80 51.26 L54.59 51.01 L54.42 50.76 L54.29 50.51 L54.20 50.26 L54.15 50.01 L54.14 49.76 L54.18 49.51 L54.25 49.26 L54.37 49.02 L54.52 48.78 L54.72 48.56 L54.95 48.33 L55.22 48.12 L55.53 47.92 L55.87 47.73 L56.24 47.55 L56.65 47.39 L57.08 47.23 L57.54 47.10 L58.03 46.98 L58.53 46.87 L59.06 46.78 L59.61 46.70 L60.17 46.65 L60.74 46.61 L61.32 46.59 L61.90 46.58 L62.49 46.60 L63.08 46.63 L63.67 46.67 L64.25 46.74 L64.83 46.82 L65.39 46.92 L65.94 47.04 L66.48 47.17 L66.99 47.31 L67.48 47.47 L67.95 47.64 L68.40 47.83 L68.81 48.02 L69.20 48.23 L69.55 48.45 L69.87 48.67 L70.15 48.91 L70.40 49.14 L70.61 49.39 L70.78 49.64 L70.91 49.89 L71.00 50.14 L71.05 50.39Z" fill="none" stroke="#555" stroke-width="0.7"/>
<path d="M69.16 50.54 L69.13 50.74 L69.08 50.93 L68.99 51.12 L68.87 51.30 L68.72 51.48 L68.53 51.65 L68.32 51.81 L68.09 51.97 L67.82 52.12 L67.53 52.25 L67.22 52.38 L66.88 52.50 L66.52 52.61 L66.15 52.70 L65.75 52.78 L65.34 52.85 L64.92 52.91 L64.49 52.96 L64.05 52.99 L63.60 53.00 L63.14 53.01 L62.68 53.00 L62.23 52.97 L61.77 52.93 L61.32 52.88 L60.87 52.82 L60.43 52.74 L60.01 52.65 L59.59 52.55 L59.19 52.44 L58.81 52.32 L58.45 52.18 L58.10 52.04 L57.78 51.89 L57.48 51.73 L57.21 51.56 L56.96 51.38 L56.74 51.20 L56.55 51.02 L56.38 50.83 L56.25 50.64 L56.15 50.44 L56.08 50.25 L56.04 50.05 L56.04 49.86 L56.07 49.66 L56.12 49.47 L56.21 49.28 L56.33 49.10 L56.48 48.92 L56.67 48.75 L56.88 48.59 L57.11 48.43 L57.38 48.28 L57.67 48.15 L57.98 48.02 L58.32 47.90 L58.68 47.79 L59.05 47.70 L59.45 47.62 L59.86 47.55 L60.28 47.49 L60.71 47.44 L61.15 47.41 L61.60 47.40 L62.06 47.39 L62.52 47.40 L62.97 47.43 L63.43 47.47 L63.88 47.52 L64.33 47.58 L64.77 47.66 L65.19 47.75 L65.61 47.85 L66.01 47.96 L66.39 48.08 L66.75 48.22 L67.10 48.36 L67.42 48.51 L67.72 48.67 L67.99 48.84 L68.24 49.02 L68.46 49.20 L68.65 49.38 L68.82 49.57 L68.95 49.76 L69.05 49.96 L69.12 50.15 L69.16 50.35Z" fill="none" stroke="#555" stroke-width="0.7"/>
<path d="M67.27 50.44 L67.25 50.58 L67.21 50.72 L67.14 50.85 L67.06 50.98 L66.95 51.11 L66.82 51.23 L66.67 51.35 L66.50 51.46 L66.31 51.56 L66.11 51.66 L65.88 51.75 L65.64 51.84 L65.39 51.91 L65.12 51.98 L64.84 52.04 L64.55 52.09 L64.25 52.13 L63.94 52.16 L63.63 52.18 L63.31 52.19 L62.98 52.20 L62.66 52.19 L62.33 52.17 L62.01 52.14 L61.69 52.11 L61.37 52.06 L61.06 52.01 L60.76 51.95 L60.46 51.87 L60.18 51.79 L59.90 51.71 L59.65 51.61 L59.40 51.51 L59.17 51.40 L58.96 51.29 L58.76 51.17 L58.59 51.04 L58.43 50.91 L58.30 50.78 L58.18 50.65 L58.09 50.51 L58.01 50.37 L57.97 50.23 L57.94 50.09 L57.93 49.96 L57.95 49.82 L57.99 49.68 L58.06 49.55 L58.14 49.42 L58.25 49.29 L58.38 49.17 L58.53 49.05 L58.70 48.94 L58.89 48.84 L59.09 48.74 L59.32 48.65 L59.56 48.56 L59.81 48.49 L60.08 48.42 L60.36 48.36 L60.65 48.31 L60.95 48.27 L61.26 48.24 L61.57 48.22 L61.89 48.21 L62.22 48.20 L62.54 48.21 L62.87 48.23 L63.19 48.26 L63.51 48.29 L63.83 48.34 L64.14 48.39 L64.44 48.45 L64.74 48.53 L65.02 48.61 L65.30 48.69 L65.55 48.79 L65.80 48.89 L66.03 49.00 L66.24 49.11 L66.44 49.23 L66.61 49.36 L66.77 49.49 L66.90 49.62 L67.02 49.75 L67.11 49.89 L67.19 50.03 L67.23 50.17 L67.26 50.31Z" fill="none" stroke="#555" stroke-width="0.7"/>
<ellipse cx="64.5" cy="50.2" rx="2.5" ry="0.9" fill="#fff"/>
<path d="M80.2 59.1h0.9M67.4 97.5h0.9M72.3 87.8h0.9M53.7 72.8h0.9M82.9 64.9h0.9M69.6 90.4h0.9M70.7 94.9h0.9M71.3 64.0h0.9M86.9 57.6h0.9M56.4 75.5h0.9M54.1 81.2h0.9M80.5 83.3h0.9M61.9 94.7h0.9M51.1 92.8h0.9M79.4 77.0h0.9M65.0 69.8h0.9M52.7 93.4h0.9M79.5 57.8h0.9M89.8 53.6h0.9M84.6 75.2h0.9M52.2 85.5h0.9M55.6 74.4h0.9M84.5 76.6h0.9M57.6 96.7h0.9M53.9 77.4h0.9M83.1 67.8h0.9M84.4 64.7h0.9M56.7 95.8h0.9M69.2 66.3h0.9M85.3 66.1h0.9M77.9 82.9h0.9M55.0 93.5h0.9M66.9 68.1h0.9M53.7 94.7h0.9M54.8 79.8h0.9M75.4 88.8h0.9M52.6 95.0h0.9M62.3 98.3h0.9M85.2 55.2h0.9M45.3 89.6h0.9M53.5 91.3h0.9M89.1 53.1h0.9M82.6 70.5h0.9M65.3 94.7h0.9M86.2 56.3h0.9M87.4 56.3h0.9M67.5 94.4h0.9M71.7 62.8h0.9M82.3 62.0h0.9M66.6 98.3h0.9M83.8 64.5h0.9M76.9 82.1h0.9M83.1 61.9h0.9M69.7 66.5h0.9M82.8 65.9h0.9M77.8 58.8h0.9M76.3 87.5h0.9M74.5 92.0h0.9M52.9 78.9h0.9M78.3 88.2h0.9M55.3 101.2h0.9M81.8 69.4h0.9M75.6 83.6h0.9M68.0 97.1h0.9M77.5 63.4h0.9M81.1 77.2h0.9M84.6 60.6h0.9M86.7 56.1h0.9M80.5 82.1h0.9M63.9 94.2h0.9M49.6 84.9h0.9M79.9 62.3h0.9M53.0 92.0h0.9M73.5 65.0h0.9M74.2 87.4h0.9M43.5 97.4h0.9M43.6 93.9h0.9M82.0 78.0h0.9M89.1 54.1h0.9M83.2 64.9h0.9M54.9 99.4h0.9M52.4 93.7h0.9M90.2 53.6h0.9M66.2 69.1h0.9M68.2 94.0h0.9M75.4 83.5h0.9M53.2 91.3h0.9M55.3 93.4h0.9M81.5 59.5h0.9M82.0 68.8h0.9M78.5 63.0h0.9M52.2 94.5h0.9M71.5 94.9h0.9M82.1 71.1h0.9M78.3 78.9h0.9M69.5 92.7h0.9M77.5 63.4h0.9M53.2 78.0h0.9M49.1 93.5h0.9M59.6 97.0h0.9M83.6 72.3h0.9M80.7 77.3h0.9M87.5 62.3h0.9M51.7 98.8h0.9M46.3 101.5h0.9M86.5 69.2h0.9M82.4 67.4h0.9M77.9 84.2h0.9M52.1 90.1h0.9M59.9 73.4h0.9M48.8 93.0h0.9M66.4 99.9h0.9M61.8 102.0h0.9M67.4 67.8h0.9M49.6 96.1h0.9M53.3 76.5h0.9M83.3 75.1h0.9M72.3 90.1h0.9M75.2 90.0h0.9M78.4 78.9h0.9M88.6 55.5h0.9M69.2 97.7h0.9M73.3 64.4h0.9M82.3 67.0h0.9M86.7 61.7h0.9M76.2 63.9h0.9M80.7 60.6h0.9M56.3 71.5h0.9M48.3 84.8h0.9M85.7 74.4h0.9M53.4 83.3h0.9M78.9 80.5h0.9M47.5 89.7h0.9M63.4 70.9h0.9M81.3 71.1h0.9M48.6 84.5h0.9M60.4 72.8h0.9M69.3 90.9h0.9M71.5 92.9h0.9M52.8 89.7h0.9M56.0 78.2h0.9M83.0 61.9h0.9M48.7 79.7h0.9M75.8 83.6h0.9M64.5 70.1h0.9M88.4 55.9h0.9M85.2 69.3h0.9M52.7 86.4h0.9M73.8 64.9h0.9M88.5 62.2h0.9M69.1 90.8h0.9M88.5 63.5h0.9M82.1 79.6h0.9M74.6 86.2h0.9M70.8 66.3h0.9M58.6 73.6h0.9M50.0 94.1h0.9M52.6 77.3h0.9M65.2 69.4h0.9M48.3 81.1h0.9M73.3 94.6h0.9M84.5 70.4h0.9M85.1 59.1h0.9M82.4 70.9h0.9M88.6 55.5h0.9M71.0 95.5h0.9M83.6 61.6h0.9M65.5 93.4h0.9M79.5 75.7h0.9M58.7 74.1h0.9M75.0 63.5h0.9M51.0 95.6h0.9M70.4 90.9h0.9M66.5 66.4h0.9M73.5 86.8h0.9M80.5 60.2h0.9M79.1 60.4h0.9M88.9 55.4h0.9M57.8 72.6h0.9M73.4 87.4h0.9M83.2 61.5h0.9M61.1 94.8h0.9M57.3 75.8h0.9M59.7 74.1h0.9M75.8 85.8h0.9M67.0 92.5h0.9M61.6 101.9h0.9M59.8 74.0h0.9M89.1 54.1h0.9M55.6 94.7h0.9M87.7 56.9h0.9M53.1 93.0h0.9M86.9 58.7h0.9M51.8 81.1h0.9M78.3 63.1h0.9M47.5 91.8h0.9M48.1 90.7h0.9M73.1 62.7h0.9M50.7 89.0h0.9M83.3 73.8h0.9M85.9 55.3h0.9M81.3 79.3h0.9M63.2 70.8h0.9M84.8 66.7h0.9M51.0 88.7h0.9M79.4 75.7h0.9M54.8 94.1h0.9M56.0 94.0h0.9M58.9 71.3h0.9M79.2 76.6h0.9M68.6 65.2h0.9M68.5 91.6h0.9M71.7 64.7h0.9M62.3 66.6h0.9M90.7 55.6h0.9M86.2 56.3h0.9M71.8 61.5h0.9M63.3 95.9h0.9M60.2 97.3h0.9M75.7 60.0h0.9M83.3 73.6h0.9M84.9 61.0h0.9M64.0 69.7h0.9M83.6 60.6h0.9M81.6 82.6h0.9M86.3 64.9h0.9M69.3 67.1h0.9M83.0 64.9h0.9M82.4 66.7h0.9M75.4 90.6h0.9M68.3 61.8h0.9M50.1 86.0h0.9M74.2 64.3h0.9M51.9 88.5h0.9M77.4 82.2h0.9M53.2 84.1h0.9M55.3 95.5h0.9M87.4 64.9h0.9M77.3 63.1h0.9M73.8 64.8h0.9M54.1 81.3h0.9M52.8 89.2h0.9M63.8 94.6h0.9M55.6 96.3h0.9M85.2 68.4h0.9M78.2 62.0h0.9M67.5 68.2h0.9M76.1 88.7h0.9M51.4 77.0h0.9M86.5 60.1h0.9M55.8 99.6h0.9M59.7 72.9h0.9M77.6 58.8h0.9M69.7 65.9h0.9M62.3 95.6h0.9M75.9 63.9h0.9M65.3 94.1h0.9M62.4 94.5h0.9M85.6 60.4h0.9M83.4 73.2h0.9M48.3 96.6h0.9M53.2 90.8h0.9M73.2 64.8h0.9M62.2 67.1h0.9M84.6 74.8h0.9M89.0 55.0h0.9M84.0 62.9h0.9M56.7 96.2h0.9M52.0 90.8h0.9M52.1 91.8h0.9M83.2 67.2h0.9M79.0 76.7h0.9M84.0 62.8h0.9M84.8 62.7h0.9M46.9 86.8h0.9M66.7 96.8h0.9M75.0 85.0h0.9M85.7 59.8h0.9M86.1 58.1h0.9M72.5 59.8h0.9M77.8 81.3h0.9M86.2 60.3h0.9M87.1 57.9h0.9M80.8 77.7h0.9M60.6 95.3h0.9M65.3 67.1h0.9M47.4 92.1h0.9M62.9 70.0h0.9M83.0 65.3h0.9M62.5 101.8h0.9M51.1 93.0h0.9M83.5 61.3h0.9M67.8 64.7h0.9M83.5 60.2h0.9M46.2 82.2h0.9M52.9 90.1h0.9M57.1 75.3h0.9M51.9 78.7h0.9M87.7 69.2h0.9M49.8 91.7h0.9M57.7 97.8h0.9M84.3 70.3h0.9M53.5 91.2h0.9M81.9 62.1h0.9M78.5 79.2h0.9M51.6 88.7h0.9M57.9 75.9h0.9M50.5 100.7h0.9M53.1 75.1h0.9M53.7 80.1h0.9M54.9 78.6h0.9M73.6 88.1h0.9M68.9 63.4h0.9M68.7 92.1h0.9M79.2 60.7h0.9M88.3 56.1h0.9M55.8 74.2h0.9M72.7 65.4h0.9M85.0 59.4h0.9M64.7 100.3h0.9M75.8 59.3h0.9M60.8 73.1h0.9M61.2 70.6h0.9M85.3 56.4h0.9M51.7 84.8h0.9M48.7 88.8h0.9M73.6 62.5h0.9M62.7 71.5h0.9M87.8 58.7h0.9M85.7 58.9h0.9M82.9 60.5h0.9M81.2 71.7h0.9M82.6 59.5h0.9M72.2 87.8h0.9M85.8 58.1h0.9M58.0 74.1h0.9M53.3 82.7h0.9M59.5 95.5h0.9M78.0 63.2h0.9M50.8 81.4h0.9M51.9 99.9h0.9M46.3 89.4h0.9M83.6 64.2h0.9M64.7 96.1h0.9M63.9 68.4h0.9M83.5 62.6h0.9M50.9 80.9h0.9M81.4 75.1h0.9M50.2 78.6h0.9M89.3 54.2h0.9M60.8 94.8h0.9M77.8 60.8h0.9M84.7 56.1h0.9M80.9 71.9h0.9M80.9 72.9h0.9M82.8 64.2h0.9M77.6 61.5h0.9M77.7 79.5h0.9M51.0 94.3h0.9M73.8 85.8h0.9M82.3 61.7h0.9M84.1 61.4h0.9M73.8 63.2h0.9M54.7 96.7h0.9M64.1 69.1h0.9M53.6 92.7h0.9M76.0 88.6h0.9M68.5 66.2h0.9M77.0 81.9h0.9M83.9 63.5h0.9M75.0 92.7h0.9M64.1 99.1h0.9M88.9 57.8h0.9M61.2 100.9h0.9M83.1 61.9h0.9M82.4 61.7h0.9M71.2 91.9h0.9M57.0 94.4h0.9M67.9 67.8h0.9M74.2 64.3h0.9M85.4 61.0h0.9M65.3 93.8h0.9M77.6 63.3h0.9M64.7 67.3h0.9M81.9 59.7h0.9M86.3 59.1h0.9M82.3 67.2h0.9M76.5 62.5h0.9M69.2 64.8h0.9M67.7 92.4h0.9M83.3 61.8h0.9M69.0 90.9h0.9M50.0 86.7h0.9M80.6 77.4h0.9M74.7 86.4h0.9M45.3 100.0h0.9M83.1 63.6h0.9M51.2 82.4h0.9M75.5 63.6h0.9M66.9 65.9h0.9M68.6 67.4h0.9M64.7 95.4h0.9M88.5 53.9h0.9M84.8 59.9h0.9M68.4 95.0h0.9M55.2 102.9h0.9M53.7 93.9h0.9M46.7 84.5h0.9M63.7 99.0h0.9M78.5 59.9h0.9M83.0 61.5h0.9M71.6 90.8h0.9M87.8 56.3h0.9M82.6 61.9h0.9M55.8 94.8h0.9M48.9 95.1h0.9M77.8 60.1h0.9M52.1 90.8h0.9M73.8 64.7h0.9M79.7 59.8h0.9M83.1 62.4h0.9M87.5 55.0h0.9M78.3 84.8h0.9M87.5 62.3h0.9M47.4 85.2h0.9M85.8 64.4h0.9M65.5 94.2h0.9M57.9 76.0h0.9M57.5 99.2h0.9M71.2 95.5h0.9M77.8 79.3h0.9M64.8 63.7h0.9M58.0 98.9h0.9M53.3 90.8h0.9M82.2 67.5h0.9M79.3 76.3h0.9M83.8 66.4h0.9M77.0 60.7h0.9M62.6 69.4h0.9M71.5 65.8h0.9M83.8 61.0h0.9M57.9 69.9h0.9M69.8 66.6h0.9M74.1 63.0h0.9M66.0 69.0h0.9M82.5 60.8h0.9M76.4 63.8h0.9M83.1 61.8h0.9M79.9 62.3h0.9M49.6 99.4h0.9M61.4 72.6h0.9M76.3 61.3h0.9M80.2 59.4h0.9M62.8 94.4h0.9M86.4 67.6h0.9M52.5 78.9h0.9M52.3 86.0h0.9M44.0 95.7h0.9M54.6 78.1h0.9M52.5 86.5h0.9M50.4 86.8h0.9M54.7 80.4h0.9M76.8 61.7h0.9M85.8 59.3h0.9M87.2 59.6h0.9M74.6 87.3h0.9M68.9 95.5h0.9M81.9 71.5h0.9M70.0 90.0h0.9M63.5 95.0h0.9M51.8 83.1h0.9M57.9 94.6h0.9M56.8 76.2h0.9M75.0 88.9h0.9M76.5 88.5h0.9M83.7 67.9h0.9M68.6 92.9h0.9M88.4 55.7h0.9M70.1 90.0h0.9M58.8 73.3h0.9M52.8 100.2h0.9M64.6 69.1h0.9M74.8 88.3h0.9M59.7 96.7h0.9M90.7 53.5h0.9M50.1 84.8h0.9M81.8 69.2h0.9M52.5 101.2h0.9M82.3 67.5h0.9M59.1 73.2h0.9M64.6 67.0h0.9M78.2 62.3h0.9M68.4 63.1h0.9M83.5 61.5h0.9M63.4 69.2h0.9M74.4 92.1h0.9M77.3 88.0h0.9M79.0 76.8h0.9M67.7 95.6h0.9M75.8 85.7h0.9M85.8 62.6h0.9M52.0 80.2h0.9M50.0 80.5h0.9M63.4 69.3h0.9M63.8 94.1h0.9M64.3 94.5h0.9M74.2 59.2h0.9M80.7 62.3h0.9M81.9 68.3h0.9M62.6 70.6h0.9M74.1 62.5h0.9M48.7 96.0h0.9M60.0 69.7h0.9M63.3 67.6h0.9M89.0 53.5h0.9M79.0 58.1h0.9M74.6 63.7h0.9M57.8 76.0h0.9M67.3 93.1h0.9M82.2 67.2h0.9M55.9 99.0h0.9M79.4 82.0h0.9M73.3 90.5h0.9M73.0 90.0h0.9M84.2 60.7h0.9M67.4 97.0h0.9M63.7 66.6h0.9M58.1 96.6h0.9M59.3 74.5h0.9M56.5 75.9h0.9M59.3 72.1h0.9M90.8 54.6h0.9M55.2 93.3h0.9M68.2 64.7h0.9M57.6 76.3h0.9M59.0 73.6h0.9M83.3 61.4h0.9M82.7 65.0h0.9M49.7 101.6h0.9M60.0 99.8h0.9M82.0 77.0h0.9M77.9 79.0h0.9M83.0 71.9h0.9M71.4 90.3h0.9M84.3 61.2h0.9M55.7 75.6h0.9M81.3 62.2h0.9M54.9 97.3h0.9M81.5 78.8h0.9M62.5 96.7h0.9M68.0 93.2h0.9M75.4 91.9h0.9M79.1 60.7h0.9M82.0 57.9h0.9M82.0 62.0h0.9M76.4 83.9h0.9M70.4 65.6h0.9M55.8 78.3h0.9M83.7 60.8h0.9M80.4 79.4h0.9M79.9 81.5h0.9M67.5 92.7h0.9M83.2 62.4h0.9M73.3 64.2h0.9M46.8 84.0h0.9M76.0 85.2h0.9M46.9 99.2h0.9M68.3 91.7h0.9M46.2 88.5h0.9M53.6 82.4h0.9M76.2 87.8h0.9M53.0 90.0h0.9M56.3 99.6h0.9M51.3 93.9h0.9M78.4 78.2h0.9M78.0 83.4h0.9M64.9 69.8h0.9M64.2 66.5h0.9M70.3 91.7h0.9M76.7 86.1h0.9M88.2 63.9h0.9M58.6 74.1h0.9M66.8 68.2h0.9M50.0 101.4h0.9M65.2 94.7h0.9M82.1 67.8h0.9M69.2 95.2h0.9M52.9 90.1h0.9M79.5 61.0h0.9M84.0 60.1h0.9M52.2 91.2h0.9M50.2 98.3h0.9M57.1 94.5h0.9M85.6 60.4h0.9M64.9 99.9h0.9M52.9 99.7h0.9M81.6 77.2h0.9M63.4 94.4h0.9M69.5 90.5h0.9M87.4 57.5h0.9M89.8 54.3h0.9M53.4 91.3h0.9M51.9 88.2h0.9M46.0 101.8h0.9M79.3 62.6h0.9M52.3 85.0h0.9M62.9 95.2h0.9M73.7 87.1h0.9M82.9 77.9h0.9M49.9 85.0h0.9M78.8 62.8h0.9M71.7 64.9h0.9M88.6 59.2h0.9M83.6 60.6h0.9M53.2 80.0h0.9M73.7 89.0h0.9M62.1 100.4h0.9M51.6 82.0h0.9M55.7 74.8h0.9M80.3 76.3h0.9M78.3 80.0h0.9M55.2 76.0h0.9M77.5 81.3h0.9M64.8 93.8h0.9M61.6 97.4h0.9M70.0 66.0h0.9M48.6 98.1h0.9M51.0 94.1h0.9M70.5 92.6h0.9M52.5 86.5h0.9M53.9 77.6h0.9M55.0 101.2h0.9M52.7 94.0h0.9M59.3 96.1h0.9M78.1 79.6h0.9M84.5 59.6h0.9M61.3 71.9h0.9M72.2 65.7h0.9M51.4 87.0h0.9M74.1 91.9h0.9M87.1 57.6h0.9M83.3 60.6h0.9M82.8 61.7h0.9M80.5 82.1h0.9M47.6 88.3h0.9M83.3 74.6h0.9M55.2 102.9h0.9M54.1 94.8h0.9M53.1 90.3h0.9M69.9 98.1h0.9M84.3 65.5h0.9M72.2 64.4h0.9M85.8 58.2h0.9M56.6 77.2h0.9M50.9 98.4h0.9M78.7 83.2h0.9M62.2 69.5h0.9M49.2 96.8h0.9M50.1 86.1h0.9M82.8 65.5h0.9M49.3 103.0h0.9M55.9 75.3h0.9M57.1 74.7h0.9M88.9 65.1h0.9M78.7 81.3h0.9M53.7 91.7h0.9M57.6 71.1h0.9M52.7 86.7h0.9M83.1 61.8h0.9M53.4 92.6h0.9M83.3 61.5h0.9M79.8 81.0h0.9M51.8 75.7h0.9M82.8 73.2h0.9M81.0 77.8h0.9M82.0 60.1h0.9M76.3 63.5h0.9M85.4 60.8h0.9M78.3 78.4h0.9M80.7 75.2h0.9M84.0 64.5h0.9M85.0 57.1h0.9M48.9 86.4h0.9M69.9 90.1h0.9M52.0 86.1h0.9M85.2 59.0h0.9M62.7 70.0h0.9M65.0 69.8h0.9M83.0 63.1h0.9M49.7 83.8h0.9M65.1 95.2h0.9M83.0 66.7h0.9M58.0 73.4h0.9M74.6 86.7h0.9M73.6 90.9h0.9M61.3 97.7h0.9M81.8 69.6h0.9M83.2 59.2h0.9M83.6 61.7h0.9M54.1 75.8h0.9M58.3 75.5h0.9M52.3 76.4h0.9M50.2 79.8h0.9M48.8 99.0h0.9M68.8 91.1h0.9M79.8 57.9h0.9M48.0 98.8h0.9M77.9 79.8h0.9M53.7 100.1h0.9M84.3 66.8h0.9M43.3 90.5h0.9M81.0 62.3h0.9M57.3 74.8h0.9M52.5 78.2h0.9M85.2 65.7h0.9M59.9 73.6h0.9M73.8 64.6h0.9M51.0 81.3h0.9M51.8 94.9h0.9M55.3 79.2h0.9M78.0 80.1h0.9M82.5 69.3h0.9M82.3 67.0h0.9M85.4 62.0h0.9M74.2 64.8h0.9M76.5 61.2h0.9M59.0 94.8h0.9M67.4 93.0h0.9M70.7 89.5h0.9M80.7 75.1h0.9M52.4 81.9h0.9M66.1 93.7h0.9M84.7 62.6h0.9M70.8 90.0h0.9M58.0 70.2h0.9M74.1 87.0h0.9M63.9 70.6h0.9M73.1 88.3h0.9M51.5 92.7h0.9M54.7 95.6h0.9M69.5 92.1h0.9M75.3 62.4h0.9M77.4 61.9h0.9M43.8 94.6h0.9M81.5 70.1h0.9M83.1 61.9h0.9M51.5 91.4h0.9M67.1 95.6h0.9M80.4 62.4h0.9M68.6 92.2h0.9M83.1 62.4h0.9M65.8 69.2h0.9M78.7 62.9h0.9M47.7 98.5h0.9M49.6 77.1h0.9M81.0 61.9h0.9M49.0 88.0h0.9M79.1 83.1h0.9M48.8 86.2h0.9M77.4 62.1h0.9M84.6 62.9h0.9M49.4 92.3h0.9M53.1 75.7h0.9M83.4 64.4h0.9M44.6 92.8h0.9M84.8 66.1h0.9M90.8 57.1h0.9M74.9 59.0h0.9M73.2 59.9h0.9M86.5 59.5h0.9M56.4 94.6h0.9M89.6 55.0h0.9M56.9 96.3h0.9M82.1 80.7h0.9M67.5 97.4h0.9M58.0 95.4h0.9M76.2 58.6h0.9M63.8 94.1h0.9M76.0 60.7h0.9M64.9 95.5h0.9M71.2 89.4h0.9M49.9 85.3h0.9M88.9 55.5h0.9M81.9 69.5h0.9M83.7 65.1h0.9M51.9 83.7h0.9M49.6 85.7h0.9M84.5 77.1h0.9M64.1 94.6h0.9M60.8 94.9h0.9M76.7 81.5h0.9M63.6 66.8h0.9M80.4 83.0h0.9M51.5 88.4h0.9M82.0 62.0h0.9M71.7 64.2h0.9M69.2 92.9h0.9M53.3 96.0h0.9M82.2 68.4h0.9M73.4 59.8h0.9M57.5 96.5h0.9M86.9 57.6h0.9M82.5 59.2h0.9M76.9 88.6h0.9M69.1 63.0h0.9M53.1 83.9h0.9M68.3 91.8h0.9M77.6 84.1h0.9M85.3 59.4h0.9M89.8 54.4h0.9M54.7 79.9h0.9M58.1 96.3h0.9M63.8 98.7h0.9M77.8 79.5h0.9M73.8 63.0h0.9M76.6 81.6h0.9M50.8 91.6h0.9M80.2 78.2h0.9M68.2 93.1h0.9M63.9 70.4h0.9M79.2 57.5h0.9M82.9 79.5h0.9M79.5 75.7h0.9M54.9 79.6h0.9M72.4 65.1h0.9M83.2 67.8h0.9M54.3 75.9h0.9M84.6 61.4h0.9M84.5 69.0h0.9M82.8 61.7h0.9M89.8 57.4h0.9M60.5 96.2h0.9M70.8 95.5h0.9M46.6 89.5h0.9M51.7 92.1h0.9M47.7 84.8h0.9M47.7 91.0h0.9M78.1 81.0h0.9M60.3 94.9h0.9M81.5 70.9h0.9M82.0 68.2h0.9M85.4 62.7h0.9M84.6 59.9h0.9M60.4 69.7h0.9M85.2 73.3h0.9M55.2 94.5h0.9M83.2 61.7h0.9M50.8 80.1h0.9M72.2 88.0h0.9M75.7 64.0h0.9M48.5 81.4h0.9M80.6 61.2h0.9M78.8 61.3h0.9M49.6 93.0h0.9M87.8 63.8h0.9M57.3 96.3h0.9M88.5 64.2h0.9M84.7 63.6h0.9M58.6 73.0h0.9M84.8 59.6h0.9M84.2 60.4h0.9M74.8 62.1h0.9M54.8 79.7h0.9M76.1 63.9h0.9M70.1 65.6h0.9M70.7 62.4h0.9M56.4 74.0h0.9M51.8 88.8h0.9M62.4 94.7h0.9M79.8 76.1h0.9M52.8 83.2h0.9M57.2 94.5h0.9M84.5 60.1h0.9M80.5 59.8h0.9M84.7 59.8h0.9M80.7 72.3h0.9M67.4 68.1h0.9M84.4 62.6h0.9M84.6 64.8h0.9M81.7 72.4h0.9M56.0 77.2h0.9M54.5 75.1h0.9M57.2 97.5h0.9M74.7 90.6h0.9M88.8 65.7h0.9M84.5 63.8h0.9M62.4 98.1h0.9M85.2 71.1h0.9M80.0 81.3h0.9M78.3 78.4h0.9M64.0 69.7h0.9M85.2 60.7h0.9M82.7 67.1h0.9M80.4 76.3h0.9M48.0 102.3h0.9M81.2 78.7h0.9M72.1 64.8h0.9M64.1 95.4h0.9M57.1 71.3h0.9M71.4 89.1h0.9M85.4 67.0h0.9M76.6 86.2h0.9M81.6 70.5h0.9M60.2 72.8h0.9M85.0 59.6h0.9M83.5 64.2h0.9M69.2 97.5h0.9M74.1 88.4h0.9M82.1 67.9h0.9M76.6 83.1h0.9M74.8 64.4h0.9M78.2 61.8h0.9M53.0 99.8h0.9M52.5 93.8h0.9M86.3 57.8h0.9M53.1 82.4h0.9M63.2 94.5h0.9M57.4 75.7h0.9M56.3 101.5h0.9M52.7 90.2h0.9M84.4 60.0h0.9M74.2 89.4h0.9M49.7 89.0h0.9M80.1 62.3h0.9M54.0 78.7h0.9M89.6 54.0h0.9M60.3 96.4h0.9M80.9 72.0h0.9M78.9 81.0h0.9M52.7 80.2h0.9M51.4 101.1h0.9M85.3 57.6h0.9M71.8 92.8h0.9M51.1 94.6h0.9M59.2 96.6h0.9M86.3 62.4h0.9M51.1 76.9h0.9M63.4 70.8h0.9M51.7 74.9h0.9M48.2 86.0h0.9M61.4 67.4h0.9M52.1 94.4h0.9M52.8 90.2h0.9M81.5 70.8h0.9M86.0 58.8h0.9M55.5 78.9h0.9M71.9 94.9h0.9M83.2 64.6h0.9M66.8 96.2h0.9M51.3 81.7h0.9M78.4 62.6h0.9M62.8 71.2h0.9M69.1 67.3h0.9M72.3 88.9h0.9M82.4 79.4h0.9M85.6 59.2h0.9M83.3 60.8h0.9M86.6 57.7h0.9M65.8 96.9h0.9M66.8 97.0h0.9M53.2 78.5h0.9M76.9 58.7h0.9M84.0 61.1h0.9M52.5 90.0h0.9M74.9 63.2h0.9M78.1 60.3h0.9M49.4 93.9h0.9M60.9 94.9h0.9M51.4 85.6h0.9M75.6 61.6h0.9M53.3 93.1h0.9M61.7 95.2h0.9M83.3 76.4h0.9M55.8 76.7h0.9M61.5 95.8h0.9M70.5 92.1h0.9M77.8 81.0h0.9M81.6 81.7h0.9M67.1 92.8h0.9M58.8 71.2h0.9M67.9 67.2h0.9M80.9 72.9h0.9M66.3 68.4h0.9M53.7 78.7h0.9M71.4 93.2h0.9M71.1 89.9h0.9M85.8 57.4h0.9M44.2 98.3h0.9M77.7 60.6h0.9M51.3 99.7h0.9M89.0 56.9h0.9M60.5 97.0h0.9M59.0 95.5h0.9M75.3 64.1h0.9M51.0 101.8h0.9M80.2 75.6h0.9M76.7 63.5h0.9M84.7 71.0h0.9M88.4 64.9h0.9M70.4 89.8h0.9M82.8 65.3h0.9M59.2 95.9h0.9M71.2 89.2h0.9M80.5 59.6h0.9M54.2 81.5h0.9M56.8 96.1h0.9M75.9 62.5h0.9M50.4 99.1h0.9M78.2 61.1h0.9M50.6 86.7h0.9M47.1 100.1h0.9M57.6 70.8h0.9M51.3 96.4h0.9M84.7 66.4h0.9M70.2 91.0h0.9M85.1 73.3h0.9M72.1 90.6h0.9M82.6 61.6h0.9M73.9 86.9h0.9M84.3 75.4h0.9M47.7 96.9h0.9M67.5 96.1h0.9M87.0 56.8h0.9M65.0 65.1h0.9M78.7 63.0h0.9M76.1 86.6h0.9M78.9 81.5h0.9M62.5 99.5h0.9M55.8 77.3h0.9M80.1 74.7h0.9M58.3 72.8h0.9M47.4 100.0h0.9M45.6 99.3h0.9M64.5 70.2h0.9M74.2 86.3h0.9M61.0 68.1h0.9M82.5 66.3h0.9M85.0 56.9h0.9M81.2 56.3h0.9M69.5 63.6h0.9M76.9 88.2h0.9M53.6 91.4h0.9M81.7 62.1h0.9M50.1 79.9h0.9M84.3 60.2h0.9M84.9 66.2h0.9M82.9 68.3h0.9M83.1 62.0h0.9M53.4 83.2h0.9M71.6 65.4h0.9M75.4 83.5h0.9M71.7 65.8h0.9M61.4 94.9h0.9M52.2 90.2h0.9M84.0 76.6h0.9M91.3 53.4h0.9M51.3 93.1h0.9M70.8 89.6h0.9M85.9 58.5h0.9M68.7 67.5h0.9M90.0 53.9h0.9M75.7 82.9h0.9M64.7 67.3h0.9M82.8 61.9h0.9M78.1 78.7h0.9M67.1 94.8h0.9M48.7 87.6h0.9M71.5 65.5h0.9M83.0 63.3h0.9M59.6 97.2h0.9M82.3 72.9h0.9M60.9 95.3h0.9M89.3 59.4h0.9M79.3 62.7h0.9M79.6 77.0h0.9M89.0 54.1h0.9M61.5 71.2h0.9M83.4 60.5h0.9M80.7 78.3h0.9M79.0 80.9h0.9M48.4 101.8h0.9M77.0 85.0h0.9M55.3 74.4h0.9M83.1 63.7h0.9M84.1 69.3h0.9M81.8 60.7h0.9M78.8 85.3h0.9M77.2 61.2h0.9M70.5 66.0h0.9M63.6 70.5h0.9M84.8 57.8h0.9M52.4 89.6h0.9M86.2 58.8h0.9M72.4 94.3h0.9M60.2 102.7h0.9M71.5 88.7h0.9M55.4 93.6h0.9M76.1 61.4h0.9M52.2 97.8h0.9M78.4 62.0h0.9M85.9 59.1h0.9M85.7 59.4h0.9M54.0 92.7h0.9M78.9 83.0h0.9M70.4 92.7h0.9M80.2 61.8h0.9M78.7 62.7h0.9M82.4 71.2h0.9M87.0 56.6h0.9M48.1 91.2h0.9M51.4 89.4h0.9M90.6 58.7h0.9M89.4 62.5h0.9M89.6 59.8h0.9M71.7 88.7h0.9M58.7 98.1h0.9M57.1 96.5h0.9M83.4 61.5h0.9M74.1 61.1h0.9M89.8 58.7h0.9M59.6 95.2h0.9M63.1 69.3h0.9M51.0 79.7h0.9M82.7 80.5h0.9M50.9 99.9h0.9M74.2 90.4h0.9M53.6 91.8h0.9M83.0 58.1h0.9M73.2 94.5h0.9M83.0 65.1h0.9M73.2 87.4h0.9M58.7 95.3h0.9M79.3 62.7h0.9M57.1 74.9h0.9M87.4 61.2h0.9M87.1 56.7h0.9M54.7 78.5h0.9M49.9 92.8h0.9M52.4 90.9h0.9M80.3 74.7h0.9M51.7 85.9h0.9M86.3 62.9h0.9M87.8 55.3h0.9M83.4 65.3h0.9M52.2 101.2h0.9M80.7 80.9h0.9M63.3 66.4h0.9M68.4 65.0h0.9M51.4 90.3h0.9M79.1 85.4h0.9M79.9 61.3h0.9M74.0 62.3h0.9M83.1 62.2h0.9M83.2 64.6h0.9M51.8 84.9h0.9M72.4 61.2h0.9M46.4 82.2h0.9M75.0 84.2h0.9M58.1 95.0h0.9M60.2 69.2h0.9M86.4 61.7h0.9M75.7 83.4h0.9M64.0 94.7h0.9M78.3 63.1h0.9M80.5 84.8h0.9M47.6 92.8h0.9M78.6 77.5h0.9M82.7 80.3h0.9M80.9 73.3h0.9M51.4 88.5h0.9M81.9 59.2h0.9M87.4 55.4h0.9M68.3 91.9h0.9M83.8 58.4h0.9M69.1 90.8h0.9M51.3 78.3h0.9M77.6 85.7h0.9M76.8 81.1h0.9M82.2 67.1h0.9M65.9 96.6h0.9M72.8 89.0h0.9M90.5 52.8h0.9M87.0 55.2h0.9M66.4 93.6h0.9M60.1 97.0h0.9M70.0 66.2h0.9M78.8 79.0h0.9M76.1 88.2h0.9M82.7 73.0h0.9M85.8 58.3h0.9M80.3 73.6h0.9M83.1 67.9h0.9M82.9 63.9h0.9M80.0 61.9h0.9M84.9 58.3h0.9M85.9 58.5h0.9M54.0 92.4h0.9M80.5 61.0h0.9M81.0 71.8h0.9M54.5 94.9h0.9M88.7 58.6h0.9M84.9 76.4h0.9M85.9 60.4h0.9M79.0 87.2h0.9M81.5 72.9h0.9M82.8 61.5h0.9M66.4 68.8h0.9M81.7 74.5h0.9M60.0 94.9h0.9M73.3 86.5h0.9M89.3 62.4h0.9M75.7 88.1h0.9M61.6 95.7h0.9M68.6 65.4h0.9M59.2 72.2h0.9M59.9 95.0h0.9M89.2 55.8h0.9M90.4 53.4h0.9M58.0 74.9h0.9M69.4 62.6h0.9M58.0 68.9h0.9M50.8 95.0h0.9M56.2 71.8h0.9M65.1 68.4h0.9M54.7 74.9h0.9M73.1 63.6h0.9M66.9 68.6h0.9M83.6 61.3h0.9M50.8 85.8h0.9M83.3 63.3h0.9M69.5 95.9h0.9M79.6 56.9h0.9M55.2 79.0h0.9M78.7 78.1h0.9M52.4 81.9h0.9M49.2 99.6h0.9M51.9 87.4h0.9M70.0 92.7h0.9M80.4 73.5h0.9M82.0 68.4h0.9M83.4 64.4h0.9M83.1 61.8h0.9M63.6 98.8h0.9M61.6 102.6h0.9M53.2 81.7h0.9M83.8 75.7h0.9M49.6 86.8h0.9M72.4 87.7h0.9M65.6 96.1h0.9M64.1 65.8h0.9M52.6 84.2h0.9M81.4 73.8h0.9M83.7 62.0h0.9M86.1 58.0h0.9M72.6 88.0h0.9M72.5 64.3h0.9M85.1 60.6h0.9M51.9 79.3h0.9M45.4 85.1h0.9M78.8 62.1h0.9M52.4 94.8h0.9M77.9 63.3h0.9M73.9 86.8h0.9M81.6 72.5h0.9M87.6 56.8h0.9M58.7 71.0h0.9M89.8 55.4h0.9M62.1 100.6h0.9M83.0 61.7h0.9M83.5 68.0h0.9M65.8 96.3h0.9M56.7 77.1h0.9M72.1 62.3h0.9M67.5 64.1h0.9M57.0 72.3h0.9M79.7 62.0h0.9M80.1 74.9h0.9M76.6 81.7h0.9M82.7 64.8h0.9M70.0 90.1h0.9M78.6 77.6h0.9M61.5 66.9h0.9M64.9 97.4h0.9M87.1 57.4h0.9M88.3 55.0h0.9M63.4 70.9h0.9M84.6 75.0h0.9M89.8 54.4h0.9M68.2 67.6h0.9M82.9 64.4h0.9M87.3 57.8h0.9M81.8 60.2h0.9M59.7 73.8h0.9M51.1 97.6h0.9M82.9 64.5h0.9M48.8 102.7h0.9M72.7 87.6h0.9M53.9 92.6h0.9M86.1 58.6h0.9M49.3 86.6h0.9M51.6 81.1h0.9M49.0 87.8h0.9M51.5 84.6h0.9M50.2 87.2h0.9M72.3 61.2h0.9M74.1 64.3h0.9M72.2 88.8h0.9M83.9 60.3h0.9M54.7 80.1h0.9M84.1 60.7h0.9M56.7 98.6h0.9M49.3 86.9h0.9M65.5 63.4h0.9M72.9 88.3h0.9M62.4 97.4h0.9M85.0 68.7h0.9M80.4 81.6h0.9M69.2 61.7h0.9M68.6 91.6h0.9M64.3 70.3h0.9M88.1 53.4h0.9M84.4 60.3h0.9M82.3 61.8h0.9M87.0 58.2h0.9M58.6 70.9h0.9M81.5 61.3h0.9M65.8 65.2h0.9M57.0 76.2h0.9M61.4 95.3h0.9M59.0 101.5h0.9M74.7 89.3h0.9M59.7 71.4h0.9M83.5 61.8h0.9M84.0 61.9h0.9M50.5 98.3h0.9M75.7 87.5h0.9M63.0 98.8h0.9M50.7 82.9h0.9M73.8 86.0h0.9M55.1 94.5h0.9M54.5 92.8h0.9M89.2 59.0h0.9M86.9 57.2h0.9M70.0 65.9h0.9M82.3 67.2h0.9M63.6 102.3h0.9M62.1 72.0h0.9M51.8 82.2h0.9M89.5 57.4h0.9M83.6 65.4h0.9M53.3 91.5h0.9M83.3 61.7h0.9M53.6 82.9h0.9M71.2 65.0h0.9M79.6 60.1h0.9M64.5 69.6h0.9M84.7 61.4h0.9M79.4 80.0h0.9M62.5 97.7h0.9M82.9 60.5h0.9M64.3 66.8h0.9M53.5 92.9h0.9M84.9 73.4h0.9M48.9 89.6h0.9M69.3 90.8h0.9M65.5 94.8h0.9M82.9 61.4h0.9M69.3 92.0h0.9M57.3 94.7h0.9M64.9 94.2h0.9M78.5 77.9h0.9M85.8 59.5h0.9M76.0 87.3h0.9M78.2 78.9h0.9M82.9 80.4h0.9M80.1 75.2h0.9M50.5 78.7h0.9M62.2 95.1h0.9M64.6 93.7h0.9M83.1 62.3h0.9M83.1 62.3h0.9M89.8 54.0h0.9M78.8 61.2h0.9M79.0 58.4h0.9M54.2 97.4h0.9M72.0 65.8h0.9M50.7 82.0h0.9M85.5 69.1h0.9M50.6 89.6h0.9M47.4 92.1h0.9M74.0 86.0h0.9M44.4 88.9h0.9M43.5 91.2h0.9M86.7 70.4h0.9M83.1 67.2h0.9M47.5 83.8h0.9M62.7 69.0h0.9M54.2 80.1h0.9M51.8 88.5h0.9M54.1 81.6h0.9M46.4 99.6h0.9M63.3 94.6h0.9M89.7 62.8h0.9M52.7 92.8h0.9M83.8 61.0h0.9M55.2 73.1h0.9M85.6 67.3h0.9M53.9 82.0h0.9M80.8 76.3h0.9M51.9 84.5h0.9M82.5 61.7h0.9M82.9 60.0h0.9M87.2 59.8h0.9M69.2 95.7h0.9M64.6 95.9h0.9M57.5 94.6h0.9M69.0 90.9h0.9M75.2 64.3h0.9M45.9 86.1h0.9M88.3 55.6h0.9M54.7 95.9h0.9M74.0 85.9h0.9M54.7 73.8h0.9M51.0 93.6h0.9M67.2 66.6h0.9M87.5 69.7h0.9M55.0 94.9h0.9M82.7 61.9h0.9M90.1 60.7h0.9M82.0 76.7h0.9M76.2 82.5h0.9M50.5 87.1h0.9M61.1 72.7h0.9M49.1 93.4h0.9M70.9 95.1h0.9M84.8 57.3h0.9M83.3 65.8h0.9M70.7 89.3h0.9M72.6 88.8h0.9M75.9 86.7h0.9M84.1 70.0h0.9M89.9 53.3h0.9M83.9 60.1h0.9M46.9 87.8h0.9M80.1 59.9h0.9M73.6 90.7h0.9M76.8 62.5h0.9M58.3 69.0h0.9M67.3 68.3h0.9M56.2 76.0h0.9M85.9 58.8h0.9M57.4 70.9h0.9M61.4 99.2h0.9M51.7 84.7h0.9M76.5 82.5h0.9M79.7 60.5h0.9M87.3 54.3h0.9M57.9 72.9h0.9M80.2 62.2h0.9M47.5 85.0h0.9M61.4 95.2h0.9M79.2 62.6h0.9M77.1 62.2h0.9M82.1 74.9h0.9M45.8 93.6h0.9M83.1 63.2h0.9M83.8 61.1h0.9M81.8 68.8h0.9M74.2 64.6h0.9M85.6 74.2h0.9M85.9 61.2h0.9M79.6 62.6h0.9M88.0 61.5h0.9M55.6 93.7h0.9M60.7 94.8h0.9M47.4 98.1h0.9M85.3 64.9h0.9M52.9 98.7h0.9M83.5 67.2h0.9M64.7 93.7h0.9M58.5 75.0h0.9M85.9 68.9h0.9M83.1 61.9h0.9M53.3 81.4h0.9M76.2 60.6h0.9M80.8 72.2h0.9M83.3 63.9h0.9M82.1 74.2h0.9M88.7 61.9h0.9M52.5 93.4h0.9M86.9 57.6h0.9M50.2 91.4h0.9M85.8 65.0h0.9M78.5 80.7h0.9M66.3 67.3h0.9M49.5 95.5h0.9M54.5 93.6h0.9M64.2 64.2h0.9M63.8 94.0h0.9M82.0 72.2h0.9M81.5 70.1h0.9M51.0 96.1h0.9M83.2 61.7h0.9M49.8 82.9h0.9M66.0 69.1h0.9M57.8 76.1h0.9M57.6 76.3h0.9M85.9 60.2h0.9M60.4 96.0h0.9M59.4 74.5h0.9M85.0 60.3h0.9M85.7 58.9h0.9M50.0 88.5h0.9M82.8 74.0h0.9M47.5 92.9h0.9M88.0 56.4h0.9M88.4 57.1h0.9M88.3 56.3h0.9M52.7 86.3h0.9M52.1 84.8h0.9M49.1 93.1h0.9M78.8 62.0h0.9M75.1 88.1h0.9M73.4 92.6h0.9M72.0 59.8h0.9M52.6 88.8h0.9M68.6 96.9h0.9M65.2 100.1h0.9M71.7 89.8h0.9M54.1 93.0h0.9M70.3 97.6h0.9M64.5 93.9h0.9M47.4 84.0h0.9M52.0 89.5h0.9M47.2 100.7h0.9M88.7 56.1h0.9M47.0 93.7h0.9M60.8 99.3h0.9M76.6 86.8h0.9M66.6 68.0h0.9M51.9 75.9h0.9M81.0 61.0h0.9M83.0 65.1h0.9M63.6 95.4h0.9M62.6 71.6h0.9M80.9 74.1h0.9M78.7 77.7h0.9M70.7 91.8h0.9M87.4 58.0h0.9M56.5 77.5h0.9M65.8 64.2h0.9M81.6 71.9h0.9M82.1 67.7h0.9M54.2 81.1h0.9M84.5 55.9h0.9M89.7 53.7h0.9M52.1 89.0h0.9M52.1 90.8h0.9M83.0 61.9h0.9M84.8 62.1h0.9M63.1 95.6h0.9M57.1 76.7h0.9M77.9 59.8h0.9M57.8 75.9h0.9M55.1 93.7h0.9M54.2 96.6h0.9M80.1 61.5h0.9M62.3 71.8h0.9M79.7 78.1h0.9M80.5 62.4h0.9M69.8 64.5h0.9M52.5 83.8h0.9M68.6 67.5h0.9M60.4 73.4h0.9M66.9 100.2h0.9M57.2 75.5h0.9M64.0 94.0h0.9M89.4 55.6h0.9M63.0 96.5h0.9M48.7 94.3h0.9M63.5 69.2h0.9M53.1 91.9h0.9M84.5 66.4h0.9M63.5 96.8h0.9M66.3 68.9h0.9M67.3 92.2h0.9M56.0 77.5h0.9M70.1 89.9h0.9M81.7 75.6h0.9M80.4 60.7h0.9M85.7 63.9h0.9M64.7 69.5h0.9M48.2 82.9h0.9M88.9 57.5h0.9M84.8 60.1h0.9M77.1 84.6h0.9M53.8 77.4h0.9M64.3 67.5h0.9M64.6 97.0h0.9M77.0 62.9h0.9M83.4 66.7h0.9M65.7 69.3h0.9M54.3 74.7h0.9M67.8 92.1h0.9M86.2 58.3h0.9M66.7 92.9h0.9M75.8 84.5h0.9M45.7 84.1h0.9M52.8 90.6h0.9M80.1 74.0h0.9M66.3 97.2h0.9M69.7 66.8h0.9M68.0 91.8h0.9M64.4 70.1h0.9M46.2 91.0h0.9M62.8 67.6h0.9M80.4 82.6h0.9M76.3 63.8h0.9M85.4 65.5h0.9M51.5 88.0h0.9M82.7 61.7h0.9M85.8 67.5h0.9M86.4 64.5h0.9M81.3 77.8h0.9M84.9 60.4h0.9M53.2 77.8h0.9M53.6 92.1h0.9M77.4 89.0h0.9M54.9 74.3h0.9M53.1 93.9h0.9M72.7 87.7h0.9M78.7 78.6h0.9M72.1 94.5h0.9M74.4 63.5h0.9M90.0 54.1h0.9M64.7 97.0h0.9M52.5 85.1h0.9M62.7 71.0h0.9M77.3 87.0h0.9M53.9 78.1h0.9M57.9 95.5h0.9M80.8 61.2h0.9M83.0 71.4h0.9M85.3 63.5h0.9M91.3 54.3h0.9M59.9 94.9h0.9M84.2 75.7h0.9M68.6 65.2h0.9M62.9 70.8h0.9M53.4 77.7h0.9M50.2 81.1h0.9M57.3 76.5h0.9M64.0 64.8h0.9M54.9 97.2h0.9M76.8 81.8h0.9M86.2 68.0h0.9M69.4 91.5h0.9M46.8 96.1h0.9M83.6 60.7h0.9M74.2 64.7h0.9M50.6 93.6h0.9M84.6 62.7h0.9M81.2 71.1h0.9M79.9 81.9h0.9M82.6 68.9h0.9M62.9 97.5h0.9M53.4 77.4h0.9M84.4 60.8h0.9M77.7 79.6h0.9M83.2 57.2h0.9M50.9 99.0h0.9M52.9 92.6h0.9M50.5 88.9h0.9M52.4 80.1h0.9M77.8 81.0h0.9M48.9 78.6h0.9M85.4 63.7h0.9M67.3 68.2h0.9M66.2 69.0h0.9M69.6 92.5h0.9M62.1 68.2h0.9M82.1 69.8h0.9M76.0 62.3h0.9M50.1 101.2h0.9M56.4 94.8h0.9M82.5 75.3h0.9M66.7 64.7h0.9M55.0 94.5h0.9M73.8 87.5h0.9M81.3 78.8h0.9M43.6 92.9h0.9M84.6 61.5h0.9M64.3 95.9h0.9M83.1 63.6h0.9M79.8 57.1h0.9M63.3 95.4h0.9M84.5 62.9h0.9M49.2 97.9h0.9M78.0 81.8h0.9M43.6 90.7h0.9M69.1 63.0h0.9M47.0 92.0h0.9M72.4 65.5h0.9M50.2 87.0h0.9M67.4 63.3h0.9M62.6 94.9h0.9M53.5 76.8h0.9M69.4 92.6h0.9M56.7 71.6h0.9M75.8 64.1h0.9M73.9 94.1h0.9M54.3 95.5h0.9M59.6 95.2h0.9M82.0 70.1h0.9M67.7 92.7h0.9M66.5 92.7h0.9M74.0 64.7h0.9M53.4 75.8h0.9M86.0 67.1h0.9M82.8 70.6h0.9M75.0 88.7h0.9M51.2 86.5h0.9M76.9 81.5h0.9M81.8 71.0h0.9M53.4 80.7h0.9M65.0 100.3h0.9M56.0 94.3h0.9M68.7 64.8h0.9M84.1 58.7h0.9M56.9 76.6h0.9M52.7 74.1h0.9M44.6 88.5h0.9M46.2 96.4h0.9M88.2 63.6h0.9M52.5 91.0h0.9M82.9 78.9h0.9M80.1 76.9h0.9M70.9 89.4h0.9M54.7 93.3h0.9M78.8 62.1h0.9M81.9 70.2h0.9M63.8 95.0h0.9M83.8 76.0h0.9M67.9 67.6h0.9M76.7 82.2h0.9M54.8 97.9h0.9M47.3 88.9h0.9M84.5 64.7h0.9M53.8 81.3h0.9M54.1 74.6h0.9M74.5 86.8h0.9M82.7 61.9h0.9M56.9 77.2h0.9M80.4 73.9h0.9M69.2 92.8h0.9M83.0 67.6h0.9M63.4 94.4h0.9M85.5 59.6h0.9M56.2 75.8h0.9M83.6 60.9h0.9M81.1 61.6h0.9M80.3 75.1h0.9M52.7 98.5h0.9M52.7 85.5h0.9M53.7 93.8h0.9M50.1 92.2h0.9M85.3 62.4h0.9M49.8 99.1h0.9M50.6 88.6h0.9M51.9 92.3h0.9M83.2 61.4h0.9M51.8 88.8h0.9M53.1 91.5h0.9M46.7 86.9h0.9M83.3 63.7h0.9M46.2 91.2h0.9M47.9 89.5h0.9M65.7 65.4h0.9M59.6 99.9h0.9M62.5 71.7h0.9M61.0 95.8h0.9M87.7 64.7h0.9M66.5 92.7h0.9M82.4 62.0h0.9M51.8 93.5h0.9M48.5 82.7h0.9M83.4 62.1h0.9M75.7 61.7h0.9M50.7 90.0h0.9M69.1 92.9h0.9M75.2 61.6h0.9M57.4 76.2h0.9M90.2 53.9h0.9M65.5 95.2h0.9M52.7 86.1h0.9M79.2 77.6h0.9M54.7 74.0h0.9M82.7 67.3h0.9M59.7 74.1h0.9M69.7 66.8h0.9M56.9 98.0h0.9M86.4 66.6h0.9M46.3 93.1h0.9M47.6 80.4h0.9M52.9 99.2h0.9M64.4 69.4h0.9M87.8 56.5h0.9M54.2 92.9h0.9M66.8 68.2h0.9M83.3 61.3h0.9M85.0 58.3h0.9M84.1 64.7h0.9M55.3 78.4h0.9M43.1 94.4h0.9M77.6 80.0h0.9M56.9 74.6h0.9M73.7 92.0h0.9M83.3 62.3h0.9M63.3 66.1h0.9M49.8 79.1h0.9M86.6 61.5h0.9M72.9 87.6h0.9M72.5 90.9h0.9M63.2 94.3h0.9M84.0 61.5h0.9M80.9 75.1h0.9M87.9 56.2h0.9M60.6 72.8h0.9M70.4 61.0h0.9M82.5 60.5h0.9M59.2 94.8h0.9M63.4 94.5h0.9M48.0 82.3h0.9M81.3 71.0h0.9M57.2 94.4h0.9M76.5 63.2h0.9M57.4 98.3h0.9M83.1 62.7h0.9M83.1 73.4h0.9M59.7 72.8h0.9M83.4 61.4h0.9M69.0 91.2h0.9M50.8 83.7h0.9M84.4 60.4h0.9M57.9 71.0h0.9M89.2 55.3h0.9M82.7 65.4h0.9M46.2 84.3h0.9M46.8 97.3h0.9M44.9 92.1h0.9M89.3 56.3h0.9M58.4 99.3h0.9M45.8 96.8h0.9M75.1 88.1h0.9M54.1 98.3h0.9M55.0 93.6h0.9M58.3 100.5h0.9M81.6 75.8h0.9M81.1 62.2h0.9M79.7 62.6h0.9M67.0 92.4h0.9M55.8 73.5h0.9M55.1 75.9h0.9M71.9 65.5h0.9M81.2 71.6h0.9M66.7 99.9h0.9M72.6 62.8h0.9M53.2 102.6h0.9M67.8 96.3h0.9M53.5 79.6h0.9M58.0 75.7h0.9M83.8 78.5h0.9M80.7 74.0h0.9M86.2 64.7h0.9M83.1 65.7h0.9M84.8 70.3h0.9M54.8 93.0h0.9M84.0 70.1h0.9M83.4 64.6h0.9M87.1 55.1h0.9M72.3 88.7h0.9M70.3 97.6h0.9M90.4 55.6h0.9M56.6 94.4h0.9M52.8 85.3h0.9M60.9 71.8h0.9M76.7 60.3h0.9M68.1 67.8h0.9M89.4 56.0h0.9M88.1 65.2h0.9M61.0 94.8h0.9M55.4 79.2h0.9M82.8 61.8h0.9M85.0 58.1h0.9M81.0 62.1h0.9M66.1 65.2h0.9M53.0 89.9h0.9M83.4 66.5h0.9M74.3 63.3h0.9M89.2 57.6h0.9M54.0 81.8h0.9M62.5 70.4h0.9M52.0 92.7h0.9M52.4 90.9h0.9M65.0 69.0h0.9M77.3 81.5h0.9M76.6 63.5h0.9M57.6 72.0h0.9M52.4 80.8h0.9M87.7 55.3h0.9M56.2 71.1h0.9M70.8 66.4h0.9M67.4 92.1h0.9M80.4 79.3h0.9M85.7 60.2h0.9M74.2 64.5h0.9M76.3 63.9h0.9M48.3 100.9h0.9M82.0 60.0h0.9M69.6 90.8h0.9M83.3 60.9h0.9M58.3 94.9h0.9M54.5 95.2h0.9M84.0 64.3h0.9M82.4 66.5h0.9M72.9 60.8h0.9M78.0 79.0h0.9M84.8 61.6h0.9M81.1 71.5h0.9M85.3 57.6h0.9M58.2 75.1h0.9M73.3 86.7h0.9M62.5 100.5h0.9M67.8 62.9h0.9M83.0 60.6h0.9M80.3 74.2h0.9M87.7 63.8h0.9M73.1 86.9h0.9M81.8 57.1h0.9M75.7 88.1h0.9M65.3 95.9h0.9M55.9 78.4h0.9M82.4 56.8h0.9M83.4 77.1h0.9M76.7 85.4h0.9M56.6 77.6h0.9M80.8 62.1h0.9M49.7 85.7h0.9M64.4 101.8h0.9M72.8 65.2h0.9M66.2 69.1h0.9M79.8 76.5h0.9M58.9 96.7h0.9M83.3 65.8h0.9M50.9 92.0h0.9M53.2 93.1h0.9M52.3 86.1h0.9M81.7 62.1h0.9M66.6 100.1h0.9M67.5 65.6h0.9M84.1 69.9h0.9M82.6 66.1h0.9M81.5 61.4h0.9M86.6 58.4h0.9M52.9 83.1h0.9M85.2 59.4h0.9M81.9 75.3h0.9M83.5 63.2h0.9M80.6 76.7h0.9M67.2 99.1h0.9M53.3 83.4h0.9M56.1 94.1h0.9M87.2 57.4h0.9M77.2 84.5h0.9M69.8 65.6h0.9M63.7 67.9h0.9M55.9 94.2h0.9M80.1 75.1h0.9M87.7 56.8h0.9M82.5 79.1h0.9M49.9 93.8h0.9M60.1 98.7h0.9M89.1 60.4h0.9M53.1 84.5h0.9M58.4 75.2h0.9M47.3 94.0h0.9M57.1 73.0h0.9M75.7 83.0h0.9M49.1 87.9h0.9M75.9 63.8h0.9M83.3 66.2h0.9M70.4 65.9h0.9M86.5 58.5h0.9M90.7 55.0h0.9M52.0 93.5h0.9M50.8 91.5h0.9M63.4 68.9h0.9M65.8 93.5h0.9M73.5 92.5h0.9M75.2 84.4h0.9M83.0 63.3h0.9M51.8 89.7h0.9M57.7 75.2h0.9M47.0 93.0h0.9M60.2 95.7h0.9M59.3 71.9h0.9M66.9 93.4h0.9M84.8 59.7h0.9M62.3 94.7h0.9M81.4 71.0h0.9M79.4 61.5h0.9M57.9 70.4h0.9M52.2 88.4h0.9M81.5 70.1h0.9M73.6 64.9h0.9M69.0 96.0h0.9M74.7 85.5h0.9M62.5 70.7h0.9M80.2 62.4h0.9M79.8 61.1h0.9M71.3 89.7h0.9M82.9 61.8h0.9M75.5 61.7h0.9M77.9 81.2h0.9M83.4 60.8h0.9M77.0 81.0h0.9M69.2 65.9h0.9M55.8 93.8h0.9M72.9 87.8h0.9M61.0 95.8h0.9M83.1 61.9h0.9M82.1 59.9h0.9M83.2 74.6h0.9M75.4 83.5h0.9M51.9 78.3h0.9M53.6 81.5h0.9M82.8 55.2h0.9M48.6 85.8h0.9M68.3 67.7h0.9M51.5 95.7h0.9M81.3 70.7h0.9M69.3 65.8h0.9M77.2 80.3h0.9M61.6 68.7h0.9M58.1 100.2h0.9M83.8 66.1h0.9M52.4 87.1h0.9M64.9 93.6h0.9M70.1 91.7h0.9M58.0 98.3h0.9M62.4 71.8h0.9M52.5 80.7h0.9M61.3 72.5h0.9M53.4 98.9h0.9M55.1 94.1h0.9M50.7 76.6h0.9M76.5 59.2h0.9M56.8 97.8h0.9M87.4 56.1h0.9M81.5 69.9h0.9M55.5 77.4h0.9M58.6 75.0h0.9M67.6 92.8h0.9M84.5 60.4h0.9M52.8 91.0h0.9M63.6 97.4h0.9M66.4 63.7h0.9M53.4 83.2h0.9M49.4 88.6h0.9M80.9 72.2h0.9M49.8 78.9h0.9M79.3 76.1h0.9M49.3 80.3h0.9M51.6 93.0h0.9M84.8 62.4h0.9M81.5 61.8h0.9M66.3 68.8h0.9M53.8 94.9h0.9M59.7 98.2h0.9M63.6 94.9h0.9M90.2 59.3h0.9M78.3 83.9h0.9M74.2 86.0h0.9M83.7 60.8h0.9M63.6 96.1h0.9M70.3 96.7h0.9M56.1 75.8h0.9M83.6 62.2h0.9M48.9 93.2h0.9M54.1 81.0h0.9M58.2 71.5h0.9M78.3 88.4h0.9M68.7 91.2h0.9M54.3 80.9h0.9M46.4 84.6h0.9M55.6 78.8h0.9M44.9 90.2h0.9M88.6 59.7h0.9M50.3 97.0h0.9M88.9 58.4h0.9M83.8 73.8h0.9M77.2 63.4h0.9M61.9 99.4h0.9M68.4 95.5h0.9M83.7 60.9h0.9M48.3 80.6h0.9M75.9 84.6h0.9M66.6 93.2h0.9M54.7 80.4h0.9M82.8 69.2h0.9M82.9 61.7h0.9M73.0 64.7h0.9M74.2 85.8h0.9M82.8 66.3h0.9M86.5 58.1h0.9M52.2 75.9h0.9M70.7 66.2h0.9M85.1 71.0h0.9M78.6 58.1h0.9M80.5 76.1h0.9M56.5 77.4h0.9M77.4 60.9h0.9M69.0 95.2h0.9M87.3 55.7h0.9M62.2 94.6h0.9M74.4 93.1h0.9M64.6 66.6h0.9M51.2 87.8h0.9M55.6 94.7h0.9M81.7 70.5h0.9M81.0 62.0h0.9M62.2 70.9h0.9M83.1 62.0h0.9M53.4 94.6h0.9M63.2 94.6h0.9M48.9 89.6h0.9M77.9 81.8h0.9M61.7 94.7h0.9M44.2 92.2h0.9M80.8 62.3h0.9M50.0 91.7h0.9M73.3 87.9h0.9M88.6 54.7h0.9M83.2 66.5h0.9M83.9 61.1h0.9M56.0 101.5h0.9M55.4 93.7h0.9M62.8 71.4h0.9M79.8 76.0h0.9M50.1 102.9h0.9M66.9 68.1h0.9M78.5 86.5h0.9M66.6 66.5h0.9M82.6 61.5h0.9M77.3 62.3h0.9M48.1 88.9h0.9M73.2 65.0h0.9M65.6 95.0h0.9M81.7 61.9h0.9M83.8 59.9h0.9M85.8 60.6h0.9M72.9 87.2h0.9M69.9 91.4h0.9M52.8 83.5h0.9M85.7 57.5h0.9M86.7 57.6h0.9M80.5 73.3h0.9M60.9 71.0h0.9M80.8 74.1h0.9M57.6 75.7h0.9M56.2 76.5h0.9M78.3 78.2h0.9M53.2 94.9h0.9M58.6 74.5h0.9M69.1 65.4h0.9M84.4 58.0h0.9M84.5 60.2h0.9M84.3 60.3h0.9M52.2 101.3h0.9M53.4 91.5h0.9M57.9 94.9h0.9M84.6 66.6h0.9M60.6 95.1h0.9M67.0 97.5h0.9M87.8 57.4h0.9M83.8 63.5h0.9M52.6 97.3h0.9M80.5 60.6h0.9M44.0 87.8h0.9M53.1 90.5h0.9M85.9 65.1h0.9M84.0 58.7h0.9M85.9 63.8h0.9M81.6 61.5h0.9M67.2 67.9h0.9M50.7 76.0h0.9M73.8 89.7h0.9M82.3 61.2h0.9M46.3 98.0h0.9M55.6 77.3h0.9M72.9 87.8h0.9M54.4 92.6h0.9M82.0 80.8h0.9M79.3 80.1h0.9M53.1 90.5h0.9M55.4 100.8h0.9M74.1 92.2h0.9M89.0 55.5h0.9M67.5 99.8h0.9M57.5 76.3h0.9M82.7 66.3h0.9M56.6 100.9h0.9M49.2 87.9h0.9M87.1 58.0h0.9M65.2 68.9h0.9M48.4 92.0h0.9M79.0 62.0h0.9M78.3 61.6h0.9M83.7 60.4h0.9M83.6 62.2h0.9M52.9 84.2h0.9M87.1 56.7h0.9M71.6 90.2h0.9M83.2 59.0h0.9M72.8 89.4h0.9M55.7 96.4h0.9M56.9 77.0h0.9M71.2 66.1h0.9M61.9 70.7h0.9M83.4 62.5h0.9M46.5 83.8h0.9M66.5 68.6h0.9M74.4 88.5h0.9M74.2 85.2h0.9M83.3 61.3h0.9M80.8 62.4h0.9M51.0 77.9h0.9M65.0 69.7h0.9M88.3 54.6h0.9M89.5 54.7h0.9M82.3 59.6h0.9M65.1 68.9h0.9M65.7 95.0h0.9M82.9 63.5h0.9M52.6 86.3h0.9M53.7 91.6h0.9M57.6 69.6h0.9M64.9 69.9h0.9M87.9 55.3h0.9M76.0 82.5h0.9M82.8 68.9h0.9M87.7 66.9h0.9M55.2 75.7h0.9M85.4 56.3h0.9M52.7 83.6h0.9M82.2 67.2h0.9M52.2 94.7h0.9M51.9 81.4h0.9M70.7 91.8h0.9M60.1 95.8h0.9M68.7 63.6h0.9M78.6 80.2h0.9M76.4 82.3h0.9M84.6 60.8h0.9M84.8 61.5h0.9M55.3 93.7h0.9M83.0 62.9h0.9M72.9 86.9h0.9M67.9 65.4h0.9M83.1 61.8h0.9M57.1 72.4h0.9M86.8 58.3h0.9M74.9 60.8h0.9M74.5 62.7h0.9M69.1 94.0h0.9M53.2 82.3h0.9M48.9 92.5h0.9M78.2 78.5h0.9M74.4 89.7h0.9M71.8 88.4h0.9M82.7 61.4h0.9M54.8 98.5h0.9M82.5 56.3h0.9M83.1 61.8h0.9M84.6 69.7h0.9M50.9 91.4h0.9M63.7 65.7h0.9M52.6 85.1h0.9M78.0 79.2h0.9M62.2 72.0h0.9M59.7 74.1h0.9M58.8 99.9h0.9M88.0 60.8h0.9M84.7 63.0h0.9M81.7 71.8h0.9M77.5 80.6h0.9M70.7 64.4h0.9M67.0 62.5h0.9M79.6 81.7h0.9M70.3 64.5h0.9M52.7 85.3h0.9M53.9 76.0h0.9M44.2 96.6h0.9M49.3 81.2h0.9M58.0 100.8h0.9M57.7 96.8h0.9M80.7 61.1h0.9M76.0 59.5h0.9M54.5 97.4h0.9M82.6 60.5h0.9M49.5 91.2h0.9M70.7 66.2h0.9M83.3 61.8h0.9M77.2 80.5h0.9M69.2 91.2h0.9M51.7 93.4h0.9M66.3 67.1h0.9M84.3 64.3h0.9M61.0 95.2h0.9M82.0 68.3h0.9M50.7 86.5h0.9M84.7 60.2h0.9M48.4 96.0h0.9M70.1 95.7h0.9M66.3 92.9h0.9M56.4 76.1h0.9M79.5 76.6h0.9M71.7 93.6h0.9M70.7 91.0h0.9M60.9 70.1h0.9M79.6 82.8h0.9M88.8 54.9h0.9M45.4 90.8h0.9M79.2 59.0h0.9M56.3 98.5h0.9M53.6 81.9h0.9M80.1 62.4h0.9M73.1 62.4h0.9M70.2 90.3h0.9M82.9 65.9h0.9M79.0 87.2h0.9M83.8 61.1h0.9M77.9 60.7h0.9M90.2 53.8h0.9M78.8 59.1h0.9M88.7 55.1h0.9M54.1 94.5h0.9M49.0 85.2h0.9M87.4 56.2h0.9M55.3 93.7h0.9M89.7 54.1h0.9M62.4 94.9h0.9M57.5 100.3h0.9M83.9 63.2h0.9M69.1 91.9h0.9M82.1 67.8h0.9M81.1 61.0h0.9M80.6 81.1h0.9M46.3 95.7h0.9M59.7 99.1h0.9M51.6 78.5h0.9M52.9 84.6h0.9M68.8 95.2h0.9M86.8 58.7h0.9M88.8 65.0h0.9M83.8 62.2h0.9M84.3 68.3h0.9M78.8 80.9h0.9M78.8 86.8h0.9M67.6 64.6h0.9M60.4 73.5h0.9M69.8 90.3h0.9M43.8 94.0h0.9M83.3 62.4h0.9M58.6 74.1h0.9M76.9 61.5h0.9M84.5 74.6h0.9M48.7 83.5h0.9M67.4 92.7h0.9M57.4 74.9h0.9M87.8 68.0h0.9M71.2 66.0h0.9M58.6 75.0h0.9M83.0 60.8h0.9M61.6 94.9h0.9M76.1 87.6h0.9M56.6 94.7h0.9M79.7 76.2h0.9M59.6 68.9h0.9M85.4 57.3h0.9M63.3 67.1h0.9M57.6 97.0h0.9M49.2 93.1h0.9M50.7 83.7h0.9M66.3 96.2h0.9M48.7 101.6h0.9M72.0 65.3h0.9M63.3 99.3h0.9M83.3 64.0h0.9M48.8 86.7h0.9M80.7 75.0h0.9M55.7 94.5h0.9M52.4 89.2h0.9M83.9 62.3h0.9M72.0 62.9h0.9M73.8 89.3h0.9M84.0 60.4h0.9M86.8 58.6h0.9M77.7 80.4h0.9M49.3 93.9h0.9M52.5 88.0h0.9M83.1 61.9h0.9M52.7 88.7h0.9M56.2 74.3h0.9M45.5 92.4h0.9M71.5 94.3h0.9M70.7 91.9h0.9M89.0 58.8h0.9M71.9 89.4h0.9M75.3 84.5h0.9M70.4 66.1h0.9M74.1 86.7h0.9M66.0 66.9h0.9M58.9 99.0h0.9M54.8 94.2h0.9M48.3 99.7h0.9M78.0 84.4h0.9M80.6 72.7h0.9M54.4 97.3h0.9M73.1 94.2h0.9M82.9 61.8h0.9M85.4 71.4h0.9M53.5 91.4h0.9M52.0 82.4h0.9M52.8 82.5h0.9M67.0 68.2h0.9M83.3 73.9h0.9M55.6 102.3h0.9M75.5 83.5h0.9M90.8 53.6h0.9M75.5 64.0h0.9M82.1 59.9h0.9M82.5 61.7h0.9M55.4 101.5h0.9M75.1 84.0h0.9M60.5 69.6h0.9M70.8 92.5h0.9M75.0 64.1h0.9M82.9 59.9h0.9M90.4 59.0h0.9M64.9 100.7h0.9M65.8 68.8h0.9M48.3 86.5h0.9M65.5 100.6h0.9M73.3 61.2h0.9M84.7 60.9h0.9M85.5 58.8h0.9M49.7 84.3h0.9M81.9 68.6h0.9M50.7 84.7h0.9M85.9 63.1h0.9M67.7 67.5h0.9M45.7 83.9h0.9M64.7 69.2h0.9M51.6 81.5h0.9M83.1 61.8h0.9M60.6 94.8h0.9M76.8 63.5h0.9M66.8 93.4h0.9M64.4 94.2h0.9M72.6 90.4h0.9M62.3 96.0h0.9M48.2 92.1h0.9M53.8 93.5h0.9M85.3 58.8h0.9M48.2 92.8h0.9M72.9 59.3h0.9M75.2 89.9h0.9M75.0 86.9h0.9M79.9 74.7h0.9M54.0 93.3h0.9M67.6 64.6h0.9M49.4 100.0h0.9M57.5 76.4h0.9M83.0 63.0h0.9M71.6 89.4h0.9M89.4 53.8h0.9M71.3 61.4h0.9M69.3 90.7h0.9M73.7 63.3h0.9M62.7 67.1h0.9M82.0 60.1h0.9M51.2 100.2h0.9M44.1 89.0h0.9M83.3 63.8h0.9M82.6 80.8h0.9M60.9 71.5h0.9M61.3 72.2h0.9M83.4 64.8h0.9M89.7 55.1h0.9M44.5 99.5h0.9M55.3 79.3h0.9M87.2 58.6h0.9M78.3 84.7h0.9M79.3 76.1h0.9M51.4 100.1h0.9M50.4 76.8h0.9M77.0 63.6h0.9M82.2 67.5h0.9M83.3 61.6h0.9M82.1 60.5h0.9M87.1 57.4h0.9M57.3 72.3h0.9M83.0 63.2h0.9M62.0 71.9h0.9M60.1 69.2h0.9M51.5 84.3h0.9M56.4 97.9h0.9M52.7 86.6h0.9M87.6 58.4h0.9M51.6 97.0h0.9M82.9 61.4h0.9M55.4 93.6h0.9M67.3 94.3h0.9M46.7 97.9h0.9M82.8 65.3h0.9M83.5 75.5h0.9M50.6 90.9h0.9M54.0 80.2h0.9M67.3 96.0h0.9M51.2 82.1h0.9M53.8 79.6h0.9M54.7 92.9h0.9M74.3 85.7h0.9M79.3 79.6h0.9M83.1 69.4h0.9M84.8 67.4h0.9M74.8 84.8h0.9M78.2 62.5h0.9M51.0 83.8h0.9M45.9 95.4h0.9M55.0 93.2h0.9M88.6 58.7h0.9M83.9 61.1h0.9M69.0 91.1h0.9M54.1 95.8h0.9M56.3 94.3h0.9M69.1 64.7h0.9M89.6 54.6h0.9M59.2 94.8h0.9M73.7 88.1h0.9M66.4 68.8h0.9M59.5 96.6h0.9M77.6 80.1h0.9M83.9 64.8h0.9M90.0 57.1h0.9M65.7 66.5h0.9M67.7 65.9h0.9M74.5 62.4h0.9M44.1 98.6h0.9M67.0 68.5h0.9M62.0 100.0h0.9M48.4 79.8h0.9M63.5 96.7h0.9M85.8 57.0h0.9M87.8 67.9h0.9M84.5 68.4h0.9M76.7 60.0h0.9M65.9 66.1h0.9M63.6 94.1h0.9M52.0 83.7h0.9M77.2 83.0h0.9M82.7 68.9h0.9M60.0 97.9h0.9" stroke="#000" stroke-width="0.9" opacity="0.8" fill="none"/>
<path d="M83.05 61.89 L83.06 61.97 L83.06 62.17 L83.04 62.50 L82.99 62.94 L82.92 63.48 L82.83 64.13 L82.70 64.88 L82.53 65.72 L82.33 66.64 L82.09 67.64 L81.81 68.71 L81.49 69.84 L81.13 71.03 L80.73 72.26 L80.28 73.52 L79.78 74.82 L79.24 76.14 L78.66 77.46 L78.02 78.79 L77.35 80.11 L76.63 81.42 L75.87 82.70 L75.07 83.95 L74.23 85.17 L73.36 86.33 L72.45 87.45 L71.52 88.50 L70.56 89.49 L69.57 90.40 L68.57 91.24 L67.56 92.00 L66.53 92.68 L65.51 93.26 L64.48 93.76 L63.46 94.16 L62.46 94.47 L61.47 94.69 L60.51 94.81 L59.58 94.83 L58.68 94.76 L57.83 94.61 L57.02 94.36 L56.27 94.02 L55.58 93.60 L54.95 93.11 L54.39 92.53 L53.90 91.89 L53.49 91.17 L53.16 90.40 L52.91 89.57 L52.75 88.68 L52.68 87.75 L52.70 86.78 L52.81 85.78 L53.01 84.75 L53.30 83.69 L53.69 82.62 L54.17 81.54 L54.73 80.45 L55.38 79.36 L56.11 78.28 L56.92 77.21 L57.80 76.15 L58.75 75.10 L59.76 74.09 L60.83 73.10 L61.95 72.14 L63.11 71.21 L64.31 70.32 L65.53 69.47 L66.77 68.66 L68.03 67.89 L69.29 67.17 L70.54 66.50 L71.78 65.87 L72.99 65.29 L74.17 64.76 L75.31 64.27 L76.40 63.84 L77.44 63.45 L78.40 63.11 L79.30 62.81 L80.12 62.56 L80.85 62.35 L81.48 62.19 L82.02 62.06 L82.45 61.97 L82.77 61.92 L82.98 61.90Z" fill="#0a0a0a" stroke="#fff" stroke-width="1"/>
<path d="M76.58 68.58 L76.59 68.64 L76.59 68.82 L76.57 69.10 L76.53 69.48 L76.48 69.95 L76.39 70.51 L76.28 71.15 L76.14 71.87 L75.96 72.66 L75.76 73.52 L75.52 74.44 L75.25 75.41 L74.93 76.43 L74.59 77.49 L74.20 78.58 L73.77 79.70 L73.31 80.83 L72.80 81.97 L72.26 83.11 L71.68 84.25 L71.06 85.37 L70.41 86.47 L69.72 87.55 L69.00 88.59 L68.25 89.60 L67.47 90.55 L66.67 91.46 L65.84 92.31 L64.99 93.10 L64.13 93.82 L63.26 94.47 L62.38 95.05 L61.49 95.56 L60.61 95.98 L59.74 96.33 L58.87 96.59 L58.03 96.78 L57.20 96.88 L56.40 96.91 L55.63 96.85 L54.89 96.71 L54.20 96.50 L53.55 96.21 L52.96 95.85 L52.42 95.42 L51.93 94.93 L51.51 94.37 L51.16 93.76 L50.87 93.09 L50.66 92.38 L50.52 91.62 L50.46 90.82 L50.48 89.98 L50.57 89.12 L50.75 88.23 L51.00 87.33 L51.33 86.41 L51.74 85.47 L52.23 84.54 L52.78 83.60 L53.41 82.67 L54.11 81.75 L54.87 80.84 L55.68 79.94 L56.55 79.06 L57.47 78.21 L58.43 77.39 L59.43 76.59 L60.46 75.82 L61.52 75.09 L62.59 74.40 L63.67 73.74 L64.75 73.12 L65.82 72.54 L66.89 72.00 L67.93 71.50 L68.95 71.04 L69.93 70.62 L70.87 70.25 L71.75 69.92 L72.59 69.62 L73.36 69.37 L74.06 69.15 L74.69 68.97 L75.24 68.83 L75.70 68.72 L76.07 68.65 L76.35 68.60 L76.52 68.58Z" fill="none" stroke="#999" stroke-width="0.6"/>
<path d="M74.62 70.76 L74.62 70.82 L74.62 70.96 L74.61 71.20 L74.58 71.51 L74.53 71.91 L74.45 72.38 L74.36 72.91 L74.24 73.52 L74.10 74.18 L73.93 74.90 L73.73 75.67 L73.50 76.49 L73.24 77.34 L72.94 78.23 L72.62 79.14 L72.26 80.07 L71.87 81.02 L71.45 81.97 L71.00 82.93 L70.51 83.88 L69.99 84.82 L69.45 85.74 L68.87 86.65 L68.27 87.52 L67.64 88.36 L66.99 89.16 L66.31 89.92 L65.62 90.63 L64.91 91.29 L64.19 91.89 L63.46 92.44 L62.72 92.93 L61.98 93.35 L61.25 93.71 L60.51 94.00 L59.79 94.22 L59.08 94.37 L58.39 94.46 L57.72 94.48 L57.07 94.43 L56.46 94.32 L55.88 94.14 L55.34 93.90 L54.84 93.60 L54.38 93.24 L53.98 92.82 L53.63 92.36 L53.33 91.84 L53.09 91.29 L52.91 90.69 L52.80 90.05 L52.75 89.38 L52.76 88.68 L52.84 87.96 L52.99 87.22 L53.20 86.46 L53.48 85.69 L53.82 84.91 L54.22 84.13 L54.69 83.34 L55.22 82.56 L55.80 81.79 L56.43 81.02 L57.12 80.28 L57.85 79.54 L58.62 78.83 L59.42 78.14 L60.26 77.47 L61.12 76.83 L62.00 76.22 L62.90 75.63 L63.80 75.08 L64.71 74.56 L65.61 74.08 L66.50 73.63 L67.37 73.21 L68.22 72.83 L69.04 72.48 L69.83 72.16 L70.57 71.88 L71.27 71.64 L71.92 71.42 L72.50 71.24 L73.03 71.09 L73.49 70.97 L73.88 70.88 L74.19 70.82 L74.42 70.78 L74.56 70.76Z" fill="none" stroke="#aaa" stroke-width="0.6"/>
<path d="M72.65 72.95 L72.65 72.99 L72.65 73.11 L72.64 73.30 L72.62 73.55 L72.58 73.87 L72.52 74.25 L72.44 74.68 L72.35 75.17 L72.23 75.70 L72.09 76.28 L71.93 76.90 L71.75 77.56 L71.54 78.25 L71.30 78.96 L71.04 79.69 L70.75 80.45 L70.44 81.21 L70.10 81.98 L69.73 82.75 L69.34 83.51 L68.93 84.27 L68.49 85.02 L68.02 85.74 L67.54 86.45 L67.03 87.12 L66.50 87.77 L65.96 88.38 L65.40 88.95 L64.83 89.48 L64.25 89.97 L63.66 90.41 L63.07 90.80 L62.47 91.14 L61.88 91.43 L61.29 91.66 L60.71 91.84 L60.13 91.97 L59.58 92.04 L59.04 92.05 L58.52 92.01 L58.02 91.92 L57.55 91.78 L57.12 91.58 L56.72 91.34 L56.35 91.05 L56.02 90.72 L55.74 90.34 L55.50 89.93 L55.31 89.48 L55.17 89.00 L55.07 88.49 L55.03 87.95 L55.04 87.38 L55.11 86.80 L55.23 86.20 L55.40 85.59 L55.62 84.97 L55.90 84.34 L56.22 83.71 L56.60 83.08 L57.02 82.45 L57.49 81.83 L58.00 81.21 L58.55 80.61 L59.14 80.02 L59.76 79.45 L60.41 78.89 L61.08 78.35 L61.78 77.84 L62.49 77.34 L63.21 76.87 L63.94 76.43 L64.67 76.01 L65.39 75.62 L66.11 75.25 L66.81 74.92 L67.50 74.61 L68.16 74.33 L68.79 74.08 L69.39 73.85 L69.95 73.65 L70.47 73.48 L70.95 73.33 L71.37 73.21 L71.74 73.12 L72.05 73.05 L72.30 72.99 L72.49 72.96 L72.61 72.95Z" fill="none" stroke="#999" stroke-width="0.6"/>
<path d="M70.82 74.98 L70.83 75.01 L70.83 75.10 L70.82 75.25 L70.80 75.45 L70.77 75.69 L70.72 75.99 L70.66 76.32 L70.59 76.70 L70.50 77.11 L70.39 77.56 L70.27 78.04 L70.12 78.55 L69.96 79.09 L69.78 79.64 L69.57 80.21 L69.35 80.79 L69.11 81.39 L68.84 81.98 L68.56 82.58 L68.26 83.18 L67.93 83.76 L67.59 84.34 L67.23 84.90 L66.86 85.45 L66.46 85.97 L66.05 86.48 L65.63 86.95 L65.20 87.39 L64.76 87.81 L64.31 88.18 L63.85 88.53 L63.39 88.83 L62.93 89.09 L62.47 89.32 L62.01 89.50 L61.56 89.64 L61.11 89.73 L60.68 89.79 L60.26 89.80 L59.86 89.77 L59.47 89.70 L59.11 89.59 L58.77 89.44 L58.46 89.25 L58.18 89.02 L57.92 88.76 L57.70 88.47 L57.52 88.15 L57.37 87.80 L57.26 87.43 L57.19 87.03 L57.15 86.61 L57.16 86.18 L57.21 85.73 L57.30 85.26 L57.44 84.79 L57.61 84.31 L57.82 83.82 L58.08 83.33 L58.37 82.84 L58.70 82.35 L59.06 81.87 L59.46 81.39 L59.89 80.92 L60.34 80.46 L60.82 80.02 L61.33 79.59 L61.85 79.17 L62.39 78.77 L62.94 78.39 L63.50 78.02 L64.06 77.68 L64.63 77.35 L65.19 77.05 L65.75 76.77 L66.29 76.51 L66.83 76.27 L67.34 76.05 L67.83 75.85 L68.30 75.68 L68.73 75.52 L69.14 75.39 L69.50 75.28 L69.83 75.18 L70.12 75.11 L70.36 75.05 L70.55 75.01 L70.70 74.99 L70.79 74.98Z" fill="none" stroke="#aaa" stroke-width="0.6"/>
<path d="M69.00 77.01 L69.00 77.03 L69.00 77.10 L68.99 77.20 L68.98 77.34 L68.96 77.51 L68.92 77.72 L68.88 77.96 L68.83 78.23 L68.77 78.53 L68.69 78.85 L68.60 79.19 L68.50 79.55 L68.38 79.93 L68.25 80.32 L68.11 80.73 L67.95 81.14 L67.78 81.56 L67.59 81.99 L67.39 82.41 L67.17 82.84 L66.94 83.25 L66.70 83.66 L66.44 84.07 L66.17 84.45 L65.90 84.83 L65.61 85.18 L65.31 85.52 L65.00 85.84 L64.68 86.13 L64.36 86.40 L64.04 86.64 L63.71 86.86 L63.38 87.04 L63.05 87.20 L62.73 87.33 L62.41 87.43 L62.09 87.50 L61.78 87.54 L61.49 87.55 L61.20 87.52 L60.93 87.47 L60.67 87.39 L60.43 87.29 L60.21 87.15 L60.00 86.99 L59.82 86.81 L59.67 86.60 L59.54 86.38 L59.43 86.13 L59.35 85.86 L59.30 85.58 L59.28 85.28 L59.28 84.97 L59.32 84.65 L59.38 84.32 L59.48 83.98 L59.60 83.64 L59.75 83.29 L59.93 82.94 L60.14 82.60 L60.37 82.25 L60.63 81.91 L60.92 81.57 L61.22 81.23 L61.54 80.91 L61.89 80.59 L62.24 80.28 L62.61 79.99 L63.00 79.70 L63.39 79.43 L63.79 79.17 L64.19 78.93 L64.59 78.70 L64.99 78.48 L65.39 78.28 L65.78 78.09 L66.15 77.92 L66.52 77.77 L66.87 77.63 L67.20 77.50 L67.51 77.39 L67.80 77.30 L68.06 77.22 L68.29 77.15 L68.49 77.10 L68.67 77.06 L68.80 77.03 L68.91 77.01 L68.97 77.01Z" fill="none" stroke="#999" stroke-width="0.6"/>
<path d="M86.6 80.0h0.9M77.9 81.6h0.9M92.2 69.2h0.9M86.8 79.6h0.9M83.7 83.0h0.9M83.4 72.5h0.9M88.6 68.3h0.9M80.5 77.2h0.9M90.7 74.3h0.9M84.6 82.6h0.9M83.0 73.1h0.9M90.6 74.4h0.9M85.8 69.3h0.9M90.8 68.7h0.9M81.9 82.4h0.9M78.8 78.8h0.9M89.3 76.6h0.9M90.2 76.3h0.9M90.6 74.2h0.9M80.1 81.7h0.9M90.8 73.9h0.9M91.0 71.3h0.9M90.8 73.4h0.9M77.7 83.3h0.9M85.3 80.8h0.9M80.6 77.0h0.9M83.8 81.7h0.9M81.2 82.0h0.9M78.7 76.2h0.9M78.1 78.7h0.9M91.1 67.0h0.9M78.7 80.4h0.9M91.4 71.6h0.9M92.7 73.0h0.9M86.1 69.6h0.9M81.5 82.6h0.9M90.8 73.2h0.9M81.7 82.6h0.9M80.1 77.9h0.9M90.7 74.0h0.9M79.4 78.0h0.9M93.3 71.2h0.9M79.8 82.4h0.9M89.0 77.2h0.9M81.2 74.6h0.9M86.5 79.9h0.9M90.6 73.8h0.9M82.7 72.7h0.9M86.7 69.8h0.9M82.4 73.7h0.9M80.5 77.1h0.9M84.4 84.2h0.9M90.5 70.2h0.9M86.7 79.7h0.9M82.7 84.3h0.9M92.5 70.1h0.9M89.5 76.7h0.9M83.2 81.9h0.9M88.4 78.1h0.9M89.3 77.6h0.9M80.4 81.0h0.9M80.2 78.3h0.9M85.3 80.8h0.9M86.9 80.4h0.9M84.4 71.5h0.9M80.4 77.7h0.9M87.3 79.5h0.9M88.2 68.4h0.9M87.8 69.1h0.9M87.9 79.4h0.9M80.1 79.6h0.9M91.7 71.4h0.9M81.4 75.4h0.9M92.1 68.2h0.9M93.1 67.7h0.9M80.1 78.6h0.9M93.2 67.7h0.9M89.6 69.2h0.9M92.3 67.3h0.9M81.9 72.0h0.9M85.2 82.2h0.9M86.9 80.0h0.9M89.2 67.7h0.9M80.4 77.7h0.9M80.2 80.6h0.9M92.5 73.3h0.9M84.1 82.4h0.9M85.5 68.9h0.9M82.4 73.8h0.9M85.4 69.2h0.9M92.1 67.1h0.9M91.3 77.3h0.9M86.1 69.2h0.9M90.7 69.6h0.9M89.9 75.4h0.9M81.8 74.6h0.9M86.5 70.1h0.9M82.9 82.1h0.9M86.9 67.2h0.9M92.5 73.7h0.9M84.2 71.3h0.9M84.7 71.2h0.9M79.5 76.1h0.9M81.8 82.0h0.9M85.5 82.3h0.9M90.7 70.3h0.9M90.3 69.9h0.9M84.1 81.7h0.9M81.9 82.4h0.9M80.0 84.5h0.9M91.0 71.5h0.9M84.2 69.2h0.9M77.9 82.3h0.9M93.2 68.3h0.9M90.3 69.9h0.9M90.3 76.1h0.9M83.8 82.7h0.9M80.3 76.4h0.9M81.9 74.4h0.9M84.7 71.3h0.9M82.8 71.9h0.9M78.6 79.1h0.9M84.5 70.9h0.9M81.8 82.9h0.9M78.4 83.9h0.9M89.9 68.8h0.9M90.3 75.4h0.9M80.1 77.7h0.9M84.5 69.1h0.9M92.9 71.0h0.9M87.6 69.0h0.9M92.0 72.2h0.9M84.9 81.8h0.9M92.9 67.1h0.9M80.8 82.1h0.9M90.9 73.1h0.9M79.8 74.2h0.9M91.7 71.9h0.9M91.6 70.1h0.9M83.9 81.6h0.9M85.4 68.5h0.9M90.6 70.3h0.9M81.7 82.3h0.9M82.9 72.2h0.9M80.8 76.6h0.9M90.8 73.8h0.9M86.0 82.9h0.9M87.4 66.9h0.9M88.4 69.4h0.9M80.6 83.2h0.9M81.0 74.5h0.9M82.1 82.3h0.9M93.6 71.0h0.9M91.6 72.5h0.9M86.7 68.6h0.9M90.2 68.2h0.9M80.9 84.4h0.9M80.2 77.3h0.9M80.3 80.8h0.9M81.2 81.8h0.9M85.0 71.1h0.9M89.7 77.9h0.9M90.9 71.3h0.9M89.8 68.1h0.9M83.3 81.8h0.9M90.8 65.8h0.9M82.9 73.2h0.9M86.9 79.6h0.9M90.5 74.6h0.9M80.3 74.4h0.9M80.3 81.2h0.9M83.3 71.5h0.9M79.6 77.4h0.9M93.4 72.8h0.9M81.4 74.9h0.9M90.0 69.0h0.9M87.4 67.8h0.9M85.0 71.1h0.9M78.7 82.5h0.9M79.5 78.8h0.9M78.1 83.0h0.9M82.2 82.8h0.9M91.0 70.7h0.9M80.8 75.8h0.9M84.2 83.2h0.9M83.1 83.1h0.9M90.5 74.6h0.9M86.9 79.6h0.9M87.6 79.7h0.9M90.9 71.5h0.9M82.7 72.3h0.9M90.3 69.0h0.9M87.6 69.0h0.9M84.2 71.8h0.9M83.1 71.9h0.9M81.2 82.6h0.9M83.0 82.8h0.9M88.7 79.8h0.9M80.2 77.9h0.9M91.1 71.5h0.9M83.2 72.7h0.9M81.6 75.0h0.9M79.4 85.4h0.9M79.5 79.3h0.9M79.4 82.2h0.9M85.8 70.1h0.9M85.6 80.8h0.9M88.4 69.4h0.9M92.4 72.0h0.9M78.8 75.5h0.9M79.2 81.6h0.9M91.5 66.1h0.9M87.0 79.5h0.9M84.0 71.9h0.9M87.7 66.6h0.9M89.5 68.0h0.9M88.8 69.4h0.9M90.5 74.1h0.9M80.0 80.8h0.9M82.3 74.0h0.9M90.9 74.6h0.9M90.0 76.3h0.9M79.5 79.6h0.9M85.7 80.6h0.9M89.5 69.2h0.9M81.1 83.3h0.9M79.6 75.8h0.9M87.3 79.2h0.9M82.6 73.4h0.9M90.2 68.4h0.9M86.3 70.2h0.9M84.3 71.7h0.9M90.9 76.2h0.9M84.5 68.7h0.9M90.9 72.9h0.9M92.0 69.1h0.9M80.2 78.6h0.9M83.5 81.8h0.9M79.9 84.0h0.9M80.1 79.7h0.9M80.7 84.1h0.9M91.8 73.0h0.9M90.1 76.0h0.9M91.7 72.4h0.9M81.4 82.4h0.9M85.2 81.7h0.9M80.2 78.5h0.9M79.6 79.1h0.9M82.9 72.9h0.9M83.3 82.0h0.9M88.0 69.5h0.9M90.5 69.6h0.9M86.2 68.8h0.9M93.0 72.7h0.9M85.8 82.2h0.9M85.8 81.2h0.9M93.0 69.1h0.9M77.8 80.9h0.9M90.2 76.3h0.9M81.9 82.2h0.9M84.9 81.3h0.9M87.5 81.0h0.9M87.0 79.5h0.9M82.2 84.7h0.9M80.0 81.9h0.9M86.8 80.3h0.9M82.0 84.8h0.9M78.3 80.9h0.9M88.2 78.5h0.9M92.3 72.9h0.9M83.8 70.7h0.9M92.4 75.3h0.9M80.4 83.1h0.9M91.2 73.8h0.9M84.8 81.2h0.9M80.6 85.7h0.9M78.8 82.3h0.9M86.2 80.2h0.9M91.5 68.9h0.9M79.9 81.3h0.9M82.2 73.6h0.9M80.3 77.6h0.9M90.3 74.6h0.9M82.8 72.4h0.9M77.7 78.3h0.9M86.4 80.0h0.9M91.0 73.0h0.9M80.2 83.4h0.9M80.4 77.4h0.9M91.5 71.4h0.9M92.5 67.5h0.9M86.4 70.1h0.9M81.1 75.8h0.9M82.7 82.8h0.9M79.9 79.1h0.9M89.5 76.7h0.9M86.7 69.6h0.9M90.7 70.6h0.9M92.4 69.8h0.9M82.2 74.1h0.9M81.5 72.4h0.9M80.6 81.3h0.9M84.3 82.3h0.9M91.2 72.6h0.9M77.3 83.8h0.9M80.1 80.8h0.9M92.9 72.8h0.9M84.5 81.3h0.9M89.9 77.7h0.9M81.4 81.9h0.9M86.8 69.9h0.9M83.7 82.4h0.9M81.9 74.6h0.9M90.9 75.0h0.9M80.8 83.4h0.9M81.8 73.7h0.9M85.0 83.0h0.9M91.8 68.8h0.9M82.0 74.4h0.9M80.4 73.0h0.9M92.9 71.8h0.9M82.5 71.1h0.9M82.2 82.0h0.9M85.1 80.9h0.9M90.7 69.4h0.9M87.7 79.0h0.9M80.2 74.0h0.9M82.0 82.1h0.9M92.5 66.1h0.9M93.2 71.9h0.9M80.2 80.5h0.9M81.4 75.1h0.9M88.9 80.6h0.9M88.3 68.7h0.9M80.1 79.2h0.9M91.0 71.5h0.9M85.6 81.0h0.9M79.5 82.4h0.9M88.9 77.1h0.9M89.8 78.9h0.9M83.9 69.0h0.9M83.6 72.3h0.9M88.1 79.2h0.9M79.6 80.3h0.9M92.4 69.0h0.9M85.3 83.5h0.9M87.0 68.3h0.9M87.1 80.5h0.9M83.9 81.6h0.9M86.6 79.9h0.9M83.1 81.9h0.9M92.1 72.3h0.9M85.9 80.4h0.9M91.8 73.5h0.9M84.7 70.3h0.9M88.1 68.5h0.9M88.9 77.4h0.9M79.5 81.7h0.9M81.9 82.6h0.9M80.7 81.4h0.9M91.1 67.8h0.9M77.9 78.1h0.9M86.1 69.2h0.9M78.7 78.6h0.9M90.7 74.0h0.9M87.6 69.0h0.9M80.7 81.8h0.9M89.4 68.3h0.9M80.8 81.6h0.9M85.7 70.2h0.9M79.6 79.5h0.9M94.1 69.3h0.9M87.5 79.6h0.9M89.2 76.6h0.9M87.7 79.3h0.9M83.2 70.7h0.9M88.1 66.5h0.9M86.2 80.3h0.9M78.7 81.9h0.9M90.1 75.1h0.9M83.9 70.5h0.9M91.1 72.6h0.9M87.2 68.8h0.9M84.7 82.8h0.9M83.9 83.2h0.9M90.1 75.7h0.9M80.6 81.3h0.9M85.0 82.3h0.9M87.1 79.7h0.9M93.4 71.3h0.9M83.7 81.7h0.9M78.4 80.3h0.9M87.5 69.4h0.9M79.7 80.5h0.9M90.7 73.9h0.9M90.9 71.9h0.9M82.0 84.9h0.9M91.5 69.1h0.9M80.6 82.2h0.9M82.2 82.6h0.9M93.1 72.4h0.9M83.7 84.0h0.9M79.8 79.3h0.9M86.2 80.2h0.9M90.6 67.3h0.9M81.2 83.9h0.9M78.8 81.4h0.9M91.9 74.4h0.9M79.2 80.0h0.9M86.1 69.5h0.9M77.8 79.1h0.9M83.2 81.9h0.9M90.9 68.4h0.9M83.6 83.4h0.9M92.4 67.2h0.9M83.6 72.2h0.9M83.7 81.7h0.9M92.6 71.8h0.9M88.7 68.6h0.9M81.1 75.8h0.9M84.3 70.9h0.9M91.2 73.4h0.9M80.5 77.3h0.9M83.0 71.7h0.9M81.4 75.3h0.9M83.1 84.4h0.9M87.9 66.6h0.9M91.6 70.3h0.9M80.9 81.7h0.9M78.2 77.1h0.9M83.8 82.9h0.9M90.6 66.5h0.9M87.1 79.3h0.9M90.3 77.1h0.9M89.9 76.0h0.9M88.5 69.0h0.9M80.1 79.4h0.9M84.4 82.6h0.9M77.5 83.3h0.9M81.9 74.6h0.9M82.0 74.3h0.9M81.1 83.4h0.9M81.9 82.8h0.9M82.0 74.3h0.9M80.7 82.5h0.9M88.0 78.7h0.9M80.1 79.9h0.9M89.5 68.8h0.9M78.9 77.6h0.9M86.9 69.9h0.9M88.1 69.4h0.9M81.0 81.7h0.9M83.4 81.8h0.9M86.5 70.0h0.9M89.4 76.3h0.9M91.7 71.9h0.9M89.4 77.5h0.9M89.8 67.9h0.9M88.8 77.3h0.9M89.1 76.9h0.9M82.4 73.3h0.9M91.2 68.2h0.9M90.6 74.3h0.9M90.9 72.6h0.9M80.6 82.2h0.9M90.9 70.9h0.9M85.7 70.4h0.9M89.9 69.6h0.9M79.9 82.8h0.9M78.5 78.7h0.9M90.7 70.3h0.9M88.9 69.3h0.9M82.6 72.8h0.9M78.8 79.9h0.9M87.3 80.1h0.9M90.7 67.9h0.9M89.5 76.2h0.9M82.2 82.0h0.9M80.3 77.8h0.9M90.6 77.0h0.9M90.1 69.3h0.9M78.4 77.8h0.9M86.9 79.6h0.9M90.9 70.6h0.9M89.8 66.9h0.9M90.8 70.3h0.9M90.8 70.0h0.9M80.0 79.4h0.9M91.4 71.4h0.9M78.4 80.0h0.9M80.0 81.5h0.9M80.6 82.1h0.9M80.1 82.6h0.9M87.1 81.9h0.9M89.7 68.6h0.9M79.0 80.6h0.9M79.3 84.7h0.9M80.0 79.6h0.9M81.6 75.1h0.9M77.7 81.9h0.9M80.1 78.6h0.9M89.4 77.7h0.9M91.0 69.8h0.9M89.6 69.5h0.9M88.6 77.5h0.9M90.4 74.5h0.9M82.5 73.7h0.9M90.1 67.5h0.9M90.5 68.5h0.9M85.8 81.9h0.9M78.4 83.0h0.9M82.4 83.1h0.9M84.5 81.7h0.9M77.2 82.0h0.9M79.9 78.3h0.9M88.8 69.4h0.9M83.7 81.7h0.9M92.1 70.7h0.9M93.7 72.5h0.9M85.6 80.8h0.9M77.9 79.4h0.9M89.7 77.3h0.9M86.9 79.7h0.9M88.7 66.8h0.9M90.6 70.4h0.9M85.9 70.2h0.9M91.0 70.8h0.9M90.7 67.9h0.9M79.9 80.5h0.9M79.9 79.9h0.9M85.3 83.1h0.9M84.6 81.5h0.9M84.1 70.7h0.9M84.6 71.3h0.9M89.3 68.0h0.9M91.1 72.3h0.9M80.4 81.5h0.9M85.5 67.8h0.9M86.5 69.8h0.9M81.2 73.4h0.9M82.4 73.0h0.9M90.4 70.0h0.9M92.0 70.3h0.9M79.9 80.3h0.9M88.3 78.6h0.9M91.0 70.1h0.9M83.0 81.9h0.9M90.7 77.3h0.9M90.6 73.9h0.9M77.0 80.3h0.9M79.5 79.1h0.9M85.9 80.4h0.9M89.4 67.5h0.9M92.4 73.3h0.9M87.3 68.8h0.9M91.2 67.9h0.9M78.1 83.8h0.9M92.7 73.6h0.9M88.8 69.3h0.9M82.7 73.4h0.9M90.1 69.8h0.9M86.1 80.4h0.9M88.7 67.7h0.9M91.3 67.3h0.9M82.5 85.2h0.9M89.4 79.2h0.9M88.7 69.3h0.9M92.5 72.3h0.9M80.1 81.2h0.9M82.3 71.0h0.9M79.7 82.1h0.9M82.2 83.9h0.9M89.5 77.5h0.9M88.5 68.4h0.9M88.7 69.3h0.9M81.5 82.4h0.9M80.6 75.2h0.9M80.6 76.6h0.9M78.1 78.8h0.9M87.0 67.3h0.9M87.6 69.4h0.9M80.1 81.7h0.9M82.0 83.2h0.9M82.3 82.4h0.9M84.7 70.9h0.9M91.2 72.1h0.9M80.8 76.3h0.9M90.9 76.9h0.9M91.0 75.3h0.9M90.9 75.6h0.9M88.2 69.2h0.9M87.3 68.1h0.9M86.2 70.2h0.9M78.3 85.1h0.9M82.1 74.2h0.9M83.2 82.1h0.9M89.0 69.1h0.9M93.4 71.2h0.9M83.6 82.6h0.9M85.5 83.3h0.9M80.6 81.8h0.9M84.7 70.0h0.9M85.9 70.4h0.9M80.9 82.3h0.9M82.3 82.0h0.9M83.3 81.8h0.9M92.6 70.9h0.9M79.2 75.7h0.9M78.4 84.4h0.9M87.2 67.7h0.9M87.5 68.2h0.9M85.3 70.4h0.9M83.2 71.4h0.9M88.6 69.0h0.9M82.1 71.2h0.9M80.0 80.3h0.9M91.0 71.4h0.9M86.3 69.9h0.9M84.0 72.0h0.9M82.5 82.0h0.9M79.7 76.2h0.9M90.6 70.4h0.9M88.5 77.9h0.9M84.9 70.9h0.9M83.6 72.0h0.9M80.2 78.3h0.9M80.3 81.7h0.9M92.5 69.2h0.9M90.2 74.9h0.9M89.6 67.3h0.9M92.8 71.9h0.9M80.0 79.7h0.9M87.9 67.0h0.9M85.9 70.2h0.9M82.4 73.0h0.9M93.4 68.1h0.9M83.3 72.8h0.9M89.6 68.7h0.9M89.8 76.6h0.9M89.3 76.6h0.9M86.6 70.0h0.9M90.4 75.1h0.9M84.8 81.2h0.9M90.9 71.8h0.9M91.9 71.9h0.9M82.0 72.2h0.9M80.8 74.3h0.9M88.7 77.7h0.9M80.6 84.6h0.9M83.4 82.9h0.9M82.3 82.1h0.9M87.5 78.9h0.9M84.8 70.6h0.9M91.0 76.1h0.9M87.3 79.7h0.9M82.3 73.9h0.9M87.0 69.8h0.9M80.5 81.2h0.9M83.8 83.0h0.9M80.5 73.5h0.9M88.4 66.3h0.9M80.3 82.5h0.9M79.9 78.5h0.9M82.0 82.4h0.9M80.3 77.8h0.9M86.8 67.1h0.9M89.6 76.1h0.9M79.7 81.1h0.9M90.9 71.3h0.9M81.9 74.5h0.9M80.3 77.7h0.9M80.4 76.8h0.9M92.5 74.5h0.9M86.3 70.2h0.9M79.5 78.3h0.9M77.4 80.4h0.9M82.0 83.0h0.9M89.6 67.2h0.9M82.2 82.3h0.9M81.4 84.1h0.9M84.6 71.0h0.9M90.9 77.6h0.9M91.0 72.3h0.9M87.8 78.7h0.9M88.0 68.4h0.9M85.3 81.2h0.9M80.8 76.5h0.9M80.9 81.6h0.9M83.6 82.3h0.9M80.5 84.8h0.9M80.9 76.2h0.9M92.2 71.6h0.9M82.0 74.5h0.9M80.4 81.9h0.9M90.8 67.5h0.9M88.1 79.5h0.9M86.0 80.5h0.9M84.5 81.5h0.9M92.4 69.6h0.9M81.5 75.2h0.9M92.7 72.4h0.9M85.4 68.6h0.9M77.7 81.8h0.9M88.6 77.7h0.9M86.6 79.9h0.9M83.9 71.6h0.9M81.2 72.1h0.9M91.1 68.5h0.9M91.2 76.9h0.9M88.8 66.2h0.9M91.6 76.2h0.9M89.9 75.5h0.9M79.6 80.8h0.9M90.3 68.1h0.9M77.9 82.0h0.9M80.1 82.0h0.9M82.3 82.3h0.9M80.2 78.1h0.9M89.6 76.1h0.9M80.2 85.7h0.9M89.9 66.3h0.9M87.7 78.7h0.9M89.3 69.4h0.9M81.1 83.6h0.9M84.7 70.2h0.9M81.4 75.3h0.9M89.1 77.2h0.9M87.4 69.6h0.9M84.6 71.1h0.9M87.9 80.8h0.9M82.1 82.8h0.9M83.3 71.2h0.9M80.1 82.4h0.9M85.7 81.8h0.9M84.0 81.7h0.9M81.2 83.4h0.9M80.9 76.0h0.9M90.5 74.3h0.9M79.6 78.9h0.9M81.7 74.8h0.9M89.9 69.1h0.9M78.7 83.0h0.9M89.7 69.0h0.9M82.2 74.0h0.9M83.5 81.8h0.9M80.6 83.6h0.9M81.3 81.8h0.9M82.8 73.2h0.9M79.4 75.0h0.9M88.7 80.4h0.9M92.8 74.3h0.9M88.3 80.2h0.9M84.4 70.9h0.9M80.7 81.5h0.9M81.5 75.0h0.9M82.9 83.1h0.9M91.0 71.5h0.9M88.6 80.4h0.9M81.8 83.2h0.9M87.0 79.5h0.9M86.8 69.2h0.9M90.0 68.7h0.9M82.4 71.6h0.9M78.7 81.6h0.9M80.3 81.1h0.9M81.7 74.7h0.9M82.0 74.4h0.9M82.9 81.9h0.9M90.2 76.2h0.9M87.3 68.0h0.9M90.3 70.0h0.9M89.1 78.1h0.9M93.6 68.9h0.9M87.0 68.1h0.9M85.8 82.0h0.9M90.9 73.7h0.9M82.8 72.2h0.9M86.4 80.3h0.9M91.0 72.0h0.9M92.3 69.4h0.9M80.2 78.4h0.9M85.5 81.8h0.9M89.5 76.2h0.9M84.6 81.5h0.9M83.4 83.8h0.9M80.0 76.7h0.9M91.0 71.4h0.9M90.7 73.9h0.9M92.4 73.2h0.9M79.9 79.2h0.9M88.2 68.2h0.9M84.0 69.7h0.9M83.3 72.6h0.9M88.8 69.3h0.9M86.7 69.9h0.9M78.0 81.0h0.9M80.2 78.3h0.9M86.8 79.6h0.9M83.8 69.8h0.9M83.4 72.3h0.9M92.3 67.9h0.9M86.6 70.0h0.9M86.0 70.0h0.9M81.6 74.9h0.9M84.8 70.3h0.9M90.4 74.3h0.9M80.4 84.9h0.9M88.4 78.0h0.9M81.8 73.3h0.9M85.8 80.4h0.9M90.5 76.6h0.9M87.4 69.0h0.9M83.6 82.7h0.9M84.0 69.1h0.9M80.0 81.6h0.9M86.7 69.9h0.9M84.9 70.0h0.9M90.1 67.5h0.9M87.7 69.0h0.9M85.9 82.1h0.9M83.3 82.2h0.9M84.5 71.5h0.9M92.0 69.7h0.9M84.6 81.3h0.9M90.7 69.9h0.9M81.8 82.0h0.9M93.2 68.0h0.9M90.8 77.0h0.9M91.9 75.8h0.9M89.9 66.3h0.9M80.2 84.3h0.9M90.6 74.1h0.9M87.8 67.3h0.9M79.3 77.4h0.9M91.3 74.1h0.9M88.4 67.5h0.9M80.4 82.8h0.9M85.8 80.9h0.9M91.4 72.5h0.9M89.9 75.4h0.9M80.5 82.0h0.9M79.5 79.5h0.9M84.5 81.7h0.9M89.4 77.9h0.9M90.8 73.2h0.9M78.9 80.0h0.9M88.1 78.2h0.9M89.9 75.7h0.9M86.6 67.8h0.9M83.0 70.6h0.9M79.7 79.8h0.9M81.7 82.1h0.9M86.5 81.6h0.9M81.9 84.0h0.9M91.5 71.0h0.9M80.0 78.6h0.9M89.2 66.9h0.9M86.6 82.5h0.9M89.1 79.4h0.9M89.2 76.7h0.9M91.0 72.1h0.9M79.9 78.4h0.9M77.0 81.2h0.9M90.4 70.0h0.9M85.3 70.2h0.9M85.3 68.7h0.9M87.3 79.8h0.9M84.9 69.0h0.9M87.5 69.6h0.9M87.0 69.5h0.9M83.4 81.8h0.9M84.6 81.3h0.9M90.7 77.0h0.9M83.2 72.8h0.9M83.8 71.5h0.9M92.2 72.8h0.9M85.9 80.6h0.9M90.7 73.7h0.9M84.9 71.1h0.9M89.8 68.2h0.9M78.3 79.3h0.9M81.5 83.0h0.9M84.8 81.4h0.9M81.4 82.2h0.9M78.5 83.2h0.9M90.2 78.3h0.9M93.0 71.1h0.9M88.4 69.3h0.9M87.4 79.6h0.9M91.0 72.2h0.9M85.9 70.4h0.9M83.0 73.0h0.9M82.2 83.1h0.9M81.9 74.5h0.9M77.8 83.2h0.9M88.8 78.6h0.9M84.6 70.7h0.9M91.8 72.0h0.9M77.4 80.5h0.9M91.1 72.5h0.9M85.3 70.8h0.9M93.3 70.8h0.9M86.6 80.4h0.9M87.0 69.2h0.9M87.6 78.9h0.9M93.7 67.9h0.9M86.7 80.2h0.9M79.6 77.2h0.9M88.6 79.9h0.9M91.3 71.4h0.9M90.2 69.9h0.9M80.9 75.5h0.9M80.3 80.9h0.9M79.9 81.6h0.9M79.3 81.3h0.9M81.2 82.2h0.9M80.8 76.4h0.9M83.4 84.1h0.9M81.5 81.9h0.9M82.9 82.8h0.9M91.0 75.2h0.9M89.0 77.8h0.9M87.1 80.7h0.9M82.5 73.6h0.9M89.4 69.4h0.9M81.8 82.3h0.9M92.3 67.4h0.9M82.6 73.3h0.9M90.7 69.0h0.9M80.1 81.2h0.9M86.5 79.9h0.9M82.3 72.4h0.9M90.2 76.3h0.9M92.1 72.0h0.9M90.5 74.4h0.9M87.3 79.3h0.9M90.2 74.8h0.9M88.7 69.2h0.9M85.7 83.5h0.9M81.3 72.4h0.9M81.2 82.8h0.9M89.8 76.1h0.9M80.6 72.9h0.9M85.2 69.9h0.9M81.4 81.9h0.9M81.0 81.8h0.9M84.5 83.7h0.9M77.7 82.6h0.9M82.9 73.0h0.9M88.7 77.6h0.9M80.6 76.6h0.9M89.9 75.5h0.9M82.7 83.2h0.9M90.9 72.5h0.9M88.7 69.3h0.9M87.7 69.4h0.9M79.9 78.5h0.9M91.0 71.6h0.9M81.0 76.1h0.9M82.4 72.7h0.9M78.8 79.7h0.9M85.4 81.2h0.9M88.6 69.3h0.9M87.2 79.3h0.9M91.6 71.2h0.9M86.3 80.2h0.9M92.8 73.5h0.9M91.4 72.2h0.9M92.2 68.7h0.9M91.4 71.0h0.9M90.5 66.0h0.9M90.7 77.2h0.9M91.5 73.6h0.9M92.1 74.4h0.9M90.6 67.2h0.9M85.7 70.6h0.9M79.8 79.6h0.9M79.3 77.5h0.9M81.6 82.3h0.9M87.9 78.9h0.9M81.0 74.7h0.9M89.6 77.4h0.9M81.0 73.1h0.9M81.5 72.0h0.9M87.1 81.6h0.9M78.9 80.0h0.9M78.7 80.2h0.9M79.8 78.3h0.9M83.7 72.2h0.9M88.5 67.2h0.9M83.0 84.4h0.9M78.7 81.9h0.9M88.0 78.7h0.9M87.3 79.6h0.9M85.9 69.3h0.9M86.8 79.8h0.9M92.5 75.0h0.9M79.8 81.8h0.9M88.2 68.8h0.9M92.1 71.6h0.9M85.3 70.7h0.9M79.8 79.4h0.9M85.9 67.9h0.9M89.1 69.0h0.9M84.4 71.0h0.9M91.8 72.5h0.9M80.2 82.1h0.9M82.3 82.1h0.9M87.1 69.2h0.9M83.4 82.3h0.9M84.7 83.5h0.9M80.3 74.8h0.9M89.8 78.0h0.9M86.9 80.2h0.9M88.8 77.5h0.9M89.9 67.8h0.9M83.1 82.6h0.9M86.6 80.5h0.9M91.5 70.2h0.9M80.9 73.1h0.9M90.2 75.2h0.9M83.8 81.6h0.9M86.3 81.2h0.9M88.2 68.7h0.9M83.1 72.9h0.9M78.6 82.3h0.9M80.1 80.7h0.9M88.3 69.2h0.9M88.6 78.0h0.9M90.2 68.9h0.9M83.9 71.3h0.9M79.8 80.9h0.9M79.9 80.7h0.9M90.3 69.4h0.9M85.6 80.9h0.9M81.5 84.5h0.9M78.2 83.8h0.9M87.6 69.6h0.9M77.3 79.6h0.9M88.8 77.8h0.9M89.3 76.8h0.9M90.9 67.4h0.9M89.3 79.0h0.9M91.8 67.2h0.9M87.4 68.0h0.9M85.7 70.0h0.9M80.2 78.6h0.9M83.4 82.0h0.9M91.9 71.3h0.9M80.1 78.4h0.9M90.5 75.5h0.9M91.8 72.1h0.9M85.2 81.3h0.9M82.7 82.6h0.9M89.5 69.4h0.9M81.3 74.2h0.9M79.5 79.6h0.9M80.1 79.1h0.9M80.3 84.1h0.9M82.6 82.2h0.9M88.2 69.3h0.9M91.6 71.6h0.9M87.0 69.8h0.9M82.7 83.4h0.9M91.4 69.8h0.9M81.3 75.6h0.9M91.3 72.5h0.9M84.3 82.8h0.9M80.1 78.7h0.9M83.6 81.7h0.9M91.8 74.4h0.9M80.6 81.7h0.9M81.5 82.7h0.9M91.1 68.0h0.9M87.5 78.9h0.9M90.8 76.3h0.9M81.9 74.5h0.9M86.3 69.9h0.9M90.7 76.6h0.9M90.1 75.0h0.9M84.8 82.0h0.9M79.0 82.9h0.9M90.4 74.4h0.9M80.6 76.4h0.9M86.5 69.0h0.9M81.4 75.2h0.9M90.9 68.2h0.9M81.1 82.4h0.9M90.2 76.2h0.9M91.3 67.5h0.9M90.9 75.6h0.9M88.9 79.2h0.9M82.4 82.3h0.9M83.7 81.9h0.9M89.8 76.1h0.9M91.4 75.3h0.9M89.1 68.7h0.9M88.9 77.9h0.9M80.5 77.1h0.9M92.0 71.7h0.9" stroke="#000" stroke-width="0.9" opacity="0.75" fill="none"/>
<path d="M91.04 68.61 L91.26 68.81 L91.46 69.05 L91.63 69.32 L91.76 69.62 L91.87 69.95 L91.95 70.30 L91.99 70.69 L92.00 71.09 L91.98 71.53 L91.93 71.98 L91.85 72.45 L91.74 72.93 L91.59 73.43 L91.42 73.94 L91.22 74.46 L90.99 74.98 L90.73 75.51 L90.45 76.04 L90.14 76.56 L89.81 77.09 L89.46 77.60 L89.10 78.11 L88.71 78.61 L88.31 79.09 L87.89 79.55 L87.46 80.00 L87.03 80.42 L86.58 80.82 L86.13 81.20 L85.68 81.55 L85.22 81.87 L84.77 82.16 L84.32 82.42 L83.88 82.65 L83.44 82.84 L83.02 83.00 L82.60 83.12 L82.21 83.21 L81.82 83.26 L81.46 83.27 L81.11 83.25 L80.79 83.19 L80.49 83.09 L80.21 82.96 L79.96 82.79 L79.74 82.59 L79.54 82.35 L79.37 82.08 L79.24 81.78 L79.13 81.45 L79.05 81.10 L79.01 80.71 L79.00 80.31 L79.02 79.87 L79.07 79.42 L79.15 78.95 L79.26 78.47 L79.41 77.97 L79.58 77.46 L79.78 76.94 L80.01 76.42 L80.27 75.89 L80.55 75.36 L80.86 74.84 L81.19 74.31 L81.54 73.80 L81.90 73.29 L82.29 72.79 L82.69 72.31 L83.11 71.85 L83.54 71.40 L83.97 70.98 L84.42 70.58 L84.87 70.20 L85.32 69.85 L85.78 69.53 L86.23 69.24 L86.68 68.98 L87.12 68.75 L87.56 68.56 L87.98 68.40 L88.40 68.28 L88.79 68.19 L89.18 68.14 L89.54 68.13 L89.89 68.15 L90.21 68.21 L90.51 68.31 L90.79 68.44Z" fill="none" stroke="#000" stroke-width="2.2" opacity="0.85" filter="url(#bl05)"/>
<path d="M90.12 69.79 L90.30 69.96 L90.47 70.16 L90.61 70.38 L90.72 70.63 L90.81 70.90 L90.87 71.20 L90.91 71.52 L90.92 71.86 L90.90 72.22 L90.86 72.60 L90.79 72.99 L90.70 73.39 L90.58 73.81 L90.43 74.23 L90.27 74.66 L90.07 75.10 L89.86 75.54 L89.62 75.98 L89.37 76.42 L89.10 76.86 L88.80 77.29 L88.50 77.71 L88.17 78.12 L87.84 78.52 L87.49 78.91 L87.14 79.28 L86.77 79.63 L86.40 79.97 L86.03 80.28 L85.65 80.57 L85.27 80.84 L84.89 81.09 L84.52 81.30 L84.15 81.49 L83.79 81.65 L83.43 81.78 L83.09 81.89 L82.75 81.96 L82.44 82.00 L82.13 82.01 L81.84 81.99 L81.57 81.94 L81.32 81.86 L81.09 81.75 L80.88 81.61 L80.70 81.44 L80.53 81.24 L80.39 81.02 L80.28 80.77 L80.19 80.50 L80.13 80.20 L80.09 79.88 L80.08 79.54 L80.10 79.18 L80.14 78.80 L80.21 78.41 L80.30 78.01 L80.42 77.59 L80.57 77.17 L80.73 76.74 L80.93 76.30 L81.14 75.86 L81.38 75.42 L81.63 74.98 L81.90 74.54 L82.20 74.11 L82.50 73.69 L82.83 73.28 L83.16 72.88 L83.51 72.49 L83.86 72.12 L84.23 71.77 L84.60 71.43 L84.97 71.12 L85.35 70.83 L85.73 70.56 L86.11 70.31 L86.48 70.10 L86.85 69.91 L87.21 69.75 L87.57 69.62 L87.91 69.51 L88.25 69.44 L88.56 69.40 L88.87 69.39 L89.16 69.41 L89.43 69.46 L89.68 69.54 L89.91 69.65Z" fill="#fff" stroke="#fff" stroke-width="0.8"/>
<path d="M89.19 70.97 L89.34 71.11 L89.47 71.26 L89.59 71.44 L89.68 71.64 L89.75 71.86 L89.80 72.10 L89.83 72.36 L89.84 72.63 L89.82 72.92 L89.79 73.22 L89.73 73.53 L89.66 73.85 L89.56 74.19 L89.45 74.53 L89.31 74.87 L89.16 75.22 L88.99 75.57 L88.80 75.93 L88.60 76.28 L88.38 76.63 L88.14 76.97 L87.90 77.31 L87.64 77.64 L87.37 77.96 L87.09 78.27 L86.81 78.56 L86.52 78.85 L86.22 79.12 L85.92 79.37 L85.62 79.60 L85.32 79.81 L85.01 80.01 L84.71 80.18 L84.42 80.33 L84.13 80.46 L83.85 80.57 L83.57 80.65 L83.30 80.71 L83.05 80.74 L82.81 80.75 L82.57 80.73 L82.36 80.69 L82.16 80.63 L81.97 80.54 L81.81 80.43 L81.66 80.29 L81.53 80.14 L81.41 79.96 L81.32 79.76 L81.25 79.54 L81.20 79.30 L81.17 79.04 L81.16 78.77 L81.18 78.48 L81.21 78.18 L81.27 77.87 L81.34 77.55 L81.44 77.21 L81.55 76.87 L81.69 76.53 L81.84 76.18 L82.01 75.83 L82.20 75.47 L82.40 75.12 L82.62 74.77 L82.86 74.43 L83.10 74.09 L83.36 73.76 L83.63 73.44 L83.91 73.13 L84.19 72.84 L84.48 72.55 L84.78 72.28 L85.08 72.03 L85.38 71.80 L85.68 71.59 L85.99 71.39 L86.29 71.22 L86.58 71.07 L86.87 70.94 L87.15 70.83 L87.43 70.75 L87.70 70.69 L87.95 70.66 L88.19 70.65 L88.43 70.67 L88.64 70.71 L88.84 70.77 L89.03 70.86Z" fill="none" stroke="#444" stroke-width="0.7"/>
<path d="M88.27 72.15 L88.38 72.26 L88.48 72.37 L88.56 72.51 L88.63 72.66 L88.69 72.82 L88.72 73.00 L88.75 73.19 L88.75 73.40 L88.74 73.61 L88.72 73.84 L88.68 74.07 L88.62 74.32 L88.55 74.56 L88.46 74.82 L88.36 75.08 L88.24 75.34 L88.12 75.60 L87.97 75.87 L87.82 76.13 L87.66 76.39 L87.48 76.65 L87.30 76.91 L87.10 77.15 L86.90 77.39 L86.70 77.63 L86.48 77.85 L86.26 78.06 L86.04 78.26 L85.82 78.45 L85.59 78.62 L85.36 78.79 L85.14 78.93 L84.91 79.06 L84.69 79.17 L84.47 79.27 L84.26 79.35 L84.05 79.41 L83.85 79.46 L83.66 79.48 L83.48 79.49 L83.31 79.48 L83.14 79.45 L82.99 79.40 L82.86 79.33 L82.73 79.25 L82.62 79.14 L82.52 79.03 L82.44 78.89 L82.37 78.74 L82.31 78.58 L82.28 78.40 L82.25 78.21 L82.25 78.00 L82.26 77.79 L82.28 77.56 L82.32 77.33 L82.38 77.08 L82.45 76.84 L82.54 76.58 L82.64 76.32 L82.76 76.06 L82.88 75.80 L83.03 75.53 L83.18 75.27 L83.34 75.01 L83.52 74.75 L83.70 74.49 L83.90 74.25 L84.10 74.01 L84.30 73.77 L84.52 73.55 L84.74 73.34 L84.96 73.14 L85.18 72.95 L85.41 72.78 L85.64 72.61 L85.86 72.47 L86.09 72.34 L86.31 72.23 L86.53 72.13 L86.74 72.05 L86.95 71.99 L87.15 71.94 L87.34 71.92 L87.52 71.91 L87.69 71.92 L87.86 71.95 L88.01 72.00 L88.14 72.07Z" fill="none" stroke="#444" stroke-width="0.7"/>
<path d="M87.35 73.34 L87.42 73.40 L87.49 73.48 L87.54 73.57 L87.59 73.67 L87.62 73.78 L87.65 73.90 L87.66 74.03 L87.67 74.16 L87.66 74.31 L87.64 74.46 L87.62 74.62 L87.58 74.78 L87.53 74.94 L87.47 75.11 L87.41 75.29 L87.33 75.46 L87.24 75.64 L87.15 75.81 L87.05 75.99 L86.94 76.16 L86.82 76.33 L86.70 76.50 L86.57 76.67 L86.44 76.83 L86.30 76.98 L86.15 77.13 L86.01 77.27 L85.86 77.41 L85.71 77.53 L85.56 77.65 L85.41 77.76 L85.26 77.85 L85.11 77.94 L84.96 78.02 L84.81 78.08 L84.67 78.13 L84.53 78.17 L84.40 78.20 L84.27 78.22 L84.15 78.22 L84.04 78.22 L83.93 78.20 L83.83 78.16 L83.74 78.12 L83.65 78.06 L83.58 78.00 L83.51 77.92 L83.46 77.83 L83.41 77.73 L83.38 77.62 L83.35 77.50 L83.34 77.37 L83.33 77.24 L83.34 77.09 L83.36 76.94 L83.38 76.78 L83.42 76.62 L83.47 76.46 L83.53 76.29 L83.59 76.11 L83.67 75.94 L83.76 75.76 L83.85 75.59 L83.95 75.41 L84.06 75.24 L84.18 75.07 L84.30 74.90 L84.43 74.73 L84.56 74.57 L84.70 74.42 L84.85 74.27 L84.99 74.13 L85.14 73.99 L85.29 73.87 L85.44 73.75 L85.59 73.64 L85.74 73.55 L85.89 73.46 L86.04 73.38 L86.19 73.32 L86.33 73.27 L86.47 73.23 L86.60 73.20 L86.73 73.18 L86.85 73.18 L86.96 73.18 L87.07 73.20 L87.17 73.24 L87.26 73.28Z" fill="none" stroke="#444" stroke-width="0.7"/>
<path d="M157.2 91.4h0.9M166.0 102.8h0.9M160.1 61.9h0.9M158.6 91.4h0.9M196.4 102.4h0.9M170.8 101.8h0.9M191.6 59.7h0.9M201.9 94.5h0.9M161.1 101.8h0.9M191.2 101.1h0.9M159.2 57.7h0.9M159.2 58.7h0.9M207.2 65.3h0.9M202.1 70.4h0.9M161.8 62.0h0.9M172.0 59.0h0.9M159.2 94.1h0.9M202.2 84.2h0.9M159.9 57.3h0.9M172.0 104.2h0.9M183.7 101.5h0.9M197.3 60.2h0.9M201.2 71.9h0.9M159.6 65.7h0.9M159.9 64.1h0.9M158.1 76.5h0.9M159.7 62.7h0.9M181.4 59.4h0.9M159.2 63.5h0.9M169.6 52.9h0.9M163.5 52.1h0.9M199.5 55.4h0.9M184.1 57.2h0.9M198.2 102.4h0.9M199.6 91.9h0.9M202.1 92.1h0.9M159.4 95.1h0.9M159.2 104.5h0.9M158.0 71.3h0.9M159.6 53.4h0.9M196.6 60.2h0.9M185.0 59.5h0.9M196.1 59.6h0.9M169.5 56.7h0.9M165.8 59.9h0.9M160.0 97.3h0.9M194.2 54.1h0.9M196.3 101.1h0.9M196.6 59.8h0.9M174.1 51.5h0.9M162.0 103.2h0.9M199.7 92.9h0.9M184.6 104.2h0.9M158.8 99.6h0.9M194.9 100.1h0.9M160.2 99.3h0.9M158.0 66.9h0.9M195.3 102.5h0.9M160.7 57.5h0.9M159.9 64.2h0.9M203.0 67.1h0.9M191.0 58.0h0.9M164.8 58.9h0.9M160.4 62.0h0.9M161.9 62.0h0.9M186.7 59.2h0.9M160.0 103.0h0.9M166.4 101.2h0.9M159.7 96.6h0.9M200.3 67.6h0.9M158.9 92.4h0.9M157.2 94.6h0.9M189.7 101.7h0.9M205.0 72.2h0.9M202.1 64.9h0.9M170.4 59.6h0.9M202.4 92.4h0.9M191.7 57.5h0.9M159.0 104.9h0.9M191.9 59.3h0.9M206.9 86.6h0.9M163.4 60.2h0.9M158.5 87.3h0.9M162.6 57.7h0.9M194.0 100.2h0.9M171.0 103.8h0.9M165.9 58.6h0.9M200.3 65.1h0.9M170.1 103.6h0.9M171.2 59.6h0.9M162.7 99.5h0.9M187.9 57.9h0.9M171.1 102.8h0.9M194.0 53.8h0.9M198.9 94.2h0.9M199.2 92.3h0.9M196.6 98.7h0.9M189.7 56.3h0.9M199.5 52.6h0.9M191.3 53.6h0.9M198.5 53.6h0.9M194.0 59.5h0.9M199.4 62.8h0.9M159.6 101.4h0.9M193.6 56.3h0.9M158.7 94.6h0.9M160.6 62.3h0.9M160.2 57.8h0.9M159.3 100.7h0.9M201.3 73.3h0.9M166.4 57.8h0.9M201.9 60.9h0.9M199.3 97.4h0.9M163.0 99.9h0.9M200.7 71.5h0.9M159.3 94.6h0.9M204.0 55.8h0.9M160.7 99.0h0.9M193.4 59.5h0.9M163.2 59.8h0.9M200.3 102.5h0.9M166.5 60.0h0.9M199.7 71.9h0.9M194.8 61.1h0.9M201.9 53.0h0.9M183.9 58.6h0.9M205.0 105.0h0.9M184.7 56.7h0.9M188.2 103.3h0.9M198.2 63.4h0.9M160.7 57.6h0.9M188.6 52.7h0.9M188.2 104.5h0.9M199.8 98.6h0.9M206.6 102.0h0.9M200.4 95.2h0.9M196.9 62.8h0.9M207.0 100.0h0.9M163.5 56.7h0.9M204.5 65.4h0.9M197.5 97.4h0.9M201.0 77.4h0.9M197.0 104.8h0.9M157.1 58.7h0.9M165.3 59.9h0.9M165.4 102.9h0.9M200.1 61.1h0.9M196.8 99.7h0.9M158.1 91.5h0.9M157.3 57.8h0.9M163.0 101.2h0.9M159.8 100.5h0.9M162.3 53.7h0.9M189.9 101.2h0.9M199.5 97.0h0.9M158.5 69.3h0.9M201.0 93.7h0.9M167.7 56.7h0.9M193.7 59.0h0.9M158.5 90.2h0.9M170.4 102.2h0.9M200.2 74.3h0.9M161.3 56.6h0.9M205.6 95.4h0.9M198.5 102.6h0.9M174.1 101.7h0.9M200.2 101.8h0.9M158.7 70.0h0.9M185.5 58.1h0.9M157.6 86.5h0.9M198.3 95.8h0.9M202.4 97.1h0.9M158.8 92.2h0.9M207.0 95.4h0.9M207.8 64.6h0.9M174.2 101.8h0.9M197.1 100.5h0.9M194.8 50.6h0.9M198.4 65.1h0.9M175.5 101.5h0.9M165.9 101.0h0.9M199.9 75.5h0.9M187.2 59.4h0.9M192.9 52.7h0.9M200.8 87.6h0.9M161.1 98.8h0.9M164.1 101.2h0.9M199.4 61.5h0.9M161.5 54.1h0.9M160.8 98.7h0.9M158.5 84.3h0.9M165.7 104.7h0.9M160.7 54.1h0.9M171.3 101.5h0.9M166.7 103.9h0.9M200.4 70.2h0.9M199.2 68.7h0.9M202.5 58.7h0.9M199.3 101.3h0.9M165.1 57.8h0.9M163.6 51.0h0.9M200.0 85.6h0.9M171.7 101.5h0.9M193.7 60.2h0.9M163.2 100.9h0.9M158.4 92.5h0.9M197.9 54.6h0.9M199.8 68.2h0.9M169.6 54.6h0.9M190.5 59.7h0.9M199.4 90.6h0.9M194.3 57.5h0.9M195.9 100.0h0.9M201.3 60.8h0.9M170.7 103.4h0.9M160.9 51.2h0.9M158.6 96.4h0.9M158.7 66.9h0.9M199.0 97.9h0.9M158.4 97.8h0.9M199.4 72.2h0.9M193.0 100.6h0.9M201.3 62.5h0.9M183.8 102.1h0.9M203.8 67.4h0.9M201.7 88.8h0.9M164.6 104.2h0.9M157.6 100.7h0.9M166.4 60.1h0.9M195.1 61.3h0.9M160.4 97.9h0.9M191.3 59.8h0.9M190.3 59.8h0.9M187.5 102.0h0.9M190.7 59.5h0.9M196.3 60.9h0.9M202.9 58.0h0.9M163.5 101.0h0.9M161.2 61.4h0.9M158.6 88.5h0.9M162.4 60.6h0.9M167.1 101.1h0.9M203.6 69.5h0.9M158.0 98.7h0.9M203.1 97.2h0.9M163.9 56.7h0.9M199.1 65.8h0.9M205.0 91.7h0.9M158.0 77.4h0.9M202.7 102.9h0.9M205.3 63.0h0.9M166.3 101.3h0.9M199.6 68.7h0.9M159.7 62.8h0.9M184.5 58.9h0.9M182.8 59.5h0.9M157.8 68.4h0.9M159.7 63.2h0.9M158.8 61.6h0.9M170.9 104.3h0.9M169.4 50.7h0.9M163.6 59.3h0.9M199.2 102.0h0.9M201.6 55.6h0.9M195.6 99.8h0.9M198.6 63.8h0.9M194.2 101.8h0.9M163.3 59.4h0.9M163.7 58.8h0.9M200.4 85.3h0.9M165.9 101.6h0.9M199.3 64.0h0.9M195.5 61.1h0.9M198.7 65.5h0.9M157.7 87.7h0.9M197.5 99.3h0.9M160.2 97.4h0.9M201.9 87.4h0.9M202.5 54.5h0.9M195.0 58.7h0.9M202.7 65.6h0.9M199.5 69.4h0.9M195.1 58.5h0.9M161.5 62.5h0.9M202.6 91.1h0.9M172.2 101.5h0.9M199.7 53.5h0.9M195.6 57.8h0.9M160.5 99.3h0.9M161.6 99.5h0.9M197.2 61.9h0.9M157.9 88.6h0.9M206.0 97.5h0.9M185.8 102.7h0.9M158.8 68.0h0.9M193.6 100.4h0.9M190.3 102.1h0.9M189.2 57.4h0.9M158.7 90.6h0.9M198.3 96.7h0.9M202.6 95.5h0.9M202.0 56.6h0.9M159.3 97.6h0.9M191.6 104.5h0.9M201.9 94.6h0.9M172.4 58.0h0.9M172.0 52.5h0.9M159.3 64.1h0.9M197.9 96.6h0.9M198.8 53.1h0.9M205.5 56.5h0.9M190.7 59.4h0.9M204.1 56.7h0.9M159.1 62.7h0.9M160.2 57.8h0.9M198.9 96.4h0.9M199.4 57.7h0.9M162.3 99.8h0.9M192.0 104.6h0.9M163.2 55.8h0.9M162.1 52.8h0.9M207.3 99.3h0.9M201.9 92.3h0.9M199.9 68.1h0.9M201.1 94.7h0.9M172.3 104.1h0.9M199.4 89.3h0.9M198.8 59.3h0.9M195.6 103.8h0.9M158.1 96.0h0.9M183.0 104.9h0.9M158.4 65.0h0.9M197.9 59.8h0.9M166.5 103.2h0.9M196.2 50.7h0.9M201.9 95.6h0.9M199.6 69.9h0.9M158.4 83.9h0.9M157.3 67.3h0.9M182.3 54.5h0.9M193.5 59.8h0.9M196.2 61.4h0.9M167.4 101.2h0.9M201.1 97.9h0.9M161.7 101.3h0.9M158.0 97.8h0.9M196.7 98.6h0.9M207.4 94.5h0.9M199.7 97.1h0.9M157.7 74.5h0.9M197.0 62.3h0.9M195.0 56.0h0.9M207.5 60.4h0.9M165.3 56.9h0.9M199.0 93.6h0.9M202.7 57.1h0.9M197.0 103.9h0.9M157.6 100.8h0.9M162.8 101.2h0.9M192.4 59.1h0.9M195.5 59.5h0.9M197.5 57.0h0.9M165.4 101.2h0.9M165.3 104.8h0.9M201.9 53.9h0.9M165.9 60.2h0.9M164.1 100.2h0.9M204.0 69.0h0.9M157.6 52.9h0.9M205.2 62.9h0.9M159.6 62.5h0.9M174.3 58.9h0.9M194.6 60.2h0.9M198.9 94.2h0.9M198.0 97.9h0.9M197.0 58.9h0.9M199.1 55.0h0.9M159.0 104.3h0.9M174.9 59.5h0.9M190.6 59.9h0.9M161.0 98.2h0.9M203.0 94.8h0.9M166.5 101.0h0.9M194.5 99.9h0.9M159.7 65.0h0.9M157.8 58.8h0.9M159.5 95.4h0.9M159.5 95.2h0.9M166.3 60.0h0.9M172.7 55.9h0.9M207.6 91.4h0.9M164.1 59.2h0.9M158.6 55.0h0.9M159.8 64.2h0.9M158.0 85.3h0.9M197.9 58.3h0.9M199.5 74.6h0.9M196.6 99.5h0.9M203.0 99.8h0.9M194.1 60.8h0.9M157.0 92.6h0.9M206.1 97.2h0.9M194.3 100.1h0.9M157.5 86.3h0.9M158.6 91.0h0.9M199.5 103.9h0.9M198.0 96.6h0.9M158.6 66.9h0.9M195.8 101.9h0.9M161.1 104.8h0.9M165.4 54.1h0.9M187.4 103.8h0.9M158.7 64.3h0.9M158.0 93.7h0.9M192.2 100.8h0.9M197.3 62.9h0.9M194.8 60.9h0.9M158.3 73.9h0.9M157.6 104.6h0.9M164.0 60.8h0.9M203.5 86.8h0.9M192.2 101.7h0.9M196.8 101.0h0.9M204.0 97.4h0.9M205.6 81.9h0.9M164.7 102.8h0.9M186.2 103.6h0.9M200.2 91.1h0.9M159.4 58.6h0.9M170.3 58.9h0.9M158.0 58.1h0.9M200.9 76.4h0.9M160.4 63.7h0.9M169.2 59.6h0.9M158.0 61.0h0.9M175.1 102.1h0.9M157.1 90.4h0.9M200.4 92.5h0.9M161.0 56.7h0.9M201.6 56.1h0.9M162.0 61.6h0.9M200.2 54.8h0.9M191.1 101.0h0.9M193.3 59.6h0.9M162.1 53.8h0.9M188.0 55.5h0.9M198.1 99.2h0.9M198.2 100.4h0.9M205.8 100.1h0.9M164.9 58.0h0.9M158.4 60.3h0.9M199.6 84.6h0.9M200.0 74.0h0.9M160.5 61.8h0.9M159.8 103.5h0.9M157.9 58.1h0.9M190.1 59.0h0.9M166.7 50.3h0.9M192.9 102.8h0.9M196.2 98.9h0.9M196.7 59.8h0.9M191.5 103.3h0.9M204.1 58.8h0.9M199.7 54.8h0.9M162.6 61.0h0.9M200.2 88.7h0.9M165.1 102.7h0.9M205.3 104.4h0.9M159.2 62.2h0.9M199.6 66.3h0.9M161.6 61.5h0.9M194.7 102.1h0.9M206.3 98.8h0.9M158.7 96.1h0.9M198.0 104.7h0.9M195.7 102.9h0.9M200.4 76.3h0.9M200.2 95.1h0.9M203.9 56.8h0.9M194.7 104.5h0.9M169.9 101.8h0.9M158.3 92.9h0.9M191.2 101.7h0.9M192.7 100.8h0.9M158.6 89.5h0.9M192.9 60.4h0.9M161.6 100.9h0.9M198.5 64.5h0.9M167.6 58.6h0.9M160.0 97.9h0.9M201.1 53.9h0.9M167.5 101.8h0.9M200.6 89.9h0.9M194.1 101.3h0.9M161.1 102.2h0.9M162.8 53.7h0.9M162.1 99.1h0.9M157.4 71.9h0.9M200.0 66.2h0.9M158.2 65.0h0.9M159.6 65.2h0.9M158.9 54.4h0.9M196.6 52.9h0.9M157.1 101.1h0.9M202.9 101.7h0.9M201.0 64.6h0.9M190.1 101.2h0.9M194.7 100.0h0.9M206.3 59.4h0.9M160.3 61.1h0.9M159.6 97.4h0.9M199.1 95.9h0.9M199.5 74.1h0.9M208.2 69.8h0.9M164.6 60.4h0.9M204.1 60.1h0.9M199.5 93.7h0.9M170.5 55.7h0.9M162.2 61.9h0.9M163.8 101.1h0.9M157.9 67.4h0.9M161.3 62.6h0.9M158.3 65.2h0.9M172.2 58.9h0.9M200.1 95.1h0.9M158.2 99.6h0.9M202.3 59.9h0.9M163.4 61.1h0.9M202.2 70.4h0.9M163.3 56.4h0.9M201.2 61.2h0.9M197.0 104.9h0.9M158.6 63.1h0.9M159.5 60.7h0.9M204.2 66.7h0.9M202.3 67.3h0.9M161.5 62.5h0.9M208.6 75.5h0.9M199.8 65.0h0.9M196.1 102.1h0.9M157.2 104.4h0.9M199.8 63.2h0.9M158.3 86.7h0.9M159.2 66.4h0.9M208.1 64.6h0.9M198.9 94.6h0.9M199.0 62.5h0.9M160.6 98.5h0.9M159.6 101.5h0.9M201.3 102.7h0.9M157.3 64.1h0.9M157.6 73.7h0.9M163.7 60.7h0.9M158.4 60.3h0.9M193.8 60.4h0.9M202.8 97.4h0.9M160.8 97.9h0.9M184.5 59.4h0.9M158.8 91.9h0.9M200.1 68.3h0.9M159.5 59.5h0.9M160.3 64.0h0.9M162.6 99.4h0.9M157.6 54.8h0.9M169.2 58.0h0.9M198.5 61.2h0.9M201.0 90.8h0.9M197.5 101.2h0.9M168.8 101.6h0.9M197.0 54.8h0.9M172.4 103.9h0.9M187.0 57.9h0.9M200.0 88.4h0.9M196.1 99.6h0.9M191.9 57.7h0.9M196.4 58.1h0.9M202.3 66.2h0.9M197.7 102.7h0.9M173.6 57.1h0.9M191.4 59.1h0.9M194.3 104.8h0.9M160.0 97.6h0.9M193.0 52.9h0.9M158.4 76.2h0.9M166.4 51.1h0.9M157.7 97.2h0.9M159.9 97.9h0.9M190.4 52.9h0.9M158.7 92.2h0.9M166.9 56.3h0.9M199.9 57.6h0.9M199.2 66.5h0.9M170.8 101.4h0.9M164.5 101.7h0.9M200.6 93.7h0.9M200.5 58.2h0.9M159.8 98.3h0.9M198.6 61.0h0.9M162.7 99.9h0.9M204.5 57.3h0.9M194.8 58.9h0.9M192.2 60.2h0.9M157.5 98.2h0.9M199.3 62.5h0.9M198.5 97.4h0.9M200.4 99.7h0.9M193.7 60.6h0.9M158.7 70.2h0.9M160.8 98.5h0.9M198.8 52.1h0.9M208.3 87.5h0.9M162.5 61.2h0.9M204.2 97.7h0.9M200.8 61.1h0.9M182.7 101.7h0.9M203.2 64.5h0.9M199.0 93.0h0.9M187.5 101.5h0.9M196.6 98.9h0.9M161.0 58.9h0.9M169.6 104.4h0.9M168.1 101.2h0.9M161.5 62.4h0.9M200.2 92.9h0.9M199.2 93.1h0.9M195.3 60.8h0.9M160.7 97.6h0.9M158.6 68.9h0.9M162.8 100.0h0.9M193.9 101.1h0.9M195.1 104.7h0.9M166.7 55.4h0.9M167.3 53.9h0.9M188.2 58.9h0.9M158.2 75.0h0.9M206.3 86.3h0.9M166.6 53.5h0.9M164.0 104.2h0.9M194.9 99.9h0.9M193.9 51.3h0.9M157.0 91.6h0.9M163.9 58.6h0.9M197.9 99.6h0.9M195.9 61.9h0.9M158.0 65.1h0.9M159.1 59.2h0.9M158.1 70.5h0.9M162.0 60.6h0.9M189.6 53.4h0.9M195.7 57.4h0.9M157.1 66.5h0.9M203.1 58.0h0.9M197.7 100.4h0.9M159.6 96.5h0.9M168.6 101.9h0.9M196.8 100.5h0.9M186.0 101.6h0.9M157.7 67.5h0.9M203.4 104.8h0.9M193.7 60.3h0.9M187.2 58.4h0.9M198.8 94.2h0.9M198.8 96.7h0.9M199.9 88.9h0.9M196.6 102.8h0.9M159.6 95.6h0.9M184.6 56.7h0.9M198.0 96.3h0.9M200.0 62.3h0.9M164.2 104.4h0.9M188.9 101.3h0.9M157.6 104.8h0.9M198.3 64.8h0.9M201.1 61.6h0.9M199.7 78.7h0.9M158.4 98.2h0.9M158.2 72.5h0.9M198.1 59.8h0.9M198.7 66.3h0.9M204.6 60.1h0.9M165.5 103.5h0.9M158.3 73.9h0.9M195.3 103.5h0.9M200.0 62.4h0.9M163.2 99.9h0.9M203.9 91.3h0.9M197.7 64.0h0.9M164.7 58.0h0.9M194.6 61.1h0.9M197.0 98.3h0.9M203.8 57.8h0.9M204.8 96.8h0.9M163.0 102.3h0.9M164.6 59.6h0.9M160.7 100.7h0.9M197.3 98.2h0.9M157.4 102.6h0.9M172.3 101.8h0.9M164.6 55.4h0.9M159.2 61.5h0.9M188.7 102.1h0.9M198.6 65.6h0.9M204.6 59.8h0.9M172.4 59.3h0.9M175.2 54.4h0.9M199.1 68.6h0.9M203.3 64.6h0.9M198.4 63.5h0.9M207.9 89.4h0.9M194.6 60.0h0.9M158.9 66.7h0.9M200.7 94.3h0.9M188.9 59.6h0.9M158.6 92.4h0.9M158.9 102.2h0.9M190.8 59.3h0.9M165.9 101.0h0.9M199.1 52.1h0.9M201.5 73.1h0.9M198.0 97.3h0.9M164.6 60.5h0.9M199.4 102.8h0.9M206.4 85.4h0.9M169.3 59.5h0.9M197.0 62.9h0.9M191.0 56.7h0.9M167.5 103.5h0.9M182.8 59.5h0.9M157.5 97.3h0.9M203.5 87.4h0.9M201.4 86.8h0.9M197.0 63.0h0.9M165.1 53.8h0.9M203.2 62.2h0.9M195.1 99.6h0.9M158.9 95.4h0.9M204.0 67.6h0.9M163.6 100.6h0.9M164.0 52.9h0.9M158.0 73.0h0.9M197.1 63.1h0.9M201.2 58.7h0.9M202.0 101.6h0.9M158.7 90.8h0.9M195.2 101.7h0.9M167.8 51.2h0.9M195.2 100.9h0.9M198.4 95.8h0.9M161.9 61.4h0.9M166.3 51.5h0.9M175.9 101.5h0.9M171.7 59.1h0.9M199.0 68.1h0.9M197.9 51.8h0.9M203.8 56.7h0.9M165.5 60.1h0.9M158.7 56.9h0.9M202.7 66.5h0.9M202.7 66.0h0.9M173.2 59.5h0.9M197.5 63.0h0.9M198.9 93.9h0.9M199.4 89.4h0.9M204.5 103.0h0.9M199.8 76.9h0.9M198.4 103.1h0.9M166.7 101.1h0.9M197.0 62.5h0.9M159.3 94.4h0.9M160.8 63.2h0.9M170.3 101.4h0.9M199.0 67.9h0.9M167.4 58.7h0.9M157.4 62.6h0.9M204.7 93.5h0.9M196.1 60.9h0.9M192.0 102.6h0.9M204.7 90.8h0.9M191.2 101.0h0.9M198.2 99.7h0.9M200.1 63.8h0.9M205.0 89.3h0.9M199.5 71.7h0.9M199.3 69.7h0.9M195.2 60.4h0.9M199.8 56.3h0.9M183.5 59.4h0.9M160.1 96.6h0.9M201.2 72.1h0.9M199.0 93.2h0.9M192.8 56.4h0.9M190.6 58.8h0.9M206.2 90.0h0.9M200.4 94.6h0.9M157.4 65.8h0.9M195.9 60.6h0.9M193.2 60.2h0.9M159.9 96.8h0.9M201.6 83.9h0.9M165.5 54.2h0.9M199.7 69.8h0.9M201.7 68.1h0.9M202.8 89.9h0.9M170.1 101.4h0.9M203.2 104.3h0.9M173.1 58.1h0.9M161.1 62.8h0.9M195.0 59.4h0.9M205.3 97.3h0.9M198.3 96.0h0.9M198.8 51.6h0.9M195.7 100.0h0.9M199.6 72.3h0.9M166.8 101.0h0.9M165.4 100.9h0.9M201.1 78.8h0.9M166.8 101.6h0.9M167.0 55.9h0.9M197.6 100.4h0.9M163.2 60.9h0.9M198.9 65.3h0.9M202.7 70.2h0.9M199.2 65.5h0.9M185.9 101.7h0.9M197.4 97.5h0.9M194.2 60.5h0.9M203.3 97.5h0.9M157.8 63.8h0.9M197.8 98.2h0.9M162.1 99.8h0.9M199.5 74.5h0.9M158.5 100.2h0.9M172.2 57.0h0.9M196.1 59.9h0.9M158.7 67.7h0.9M188.8 59.5h0.9M202.6 96.7h0.9M195.9 100.1h0.9M192.2 101.9h0.9M159.6 64.8h0.9M200.0 100.1h0.9M200.2 90.1h0.9M184.9 53.2h0.9M159.2 98.7h0.9M161.2 56.3h0.9M201.8 65.1h0.9M194.4 61.0h0.9M184.7 101.5h0.9M161.9 59.4h0.9M161.5 101.0h0.9M193.5 100.4h0.9M200.9 63.8h0.9M161.0 57.0h0.9M184.9 58.9h0.9M169.6 104.6h0.9M160.6 98.3h0.9M158.3 91.7h0.9M193.3 101.4h0.9M176.7 104.0h0.9M201.2 58.7h0.9M203.7 69.1h0.9M200.9 68.6h0.9M202.1 55.1h0.9M201.6 59.4h0.9M160.9 62.8h0.9M193.5 104.8h0.9M200.1 53.2h0.9M203.4 71.8h0.9M199.8 72.0h0.9M199.8 98.4h0.9M204.1 97.2h0.9M166.6 58.2h0.9M196.6 99.6h0.9M184.3 101.8h0.9M169.5 59.6h0.9M199.4 70.9h0.9M186.9 101.8h0.9M193.2 104.7h0.9M158.7 90.4h0.9M197.4 63.3h0.9M181.3 52.1h0.9M191.5 59.9h0.9M201.0 78.1h0.9M201.0 61.5h0.9M158.6 93.3h0.9M190.7 103.3h0.9M205.8 57.4h0.9M170.5 101.9h0.9M159.8 98.6h0.9M204.2 78.5h0.9M189.2 56.1h0.9M159.8 100.3h0.9M199.5 73.9h0.9M199.8 99.4h0.9M171.2 104.7h0.9M169.4 101.6h0.9M197.5 97.4h0.9M206.6 57.8h0.9M161.2 59.0h0.9M159.3 96.3h0.9M190.1 57.7h0.9M161.4 102.6h0.9M197.9 64.1h0.9M158.0 86.9h0.9M189.6 57.3h0.9M205.1 57.9h0.9M197.6 63.3h0.9M159.1 57.4h0.9M157.5 97.9h0.9M196.0 99.2h0.9M193.3 60.3h0.9M168.3 102.4h0.9M157.0 66.3h0.9M202.3 101.2h0.9M196.4 61.2h0.9M193.9 101.0h0.9M194.0 100.2h0.9M189.3 102.0h0.9M194.7 58.1h0.9M162.1 59.0h0.9M204.3 97.1h0.9M201.3 89.9h0.9M158.7 69.0h0.9M200.6 88.3h0.9M158.9 63.6h0.9M204.2 94.1h0.9M191.1 101.2h0.9M162.7 100.6h0.9M206.2 62.0h0.9M164.8 51.8h0.9M194.4 60.6h0.9M169.3 58.5h0.9M190.0 57.2h0.9M190.8 59.9h0.9M165.9 100.8h0.9M199.3 90.6h0.9M174.3 53.6h0.9M162.5 99.4h0.9M157.1 53.4h0.9M203.8 58.3h0.9M174.1 57.4h0.9M193.7 104.1h0.9M157.2 95.7h0.9M193.1 102.0h0.9M167.9 58.1h0.9M168.9 57.9h0.9M157.2 98.3h0.9M158.0 68.4h0.9M167.5 57.6h0.9M201.2 71.3h0.9M204.0 64.1h0.9M171.1 104.0h0.9M196.4 100.4h0.9M193.1 51.5h0.9M196.7 98.3h0.9M201.6 65.5h0.9M205.3 64.2h0.9M203.0 89.5h0.9M206.4 97.4h0.9M160.7 98.8h0.9M195.4 57.8h0.9M200.2 89.4h0.9M199.4 55.9h0.9M157.7 68.5h0.9M201.3 90.6h0.9M189.5 104.8h0.9M192.9 59.0h0.9M201.6 66.4h0.9M199.6 73.7h0.9M160.8 59.6h0.9M164.4 101.6h0.9M163.1 100.8h0.9M195.0 60.9h0.9M187.2 57.9h0.9M197.4 101.6h0.9M161.0 62.4h0.9M195.0 104.8h0.9M159.4 63.6h0.9M205.5 59.2h0.9M201.3 65.4h0.9M202.5 76.7h0.9M202.1 53.0h0.9M205.5 82.4h0.9M189.7 58.0h0.9M200.6 69.0h0.9M160.6 99.6h0.9M167.0 101.8h0.9M193.9 103.3h0.9M199.9 91.1h0.9M200.2 102.9h0.9M164.7 56.8h0.9M206.4 100.6h0.9M203.1 94.1h0.9M197.6 98.1h0.9M205.5 68.8h0.9M163.4 100.4h0.9M158.4 95.1h0.9M201.3 65.0h0.9M194.4 60.7h0.9M192.2 104.3h0.9M164.9 101.2h0.9M201.1 94.1h0.9M161.9 61.3h0.9M199.6 89.6h0.9M157.1 94.5h0.9M168.4 54.3h0.9M192.1 52.7h0.9M204.7 93.6h0.9M199.7 65.3h0.9M158.4 59.8h0.9M198.9 60.1h0.9M171.4 57.4h0.9M205.6 98.5h0.9M201.2 68.9h0.9M199.7 66.2h0.9M208.1 82.6h0.9M164.0 104.2h0.9M202.6 67.4h0.9M160.4 60.7h0.9M182.7 53.4h0.9M188.3 56.8h0.9M203.7 94.4h0.9M190.8 101.1h0.9M159.6 96.4h0.9M158.1 57.3h0.9M157.5 67.5h0.9M161.4 104.0h0.9M199.3 62.9h0.9M157.6 62.2h0.9M157.2 99.3h0.9M168.3 104.0h0.9M158.0 72.7h0.9M203.6 93.2h0.9M198.0 60.5h0.9M202.3 69.3h0.9M199.4 98.7h0.9M194.7 101.2h0.9M161.8 99.7h0.9M162.5 103.7h0.9M201.3 74.7h0.9M158.4 97.9h0.9M158.5 68.5h0.9M160.8 62.7h0.9M198.7 94.4h0.9M158.6 71.0h0.9M196.9 98.5h0.9M197.9 59.8h0.9M160.5 62.4h0.9M202.1 58.5h0.9M162.6 56.7h0.9M167.2 58.8h0.9M182.8 58.7h0.9M160.1 56.7h0.9M160.6 52.0h0.9M160.8 52.8h0.9M200.5 72.5h0.9M160.5 99.3h0.9M163.6 55.8h0.9M198.2 96.5h0.9M193.0 59.5h0.9M198.3 95.8h0.9M187.4 101.8h0.9M199.5 86.1h0.9M194.3 58.8h0.9M198.1 100.5h0.9M160.2 64.1h0.9M202.4 92.7h0.9M169.2 58.6h0.9M192.3 56.4h0.9M196.1 101.2h0.9M158.9 93.7h0.9M157.7 104.5h0.9M199.6 67.4h0.9M158.6 90.1h0.9M197.0 98.1h0.9M158.4 74.5h0.9M197.4 103.6h0.9M201.1 91.5h0.9M159.5 64.3h0.9M202.5 93.3h0.9M161.0 61.7h0.9M202.0 89.0h0.9M171.3 104.0h0.9M200.4 85.8h0.9M160.0 62.1h0.9M198.1 96.2h0.9M188.3 102.0h0.9M195.8 102.6h0.9M169.2 101.3h0.9M158.0 89.6h0.9M196.5 98.7h0.9M200.0 54.4h0.9M204.5 91.4h0.9M195.5 99.3h0.9M157.6 87.9h0.9M159.9 63.1h0.9M199.1 93.5h0.9M196.8 62.7h0.9M198.2 61.4h0.9M202.4 91.3h0.9M201.4 68.0h0.9M157.6 69.4h0.9M158.6 58.4h0.9M190.7 103.9h0.9M165.9 57.6h0.9M170.3 59.6h0.9M198.1 64.8h0.9M188.0 104.3h0.9M194.2 51.3h0.9M204.9 66.3h0.9M166.4 103.4h0.9M205.8 63.6h0.9M159.0 66.8h0.9M192.5 56.9h0.9M203.9 67.6h0.9M189.7 103.0h0.9M158.4 88.5h0.9M199.9 57.5h0.9M166.7 53.7h0.9M159.5 63.1h0.9M197.7 59.5h0.9M158.5 87.5h0.9M191.1 54.9h0.9M196.6 51.8h0.9M158.1 53.7h0.9M191.5 101.4h0.9M174.0 101.5h0.9M158.8 61.9h0.9M164.3 60.6h0.9M158.5 93.6h0.9M167.3 56.9h0.9M185.9 103.3h0.9M166.3 59.1h0.9M164.6 60.4h0.9M200.2 87.1h0.9M197.1 61.5h0.9M204.8 104.4h0.9M199.8 89.5h0.9M157.8 72.3h0.9M157.4 95.7h0.9M174.1 103.7h0.9M172.2 103.2h0.9M161.6 100.8h0.9M171.4 59.3h0.9M191.2 57.7h0.9M175.5 56.7h0.9M185.9 58.7h0.9M192.2 101.8h0.9M157.7 86.5h0.9M161.3 61.5h0.9M200.9 99.2h0.9M199.6 70.0h0.9M157.0 65.1h0.9M160.1 101.3h0.9M157.7 66.0h0.9M161.1 61.5h0.9M158.5 84.6h0.9M197.5 101.2h0.9M190.9 57.7h0.9M200.6 94.9h0.9M166.9 59.9h0.9M163.4 52.7h0.9M202.1 57.9h0.9M200.9 101.5h0.9M160.7 63.0h0.9M202.5 64.4h0.9M203.0 85.9h0.9M157.2 70.7h0.9M158.7 95.8h0.9M192.8 55.6h0.9M158.9 92.5h0.9M197.7 63.9h0.9M199.6 88.4h0.9M157.3 103.4h0.9M199.9 66.9h0.9M198.6 94.7h0.9M193.0 57.2h0.9M158.1 71.2h0.9M197.6 63.2h0.9M195.1 59.4h0.9M195.4 61.3h0.9M158.7 68.8h0.9M157.8 65.8h0.9M197.6 63.4h0.9M200.2 68.7h0.9M205.8 71.9h0.9M191.6 57.0h0.9M158.1 88.1h0.9M197.3 62.2h0.9M198.6 94.9h0.9M158.2 94.4h0.9M201.3 60.3h0.9M189.2 59.5h0.9M157.2 66.1h0.9M188.5 51.5h0.9M160.2 51.5h0.9M193.8 100.8h0.9M159.1 64.0h0.9M175.7 56.7h0.9M176.3 55.5h0.9M157.4 103.2h0.9M163.0 99.7h0.9M158.1 94.9h0.9M204.8 100.0h0.9M158.9 93.0h0.9M200.2 70.2h0.9M181.3 101.5h0.9M204.3 61.3h0.9M197.8 56.1h0.9M204.0 90.2h0.9M169.4 59.4h0.9M164.6 60.5h0.9M195.4 61.2h0.9M200.9 68.3h0.9M199.5 73.5h0.9M191.3 50.6h0.9M173.7 59.5h0.9M202.5 58.4h0.9M196.7 98.3h0.9M172.5 59.0h0.9M200.9 91.9h0.9M170.1 103.4h0.9M199.5 87.0h0.9M167.8 101.3h0.9M162.6 58.2h0.9M158.0 100.3h0.9M184.5 103.6h0.9M192.7 101.7h0.9M195.6 103.4h0.9M194.2 104.5h0.9M194.0 55.3h0.9M170.2 57.4h0.9M199.9 71.8h0.9M165.1 60.0h0.9M198.8 57.9h0.9M157.4 96.0h0.9M199.3 64.4h0.9M160.9 100.4h0.9M192.5 102.7h0.9M191.8 103.4h0.9M199.7 63.5h0.9M200.1 57.6h0.9M159.2 65.8h0.9M187.9 102.4h0.9M158.2 62.7h0.9M197.3 104.5h0.9M158.9 67.1h0.9M157.9 67.5h0.9M159.8 97.9h0.9M159.2 63.5h0.9M200.7 65.6h0.9M199.5 70.2h0.9M198.2 64.8h0.9M164.4 54.6h0.9M160.7 63.4h0.9M201.7 61.5h0.9M193.8 100.3h0.9M177.1 59.0h0.9M195.9 60.3h0.9M194.2 58.0h0.9M173.3 59.1h0.9M188.8 101.4h0.9M198.7 100.9h0.9M177.6 59.2h0.9M196.7 100.1h0.9M163.1 101.3h0.9M199.8 89.8h0.9M185.1 104.3h0.9M160.5 97.5h0.9M194.1 102.1h0.9M167.0 101.9h0.9M193.0 60.1h0.9M201.8 90.3h0.9M157.3 59.7h0.9M163.4 61.1h0.9M199.7 91.7h0.9M205.9 66.8h0.9M202.8 55.6h0.9M203.9 100.9h0.9M188.6 102.4h0.9M196.8 58.2h0.9M157.9 91.5h0.9M158.9 92.9h0.9M161.2 62.5h0.9M196.9 59.9h0.9M192.5 57.4h0.9M164.8 101.0h0.9M198.0 103.3h0.9M166.2 52.8h0.9M198.7 99.4h0.9M173.3 54.0h0.9M160.0 96.5h0.9M163.9 104.9h0.9M161.1 51.6h0.9M194.2 100.1h0.9M189.2 104.3h0.9M159.3 95.3h0.9M161.4 59.2h0.9M161.1 62.9h0.9M177.2 101.5h0.9M162.3 50.9h0.9M191.7 101.4h0.9M196.2 56.0h0.9M201.5 61.6h0.9M203.6 55.9h0.9M168.0 55.8h0.9M200.6 68.1h0.9M158.4 62.7h0.9M202.6 67.4h0.9M158.6 96.8h0.9M169.7 104.6h0.9M203.0 103.7h0.9M204.9 97.2h0.9M157.9 98.8h0.9M194.4 101.2h0.9M158.8 92.3h0.9M204.0 95.1h0.9M184.7 101.5h0.9M198.6 64.0h0.9M199.9 54.0h0.9M161.0 100.8h0.9M196.4 99.9h0.9M157.1 69.8h0.9M206.5 65.5h0.9M203.0 54.2h0.9M170.4 50.1h0.9M157.8 88.0h0.9M188.0 103.4h0.9M168.5 101.3h0.9M192.6 104.8h0.9M159.4 63.1h0.9M198.1 98.4h0.9M159.6 98.3h0.9M199.6 69.7h0.9M162.9 60.8h0.9M185.9 101.5h0.9M164.9 100.6h0.9M171.9 103.0h0.9M202.2 96.3h0.9M199.4 71.1h0.9M200.1 98.7h0.9M197.8 61.7h0.9M189.4 57.9h0.9M198.5 63.1h0.9M174.1 103.6h0.9M158.2 73.8h0.9M195.7 58.2h0.9M158.9 97.0h0.9M157.4 61.2h0.9M160.5 97.8h0.9M187.8 102.6h0.9M159.1 64.4h0.9M157.3 91.8h0.9M161.0 62.8h0.9M159.7 55.9h0.9M190.6 57.7h0.9M198.6 63.0h0.9M203.1 88.4h0.9M204.5 103.3h0.9M199.8 65.1h0.9M164.9 59.8h0.9M195.8 61.0h0.9M158.2 58.7h0.9M189.7 57.1h0.9M199.9 63.8h0.9M205.8 56.7h0.9M161.1 98.2h0.9M199.1 66.6h0.9M199.3 90.7h0.9M205.2 72.6h0.9M159.3 102.2h0.9M167.8 59.4h0.9M205.9 101.3h0.9M199.0 62.2h0.9M167.1 59.4h0.9M180.7 103.8h0.9M168.1 59.2h0.9M162.3 99.2h0.9M195.4 58.8h0.9M165.5 53.8h0.9M200.0 58.6h0.9M199.4 91.2h0.9M202.6 65.2h0.9M198.8 60.1h0.9M159.5 59.3h0.9M159.9 56.2h0.9M208.5 87.4h0.9M208.2 76.6h0.9M196.4 62.4h0.9M200.4 96.1h0.9M165.4 53.5h0.9M181.6 58.6h0.9M192.5 103.2h0.9M192.8 100.7h0.9M161.4 56.0h0.9M158.2 101.0h0.9M160.8 60.7h0.9M201.8 90.6h0.9M173.0 59.4h0.9M159.4 66.0h0.9M163.9 101.1h0.9M204.1 57.6h0.9M198.2 62.7h0.9M174.1 52.4h0.9M197.9 64.3h0.9M199.1 66.2h0.9M163.4 60.9h0.9M185.5 58.5h0.9M158.2 64.7h0.9M158.8 53.6h0.9M192.5 101.0h0.9M201.7 90.9h0.9M180.8 103.7h0.9M196.3 99.3h0.9M159.2 66.0h0.9M168.8 59.6h0.9M159.3 99.1h0.9M195.2 60.6h0.9M158.0 85.7h0.9M171.3 59.3h0.9M207.4 98.6h0.9M195.1 101.4h0.9M199.8 54.5h0.9M188.2 102.5h0.9M198.8 66.6h0.9M202.8 59.5h0.9M164.1 53.5h0.9M203.0 99.0h0.9M197.5 58.4h0.9M160.3 63.0h0.9M197.8 96.9h0.9M162.7 101.6h0.9M190.8 57.4h0.9M203.1 86.9h0.9M196.9 58.5h0.9M194.4 100.6h0.9M199.5 62.1h0.9M204.9 75.8h0.9M160.5 99.4h0.9M207.3 59.5h0.9M168.1 59.7h0.9M203.8 61.8h0.9M206.3 64.3h0.9M167.6 59.8h0.9M157.9 70.4h0.9M205.9 61.6h0.9M189.3 101.9h0.9M197.7 100.5h0.9M192.5 101.4h0.9M200.8 96.6h0.9M195.2 101.6h0.9M199.5 66.7h0.9M194.0 100.2h0.9M158.5 63.7h0.9M197.4 100.5h0.9M169.0 101.6h0.9M202.3 64.1h0.9M185.4 54.8h0.9M191.7 57.0h0.9M193.0 60.2h0.9M159.4 96.7h0.9M166.8 56.2h0.9M159.4 54.7h0.9M157.9 104.7h0.9M198.8 102.1h0.9M199.6 99.7h0.9M172.7 101.5h0.9M201.8 60.5h0.9M200.6 55.6h0.9M161.0 61.9h0.9M161.9 60.5h0.9M202.7 93.4h0.9M201.3 62.9h0.9M197.1 102.7h0.9M200.9 61.4h0.9M170.1 53.7h0.9M167.0 53.6h0.9M164.9 60.2h0.9M160.2 58.7h0.9M170.6 104.4h0.9M194.9 102.1h0.9M158.3 74.7h0.9M162.3 61.6h0.9M206.8 93.5h0.9M158.9 93.1h0.9M198.5 64.5h0.9M200.3 92.5h0.9M185.9 58.9h0.9M189.5 57.7h0.9M206.2 61.0h0.9M199.0 66.9h0.9M172.3 58.9h0.9M158.2 91.2h0.9M161.7 101.1h0.9M200.4 54.1h0.9M199.4 71.1h0.9M203.2 101.7h0.9M203.6 61.3h0.9M200.0 98.9h0.9M198.8 63.2h0.9M192.3 59.2h0.9M160.6 104.5h0.9M201.6 53.3h0.9M199.9 102.3h0.9M200.3 87.5h0.9M158.5 57.0h0.9M168.5 104.5h0.9M197.0 98.0h0.9M200.5 64.7h0.9M208.0 70.9h0.9M163.2 100.4h0.9M195.2 51.6h0.9M157.2 103.5h0.9M158.1 104.6h0.9M192.7 56.8h0.9M204.9 91.6h0.9M160.3 63.3h0.9M159.6 63.7h0.9M157.2 97.6h0.9M199.3 67.7h0.9M198.4 103.1h0.9M189.3 57.4h0.9M194.1 60.5h0.9M160.4 97.1h0.9M195.4 99.8h0.9M196.9 55.9h0.9M172.5 101.5h0.9M199.3 68.4h0.9M168.1 54.9h0.9M193.0 101.3h0.9M196.2 100.2h0.9M207.9 89.8h0.9M207.7 96.7h0.9M158.5 96.9h0.9M199.2 98.3h0.9M195.5 53.9h0.9M195.6 100.4h0.9M200.0 73.7h0.9M157.6 55.4h0.9M162.3 55.9h0.9M199.1 68.1h0.9M197.9 96.7h0.9M168.3 101.6h0.9M197.4 56.5h0.9M186.4 59.4h0.9M166.0 101.3h0.9M165.4 60.2h0.9M158.0 67.2h0.9M201.8 56.1h0.9M196.4 98.9h0.9M158.1 90.7h0.9M199.0 95.5h0.9M200.3 72.4h0.9M158.2 86.4h0.9M198.6 57.9h0.9M194.8 50.9h0.9M159.1 103.4h0.9M169.6 59.3h0.9M159.6 95.5h0.9M199.7 68.9h0.9M194.8 59.3h0.9M160.3 100.4h0.9M199.8 85.2h0.9M162.8 55.5h0.9M164.9 60.1h0.9M192.5 60.0h0.9M207.1 60.6h0.9M157.9 77.9h0.9M193.1 60.2h0.9M158.2 59.0h0.9M199.9 54.4h0.9M158.5 88.8h0.9M195.0 102.1h0.9M169.3 101.5h0.9M190.4 101.4h0.9M201.2 92.6h0.9M192.5 60.1h0.9M190.0 55.0h0.9M158.0 94.9h0.9M201.7 70.8h0.9M193.2 58.4h0.9M193.8 100.3h0.9M200.3 95.0h0.9M168.6 57.9h0.9M164.8 100.9h0.9M164.1 103.5h0.9M166.9 104.4h0.9M201.3 57.2h0.9M159.2 66.4h0.9M198.7 61.3h0.9M157.8 66.7h0.9M197.3 58.0h0.9M157.8 55.1h0.9M201.2 87.8h0.9M167.2 52.8h0.9M159.7 63.9h0.9M200.1 102.7h0.9M203.4 60.9h0.9M194.1 60.0h0.9M193.3 59.9h0.9M201.8 67.2h0.9M192.7 57.0h0.9M202.3 71.3h0.9M197.6 97.2h0.9M198.5 59.2h0.9M159.7 65.4h0.9M200.8 61.4h0.9M158.5 101.4h0.9M199.5 61.4h0.9M160.9 57.8h0.9M158.3 82.8h0.9M203.2 58.6h0.9M160.1 96.9h0.9M157.1 86.3h0.9M200.4 67.9h0.9M198.1 96.5h0.9M207.4 94.0h0.9M194.8 61.2h0.9M159.5 62.2h0.9M161.1 57.2h0.9M198.1 64.9h0.9M195.2 101.5h0.9M163.2 60.5h0.9M196.2 98.8h0.9M195.3 101.8h0.9M161.7 98.7h0.9M159.3 59.2h0.9M158.1 67.7h0.9M159.4 53.4h0.9M161.3 102.1h0.9M187.4 104.9h0.9M185.7 101.7h0.9M189.4 59.5h0.9M158.1 90.2h0.9M192.2 103.9h0.9M199.5 88.9h0.9M158.2 71.2h0.9M195.7 100.1h0.9M199.8 98.0h0.9M169.8 103.6h0.9M194.2 60.4h0.9M202.3 65.2h0.9M200.1 93.1h0.9M199.3 91.8h0.9M157.4 67.7h0.9M203.8 88.3h0.9M182.7 53.1h0.9M168.4 50.2h0.9M158.5 86.2h0.9M159.2 66.8h0.9M206.0 59.3h0.9M200.4 53.7h0.9M185.0 101.5h0.9M199.5 77.7h0.9M197.1 103.9h0.9M161.1 55.9h0.9M185.9 58.1h0.9M185.4 58.3h0.9M199.5 59.9h0.9M201.3 83.1h0.9M201.6 62.8h0.9M200.6 87.7h0.9M207.4 62.4h0.9M159.4 65.5h0.9M200.0 62.4h0.9M201.2 101.3h0.9M172.3 59.5h0.9M166.0 101.6h0.9M189.9 59.8h0.9M191.2 101.2h0.9M182.6 102.8h0.9M207.3 92.8h0.9M201.1 89.3h0.9M163.8 59.1h0.9M163.6 60.1h0.9M157.6 97.9h0.9M158.5 80.8h0.9M189.8 104.4h0.9M205.8 91.2h0.9M194.4 100.1h0.9M200.0 90.9h0.9M169.1 103.9h0.9M167.1 103.4h0.9M205.4 90.3h0.9M199.9 60.2h0.9M157.7 64.3h0.9M192.2 101.1h0.9M200.0 68.7h0.9M200.8 58.8h0.9M190.1 59.0h0.9M168.6 58.7h0.9M189.1 104.7h0.9M159.9 63.9h0.9M165.7 104.4h0.9M207.2 100.7h0.9M166.6 56.3h0.9M166.3 53.0h0.9M193.0 59.5h0.9M162.9 57.3h0.9M159.6 96.3h0.9M203.6 71.4h0.9M199.7 54.0h0.9M194.1 100.6h0.9M163.6 100.4h0.9M157.8 103.1h0.9M157.4 65.9h0.9M159.6 57.1h0.9M199.7 96.6h0.9M206.7 87.9h0.9M162.7 102.3h0.9M158.2 102.8h0.9M194.1 60.7h0.9M158.7 93.0h0.9M199.6 61.7h0.9M187.7 54.4h0.9M175.1 57.8h0.9M167.7 58.0h0.9M199.3 65.9h0.9M204.3 71.7h0.9M191.7 52.5h0.9M193.0 101.6h0.9M203.7 75.4h0.9M163.5 100.0h0.9M197.2 97.8h0.9M197.7 102.8h0.9M158.3 94.5h0.9M206.9 94.2h0.9M188.3 55.2h0.9M158.5 67.2h0.9M190.2 103.0h0.9M161.9 99.4h0.9M158.0 87.2h0.9M174.8 58.7h0.9M163.1 59.7h0.9M201.3 100.7h0.9M204.6 66.4h0.9M185.3 59.5h0.9M158.6 68.3h0.9M194.5 102.0h0.9M157.1 64.4h0.9M166.4 104.9h0.9M189.2 59.4h0.9M201.4 92.8h0.9M170.7 57.0h0.9M189.8 58.9h0.9M158.5 73.3h0.9M196.8 62.0h0.9M186.2 58.2h0.9M164.3 100.4h0.9M165.3 101.6h0.9M197.5 104.9h0.9M200.0 61.0h0.9M169.0 51.4h0.9M190.4 57.8h0.9M187.4 53.4h0.9M158.7 91.9h0.9M157.3 90.9h0.9M171.2 101.4h0.9M168.9 59.6h0.9M199.3 69.4h0.9M196.5 55.3h0.9M158.4 93.0h0.9M166.5 51.7h0.9M195.0 61.0h0.9M203.9 67.2h0.9M208.0 76.4h0.9M198.3 61.2h0.9M200.7 67.8h0.9M162.8 104.5h0.9M200.0 73.3h0.9M166.6 60.0h0.9M197.6 63.4h0.9M159.5 100.4h0.9M198.4 61.1h0.9M201.6 96.7h0.9M194.9 102.9h0.9M200.3 89.7h0.9M198.1 99.0h0.9M158.4 96.1h0.9M189.3 57.4h0.9M187.5 55.7h0.9M202.6 72.8h0.9M163.6 101.4h0.9M160.4 62.7h0.9M162.5 102.0h0.9M160.4 53.6h0.9M207.3 93.9h0.9M202.6 100.0h0.9M199.7 78.7h0.9M163.9 60.1h0.9M159.5 56.5h0.9M169.3 59.6h0.9M160.4 97.4h0.9M205.3 100.9h0.9M207.0 59.4h0.9M198.6 97.0h0.9M198.7 60.0h0.9M190.7 102.2h0.9M199.1 93.8h0.9M201.1 58.0h0.9M196.0 100.9h0.9M196.7 52.4h0.9M161.5 62.0h0.9M185.2 59.5h0.9M159.4 104.4h0.9M161.5 60.8h0.9M191.0 103.2h0.9M198.9 95.6h0.9M163.4 60.4h0.9M191.3 104.6h0.9M158.7 60.6h0.9M167.8 59.7h0.9M162.5 101.4h0.9M200.8 72.2h0.9M198.5 96.3h0.9M197.9 61.8h0.9M195.9 53.6h0.9M157.6 74.2h0.9M190.0 59.6h0.9M158.0 57.1h0.9M205.9 95.1h0.9M206.0 93.4h0.9M157.1 69.3h0.9M161.7 56.0h0.9M162.7 103.8h0.9M184.2 101.9h0.9M158.7 91.2h0.9M194.5 61.0h0.9M182.9 57.0h0.9M158.0 78.4h0.9M163.3 59.3h0.9M202.0 63.0h0.9M198.9 65.6h0.9M165.3 58.5h0.9M170.2 103.8h0.9M162.7 55.6h0.9M160.0 60.0h0.9M185.6 51.1h0.9M205.4 61.7h0.9M204.8 100.3h0.9M198.1 102.8h0.9M172.0 58.8h0.9M199.9 94.1h0.9M158.0 76.8h0.9M200.0 65.4h0.9M160.9 101.5h0.9M199.0 59.5h0.9M160.1 97.1h0.9M159.1 97.4h0.9M157.4 55.3h0.9M185.6 51.7h0.9M173.9 102.1h0.9M161.2 100.7h0.9M161.8 99.7h0.9M166.8 59.8h0.9M171.0 101.8h0.9M206.2 62.2h0.9M164.6 57.5h0.9M202.5 70.3h0.9M197.5 103.8h0.9M199.3 63.3h0.9M173.1 101.6h0.9M204.4 96.4h0.9M164.0 51.1h0.9M170.0 59.4h0.9M195.5 50.7h0.9M208.4 65.7h0.9M159.4 96.6h0.9M194.5 50.8h0.9M189.9 53.2h0.9M162.9 104.4h0.9M202.4 67.2h0.9M200.0 55.8h0.9M193.1 56.7h0.9M157.4 94.7h0.9M206.0 59.8h0.9M189.7 101.9h0.9M160.2 63.9h0.9M160.1 105.0h0.9M167.0 53.9h0.9M166.1 55.7h0.9M158.8 59.3h0.9M159.3 95.0h0.9M167.6 59.3h0.9M159.3 66.4h0.9M187.2 53.9h0.9M194.9 60.9h0.9M197.0 53.9h0.9M204.0 62.7h0.9M165.2 60.4h0.9M160.1 64.1h0.9M199.3 69.8h0.9M162.6 60.2h0.9M207.3 89.4h0.9M199.7 58.9h0.9M208.3 94.5h0.9M198.0 64.1h0.9M199.2 69.2h0.9M170.9 102.1h0.9M158.7 97.5h0.9M198.7 103.2h0.9M203.1 71.2h0.9M162.9 103.7h0.9M191.0 53.1h0.9M204.4 76.1h0.9M167.4 55.6h0.9M158.9 94.2h0.9M168.9 59.5h0.9M163.5 61.0h0.9M200.7 63.8h0.9M205.2 97.4h0.9M199.5 102.4h0.9M198.0 100.2h0.9M201.5 62.9h0.9M157.4 85.1h0.9M197.8 99.1h0.9M158.2 83.5h0.9M157.8 76.6h0.9M195.7 61.8h0.9M192.0 57.8h0.9M158.1 94.8h0.9M197.2 52.3h0.9M198.4 95.9h0.9M162.6 102.2h0.9M195.9 58.7h0.9M159.1 60.3h0.9M199.5 71.2h0.9M186.9 56.2h0.9M159.7 65.2h0.9M158.8 51.5h0.9M196.7 55.9h0.9M185.6 101.9h0.9M164.5 103.3h0.9M168.3 102.7h0.9M159.2 94.1h0.9M163.4 60.6h0.9M160.3 97.0h0.9M205.4 98.5h0.9M187.4 102.0h0.9M158.4 69.7h0.9M205.0 62.9h0.9M198.7 98.1h0.9M164.6 102.4h0.9M194.5 100.0h0.9M169.7 102.1h0.9M167.6 103.1h0.9M192.7 101.6h0.9M159.5 99.5h0.9M163.7 102.3h0.9M157.1 73.9h0.9M167.2 53.5h0.9M171.8 102.9h0.9M196.8 62.8h0.9M167.5 57.2h0.9M174.4 58.4h0.9M158.8 93.7h0.9M196.1 61.9h0.9M162.9 58.9h0.9M198.9 60.0h0.9M199.5 85.2h0.9M160.1 97.6h0.9M160.7 98.3h0.9M167.9 101.2h0.9M172.5 59.3h0.9M158.7 104.9h0.9M198.1 62.0h0.9M175.0 59.3h0.9M202.7 86.5h0.9M202.1 93.8h0.9M184.6 56.1h0.9M197.4 98.6h0.9M198.2 96.5h0.9M158.5 77.6h0.9M194.6 101.5h0.9M190.6 59.6h0.9M161.0 62.2h0.9M198.6 63.2h0.9M161.4 98.5h0.9M195.6 104.2h0.9M202.0 99.2h0.9M203.1 54.4h0.9M199.1 92.7h0.9M169.3 58.7h0.9M203.4 61.4h0.9M202.1 101.4h0.9M200.5 100.1h0.9M197.6 62.6h0.9M176.3 59.5h0.9M196.2 59.1h0.9M161.0 61.0h0.9M196.2 60.5h0.9M159.4 100.9h0.9M199.3 99.9h0.9M158.0 91.3h0.9M158.4 100.7h0.9M202.1 61.4h0.9M196.5 62.5h0.9M157.5 59.2h0.9M160.2 97.4h0.9M159.3 99.6h0.9M161.5 99.4h0.9M201.4 63.2h0.9M198.9 101.3h0.9M158.5 67.3h0.9M170.4 102.3h0.9M160.4 63.5h0.9M162.6 60.8h0.9M166.5 101.0h0.9M199.5 68.5h0.9M157.4 53.4h0.9M196.0 99.1h0.9M173.7 102.5h0.9M198.3 96.9h0.9M158.6 62.9h0.9M161.5 62.4h0.9M163.9 100.9h0.9M188.8 103.6h0.9M170.4 51.8h0.9M162.6 102.7h0.9M159.1 63.6h0.9M198.2 101.0h0.9M163.2 100.6h0.9M172.8 59.5h0.9M163.2 102.4h0.9M200.4 64.4h0.9M162.5 100.5h0.9M157.7 70.5h0.9M205.5 95.4h0.9M159.6 61.4h0.9M160.1 64.0h0.9M201.9 97.0h0.9M157.5 75.7h0.9M195.0 61.3h0.9M162.6 99.5h0.9M171.2 101.4h0.9M203.6 93.2h0.9M177.0 58.0h0.9M186.4 58.5h0.9M167.0 59.3h0.9M199.9 101.2h0.9M157.4 100.2h0.9M193.6 101.5h0.9M191.1 55.0h0.9M200.8 57.5h0.9M160.2 98.2h0.9M199.8 73.6h0.9M200.5 58.2h0.9M199.1 68.5h0.9M157.2 101.2h0.9M193.7 56.8h0.9M199.3 92.5h0.9M157.8 65.9h0.9M160.5 51.5h0.9M196.6 98.4h0.9M196.8 98.5h0.9M203.4 66.7h0.9M162.8 61.4h0.9M200.2 69.4h0.9M158.4 99.0h0.9M196.7 98.5h0.9M160.4 60.4h0.9M165.9 100.8h0.9M202.0 63.5h0.9M170.8 102.3h0.9M158.9 68.0h0.9M201.0 59.4h0.9M158.5 91.1h0.9M193.4 104.0h0.9M194.0 100.8h0.9M198.8 94.2h0.9M164.0 56.5h0.9M208.3 68.2h0.9M194.3 60.5h0.9M199.0 94.9h0.9M187.1 54.1h0.9M198.1 96.8h0.9M202.7 66.9h0.9M196.5 103.5h0.9M158.6 64.7h0.9M161.7 99.3h0.9M199.2 91.8h0.9M197.7 63.3h0.9" stroke="#000" stroke-width="0.9" opacity="0.45" fill="none"/>
<path d="M188.3 56.9h0.9M193.1 56.6h0.9M196.7 62.5h0.9M198.0 60.1h0.9M186.8 57.7h0.9M188.9 57.4h0.9M188.0 57.0h0.9M181.2 55.3h0.9M192.1 53.3h0.9M181.9 60.5h0.9M189.4 64.7h0.9M186.9 64.5h0.9M194.1 53.3h0.9M186.6 56.9h0.9M197.2 59.9h0.9M191.8 56.6h0.9M176.2 57.1h0.9M188.1 57.4h0.9M189.5 57.7h0.9M193.7 54.1h0.9M187.0 59.0h0.9M197.3 57.9h0.9M195.1 54.6h0.9M199.1 51.8h0.9M188.0 60.5h0.9M192.0 58.2h0.9M187.4 61.1h0.9M184.1 47.9h0.9M198.5 51.1h0.9M193.9 55.8h0.9M189.4 58.7h0.9M193.3 56.1h0.9M201.7 56.0h0.9M186.6 52.6h0.9M189.1 53.6h0.9M191.1 48.1h0.9M196.3 64.8h0.9M187.9 55.8h0.9M198.5 59.0h0.9M187.4 49.9h0.9M189.6 57.4h0.9M186.4 64.1h0.9M178.4 52.4h0.9M191.8 54.3h0.9M183.9 50.4h0.9M188.7 57.2h0.9M176.1 56.2h0.9M182.6 60.8h0.9M182.7 51.2h0.9M187.6 57.0h0.9M175.6 58.6h0.9M176.4 55.4h0.9M192.3 54.4h0.9M182.9 58.5h0.9M187.8 56.1h0.9M197.9 61.8h0.9M184.0 48.1h0.9M187.7 57.1h0.9M195.3 54.0h0.9M189.5 51.8h0.9M195.1 51.8h0.9M191.3 51.4h0.9M183.5 63.2h0.9M189.2 64.3h0.9M192.5 58.2h0.9M196.3 52.2h0.9M189.7 59.4h0.9M178.4 55.7h0.9M192.8 56.7h0.9M188.2 56.8h0.9M182.0 58.6h0.9M187.9 56.7h0.9M189.5 56.8h0.9M186.8 52.0h0.9M189.3 62.2h0.9M183.1 50.7h0.9M187.5 63.6h0.9M192.0 54.1h0.9M201.5 59.1h0.9M177.3 50.8h0.9M185.9 58.3h0.9M198.2 57.3h0.9M187.2 59.9h0.9M192.2 60.9h0.9M179.4 58.0h0.9M188.9 53.1h0.9M186.2 54.4h0.9M178.4 53.2h0.9M184.0 49.5h0.9M188.6 57.2h0.9M195.6 63.3h0.9M187.0 56.9h0.9M188.8 50.7h0.9M189.3 55.7h0.9M185.5 56.8h0.9M191.1 66.3h0.9M188.4 58.8h0.9M196.9 57.2h0.9M188.2 57.2h0.9M187.9 56.6h0.9M194.8 54.3h0.9M186.6 50.1h0.9M184.0 53.3h0.9M187.7 50.2h0.9M190.9 49.4h0.9M199.0 59.7h0.9M189.3 57.3h0.9M200.3 59.1h0.9M182.8 55.1h0.9M180.5 62.0h0.9M185.4 49.2h0.9M180.7 49.1h0.9M186.0 51.8h0.9M184.1 61.2h0.9M195.4 63.3h0.9M189.4 50.5h0.9M184.7 56.4h0.9M186.2 58.4h0.9M188.0 56.0h0.9M195.8 50.6h0.9M184.5 49.9h0.9M192.0 57.6h0.9M199.4 57.0h0.9M184.9 63.3h0.9M187.1 57.7h0.9M189.9 57.7h0.9M194.5 65.5h0.9M186.7 57.6h0.9M188.3 56.7h0.9M188.9 53.4h0.9M178.1 63.6h0.9M190.0 59.5h0.9M183.3 49.0h0.9M187.7 53.7h0.9M192.3 56.5h0.9M189.7 55.3h0.9M190.7 57.2h0.9M192.9 61.0h0.9M179.3 61.9h0.9M187.6 59.8h0.9M179.6 52.0h0.9M188.4 62.0h0.9M188.4 60.9h0.9M182.7 65.0h0.9M196.2 56.4h0.9M187.4 56.6h0.9M188.0 57.1h0.9M188.7 56.7h0.9M191.4 52.7h0.9M178.0 60.2h0.9M195.8 59.9h0.9M193.1 60.2h0.9M188.8 61.3h0.9M189.1 62.2h0.9M188.2 56.0h0.9M189.1 52.3h0.9M187.9 57.2h0.9M180.6 57.3h0.9M184.2 57.3h0.9M181.1 56.6h0.9M179.3 49.5h0.9M176.4 52.3h0.9M189.1 58.2h0.9M187.8 56.7h0.9M189.2 56.9h0.9M186.7 57.0h0.9M187.0 52.3h0.9M186.8 51.6h0.9M197.8 55.3h0.9M197.4 58.3h0.9M195.8 55.4h0.9M185.7 51.6h0.9M189.4 55.9h0.9M194.4 57.6h0.9M186.7 48.6h0.9M180.0 58.0h0.9M194.3 58.1h0.9M190.9 50.2h0.9M190.2 55.4h0.9M189.9 60.1h0.9M193.0 57.5h0.9M191.5 59.4h0.9M180.8 55.4h0.9M195.4 52.9h0.9M180.7 57.6h0.9M191.7 55.6h0.9M184.3 65.2h0.9M187.8 57.0h0.9M188.2 57.1h0.9M183.8 58.8h0.9M195.4 58.4h0.9M197.6 59.7h0.9M187.9 57.1h0.9M190.4 54.9h0.9M194.0 58.2h0.9M181.8 60.7h0.9M182.7 49.3h0.9M185.5 61.3h0.9M188.2 57.2h0.9M187.4 57.1h0.9M192.5 55.1h0.9M186.7 62.6h0.9M192.8 55.6h0.9M189.5 55.4h0.9M187.7 57.3h0.9M182.7 49.9h0.9M193.3 52.1h0.9M185.8 60.9h0.9M193.9 48.8h0.9M186.2 58.6h0.9M188.9 65.4h0.9M193.5 56.8h0.9M192.0 52.9h0.9M186.0 54.3h0.9M188.9 55.2h0.9M197.1 59.1h0.9M185.1 56.3h0.9M198.6 60.2h0.9M196.1 51.5h0.9M189.7 54.0h0.9M188.1 58.2h0.9M188.5 47.7h0.9M197.7 58.3h0.9M187.1 57.8h0.9M188.0 58.2h0.9M195.2 55.7h0.9M184.5 61.1h0.9M194.3 65.4h0.9M195.8 59.9h0.9M185.9 55.7h0.9M176.8 54.4h0.9M187.5 56.5h0.9M197.3 59.7h0.9M183.0 51.6h0.9M188.0 54.3h0.9M180.7 64.3h0.9M189.6 58.1h0.9M200.1 59.7h0.9M177.8 56.5h0.9M199.3 59.9h0.9M190.1 55.0h0.9M196.0 62.5h0.9M188.4 56.9h0.9M198.2 59.3h0.9M184.8 57.5h0.9M184.0 58.1h0.9M188.7 56.8h0.9M182.2 56.9h0.9M194.8 49.1h0.9M187.4 57.0h0.9M188.8 57.9h0.9M186.3 56.7h0.9M178.5 54.0h0.9M189.6 49.7h0.9M191.2 61.0h0.9M188.6 65.3h0.9M191.6 58.3h0.9M192.9 61.3h0.9M190.3 62.2h0.9M189.4 57.5h0.9M182.4 63.6h0.9M178.7 63.7h0.9M187.3 53.9h0.9M187.2 56.4h0.9M181.0 52.9h0.9M187.7 52.1h0.9M186.1 48.6h0.9M198.3 54.6h0.9M184.9 59.9h0.9M178.2 61.0h0.9M200.7 53.5h0.9M193.7 60.9h0.9M185.8 54.7h0.9M194.0 55.0h0.9M188.2 57.6h0.9M189.9 61.7h0.9M183.5 54.1h0.9M198.6 60.9h0.9M192.1 61.3h0.9M197.0 58.4h0.9M188.3 52.2h0.9M176.2 55.5h0.9M188.3 54.3h0.9M183.8 52.8h0.9M189.8 65.2h0.9M184.8 64.9h0.9M192.0 55.6h0.9M187.8 63.4h0.9M179.1 55.6h0.9M186.1 58.4h0.9M192.3 54.4h0.9M187.4 61.2h0.9M183.7 61.1h0.9M186.3 64.3h0.9M190.1 59.3h0.9M191.4 61.5h0.9M177.9 50.4h0.9M192.7 51.0h0.9M194.8 51.6h0.9M190.7 65.7h0.9M190.5 57.6h0.9M182.5 59.1h0.9M189.1 64.8h0.9M179.3 63.6h0.9M187.9 56.9h0.9M177.4 58.2h0.9M184.7 60.3h0.9M187.5 59.8h0.9M189.6 59.2h0.9M189.9 61.6h0.9M189.6 52.4h0.9M189.3 62.4h0.9M189.9 55.1h0.9M190.0 58.9h0.9M183.6 55.9h0.9M196.9 60.0h0.9M188.4 57.6h0.9M188.9 54.0h0.9M188.6 50.2h0.9M180.2 51.2h0.9M183.6 58.1h0.9M192.6 55.8h0.9M181.7 49.9h0.9M182.2 54.4h0.9M185.3 58.1h0.9M190.6 60.3h0.9M191.7 53.2h0.9M180.7 55.8h0.9M180.4 63.1h0.9M181.5 55.7h0.9M194.8 58.5h0.9M191.8 57.5h0.9M185.1 66.3h0.9M200.7 55.5h0.9M185.7 60.1h0.9M186.0 50.6h0.9M187.1 63.1h0.9M183.1 48.2h0.9M195.9 60.9h0.9M200.5 58.4h0.9M183.1 59.2h0.9M187.8 48.0h0.9M187.6 58.4h0.9M187.7 57.2h0.9M185.4 55.2h0.9M187.2 55.9h0.9M193.3 62.1h0.9M189.6 57.0h0.9M195.9 60.6h0.9M188.4 56.3h0.9M188.6 56.9h0.9M182.0 65.0h0.9M184.7 53.8h0.9M186.3 49.2h0.9M182.1 49.2h0.9M196.4 58.8h0.9M182.9 50.1h0.9M185.2 61.7h0.9M180.9 62.7h0.9M192.6 53.2h0.9M185.6 56.1h0.9M187.8 57.2h0.9M181.3 62.9h0.9M189.6 62.6h0.9M192.4 61.3h0.9M188.3 59.1h0.9M180.9 61.6h0.9M183.1 60.3h0.9M177.2 56.9h0.9M194.9 54.0h0.9M193.7 58.1h0.9M189.1 57.6h0.9M180.9 56.5h0.9M193.5 56.2h0.9M194.4 59.4h0.9M178.7 50.6h0.9M199.2 54.7h0.9M190.6 65.9h0.9M193.4 50.5h0.9M177.6 59.7h0.9M181.8 62.3h0.9M182.6 59.0h0.9M187.6 56.5h0.9M197.9 55.4h0.9M189.0 56.5h0.9M174.0 55.1h0.9M201.7 54.8h0.9M186.0 58.1h0.9M179.9 57.2h0.9M190.7 61.6h0.9M192.4 56.4h0.9M187.0 57.0h0.9M189.7 49.9h0.9M187.8 57.6h0.9M192.8 57.7h0.9M196.4 63.7h0.9M192.4 55.5h0.9M187.6 59.2h0.9M187.4 56.9h0.9M195.6 54.8h0.9" stroke="#000" stroke-width="0.9" opacity="0.45" fill="none"/>
<path d="M166.3 58.6h0.9M159.1 79.1h0.9M179.2 85.0h0.9M177.8 83.3h0.9M188.6 61.9h0.9M198.9 68.9h0.9M169.2 59.8h0.9M173.1 68.3h0.9M169.9 79.1h0.9M172.9 67.8h0.9M195.6 75.6h0.9M207.1 75.7h0.9M179.7 86.5h0.9M184.0 83.9h0.9M174.7 71.7h0.9M172.8 90.0h0.9M159.1 78.3h0.9M161.7 93.1h0.9M170.6 79.4h0.9M194.6 95.1h0.9M202.6 78.9h0.9M179.5 56.3h0.9M194.7 68.7h0.9M174.6 79.6h0.9M187.1 77.8h0.9M188.6 82.2h0.9M181.1 70.4h0.9M186.5 69.8h0.9M177.3 51.2h0.9M166.1 89.3h0.9M165.0 90.4h0.9M177.6 89.1h0.9M190.0 47.4h0.9M180.5 65.9h0.9M170.6 67.1h0.9M166.5 75.0h0.9M180.9 58.8h0.9M179.8 103.2h0.9M170.5 88.0h0.9M185.0 73.6h0.9M179.4 69.0h0.9M186.9 50.4h0.9M167.1 89.8h0.9M187.2 79.7h0.9M174.4 80.2h0.9M178.5 89.1h0.9M163.9 61.0h0.9M178.0 41.1h0.9M168.1 85.5h0.9M159.7 54.6h0.9M168.0 84.5h0.9M183.7 101.1h0.9M182.7 81.7h0.9M176.8 55.1h0.9M191.3 49.3h0.9M165.1 72.0h0.9M186.8 89.0h0.9M201.9 85.0h0.9M189.8 68.7h0.9M194.5 78.7h0.9M190.0 75.2h0.9M172.2 62.1h0.9M163.3 80.4h0.9M170.8 102.8h0.9M176.2 74.9h0.9M168.4 76.7h0.9M180.8 57.3h0.9M170.4 84.7h0.9M193.7 52.3h0.9M172.6 80.4h0.9M196.6 83.1h0.9M212.9 74.8h0.9M183.0 65.6h0.9M162.4 64.4h0.9M166.6 95.6h0.9M183.0 88.3h0.9M169.0 79.2h0.9M192.2 89.2h0.9M177.9 69.1h0.9M170.4 75.5h0.9M173.3 65.2h0.9M201.6 65.0h0.9M175.3 91.8h0.9M184.2 65.2h0.9M202.7 68.6h0.9M181.6 74.9h0.9M162.1 95.3h0.9M180.6 61.5h0.9M186.0 73.2h0.9M170.0 70.5h0.9M189.8 78.1h0.9M172.7 67.9h0.9M183.8 70.4h0.9M202.4 61.1h0.9M168.7 59.2h0.9M166.8 87.2h0.9M212.5 86.0h0.9M187.6 72.5h0.9M185.2 87.1h0.9M194.9 89.6h0.9M197.4 86.9h0.9M182.1 52.4h0.9M157.4 91.4h0.9M173.3 88.0h0.9M175.0 79.0h0.9M179.9 66.9h0.9M173.4 71.3h0.9M173.8 39.5h0.9M171.4 49.8h0.9M162.7 94.0h0.9M183.0 80.6h0.9M169.0 96.9h0.9M176.3 59.1h0.9M183.5 64.6h0.9M186.2 73.7h0.9M191.5 42.5h0.9M166.5 57.4h0.9M173.5 83.1h0.9M186.4 57.8h0.9M162.2 88.1h0.9M171.7 65.8h0.9M206.1 77.6h0.9M160.5 75.1h0.9M182.7 71.6h0.9M190.5 74.7h0.9M175.2 80.6h0.9M167.3 85.8h0.9M179.3 68.4h0.9M195.6 68.1h0.9M189.2 62.3h0.9M184.1 79.5h0.9M169.7 91.7h0.9M194.3 94.0h0.9M194.6 58.7h0.9M162.7 66.9h0.9M162.1 73.2h0.9M186.4 79.8h0.9M187.4 72.6h0.9M178.1 60.0h0.9M169.1 94.1h0.9M194.8 92.0h0.9M161.1 77.0h0.9M174.2 71.4h0.9M175.1 57.9h0.9M166.7 70.5h0.9M190.5 54.1h0.9M158.2 72.6h0.9M161.6 74.5h0.9M178.8 81.9h0.9M159.7 90.9h0.9M185.9 62.9h0.9M195.3 74.8h0.9M157.2 79.3h0.9M183.0 95.2h0.9M165.1 64.6h0.9M170.3 87.9h0.9M174.6 89.5h0.9M182.4 73.2h0.9M176.4 99.5h0.9M180.4 61.5h0.9M187.6 83.8h0.9M168.8 71.4h0.9M172.2 77.6h0.9M172.7 82.9h0.9M197.1 53.1h0.9M196.1 101.4h0.9M223.3 59.2h0.9M204.0 50.4h0.9M165.4 81.8h0.9M173.5 74.9h0.9M160.8 89.6h0.9M160.4 83.0h0.9M177.4 52.2h0.9M180.4 66.2h0.9M161.0 58.2h0.9M174.1 53.5h0.9M201.1 72.9h0.9M181.0 68.5h0.9M157.1 89.1h0.9M165.0 71.2h0.9M192.1 93.6h0.9M198.0 59.2h0.9M174.7 95.0h0.9M195.3 78.2h0.9M188.5 59.3h0.9M179.5 80.7h0.9M186.7 57.1h0.9M178.4 54.9h0.9M192.9 65.2h0.9M172.8 58.5h0.9M190.3 76.2h0.9M183.0 82.6h0.9M196.9 82.8h0.9M172.5 68.0h0.9M200.5 64.2h0.9M167.8 81.6h0.9M177.0 42.1h0.9M183.5 65.7h0.9M172.3 61.3h0.9M186.7 85.6h0.9M172.6 63.5h0.9M201.7 67.0h0.9M188.6 102.8h0.9M162.2 76.6h0.9M194.8 66.7h0.9M201.3 58.2h0.9M196.0 96.6h0.9M173.7 92.9h0.9M185.2 91.2h0.9M188.5 75.0h0.9M177.0 71.2h0.9M164.5 62.0h0.9M181.7 88.3h0.9M163.0 69.0h0.9M202.3 73.3h0.9M172.6 87.3h0.9M159.8 94.5h0.9M185.9 50.3h0.9M175.3 78.7h0.9M190.0 85.7h0.9M183.0 84.2h0.9M172.3 44.7h0.9M190.5 83.5h0.9M173.3 65.3h0.9M170.4 90.0h0.9M186.4 99.0h0.9M200.7 73.5h0.9M204.6 66.2h0.9M172.8 87.6h0.9M200.6 87.2h0.9M179.0 74.2h0.9M158.8 78.5h0.9M189.7 58.6h0.9M163.2 69.2h0.9M180.4 36.8h0.9M180.2 83.2h0.9M185.1 75.8h0.9M193.9 40.0h0.9M190.2 62.8h0.9M164.7 67.9h0.9M180.7 97.5h0.9M186.5 81.3h0.9M181.0 79.7h0.9M206.6 54.1h0.9M188.2 78.3h0.9M187.2 96.8h0.9M175.1 86.9h0.9M163.9 54.9h0.9M174.8 59.7h0.9M195.5 84.3h0.9M202.4 57.0h0.9M185.6 76.9h0.9M191.0 103.6h0.9M182.4 82.1h0.9M183.6 88.1h0.9M188.8 61.6h0.9M167.2 61.3h0.9M191.5 44.2h0.9M169.2 90.3h0.9M178.2 86.3h0.9M172.7 55.3h0.9M182.9 97.0h0.9M198.9 77.9h0.9M174.5 84.4h0.9M184.8 56.4h0.9M183.9 84.6h0.9M158.8 84.2h0.9M177.9 100.0h0.9M174.5 85.7h0.9M179.2 84.0h0.9M194.4 71.4h0.9M175.2 100.3h0.9M158.2 88.9h0.9M177.3 54.6h0.9M215.5 62.8h0.9M197.8 64.7h0.9M163.6 71.3h0.9M170.5 91.4h0.9M172.7 84.6h0.9M181.2 78.1h0.9M173.2 71.4h0.9M220.2 84.6h0.9M204.2 101.0h0.9M176.3 82.8h0.9M187.5 56.0h0.9M193.8 75.0h0.9M184.9 88.7h0.9M171.1 92.2h0.9M218.9 54.1h0.9M189.2 85.7h0.9M196.4 94.1h0.9M181.0 80.9h0.9M207.6 66.1h0.9M172.3 76.0h0.9M202.4 68.9h0.9M184.0 79.4h0.9M175.2 68.1h0.9M186.0 60.3h0.9M186.5 63.1h0.9M170.5 72.9h0.9M198.3 80.0h0.9M168.7 54.4h0.9M185.1 50.0h0.9M183.1 77.5h0.9M158.6 59.0h0.9M184.1 85.1h0.9M171.7 71.7h0.9M179.6 92.9h0.9M185.4 79.5h0.9M158.2 87.7h0.9M162.7 92.2h0.9M185.0 69.1h0.9M168.4 83.5h0.9M186.7 72.8h0.9M176.2 91.8h0.9M181.2 68.1h0.9M181.1 60.3h0.9M194.0 97.7h0.9M197.1 36.7h0.9M166.2 99.5h0.9M192.4 70.9h0.9M177.3 72.1h0.9M178.9 89.9h0.9M159.2 56.6h0.9M190.1 86.4h0.9M205.8 90.2h0.9M190.2 49.6h0.9M200.4 49.5h0.9M177.7 73.3h0.9M181.5 76.6h0.9M193.9 68.3h0.9M174.3 78.7h0.9M194.2 83.5h0.9M183.3 84.0h0.9M168.4 83.0h0.9M197.2 87.1h0.9M167.4 96.4h0.9M174.3 67.8h0.9M179.2 60.3h0.9M199.6 80.8h0.9M159.8 78.6h0.9M181.3 68.5h0.9M170.3 77.7h0.9M185.8 52.1h0.9M182.3 63.5h0.9M189.4 79.6h0.9M194.2 88.0h0.9M197.2 89.1h0.9M184.6 74.2h0.9M184.7 75.9h0.9M186.5 99.6h0.9M200.5 47.0h0.9M167.2 56.2h0.9M187.5 71.7h0.9M221.6 58.0h0.9M172.5 83.8h0.9M186.7 61.3h0.9M212.1 99.5h0.9M190.8 76.8h0.9M191.4 96.9h0.9M166.2 65.1h0.9M169.6 62.5h0.9M168.0 47.7h0.9M186.9 80.5h0.9M178.7 74.7h0.9M195.7 62.2h0.9M183.9 61.6h0.9M202.3 67.3h0.9M176.6 99.3h0.9M185.3 58.1h0.9M196.0 73.8h0.9M185.4 70.2h0.9M193.5 101.2h0.9M183.0 85.8h0.9M200.4 77.4h0.9M173.0 92.4h0.9M178.4 92.0h0.9M195.4 93.0h0.9M179.7 71.7h0.9M202.5 65.5h0.9M170.6 62.4h0.9M172.9 74.5h0.9M197.7 57.5h0.9M175.1 90.7h0.9M173.2 72.0h0.9M216.5 55.6h0.9M159.3 81.9h0.9M168.5 68.8h0.9M190.6 74.5h0.9M168.1 77.4h0.9M208.6 93.8h0.9M164.0 85.1h0.9M187.9 57.0h0.9M174.0 62.6h0.9M167.6 60.6h0.9M200.6 67.4h0.9M182.6 61.8h0.9M158.1 61.9h0.9M192.8 78.5h0.9M161.3 96.5h0.9M182.3 56.4h0.9M203.0 79.2h0.9M189.6 95.8h0.9M169.9 66.5h0.9M170.3 63.0h0.9M208.6 78.5h0.9M210.4 71.5h0.9M192.1 73.2h0.9M187.9 71.6h0.9M169.1 82.0h0.9M183.1 40.2h0.9M190.3 70.9h0.9M179.3 71.8h0.9M169.2 72.0h0.9M194.2 72.6h0.9M174.9 83.5h0.9M180.5 89.4h0.9M187.2 86.2h0.9M171.8 68.1h0.9M168.2 52.8h0.9M181.4 92.3h0.9M188.4 64.4h0.9M161.5 55.5h0.9M166.5 60.8h0.9M184.9 57.4h0.9M193.3 68.5h0.9M180.7 57.1h0.9M178.6 79.2h0.9M186.5 90.5h0.9M170.0 80.1h0.9M166.9 62.7h0.9M199.8 62.2h0.9M194.6 65.2h0.9M176.6 75.3h0.9M178.3 56.2h0.9M191.7 81.9h0.9M178.3 66.6h0.9M173.8 70.4h0.9M191.8 70.4h0.9M172.5 99.2h0.9M166.9 83.3h0.9M159.1 68.1h0.9M177.9 85.2h0.9M175.7 43.5h0.9M187.4 77.3h0.9M180.4 83.6h0.9M183.4 55.2h0.9M179.6 58.5h0.9M174.8 67.4h0.9M178.1 64.1h0.9M180.8 101.7h0.9M173.5 75.5h0.9M210.3 56.1h0.9M185.3 83.8h0.9M177.0 84.5h0.9M186.9 84.3h0.9M198.4 86.0h0.9M166.9 64.5h0.9M177.3 78.8h0.9M167.8 85.0h0.9M184.0 85.1h0.9M172.4 67.7h0.9M193.1 88.7h0.9M162.1 75.9h0.9M195.1 72.4h0.9M197.8 66.0h0.9M179.5 61.6h0.9M175.3 60.8h0.9M184.9 44.7h0.9M216.7 72.5h0.9M168.8 52.0h0.9M166.9 80.7h0.9M193.9 101.1h0.9M178.3 75.0h0.9M173.5 64.9h0.9M160.9 61.3h0.9M176.8 63.0h0.9M183.5 97.9h0.9M193.3 79.6h0.9M201.8 89.2h0.9M175.8 97.9h0.9M218.0 89.4h0.9M185.5 65.9h0.9M186.4 88.1h0.9M183.5 76.9h0.9M166.8 82.1h0.9M169.3 101.2h0.9M196.8 59.7h0.9M186.7 77.6h0.9M177.2 59.5h0.9M183.3 88.6h0.9M161.2 63.5h0.9M173.5 72.8h0.9M196.7 78.6h0.9M190.6 51.0h0.9M166.3 38.3h0.9M179.0 71.2h0.9M169.2 74.5h0.9M187.4 76.7h0.9M183.0 74.6h0.9M199.1 75.5h0.9M171.3 67.6h0.9M162.1 88.5h0.9M188.0 83.7h0.9M158.8 84.4h0.9M161.5 84.2h0.9M184.4 75.5h0.9M193.0 59.5h0.9M176.4 75.8h0.9M163.8 87.1h0.9M181.2 82.8h0.9M163.9 92.7h0.9M171.3 79.3h0.9M157.2 88.9h0.9M183.5 79.2h0.9M192.7 86.6h0.9M171.6 82.7h0.9M173.0 53.1h0.9M179.9 67.5h0.9M177.4 59.7h0.9M170.0 77.0h0.9M166.0 62.4h0.9M184.6 79.8h0.9M168.9 74.4h0.9M199.6 69.0h0.9M172.9 60.9h0.9M183.1 82.7h0.9M178.2 56.6h0.9M187.0 75.4h0.9M185.8 52.7h0.9M159.4 71.3h0.9M187.2 99.6h0.9M177.5 73.5h0.9M169.6 90.4h0.9M195.9 80.0h0.9M191.7 73.2h0.9M171.1 64.6h0.9M168.0 60.6h0.9M190.9 79.9h0.9M186.7 67.8h0.9M174.6 56.9h0.9M201.1 56.2h0.9M188.5 80.0h0.9M187.9 90.4h0.9M167.9 64.3h0.9M165.2 103.0h0.9M175.9 75.3h0.9M180.8 83.8h0.9M182.0 77.2h0.9M177.0 74.9h0.9M161.3 73.4h0.9M164.1 71.7h0.9M204.7 86.2h0.9M194.0 66.0h0.9M170.2 76.7h0.9M191.3 85.0h0.9M206.3 60.0h0.9M199.4 60.5h0.9M187.0 96.8h0.9M185.9 76.6h0.9M173.1 68.4h0.9M195.9 52.4h0.9M177.5 94.5h0.9M178.9 70.6h0.9M172.8 56.7h0.9M180.1 67.2h0.9M176.4 83.8h0.9M182.0 81.5h0.9M164.2 91.4h0.9M188.9 62.5h0.9M201.7 70.1h0.9M194.4 72.8h0.9M191.8 76.0h0.9M178.3 88.8h0.9M205.1 64.9h0.9M182.6 51.3h0.9M165.4 56.1h0.9M182.9 91.7h0.9M190.8 54.9h0.9M181.1 101.9h0.9M190.4 80.4h0.9M195.2 72.3h0.9M172.9 79.3h0.9M170.9 78.9h0.9M191.0 82.0h0.9M179.7 104.6h0.9M185.8 88.4h0.9M168.1 79.2h0.9M188.6 69.2h0.9M157.7 62.5h0.9M174.1 52.6h0.9M186.7 50.2h0.9M179.5 81.2h0.9M177.4 58.0h0.9M177.4 98.8h0.9M180.4 53.5h0.9M188.1 60.0h0.9M184.3 59.2h0.9M190.6 77.7h0.9M175.0 75.7h0.9M165.5 75.8h0.9M164.4 57.6h0.9M188.8 75.9h0.9M191.1 88.1h0.9M180.0 62.5h0.9M180.5 86.4h0.9M185.6 59.2h0.9M194.5 57.6h0.9M202.9 71.8h0.9M172.6 66.4h0.9M191.1 80.8h0.9M191.4 82.1h0.9M191.7 74.4h0.9M157.7 89.0h0.9M195.7 62.8h0.9M182.5 89.6h0.9M164.6 61.1h0.9M182.6 76.4h0.9M194.1 59.4h0.9M220.9 72.2h0.9M200.6 85.7h0.9M210.0 52.9h0.9M194.8 70.1h0.9M168.6 73.5h0.9M194.3 69.1h0.9M164.2 95.4h0.9M213.8 51.0h0.9M182.9 77.1h0.9M184.4 55.5h0.9M190.1 73.3h0.9M193.4 69.6h0.9M168.5 45.4h0.9M169.5 72.8h0.9M169.6 96.4h0.9M166.4 84.3h0.9M177.1 82.8h0.9M177.0 78.9h0.9M192.4 68.0h0.9M197.3 59.3h0.9M176.8 77.0h0.9M158.3 65.8h0.9M192.5 61.5h0.9M202.1 50.6h0.9M179.6 68.3h0.9M187.9 76.4h0.9M165.4 60.0h0.9M199.7 89.3h0.9M195.2 69.5h0.9M165.4 73.5h0.9M177.2 49.3h0.9M162.3 57.7h0.9M179.4 90.5h0.9M182.8 59.0h0.9M194.5 82.0h0.9M181.5 89.5h0.9M181.4 68.6h0.9M184.3 75.0h0.9M171.4 69.2h0.9M175.8 71.6h0.9M171.5 96.6h0.9M189.8 68.0h0.9M181.8 98.6h0.9M175.7 75.6h0.9M184.4 65.5h0.9M180.1 67.5h0.9M164.0 74.2h0.9M163.3 84.5h0.9M169.9 59.3h0.9M172.5 50.1h0.9M182.9 94.5h0.9M171.8 91.7h0.9M159.6 80.2h0.9M178.4 77.8h0.9M189.6 66.1h0.9M172.7 73.3h0.9M198.9 75.6h0.9M199.6 72.6h0.9M164.3 68.7h0.9M186.2 71.0h0.9M174.0 62.0h0.9M164.4 71.1h0.9M177.2 62.1h0.9M172.8 86.6h0.9M190.3 75.5h0.9M174.9 76.0h0.9M180.6 77.5h0.9M189.9 61.1h0.9M180.3 78.8h0.9M173.3 61.8h0.9M184.6 80.4h0.9M194.9 99.5h0.9M173.7 69.9h0.9M188.3 51.3h0.9M171.4 81.6h0.9M186.2 88.7h0.9M184.7 86.8h0.9M199.8 86.5h0.9M183.0 86.7h0.9M157.6 64.6h0.9M202.8 71.3h0.9M176.7 57.4h0.9M198.1 71.6h0.9M198.9 73.1h0.9M172.8 92.5h0.9M173.4 79.0h0.9M159.1 73.0h0.9M183.8 95.4h0.9M190.1 68.7h0.9M188.4 49.3h0.9M177.8 63.4h0.9M180.3 73.7h0.9M173.5 90.8h0.9M174.0 61.5h0.9M173.3 71.3h0.9M192.3 68.5h0.9" stroke="#000" stroke-width="0.9" opacity="0.4" fill="none"/>
<path d="M192.0 97.3h0.9M206.1 46.5h0.9M184.8 87.6h0.9M219.7 55.8h0.9M218.0 56.6h0.9M182.8 89.0h0.9M177.3 62.8h0.9M169.0 75.2h0.9M219.9 86.8h0.9M157.1 55.3h0.9M184.6 73.8h0.9M193.3 84.2h0.9M167.9 79.6h0.9M158.2 45.0h0.9M196.5 54.5h0.9M190.7 79.7h0.9M170.4 61.6h0.9M212.8 47.8h0.9M212.1 67.8h0.9M160.1 47.4h0.9M197.5 72.2h0.9M158.4 101.4h0.9M182.8 73.9h0.9M200.5 61.0h0.9M186.0 65.6h0.9M215.7 59.7h0.9M171.2 75.3h0.9M177.1 104.2h0.9M164.7 80.6h0.9M218.5 54.3h0.9M216.9 79.6h0.9M215.8 49.6h0.9M162.9 59.6h0.9M200.7 40.2h0.9M160.6 96.2h0.9M175.7 87.9h0.9M184.2 54.0h0.9M198.5 68.3h0.9M194.3 58.4h0.9M219.2 54.9h0.9M178.0 82.3h0.9M205.6 44.4h0.9M181.7 60.6h0.9M162.0 93.9h0.9M198.2 75.8h0.9M161.0 102.5h0.9M208.1 43.6h0.9M187.4 79.5h0.9M210.1 73.8h0.9M217.0 103.8h0.9M178.4 87.4h0.9M175.6 62.4h0.9M207.6 104.1h0.9M193.8 80.8h0.9M199.4 78.6h0.9M176.5 40.2h0.9M185.0 96.1h0.9M196.9 81.6h0.9M185.7 98.4h0.9M166.9 44.5h0.9M207.7 77.4h0.9M212.4 78.3h0.9M186.5 76.3h0.9M180.4 65.1h0.9M208.2 99.2h0.9M160.6 60.3h0.9M172.4 76.5h0.9M180.1 60.8h0.9M202.9 80.0h0.9M207.2 51.3h0.9M173.8 103.8h0.9M215.8 65.0h0.9M166.8 52.8h0.9M194.1 87.0h0.9M191.6 80.9h0.9M200.4 102.4h0.9M164.8 80.4h0.9M161.8 93.5h0.9M188.2 62.6h0.9M211.9 73.5h0.9M177.7 41.2h0.9M216.1 92.0h0.9M185.7 68.0h0.9M198.2 57.7h0.9M186.0 62.8h0.9M174.8 103.8h0.9M204.7 78.2h0.9M168.7 78.4h0.9M198.4 93.7h0.9M186.5 72.5h0.9M200.9 58.4h0.9M214.8 99.5h0.9M190.8 53.7h0.9M191.4 73.2h0.9M193.6 87.3h0.9M171.0 66.3h0.9M213.9 56.1h0.9M170.0 68.4h0.9M192.3 95.4h0.9M185.8 82.0h0.9M195.9 86.8h0.9M197.4 68.4h0.9M201.3 54.9h0.9M195.6 49.8h0.9M218.0 99.3h0.9M167.9 49.2h0.9M208.7 60.6h0.9M169.5 45.1h0.9M183.3 81.8h0.9M180.7 63.9h0.9" stroke="#000" stroke-width="0.9" opacity="0.4" fill="none"/>
<path d="M159.8 70 Q160 59 170 58.5 L183 58 Q189 52.5 195 54 Q198.5 56 199 64 L199.5 95 Q199.5 101 193 101 L166 101 Q159.8 101 159.8 94 Z" fill="#fff" stroke="#222" stroke-width="1.6" filter="url(#bl05)"/>
<path d="M159.8 70 Q160 59 170 58.5 L183 58 Q189 52.5 195 54 Q198.5 56 199 64 L199.5 95 Q199.5 101 193 101 L166 101 Q159.8 101 159.8 94 Z" fill="#fff" stroke="#fff" stroke-width="0.9"/>
<path d="M159.8 70 Q160 59 170 58.5 L183 58 Q189 52.5 195 54 Q198.5 56 199 64 L199.5 95 Q199.5 101 193 101 L166 101 Q159.8 101 159.8 94 Z" transform="translate(13.92 7.44) scale(0.92)" fill="none" stroke="#333" stroke-width="0.76"/>
<path d="M159.8 70 Q160 59 170 58.5 L183 58 Q189 52.5 195 54 Q198.5 56 199 64 L199.5 95 Q199.5 101 193 101 L166 101 Q159.8 101 159.8 94 Z" transform="translate(24.36 13.02) scale(0.86)" fill="none" stroke="#333" stroke-width="0.81"/>
<path d="M159.8 70 Q160 59 170 58.5 L183 58 Q189 52.5 195 54 Q198.5 56 199 64 L199.5 95 Q199.5 101 193 101 L166 101 Q159.8 101 159.8 94 Z" transform="translate(34.80 18.60) scale(0.8)" fill="none" stroke="#333" stroke-width="0.87"/>
<path d="M159.8 70 Q160 59 170 58.5 L183 58 Q189 52.5 195 54 Q198.5 56 199 64 L199.5 95 Q199.5 101 193 101 L166 101 Q159.8 101 159.8 94 Z" transform="translate(45.24 24.18) scale(0.74)" fill="none" stroke="#333" stroke-width="0.95"/>
<path d="M159.8 70 Q160 59 170 58.5 L183 58 Q189 52.5 195 54 Q198.5 56 199 64 L199.5 95 Q199.5 101 193 101 L166 101 Q159.8 101 159.8 94 Z" transform="translate(55.68 29.76) scale(0.68)" fill="none" stroke="#333" stroke-width="1.03"/>
<path d="M159.8 70 Q160 59 170 58.5 L183 58 Q189 52.5 195 54 Q198.5 56 199 64 L199.5 95 Q199.5 101 193 101 L166 101 Q159.8 101 159.8 94 Z" transform="translate(66.12 35.34) scale(0.62)" fill="none" stroke="#333" stroke-width="1.13"/>
<path d="M159.8 70 Q160 59 170 58.5 L183 58 Q189 52.5 195 54 Q198.5 56 199 64 L199.5 95 Q199.5 101 193 101 L166 101 Q159.8 101 159.8 94 Z" transform="translate(76.56 40.92) scale(0.56)" fill="none" stroke="#333" stroke-width="1.25"/>
<path d="M159.8 70 Q160 59 170 58.5 L183 58 Q189 52.5 195 54 Q198.5 56 199 64 L199.5 95 Q199.5 101 193 101 L166 101 Q159.8 101 159.8 94 Z" transform="translate(87.00 46.50) scale(0.5)" fill="none" stroke="#333" stroke-width="1.40"/>
<path d="M159.8 70 Q160 59 170 58.5 L183 58 Q189 52.5 195 54 Q198.5 56 199 64 L199.5 95 Q199.5 101 193 101 L166 101 Q159.8 101 159.8 94 Z" transform="translate(97.44 52.08) scale(0.44)" fill="none" stroke="#333" stroke-width="1.59"/>
<path d="M160.5 88 Q162 79 176 80 Q193 80 196 88 Q197 99 182 99.5 L167 99.5 Q160.5 98 160.5 88Z" fill="#000" filter="url(#bl1)"/>
<ellipse cx="171.5" cy="88" rx="3.2" ry="1.4" fill="#fff" filter="url(#bl05)"/>
<path d="M176 87.5h11M176 89h10" stroke="#999" stroke-width="0.9" stroke-dasharray="1.5 1"/>
<path d="M335.3 49.9h0.9M332.5 50.2h0.9M334.5 50.0h0.9M331.6 51.4h0.9M329.2 41.7h0.9M331.5 49.0h0.9M330.9 52.5h0.9M326.8 44.9h0.9M329.7 48.8h0.9M330.7 48.0h0.9M335.5 50.8h0.9M336.8 46.2h0.9M332.3 42.5h0.9M326.5 42.5h0.9M331.8 42.9h0.9M335.9 51.8h0.9M332.2 48.0h0.9M331.4 46.7h0.9M333.6 54.9h0.9M334.8 48.1h0.9M329.5 37.3h0.9M325.6 46.2h0.9M330.3 46.3h0.9M326.8 41.3h0.9M325.4 46.0h0.9M331.5 47.9h0.9M331.5 56.9h0.9M331.3 49.8h0.9M332.4 44.8h0.9M333.8 41.3h0.9M329.6 56.6h0.9M332.5 48.3h0.9M330.6 50.4h0.9M336.2 42.1h0.9M336.7 54.8h0.9M337.6 53.6h0.9M332.4 54.3h0.9M330.5 46.8h0.9M333.1 53.2h0.9M336.7 45.9h0.9M331.8 48.2h0.9M334.3 41.5h0.9M338.9 54.0h0.9M331.1 36.1h0.9M327.5 46.0h0.9M330.7 44.4h0.9M334.8 58.5h0.9M329.0 54.7h0.9M332.4 47.2h0.9M339.2 40.9h0.9M332.4 50.7h0.9M332.9 44.5h0.9M332.3 45.6h0.9M329.1 45.6h0.9M333.5 55.8h0.9M337.8 48.3h0.9M335.5 44.6h0.9M336.7 53.0h0.9M332.2 52.9h0.9M332.4 54.2h0.9M334.7 52.9h0.9M328.3 58.3h0.9M331.7 43.9h0.9M328.5 46.6h0.9M335.0 54.2h0.9M333.4 52.2h0.9M331.7 48.9h0.9M331.7 51.4h0.9M328.8 51.5h0.9M328.5 41.3h0.9M332.1 49.6h0.9M329.1 45.9h0.9M329.8 47.0h0.9M332.1 55.7h0.9M335.5 46.5h0.9M332.5 51.6h0.9M335.5 47.8h0.9M331.6 46.0h0.9M334.0 44.8h0.9M341.3 40.2h0.9M334.4 47.0h0.9M333.6 46.4h0.9M333.6 47.7h0.9M333.9 42.8h0.9M340.5 46.0h0.9M338.3 42.7h0.9M331.5 47.9h0.9M333.7 48.7h0.9M329.8 55.2h0.9M330.3 50.2h0.9M333.5 49.6h0.9M338.8 45.4h0.9M333.6 58.3h0.9M333.6 46.0h0.9M329.7 41.9h0.9M330.3 53.6h0.9M331.7 54.9h0.9M332.0 46.0h0.9M331.4 57.4h0.9M332.1 39.7h0.9M337.0 48.3h0.9M329.1 48.7h0.9M332.1 52.8h0.9M336.9 41.6h0.9M334.5 50.5h0.9M336.0 53.9h0.9M332.8 46.4h0.9M329.6 53.3h0.9M329.0 47.6h0.9M338.6 54.9h0.9M332.3 42.8h0.9M333.8 49.4h0.9M328.6 32.5h0.9M333.5 46.8h0.9M332.9 46.6h0.9M330.6 52.4h0.9M332.1 38.6h0.9M340.9 48.7h0.9M337.9 50.2h0.9M329.2 57.8h0.9M330.7 46.7h0.9M324.9 45.8h0.9M332.8 51.4h0.9M331.6 51.4h0.9M327.9 56.5h0.9M335.8 43.7h0.9M336.9 56.8h0.9M330.6 41.3h0.9M329.4 49.2h0.9M332.3 40.8h0.9M335.2 50.2h0.9M330.8 51.0h0.9M337.6 47.6h0.9M331.2 44.9h0.9M339.3 45.2h0.9M330.7 51.5h0.9M331.5 46.3h0.9M333.0 47.7h0.9M335.6 47.7h0.9M336.3 53.5h0.9M332.6 45.9h0.9M337.6 47.0h0.9M332.2 51.5h0.9M331.9 50.5h0.9M329.1 54.5h0.9M337.7 55.2h0.9M332.2 50.1h0.9M333.3 52.3h0.9M330.7 51.1h0.9M332.8 45.1h0.9M337.5 52.0h0.9M338.7 52.8h0.9M336.1 47.6h0.9M331.3 57.5h0.9M335.9 30.8h0.9M333.3 46.6h0.9M330.3 45.5h0.9M332.5 43.1h0.9M329.9 45.2h0.9M331.3 49.6h0.9M329.8 52.9h0.9M329.9 51.7h0.9M335.7 44.2h0.9M338.2 47.3h0.9M330.9 49.5h0.9M330.4 55.1h0.9M329.1 45.0h0.9M338.5 53.1h0.9M330.0 40.0h0.9M334.2 46.7h0.9M332.9 35.8h0.9M330.7 45.1h0.9M335.6 57.3h0.9M337.5 44.9h0.9M331.5 43.1h0.9M333.4 51.9h0.9M335.2 55.6h0.9M329.5 41.2h0.9M326.4 45.0h0.9M331.9 51.5h0.9M332.3 50.5h0.9M332.2 51.4h0.9M331.1 54.6h0.9M333.9 42.4h0.9M331.0 52.6h0.9M336.0 65.4h0.9M335.0 46.2h0.9M335.1 44.7h0.9M335.1 47.7h0.9M331.9 55.7h0.9M339.2 46.5h0.9M337.7 39.0h0.9M325.6 51.6h0.9M335.2 58.8h0.9M334.2 52.1h0.9M330.6 45.7h0.9M335.0 46.5h0.9M338.5 54.4h0.9M332.5 44.7h0.9M332.9 48.0h0.9M335.4 48.2h0.9M340.8 48.4h0.9M330.3 41.9h0.9M329.1 47.9h0.9M331.9 44.0h0.9M329.7 42.5h0.9M334.5 56.3h0.9M336.1 51.1h0.9M330.1 46.8h0.9M336.4 42.9h0.9M332.2 42.2h0.9M324.0 43.5h0.9M338.9 42.5h0.9M336.2 53.9h0.9M334.0 46.6h0.9M330.8 53.0h0.9M329.9 41.6h0.9M335.7 50.5h0.9M332.6 43.4h0.9M331.8 49.4h0.9M330.6 55.7h0.9M330.2 44.6h0.9M332.5 53.0h0.9M331.2 59.9h0.9M332.2 48.6h0.9M333.6 45.4h0.9M338.1 46.1h0.9M338.5 45.7h0.9M327.6 48.4h0.9M334.9 46.2h0.9M336.4 53.2h0.9M330.4 53.1h0.9M327.6 34.1h0.9M330.5 55.1h0.9M328.8 49.1h0.9M330.3 37.9h0.9M325.0 48.6h0.9M329.1 55.0h0.9M330.5 46.1h0.9M324.9 50.5h0.9M334.7 43.0h0.9M332.0 51.9h0.9M334.8 40.2h0.9M330.2 42.8h0.9M333.4 43.9h0.9M334.0 50.6h0.9M326.4 48.6h0.9M330.4 52.2h0.9M328.6 45.7h0.9M328.6 43.4h0.9M333.4 58.7h0.9M332.3 47.7h0.9M330.5 49.2h0.9M329.5 42.1h0.9M334.5 42.8h0.9M338.7 49.5h0.9M334.0 50.5h0.9M337.2 42.8h0.9M328.6 44.4h0.9M330.2 47.2h0.9M335.3 53.6h0.9M331.5 46.3h0.9M332.3 56.3h0.9M337.6 51.9h0.9M329.3 55.4h0.9M331.8 47.5h0.9M332.0 49.2h0.9M330.0 44.4h0.9M337.9 48.0h0.9M329.5 50.2h0.9M328.6 42.0h0.9M329.6 45.9h0.9M337.5 48.5h0.9M331.4 46.7h0.9M336.0 39.6h0.9M335.3 49.8h0.9M331.4 47.2h0.9M330.3 42.2h0.9M334.8 49.3h0.9M327.3 44.8h0.9M329.8 45.4h0.9M326.4 54.4h0.9M330.1 43.0h0.9M334.3 52.1h0.9M331.9 48.9h0.9M334.4 50.3h0.9M329.9 49.0h0.9M331.5 52.7h0.9M333.8 48.3h0.9M331.1 44.8h0.9M328.3 49.0h0.9M332.2 47.8h0.9M329.0 47.7h0.9M335.8 50.3h0.9M335.0 54.5h0.9M330.9 49.7h0.9M335.4 53.6h0.9M335.8 43.4h0.9M331.3 48.1h0.9M329.1 55.4h0.9M328.8 45.6h0.9M331.9 48.5h0.9M330.3 40.3h0.9M336.2 52.6h0.9M330.3 50.4h0.9M328.0 43.8h0.9M329.9 44.2h0.9M334.5 53.1h0.9M331.3 44.2h0.9M323.4 51.9h0.9M325.8 54.4h0.9M334.6 49.0h0.9M334.6 54.3h0.9M338.2 52.7h0.9M326.8 46.1h0.9M339.7 47.5h0.9M334.2 50.1h0.9M335.1 55.5h0.9M328.5 38.7h0.9M332.4 42.6h0.9M337.1 43.5h0.9M334.1 45.1h0.9M333.4 55.3h0.9M338.3 54.1h0.9M330.1 47.1h0.9M334.2 39.9h0.9M333.3 46.2h0.9M336.8 51.7h0.9M335.6 48.7h0.9M334.8 61.1h0.9M326.2 45.5h0.9M332.3 46.9h0.9M334.1 51.2h0.9M333.7 52.2h0.9M321.5 50.2h0.9M328.3 39.4h0.9M334.3 43.9h0.9M335.6 51.0h0.9M334.1 46.2h0.9M329.1 62.5h0.9M335.0 53.7h0.9M335.8 48.1h0.9M333.3 49.4h0.9M331.2 48.4h0.9M332.9 43.7h0.9M336.1 45.4h0.9M327.4 38.6h0.9M330.7 46.7h0.9M338.8 37.5h0.9M334.9 39.9h0.9M337.0 48.9h0.9M339.7 48.5h0.9M337.6 42.0h0.9M332.0 56.4h0.9M328.8 53.4h0.9M332.3 50.6h0.9M331.3 58.8h0.9M326.2 46.0h0.9M333.9 42.3h0.9M329.1 46.2h0.9M336.8 51.9h0.9M334.5 55.2h0.9M334.8 55.2h0.9M331.0 37.5h0.9M328.3 43.5h0.9M327.1 52.0h0.9M329.0 35.7h0.9M330.8 49.9h0.9M336.0 50.1h0.9M324.4 53.1h0.9M332.3 48.9h0.9M335.3 48.8h0.9M323.4 44.5h0.9M329.7 58.0h0.9M332.9 45.8h0.9M328.4 48.0h0.9M332.5 48.9h0.9M332.0 43.0h0.9M335.9 38.3h0.9M328.3 46.4h0.9M336.1 48.4h0.9M330.7 48.9h0.9M329.1 40.2h0.9M330.9 44.0h0.9M336.6 45.3h0.9M334.4 51.0h0.9M330.8 46.4h0.9M325.3 52.8h0.9M332.0 45.6h0.9M331.3 41.9h0.9M332.0 47.6h0.9M330.1 44.8h0.9M333.1 50.6h0.9M334.5 45.6h0.9M331.4 47.3h0.9M331.5 56.3h0.9M333.6 51.2h0.9M333.1 41.3h0.9M333.0 54.5h0.9M335.4 51.8h0.9M331.7 47.7h0.9M335.0 51.4h0.9M340.5 44.4h0.9M330.9 52.8h0.9M331.5 49.5h0.9M334.1 46.1h0.9M335.6 48.2h0.9M338.2 47.6h0.9M330.3 51.2h0.9M329.6 44.8h0.9M332.4 46.3h0.9M337.8 47.5h0.9M329.0 56.1h0.9M333.1 40.3h0.9M337.2 50.3h0.9M335.5 43.4h0.9M328.2 47.0h0.9M330.7 48.2h0.9M337.9 48.3h0.9M332.4 51.9h0.9M339.8 52.2h0.9M328.3 38.8h0.9M329.9 49.7h0.9M320.5 39.9h0.9M334.2 42.2h0.9M328.7 48.4h0.9M327.3 53.3h0.9M331.0 46.2h0.9M333.3 48.4h0.9M327.9 51.1h0.9M336.3 45.2h0.9M332.6 40.6h0.9M338.1 54.4h0.9M334.5 54.6h0.9M327.0 46.3h0.9M331.1 51.0h0.9M335.4 45.0h0.9M329.4 50.2h0.9M335.3 44.5h0.9M334.2 58.4h0.9M333.1 42.5h0.9M335.6 49.4h0.9M328.0 50.5h0.9M330.7 41.5h0.9M332.9 53.4h0.9M329.0 44.4h0.9M331.1 52.4h0.9M331.3 49.2h0.9M332.5 42.4h0.9M330.8 43.4h0.9M337.9 47.3h0.9M326.7 49.3h0.9M332.5 49.4h0.9M330.6 49.6h0.9M336.1 58.0h0.9M331.3 47.4h0.9M337.6 35.1h0.9M335.2 44.7h0.9M337.8 42.1h0.9M336.6 47.9h0.9M332.7 40.4h0.9M336.5 46.5h0.9M334.0 44.6h0.9M334.0 44.1h0.9M340.0 51.0h0.9M330.2 49.5h0.9M335.4 49.6h0.9M330.6 49.1h0.9M327.8 37.1h0.9M334.9 48.9h0.9M333.3 53.0h0.9M334.7 52.9h0.9M332.9 43.7h0.9M331.7 41.5h0.9M333.3 52.1h0.9M329.9 47.1h0.9M335.8 49.6h0.9M332.1 47.7h0.9M337.4 53.9h0.9M336.3 45.1h0.9M331.6 42.2h0.9M327.4 51.1h0.9M340.6 50.5h0.9M334.1 45.6h0.9M337.3 52.5h0.9M326.8 47.8h0.9M326.3 53.9h0.9M337.8 47.4h0.9M334.5 47.3h0.9M331.9 42.1h0.9M332.3 51.9h0.9M336.6 44.6h0.9M330.1 54.9h0.9M336.7 51.3h0.9M326.5 44.3h0.9M331.1 53.5h0.9M329.9 50.9h0.9M328.0 40.0h0.9M330.6 47.3h0.9M329.3 44.4h0.9" stroke="#000" stroke-width="0.9" opacity="0.6" fill="none"/>
<path d="M334.4 52.7h0.9M338.1 82.0h0.9M338.9 68.9h0.9M332.7 78.2h0.9M323.8 71.8h0.9M339.3 62.7h0.9M330.3 69.6h0.9M337.5 58.0h0.9M331.8 68.8h0.9M332.8 83.6h0.9M332.6 67.3h0.9M336.2 81.4h0.9M335.0 64.8h0.9M329.0 70.7h0.9M333.2 77.8h0.9M341.2 74.0h0.9M340.7 82.9h0.9M332.1 66.0h0.9M330.3 86.9h0.9M333.5 62.7h0.9M342.6 68.9h0.9M332.8 68.9h0.9M336.6 67.9h0.9M331.5 65.2h0.9M334.0 70.7h0.9M330.1 75.8h0.9M335.6 57.7h0.9M341.8 57.3h0.9M337.1 79.4h0.9M334.3 72.9h0.9M336.9 67.4h0.9M333.8 82.6h0.9M330.3 81.4h0.9M342.9 83.8h0.9M333.8 63.8h0.9M339.7 69.7h0.9M337.5 76.7h0.9M332.9 74.2h0.9M334.5 77.2h0.9M332.1 66.8h0.9M333.0 51.2h0.9M339.6 69.5h0.9M332.7 70.3h0.9M333.4 80.3h0.9M333.3 82.0h0.9M333.5 81.4h0.9M329.3 65.7h0.9M328.0 50.9h0.9M332.4 74.4h0.9M338.9 76.7h0.9M332.9 63.7h0.9M332.7 76.7h0.9M336.0 74.1h0.9M331.6 67.3h0.9M337.2 71.9h0.9M334.6 72.9h0.9M334.1 61.8h0.9M334.6 64.4h0.9M331.8 59.7h0.9M336.9 67.6h0.9M324.1 78.0h0.9M328.1 69.9h0.9M335.8 60.2h0.9M325.8 71.4h0.9M334.1 73.1h0.9M334.1 79.1h0.9M325.6 78.8h0.9M331.2 70.9h0.9M340.1 47.7h0.9M336.8 68.2h0.9M336.7 85.5h0.9M332.2 60.6h0.9M335.9 72.6h0.9M331.9 66.6h0.9M332.7 69.8h0.9M340.2 83.2h0.9M340.6 72.2h0.9M336.9 78.2h0.9M331.3 77.3h0.9M330.8 65.9h0.9M331.6 76.9h0.9M333.6 65.6h0.9M337.5 75.3h0.9M338.5 76.5h0.9M337.3 73.1h0.9M333.6 67.7h0.9M338.8 64.0h0.9M343.4 76.4h0.9M326.7 71.9h0.9M338.0 79.5h0.9M334.3 84.8h0.9M336.3 65.9h0.9M334.0 87.6h0.9M335.6 68.6h0.9M331.5 81.1h0.9M332.8 71.9h0.9M334.0 78.4h0.9M339.9 65.1h0.9M333.0 75.7h0.9M335.4 89.9h0.9M332.1 62.0h0.9M329.8 73.2h0.9M334.7 70.0h0.9M333.3 70.7h0.9M324.6 78.1h0.9M333.0 74.1h0.9M333.4 76.5h0.9M331.3 69.0h0.9M332.9 71.2h0.9M339.3 60.2h0.9M334.3 61.8h0.9M331.8 74.9h0.9M332.4 72.3h0.9M335.5 62.3h0.9M321.4 70.6h0.9M344.6 69.7h0.9M340.5 77.6h0.9M333.0 75.6h0.9M334.2 79.9h0.9M332.8 69.9h0.9M334.5 67.7h0.9M331.2 69.5h0.9M341.4 80.1h0.9M332.6 72.9h0.9M338.4 64.3h0.9M337.5 72.5h0.9M333.2 71.1h0.9M332.8 72.3h0.9M330.9 77.0h0.9M333.7 66.2h0.9M332.0 67.8h0.9M333.0 71.3h0.9M334.8 71.8h0.9M338.8 74.9h0.9M333.4 67.7h0.9M335.6 70.2h0.9M327.2 61.3h0.9M336.6 75.9h0.9M339.8 68.5h0.9M324.9 74.9h0.9M334.3 73.4h0.9M333.4 57.2h0.9M323.3 80.2h0.9M344.3 69.5h0.9M332.0 72.4h0.9M343.6 62.8h0.9M334.0 78.0h0.9M339.4 69.9h0.9M332.8 75.0h0.9M336.5 75.7h0.9M334.7 71.0h0.9M329.6 63.1h0.9M329.7 66.3h0.9M326.4 76.4h0.9M327.1 69.7h0.9M335.0 65.2h0.9M328.2 72.3h0.9M338.4 69.7h0.9M327.8 73.1h0.9M336.0 87.5h0.9M326.2 69.3h0.9M331.6 85.3h0.9M332.8 80.4h0.9M330.9 68.8h0.9M330.9 85.6h0.9M338.4 75.0h0.9M332.5 75.4h0.9M340.2 66.0h0.9M328.9 78.4h0.9M338.7 71.1h0.9M335.3 68.9h0.9M338.4 63.0h0.9M327.1 70.9h0.9M329.0 78.1h0.9M338.4 81.0h0.9M329.1 73.2h0.9M334.2 61.0h0.9M338.6 62.6h0.9M336.0 81.3h0.9M333.9 76.4h0.9M332.7 73.1h0.9M339.4 69.6h0.9M327.3 61.8h0.9M334.7 52.3h0.9M335.1 67.1h0.9M340.4 66.8h0.9M334.7 76.0h0.9M335.8 60.3h0.9M338.6 75.7h0.9M335.0 63.1h0.9M338.7 60.4h0.9M338.1 60.4h0.9M333.2 62.3h0.9M329.7 72.0h0.9M335.0 78.7h0.9M328.2 74.4h0.9M327.6 74.0h0.9M338.6 78.4h0.9M326.5 70.4h0.9M332.6 77.1h0.9M339.5 72.3h0.9M330.6 57.0h0.9M330.0 70.6h0.9M337.4 63.5h0.9M331.1 61.6h0.9M333.9 69.2h0.9M332.0 58.0h0.9M327.1 72.1h0.9M340.1 70.4h0.9M332.1 54.7h0.9M336.3 74.2h0.9M332.6 69.8h0.9M336.8 70.0h0.9M334.1 57.8h0.9M332.6 67.7h0.9M332.6 66.9h0.9M331.8 74.1h0.9M322.3 72.0h0.9M338.2 73.8h0.9M337.3 62.4h0.9M329.4 85.6h0.9M335.7 80.7h0.9M333.3 69.5h0.9M336.1 74.2h0.9M331.8 43.6h0.9M333.9 58.9h0.9M327.1 72.2h0.9M331.6 59.9h0.9M335.8 68.9h0.9M335.4 80.6h0.9M336.9 63.1h0.9M335.9 73.5h0.9M339.1 70.1h0.9M338.4 66.0h0.9M338.6 73.6h0.9M337.8 65.8h0.9M334.5 67.3h0.9M336.3 85.1h0.9M333.7 69.0h0.9M331.8 81.5h0.9M328.2 59.3h0.9M344.0 80.5h0.9M331.0 69.7h0.9M330.5 68.9h0.9M332.8 70.2h0.9M332.9 70.9h0.9M334.1 69.0h0.9M332.4 68.0h0.9M328.6 83.0h0.9M335.7 73.2h0.9M342.9 52.9h0.9M330.8 66.3h0.9M333.3 71.2h0.9M335.6 80.2h0.9M321.3 79.7h0.9M329.8 74.3h0.9M332.7 69.0h0.9M333.6 80.8h0.9M327.5 81.1h0.9M329.6 88.6h0.9M329.3 76.3h0.9M331.2 74.3h0.9M328.8 60.9h0.9M336.2 75.7h0.9M325.5 70.8h0.9M329.0 75.6h0.9M329.5 71.3h0.9M337.3 64.1h0.9M335.1 67.8h0.9M331.3 63.3h0.9M331.4 61.2h0.9M331.8 72.0h0.9M333.7 68.9h0.9M331.0 70.2h0.9M341.4 80.0h0.9M342.7 74.3h0.9M335.5 70.4h0.9M339.8 77.7h0.9M327.7 75.1h0.9M335.0 71.6h0.9M330.7 71.8h0.9M343.1 73.5h0.9M333.9 53.0h0.9M337.5 69.9h0.9M339.9 85.0h0.9M327.6 73.6h0.9M337.3 82.1h0.9M336.6 72.9h0.9M336.4 62.1h0.9M338.6 78.0h0.9M335.0 75.6h0.9M330.1 59.1h0.9M332.4 68.6h0.9M326.3 68.2h0.9M327.7 71.8h0.9M320.5 80.1h0.9M331.7 57.2h0.9M329.1 85.1h0.9M321.9 76.5h0.9M328.7 70.9h0.9M332.0 82.2h0.9M336.1 59.3h0.9M337.1 66.7h0.9M333.2 71.3h0.9M331.6 68.2h0.9M339.3 70.2h0.9M335.0 75.5h0.9M334.5 71.7h0.9M333.3 73.7h0.9M329.5 70.5h0.9M335.9 73.0h0.9M326.8 67.1h0.9M338.7 67.2h0.9M340.3 76.4h0.9M336.3 79.4h0.9M339.4 62.9h0.9M329.8 73.2h0.9M330.2 66.0h0.9M335.8 67.6h0.9M333.9 53.2h0.9M338.2 73.5h0.9M328.1 77.5h0.9M336.3 77.0h0.9M331.6 88.4h0.9M332.8 83.3h0.9M331.3 87.9h0.9M332.3 88.2h0.9M335.2 70.2h0.9M338.1 80.6h0.9M330.5 65.4h0.9M334.4 80.8h0.9M330.0 64.2h0.9M334.0 52.3h0.9M331.0 82.3h0.9M339.7 66.5h0.9M329.8 73.8h0.9M330.6 77.7h0.9M338.4 77.8h0.9M335.1 72.2h0.9M331.9 84.3h0.9M328.9 61.0h0.9M338.7 57.1h0.9M328.7 80.5h0.9M339.2 66.3h0.9M342.2 73.7h0.9M338.3 77.4h0.9M331.2 71.1h0.9M334.2 72.3h0.9M328.0 67.7h0.9M331.0 72.6h0.9M331.4 67.3h0.9M331.2 64.2h0.9M335.4 83.1h0.9M336.8 86.7h0.9M336.8 82.9h0.9M327.3 67.5h0.9M346.1 78.8h0.9M330.9 75.0h0.9M336.5 67.7h0.9M334.7 72.1h0.9M336.0 69.2h0.9M336.7 83.0h0.9M327.0 79.8h0.9M330.5 70.7h0.9M335.9 64.4h0.9M329.6 81.4h0.9M332.2 76.0h0.9M331.7 70.1h0.9M330.0 83.3h0.9M335.2 77.6h0.9M329.7 73.9h0.9M332.3 71.0h0.9M338.9 86.4h0.9M333.1 64.7h0.9M342.3 62.5h0.9M327.4 67.8h0.9M339.2 79.0h0.9M330.7 66.5h0.9M332.3 71.2h0.9M334.2 69.7h0.9M329.5 64.2h0.9M336.6 76.3h0.9M330.2 63.0h0.9M336.3 68.2h0.9M332.5 73.2h0.9M322.3 58.5h0.9M333.0 74.1h0.9M332.2 76.6h0.9M335.3 72.3h0.9M331.9 58.3h0.9M335.3 79.1h0.9M326.3 64.3h0.9M334.7 79.8h0.9M332.6 68.8h0.9M337.6 72.7h0.9M333.0 83.6h0.9M325.0 67.1h0.9M341.4 81.4h0.9M337.5 77.3h0.9M330.2 73.9h0.9M335.2 78.2h0.9M327.5 74.2h0.9M330.2 68.0h0.9M332.2 63.1h0.9M333.8 75.9h0.9M322.3 65.3h0.9M332.1 77.0h0.9M335.2 66.2h0.9M336.3 82.3h0.9M333.2 79.9h0.9M332.1 80.0h0.9M332.8 65.6h0.9M331.5 70.1h0.9M329.1 67.7h0.9M333.1 63.9h0.9M337.6 74.9h0.9M329.9 73.7h0.9M338.4 55.9h0.9M340.0 87.0h0.9M330.4 67.7h0.9M329.8 75.4h0.9M336.2 71.4h0.9M335.5 78.0h0.9M338.6 68.5h0.9M332.3 69.9h0.9M339.4 58.7h0.9M330.6 81.5h0.9M334.7 67.3h0.9M334.9 79.5h0.9M333.2 67.8h0.9M326.8 68.5h0.9M334.0 64.7h0.9M336.5 74.0h0.9M334.3 81.2h0.9M335.0 82.2h0.9M341.0 73.8h0.9M332.9 68.5h0.9M329.7 85.9h0.9M332.1 74.3h0.9M327.5 74.7h0.9M338.8 59.7h0.9M331.3 70.3h0.9M329.1 77.9h0.9M335.9 82.7h0.9M328.5 63.4h0.9M330.1 59.3h0.9M332.8 70.7h0.9M334.0 69.1h0.9M337.1 65.2h0.9M330.2 71.3h0.9M332.6 71.6h0.9M334.3 64.1h0.9M331.0 81.3h0.9M331.4 71.5h0.9M340.9 61.0h0.9M335.2 66.8h0.9M335.0 58.9h0.9M340.6 76.8h0.9M335.6 73.5h0.9M338.5 67.9h0.9M332.0 77.6h0.9M338.1 66.9h0.9M336.5 69.3h0.9M327.7 78.5h0.9M337.5 65.8h0.9M340.7 59.2h0.9M331.6 82.0h0.9M333.4 61.3h0.9M339.0 67.6h0.9M327.1 82.4h0.9M333.9 84.4h0.9M329.3 68.5h0.9M331.9 70.5h0.9M334.5 78.0h0.9M337.8 83.0h0.9M329.4 66.2h0.9M333.0 85.7h0.9M327.9 79.5h0.9M333.8 83.8h0.9M339.0 81.2h0.9M331.4 87.5h0.9M333.2 84.8h0.9M336.4 71.1h0.9M339.7 84.7h0.9M338.6 73.7h0.9M335.4 52.5h0.9M322.1 74.6h0.9M331.4 70.1h0.9M336.4 74.0h0.9M331.9 75.2h0.9M331.7 65.3h0.9M334.4 70.4h0.9M340.2 64.5h0.9M338.6 76.0h0.9M333.9 69.9h0.9M328.7 75.5h0.9M328.7 71.7h0.9M337.2 67.8h0.9M338.5 77.6h0.9M330.4 80.6h0.9M332.1 72.6h0.9M325.8 77.9h0.9M334.1 75.5h0.9M333.4 78.6h0.9M339.2 70.5h0.9M332.9 84.6h0.9M327.3 78.4h0.9M331.7 81.2h0.9M329.6 69.5h0.9M332.1 79.3h0.9M335.5 70.0h0.9M331.3 72.1h0.9M335.1 73.3h0.9M327.6 73.1h0.9M337.2 77.8h0.9M329.3 62.1h0.9M336.7 77.6h0.9M334.7 76.9h0.9M327.8 65.7h0.9M328.2 82.2h0.9M331.3 68.2h0.9M330.6 70.2h0.9M329.3 72.6h0.9M330.7 68.5h0.9M327.9 78.1h0.9M328.0 68.4h0.9M331.0 67.3h0.9M336.5 84.5h0.9M331.9 77.3h0.9M338.4 73.5h0.9M333.9 74.6h0.9M329.7 67.5h0.9M334.4 71.5h0.9M327.0 67.1h0.9M327.9 73.2h0.9M326.2 63.0h0.9M338.6 69.2h0.9M337.4 80.4h0.9M332.4 61.1h0.9M336.5 61.6h0.9M329.2 70.0h0.9M333.1 70.6h0.9M337.9 70.8h0.9M339.8 81.3h0.9M337.3 74.1h0.9M331.5 71.7h0.9M328.3 52.4h0.9M327.8 81.5h0.9M326.1 68.7h0.9M336.2 79.6h0.9M335.4 78.7h0.9M337.8 82.3h0.9M332.3 74.5h0.9M342.2 70.7h0.9M338.9 73.0h0.9M328.3 84.2h0.9M335.3 70.6h0.9M336.5 63.4h0.9M331.3 77.8h0.9M331.0 64.6h0.9M327.1 63.5h0.9M332.5 67.2h0.9M332.3 74.0h0.9M330.1 70.5h0.9M334.1 65.7h0.9M327.1 87.3h0.9M340.7 76.5h0.9M328.0 65.2h0.9M333.2 63.2h0.9M331.8 70.3h0.9M341.8 69.0h0.9M337.4 63.9h0.9M338.6 65.5h0.9M330.5 70.7h0.9M339.7 84.2h0.9M327.3 73.2h0.9M326.1 82.3h0.9M335.9 83.8h0.9M337.4 78.1h0.9M329.6 79.9h0.9M338.0 80.4h0.9M340.5 80.2h0.9M331.2 72.1h0.9M330.5 52.6h0.9M335.4 60.3h0.9M332.7 80.8h0.9M331.3 52.5h0.9M340.6 76.5h0.9M331.3 63.3h0.9M334.4 63.4h0.9M334.7 75.5h0.9M335.0 82.6h0.9M332.8 77.5h0.9M328.5 74.5h0.9M332.7 61.8h0.9M330.9 69.2h0.9M333.1 81.0h0.9M336.1 67.6h0.9M335.1 77.3h0.9M340.8 62.3h0.9M336.1 67.5h0.9M339.0 81.9h0.9M336.1 71.2h0.9M330.2 56.6h0.9M332.7 65.3h0.9M331.6 56.6h0.9M337.3 77.0h0.9M328.4 65.9h0.9M334.2 58.5h0.9M335.6 80.3h0.9M337.7 67.7h0.9M332.0 56.1h0.9M338.1 66.9h0.9M338.7 81.5h0.9M330.3 83.7h0.9M340.0 54.7h0.9M336.5 71.1h0.9M333.1 81.4h0.9M333.4 78.8h0.9M339.1 71.6h0.9M336.5 70.8h0.9M334.0 78.6h0.9M339.5 83.4h0.9M328.7 63.6h0.9M333.3 74.0h0.9M334.1 72.8h0.9M334.7 71.6h0.9M331.5 75.0h0.9M337.7 82.6h0.9M331.6 68.6h0.9M337.0 72.2h0.9M337.1 73.3h0.9M327.8 81.8h0.9M333.4 67.9h0.9M327.4 54.6h0.9M342.3 74.7h0.9M325.0 80.9h0.9M334.8 66.5h0.9M328.3 76.4h0.9M322.8 82.2h0.9M331.0 85.7h0.9M343.4 57.3h0.9M334.7 65.8h0.9M337.2 78.9h0.9M331.7 68.4h0.9M339.1 81.1h0.9M331.1 67.6h0.9M337.5 66.6h0.9M331.5 75.5h0.9M329.9 71.1h0.9M332.2 63.1h0.9M341.6 77.3h0.9M333.0 85.4h0.9M332.9 59.9h0.9M338.2 62.9h0.9M334.3 62.3h0.9M326.1 70.6h0.9M339.9 74.1h0.9M341.5 74.4h0.9M334.2 69.0h0.9M336.8 68.4h0.9M328.4 65.1h0.9M333.6 82.0h0.9M324.6 54.7h0.9M338.0 73.1h0.9M330.9 70.4h0.9M334.8 73.3h0.9M331.5 70.0h0.9M328.6 71.8h0.9M340.6 74.4h0.9M336.9 73.0h0.9M334.5 76.7h0.9M334.5 74.2h0.9M331.0 74.0h0.9M329.6 82.0h0.9M335.4 75.1h0.9M330.0 63.8h0.9M338.5 63.0h0.9M329.9 79.5h0.9M329.5 63.3h0.9M329.2 64.6h0.9M337.0 86.8h0.9M337.9 70.8h0.9M335.7 80.8h0.9M337.1 71.4h0.9M334.6 79.7h0.9M329.9 71.9h0.9M329.5 65.6h0.9M332.1 69.0h0.9M330.1 70.5h0.9M339.2 65.6h0.9M330.4 52.3h0.9M335.8 73.8h0.9M332.7 79.0h0.9M329.4 82.9h0.9M335.3 66.4h0.9M330.2 74.1h0.9M337.4 69.8h0.9M331.6 77.8h0.9M330.6 70.5h0.9M340.0 68.8h0.9M335.3 51.4h0.9M337.5 69.9h0.9M333.4 68.9h0.9M334.3 73.0h0.9M331.6 76.7h0.9M329.9 72.7h0.9M340.2 57.8h0.9M329.6 87.0h0.9M330.6 78.2h0.9M337.2 70.5h0.9M336.5 89.4h0.9M328.3 74.4h0.9M327.2 66.6h0.9M330.4 74.2h0.9M332.6 67.2h0.9M336.8 57.8h0.9M334.7 76.8h0.9M325.6 72.9h0.9M335.5 74.1h0.9M331.4 68.1h0.9M334.5 78.2h0.9M331.0 65.8h0.9M336.4 74.1h0.9M331.8 70.3h0.9M336.2 58.7h0.9M330.6 66.2h0.9M337.6 59.6h0.9M325.2 75.0h0.9M335.6 78.9h0.9M328.3 74.9h0.9M340.5 78.1h0.9M325.3 74.7h0.9M332.3 51.9h0.9M335.5 68.0h0.9M329.1 65.8h0.9M333.6 51.8h0.9M339.3 66.3h0.9M334.7 70.9h0.9M332.2 66.5h0.9M334.3 70.7h0.9M340.8 67.8h0.9M329.8 89.6h0.9M343.5 67.6h0.9M331.1 70.5h0.9M332.8 74.0h0.9M334.9 70.1h0.9M333.3 80.5h0.9M330.1 79.1h0.9M339.6 63.9h0.9M328.6 78.7h0.9M332.9 79.5h0.9M332.5 79.8h0.9M332.8 62.7h0.9M332.3 74.3h0.9M339.4 80.0h0.9M331.1 70.7h0.9M332.3 65.1h0.9M333.1 76.6h0.9M333.0 57.7h0.9M328.4 62.6h0.9M331.0 71.8h0.9M332.9 66.9h0.9M336.1 81.0h0.9M342.3 77.4h0.9M329.7 72.2h0.9M335.1 80.6h0.9M336.0 62.3h0.9M338.1 77.9h0.9M336.0 67.0h0.9M335.1 78.8h0.9M332.6 67.4h0.9M337.9 72.7h0.9M329.6 78.2h0.9M330.9 65.5h0.9M326.1 75.8h0.9M330.1 82.8h0.9M335.5 66.2h0.9M331.1 72.1h0.9M332.0 85.9h0.9M331.0 73.5h0.9M334.0 66.1h0.9M333.3 78.4h0.9M330.6 75.8h0.9M325.7 74.6h0.9M334.2 73.0h0.9M335.9 73.9h0.9M332.9 60.6h0.9M325.5 71.3h0.9M341.6 75.2h0.9M339.2 72.7h0.9M333.1 68.4h0.9M334.1 77.1h0.9M332.8 75.1h0.9M333.8 69.7h0.9M332.9 84.6h0.9M337.4 75.2h0.9M331.8 67.7h0.9M335.4 78.5h0.9M328.3 80.1h0.9M333.9 79.0h0.9M334.8 72.6h0.9M329.4 51.7h0.9M334.3 78.6h0.9M331.0 75.0h0.9M333.8 76.1h0.9M335.3 67.8h0.9M332.1 65.3h0.9M334.9 79.0h0.9M325.8 73.9h0.9M332.2 86.8h0.9M330.0 63.1h0.9M325.4 72.7h0.9M331.4 73.3h0.9M332.2 64.6h0.9M333.8 80.8h0.9M339.7 74.6h0.9M332.5 72.0h0.9M329.1 79.6h0.9M327.7 78.2h0.9M332.9 65.4h0.9M330.4 69.6h0.9M333.9 84.4h0.9M336.5 78.9h0.9M330.9 61.0h0.9M339.2 46.1h0.9M331.4 83.2h0.9M334.7 86.4h0.9M335.4 69.5h0.9M336.4 72.4h0.9M341.9 58.3h0.9M332.3 79.0h0.9M338.7 54.8h0.9M330.4 63.5h0.9M337.3 72.1h0.9M338.4 67.3h0.9M335.4 71.7h0.9M330.2 70.3h0.9M341.4 73.2h0.9M336.6 76.7h0.9M331.0 70.9h0.9M334.3 58.4h0.9M333.9 73.6h0.9M334.3 74.4h0.9M335.1 62.0h0.9M330.7 63.2h0.9M339.5 72.7h0.9M334.2 71.7h0.9M333.8 78.1h0.9M329.0 85.3h0.9M332.2 78.7h0.9M331.4 59.3h0.9M333.5 83.1h0.9M331.7 72.3h0.9M335.0 73.8h0.9M333.5 88.5h0.9M332.2 63.0h0.9M336.0 76.9h0.9M336.1 79.1h0.9M344.8 63.9h0.9M330.5 67.5h0.9M337.1 68.3h0.9M334.9 70.0h0.9M335.7 71.0h0.9M325.2 85.4h0.9M324.8 69.5h0.9M332.8 65.0h0.9M341.1 71.9h0.9M336.2 78.6h0.9M332.1 64.1h0.9M333.8 74.6h0.9M335.7 71.6h0.9M328.2 88.1h0.9M336.9 73.0h0.9M329.2 77.9h0.9M331.5 81.9h0.9M334.0 61.6h0.9M331.3 61.8h0.9M342.3 64.9h0.9M334.6 78.9h0.9M331.3 71.5h0.9M335.8 80.1h0.9M336.8 74.1h0.9M330.0 72.0h0.9M336.8 80.7h0.9M334.2 81.1h0.9M327.6 68.4h0.9M331.4 71.4h0.9M336.3 73.0h0.9M328.6 77.8h0.9M333.8 63.0h0.9M336.5 72.2h0.9M334.6 73.0h0.9" stroke="#000" stroke-width="0.9" opacity="0.6" fill="none"/>
<path d="M345.6 83.9h0.9M328.8 39.8h0.9M335.8 92.9h0.9M341.9 65.6h0.9M325.5 83.4h0.9M319.3 41.4h0.9M339.4 42.8h0.9M343.9 99.5h0.9M318.9 98.4h0.9M342.0 55.7h0.9M336.1 73.8h0.9M330.1 102.9h0.9M330.9 72.6h0.9M334.4 98.6h0.9M326.0 39.2h0.9M336.0 80.4h0.9M335.7 73.4h0.9M337.0 60.6h0.9M343.4 46.4h0.9M342.5 99.2h0.9M322.8 39.1h0.9M321.6 55.1h0.9M325.8 62.8h0.9M324.3 54.8h0.9M326.6 67.4h0.9M320.1 78.3h0.9M332.2 73.9h0.9M332.2 78.6h0.9M318.8 51.8h0.9M342.6 44.5h0.9M321.2 83.5h0.9M325.8 94.4h0.9M343.9 36.5h0.9M330.8 98.1h0.9M326.7 101.2h0.9M329.8 59.5h0.9M342.5 64.3h0.9M341.6 76.7h0.9M332.4 100.8h0.9M318.3 66.7h0.9M332.0 97.9h0.9M324.5 46.6h0.9M342.2 101.7h0.9M324.4 97.4h0.9M345.2 73.4h0.9M330.5 51.2h0.9M334.9 54.3h0.9M326.5 50.6h0.9M320.0 54.3h0.9M324.5 83.2h0.9M331.3 69.4h0.9M344.5 85.5h0.9M326.9 97.7h0.9M334.3 85.1h0.9M338.3 73.9h0.9M345.4 95.7h0.9M331.7 44.4h0.9M335.9 87.9h0.9M344.3 84.4h0.9M319.4 42.2h0.9" stroke="#000" stroke-width="0.9" opacity="0.5" fill="none"/>
<ellipse cx="332.2" cy="48" rx="8.60" ry="10.00" fill="none" stroke="#333" stroke-width="0.7"/>
<ellipse cx="332.2" cy="48" rx="7.57" ry="8.80" fill="none" stroke="#333" stroke-width="0.7"/>
<ellipse cx="332.2" cy="48" rx="6.54" ry="7.60" fill="none" stroke="#333" stroke-width="0.7"/>
<ellipse cx="332.6" cy="48.5" rx="5.6" ry="8" fill="#000" filter="url(#bl05)"/>
<ellipse cx="332" cy="47.5" rx="0.7" ry="1.3" fill="#fff"/>
<path d="M325 67 Q324 60.5 333 60.5 Q342 60.5 342 68 L341 84 Q340 95 337.5 101.5 L330.5 101.5 Q327 95 326 84 Z" transform="translate(0.0 0.0) scale(1.0)" fill="none" stroke="#444" stroke-width="0.7"/>
<path d="M325 67 Q324 60.5 333 60.5 Q342 60.5 342 68 L341 84 Q340 95 337.5 101.5 L330.5 101.5 Q327 95 326 84 Z" transform="translate(33.3 8.0) scale(0.9)" fill="none" stroke="#444" stroke-width="0.7"/>
<ellipse cx="333.5" cy="71" rx="5.5" ry="11" fill="#000" filter="url(#bl1)"/>
<path d="M329 84 Q330 92 331 100 M337.5 84 Q336.5 92 336 100 M331.5 86 L332.5 100 M335.5 86 L334.8 100 M333.5 88 V100" stroke="#555" stroke-width="0.7" fill="none"/>
<ellipse cx="334.4" cy="103.5" rx="6" ry="2.2" fill="#000" filter="url(#bl05)"/>
<ellipse cx="62.8" cy="48.4" rx="23" ry="14.3" transform="rotate(4 62.8 48.4)" fill="none" stroke="#000" stroke-width="1.5"/>
<ellipse cx="88" cy="76" rx="8.5" ry="16" transform="rotate(38 88 76)" fill="none" stroke="#000" stroke-width="1.5"/>
<rect x="179.3" y="35.1" width="34.2" height="44" fill="none" stroke="#000" stroke-width="1.5"/>
<rect x="316.4" y="34" width="30.2" height="25.2" fill="none" stroke="#000" stroke-width="1.5"/>
<rect x="316.4" y="59.4" width="30.8" height="45.6" fill="none" stroke="#000" stroke-width="1.5"/>
<text x="43.8" y="30" font-size="10.4" font-weight="bold" text-anchor="start" fill="#000" stroke="#000" stroke-width="0.3">15.9%</text>
<text x="97.8" y="60" font-size="10.4" font-weight="bold" text-anchor="start" fill="#000" stroke="#000" stroke-width="0.3">4.41%</text>
<text x="197.6" y="32.7" font-size="10.4" font-weight="bold" text-anchor="start" fill="#000" stroke="#000" stroke-width="0.3">17.7%</text>
<text x="280.6" y="44.3" font-size="10.6" font-weight="bold" text-anchor="start" fill="#000" stroke="#000" stroke-width="0.3">41.7%</text>
<text x="280.6" y="85.2" font-size="10.6" font-weight="bold" text-anchor="start" fill="#000" stroke="#000" stroke-width="0.3">57.7%</text>
<path d="M138.2 41.7 H92.9 V46.3 H138.2" fill="#fff" stroke="#000" stroke-width="1.8"/>
<path d="M137.7 37.0 L145.7 44 L137.7 51.0 L137.7 47.199999999999996 L141.5 44 L137.7 40.800000000000004Z" fill="#000"/>
<path d="M253.3 54.2 H220 V58.8 H253.3" fill="#fff" stroke="#000" stroke-width="1.8"/>
<path d="M252.8 49.5 L260.8 56.5 L252.8 63.5 L252.8 59.699999999999996 L256.6 56.5 L252.8 53.300000000000004Z" fill="#000"/>
<path d="M349.8 46 H380.9" stroke="#000" stroke-width="1.8"/>
<path d="M374.9 41.5 L381.9 46 L374.9 50.5" fill="none" stroke="#000" stroke-width="1.8"/>
<path d="M349.8 81.4 H380.9" stroke="#000" stroke-width="1.8"/>
<path d="M374.9 76.9 L381.9 81.4 L374.9 85.9" fill="none" stroke="#000" stroke-width="1.8"/>
<text x="384.3" y="50.2" font-size="14.3" font-weight="bold" text-anchor="start" fill="#000" stroke="#000" stroke-width="0.3">Tfr</text>
<text x="384.3" y="85.8" font-size="14.3" font-weight="bold" text-anchor="start" fill="#000" stroke="#000" stroke-width="0.3">Tfh</text>
<path d="M32.2 85.4 V115 H66" fill="none" stroke="#000" stroke-width="1.8"/>
<path d="M28.000000000000004 91.4 L32.2 84.4 L36.400000000000006 91.4" fill="none" stroke="#000" stroke-width="1.8"/>
<path d="M60 110.8 L67 115 L60 119.2" fill="none" stroke="#000" stroke-width="1.8"/>
<path d="M147.8 87.6 V116.2 H182.4" fill="none" stroke="#000" stroke-width="1.8"/>
<path d="M143.60000000000002 93.6 L147.8 86.6 L152.0 93.6" fill="none" stroke="#000" stroke-width="1.8"/>
<path d="M176.4 112.0 L183.4 116.2 L176.4 120.4" fill="none" stroke="#000" stroke-width="1.8"/>
<path d="M270.7 87.7 V115.6 H303.4" fill="none" stroke="#000" stroke-width="1.8"/>
<path d="M266.5 93.7 L270.7 86.7 L274.9 93.7" fill="none" stroke="#000" stroke-width="1.8"/>
<path d="M297.4 111.39999999999999 L304.4 115.6 L297.4 119.8" fill="none" stroke="#000" stroke-width="1.8"/>
<text x="72" y="119.6" font-size="12.3" font-weight="bold" text-anchor="start" fill="#000" stroke="#000" stroke-width="0.3">CD8</text>
<text x="188.1" y="120.5" font-size="12.2" font-weight="bold" text-anchor="start" fill="#000" stroke="#000" stroke-width="0.3">CXCR5</text>
<text x="308.8" y="120.3" font-size="12.3" font-weight="bold" text-anchor="start" fill="#000" stroke="#000" stroke-width="0.3">CD4</text>
<text x="35.5" y="67.2" font-size="12.3" font-weight="bold" text-anchor="middle" fill="#000" transform="rotate(-90 35.5 67.2)" stroke="#000" stroke-width="0.3">CD4</text>
<text x="151.4" y="69.2" font-size="11.5" font-weight="bold" text-anchor="middle" fill="#000" transform="rotate(-90 151.4 69.2)" stroke="#000" stroke-width="0.3">PD-1</text>
<text x="272.2" y="62.4" font-size="12" font-weight="bold" text-anchor="middle" fill="#000" transform="rotate(-90 272.2 62.4)" stroke="#000" stroke-width="0.3">Foxp3</text>
<rect x="442.7" y="8.3" width="104.5" height="102.0" fill="#fff" stroke="#a0a0a0" stroke-width="1"/>
<path d="M433 92.4 V122.2 H466" fill="none" stroke="#000" stroke-width="1.8"/>
<path d="M428.8 98.4 L433 91.4 L437.2 98.4" fill="none" stroke="#000" stroke-width="1.8"/>
<path d="M460 118.0 L467 122.2 L460 126.4" fill="none" stroke="#000" stroke-width="1.8"/>
<text x="472.9" y="125.8" font-size="12.2" font-weight="bold" text-anchor="start" fill="#000" stroke="#000" stroke-width="0.3">BCL-6</text>
<text x="434.9" y="68.8" font-size="12.3" font-weight="bold" text-anchor="middle" fill="#000" transform="rotate(-90 434.9 68.8)" stroke="#000" stroke-width="0.3">Count</text>
<rect x="49.8" y="144.0" width="102.4" height="101.5" fill="#fff" stroke="#a0a0a0" stroke-width="1"/>
<path d="M39.6 230.7 V257 H74.4" fill="none" stroke="#000" stroke-width="1.8"/>
<path d="M35.4 236.7 L39.6 229.7 L43.800000000000004 236.7" fill="none" stroke="#000" stroke-width="1.8"/>
<path d="M68.4 252.8 L75.4 257 L68.4 261.2" fill="none" stroke="#000" stroke-width="1.8"/>
<text x="80.5" y="262.1" font-size="12.2" font-weight="bold" text-anchor="start" fill="#000" stroke="#000" stroke-width="0.3">PD-1</text>
<text x="42.2" y="205.4" font-size="12.3" font-weight="bold" text-anchor="middle" fill="#000" transform="rotate(-90 42.2 205.4)" stroke="#000" stroke-width="0.3">Count</text>
<rect x="379.3" y="142.3" width="103.5" height="103.2" fill="#fff" stroke="#a0a0a0" stroke-width="1"/>
<path d="M368.8 229.4 V255.7 H401.8" fill="none" stroke="#000" stroke-width="1.8"/>
<path d="M364.6 235.4 L368.8 228.4 L373.0 235.4" fill="none" stroke="#000" stroke-width="1.8"/>
<path d="M395.8 251.5 L402.8 255.7 L395.8 259.9" fill="none" stroke="#000" stroke-width="1.8"/>
<text x="408.4" y="260.7" font-size="12.6" font-weight="bold" text-anchor="start" fill="#000" stroke="#000" stroke-width="0.3">CXCR5</text>
<text x="370.9" y="204.8" font-size="12.3" font-weight="bold" text-anchor="middle" fill="#000" transform="rotate(-90 370.9 204.8)" stroke="#000" stroke-width="0.3">Count</text>
<rect x="32.5" y="285.3" width="103.0" height="103.5" fill="#fff" stroke="#a0a0a0" stroke-width="1"/>
<path d="M23.8 370.7 V400.9 H57.3" fill="none" stroke="#000" stroke-width="1.8"/>
<path d="M19.6 376.7 L23.8 369.7 L28.0 376.7" fill="none" stroke="#000" stroke-width="1.8"/>
<path d="M51.3 396.7 L58.3 400.9 L51.3 405.09999999999997" fill="none" stroke="#000" stroke-width="1.8"/>
<text x="63.4" y="405.5" font-size="12.2" font-weight="bold" text-anchor="start" fill="#000" stroke="#000" stroke-width="0.3">PD-1</text>
<text x="25.6" y="349.2" font-size="12.3" font-weight="bold" text-anchor="middle" fill="#000" transform="rotate(-90 25.6 349.2)" stroke="#000" stroke-width="0.3">Count</text>
<rect x="378.6" y="285.8" width="103.5" height="103.0" fill="#fff" stroke="#a0a0a0" stroke-width="1"/>
<path d="M368.8 371.4 V401.6 H401.3" fill="none" stroke="#000" stroke-width="1.8"/>
<path d="M364.6 377.4 L368.8 370.4 L373.0 377.4" fill="none" stroke="#000" stroke-width="1.8"/>
<path d="M395.3 397.40000000000003 L402.3 401.6 L395.3 405.8" fill="none" stroke="#000" stroke-width="1.8"/>
<text x="408" y="405.2" font-size="12.2" font-weight="bold" text-anchor="start" fill="#000" stroke="#000" stroke-width="0.3">PD-1</text>
<text x="370.9" y="349.2" font-size="12.3" font-weight="bold" text-anchor="middle" fill="#000" transform="rotate(-90 370.9 349.2)" stroke="#000" stroke-width="0.3">Count</text>
<rect x="29.7" y="427.6" width="102.6" height="102.8" fill="#fff" stroke="#a0a0a0" stroke-width="1"/>
<path d="M20.2 514.3 V543 H53.2" fill="none" stroke="#000" stroke-width="1.8"/>
<path d="M16.0 520.3 L20.2 513.3 L24.4 520.3" fill="none" stroke="#000" stroke-width="1.8"/>
<path d="M47.2 538.8 L54.2 543 L47.2 547.2" fill="none" stroke="#000" stroke-width="1.8"/>
<text x="59.8" y="546.9" font-size="12.8" font-weight="bold" text-anchor="start" fill="#000" stroke="#000" stroke-width="0.3">CXCR5</text>
<text x="23.9" y="491.3" font-size="12.3" font-weight="bold" text-anchor="middle" fill="#000" transform="rotate(-90 23.9 491.3)" stroke="#000" stroke-width="0.3">Count</text>
<rect x="376.6" y="427.1" width="103.3" height="101.8" fill="#fff" stroke="#a0a0a0" stroke-width="1"/>
<path d="M368.3 513 V541.5 H400.8" fill="none" stroke="#000" stroke-width="1.8"/>
<path d="M364.1 519 L368.3 512 L372.5 519" fill="none" stroke="#000" stroke-width="1.8"/>
<path d="M394.8 537.3 L401.8 541.5 L394.8 545.7" fill="none" stroke="#000" stroke-width="1.8"/>
<text x="406.8" y="546.2" font-size="12.2" font-weight="bold" text-anchor="start" fill="#000" stroke="#000" stroke-width="0.3">CXCR5</text>
<text x="370.3" y="490" font-size="12.3" font-weight="bold" text-anchor="middle" fill="#000" transform="rotate(-90 370.3 490)" stroke="#000" stroke-width="0.3">Count</text>
<path d="M443.6 27 V97" stroke="#000" stroke-width="1.6" stroke-dasharray="3 2"/>
<path d="M443.5 97.3 L444.5 96.1 L445.5 95.0 L446.9 94.2 L448.1 93.3 L449.4 92.5 L450.4 91.2 L451.5 90.2 L452.1 88.8 L452.8 87.5 L453.9 86.4 L454.9 85.3 L455.3 83.8 L455.7 82.3 L456.6 81.0 L457.9 80.1 L458.3 78.6 L458.6 77.0 L459.8 76.0 L460.1 74.6 L460.2 73.1 L460.7 71.8 L461.1 70.4 L461.4 69.0 L462.1 67.6 L462.3 66.2 L462.5 64.8 L463.1 63.4 L463.6 62.1 L463.2 60.5 L464.0 59.2 L464.1 57.7 L464.7 56.4 L464.7 54.9 L465.5 53.6 L465.8 52.2 L466.2 50.8 L466.4 49.4 L466.6 48.0 L467.1 46.7 L467.3 45.3 L467.6 43.9 L468.4 42.6 L468.4 41.2 L469.4 40.0 L469.6 38.6 L469.2 37.0 L470.2 35.8 L470.5 34.4 L470.5 32.9 L471.2 31.6 L471.5 30.3 L471.3 28.7 L472.1 27.5 L472.4 26.1 L473.1 24.8 L472.8 23.3 L473.7 22.0 L473.5 20.5 L474.1 19.2 L474.5 17.8 L475.2 19.1 L475.2 20.7 L475.9 22.0 L475.9 23.6 L476.9 24.8 L477.6 26.1 L477.5 27.6 L477.7 29.0 L478.3 30.4 L478.3 31.8 L478.1 33.3 L478.8 34.6 L478.8 36.1 L479.0 37.5 L479.1 38.9 L479.5 40.3 L479.6 41.8 L479.7 43.2 L479.9 44.6 L480.4 46.0 L480.1 47.5 L480.8 48.9 L481.0 50.3 L481.2 51.7 L480.8 53.2 L481.2 54.6 L481.4 56.0 L481.8 57.4 L481.9 58.8 L481.7 60.3 L482.2 61.7 L482.4 63.1 L482.0 64.6 L482.7 66.0 L482.6 67.4 L482.6 68.8 L482.9 70.3 L482.9 71.7 L482.7 73.1 L483.4 74.5 L483.7 75.9 L484.0 77.3 L483.7 78.8 L483.9 80.2 L483.9 81.7 L484.2 83.1 L484.4 84.5 L484.6 85.9 L484.7 87.3 L484.6 88.8 L484.8 90.2 L485.1 91.6 L485.2 93.0 L484.9 94.5 L485.5 95.8 L486.3 97.1 L485.6 98.7 L486.2 100.0 L486.7 101.4 L486.4 102.8 L486.9 104.2 L487.1 105.6 L488.2 107.3 L489.0 109.2 L490.4 109.2 L491.8 109.2 L493.2 109.2 L494.6 109.2 L496.0 109.2 L497.4 109.2 L498.8 109.2 L500.2 109.2 L501.6 109.2 L503.0 109.2 L504.4 109.2 L505.8 109.2 L507.2 109.2 L508.6 109.2 L510.0 109.2 L511.4 109.2 L512.8 109.2 L514.2 109.2 L515.6 109.2 L517.0 109.2 L518.5 109.2 L519.9 109.2 L521.3 109.2 L522.7 109.2 L524.1 109.2 L525.5 109.2 L526.9 109.2 L528.3 109.2 L529.7 109.2 L531.1 109.2 L532.5 109.2 L533.9 109.2 L535.3 109.2 L536.7 109.2 L538.1 109.2 L539.5 109.2 L540.9 109.2 L542.3 109.2 L543.7 109.2 L545.1 109.2 L546.5 109.2" fill="none" stroke="#000" stroke-width="2.4" stroke-dasharray="4 2.5"/>
<path d="M443.5 109.2 L444.9 109.2 L446.3 109.2 L447.7 109.2 L449.1 109.2 L450.5 109.2 L451.9 109.2 L453.3 109.2 L454.7 109.2 L456.1 109.2 L457.5 109.2 L458.9 108.0 L460.3 106.8 L462.0 106.0 L463.3 105.3 L464.7 104.8 L465.7 103.7 L467.0 103.0 L468.1 102.1 L469.4 101.4 L470.0 100.0 L470.4 98.6 L471.4 97.5 L471.9 96.2 L472.4 94.9 L473.1 93.6 L474.0 92.5 L474.3 91.0 L474.8 89.6 L474.9 88.1 L475.3 86.7 L475.9 85.3 L476.1 83.8 L476.6 82.3 L476.8 80.9 L477.1 79.4 L477.8 78.0 L477.8 76.5 L478.0 75.0 L478.2 73.5 L478.6 72.1 L478.3 70.6 L478.7 69.2 L479.2 67.7 L479.3 66.3 L479.8 64.9 L479.5 63.3 L479.3 61.8 L480.5 60.5 L480.4 59.0 L480.0 57.5 L480.9 56.1 L480.7 54.6 L480.8 53.2 L480.5 51.7 L481.0 50.2 L481.1 48.8 L481.8 47.4 L481.3 45.9 L481.6 44.5 L481.7 43.0 L481.8 41.6 L481.8 40.1 L482.2 38.7 L482.6 37.3 L482.6 35.8 L482.3 34.3 L482.4 32.9 L482.9 31.5 L483.0 30.0 L483.0 28.4 L483.3 26.8 L483.3 25.2 L484.5 23.8 L484.5 22.2 L484.2 20.5 L484.7 19.0 L484.7 20.5 L484.7 22.0 L486.0 23.3 L485.7 24.8 L485.9 26.3 L485.8 27.8 L486.2 29.2 L486.4 30.6 L486.6 32.1 L486.3 33.6 L487.0 35.0 L486.5 36.5 L487.4 37.9 L487.7 39.3 L486.8 40.8 L488.0 42.2 L488.0 43.6 L488.0 45.1 L488.0 46.5 L488.0 48.0 L488.4 49.4 L488.9 50.8 L488.6 52.3 L488.9 53.7 L488.5 55.2 L489.2 56.6 L489.7 58.0 L489.8 59.5 L489.3 61.0 L490.0 62.3 L490.5 63.7 L490.3 65.2 L490.3 66.7 L490.1 68.2 L490.8 69.5 L490.7 71.0 L490.7 72.5 L490.8 73.9 L491.4 75.3 L491.4 76.8 L491.0 78.3 L491.1 79.8 L491.5 81.2 L491.8 82.6 L491.8 84.1 L492.3 85.5 L492.4 87.0 L492.8 88.4 L492.7 89.9 L492.9 91.3 L492.2 92.9 L493.2 94.2 L492.9 95.7 L493.1 97.2 L493.6 98.6 L493.4 100.1 L494.5 101.4 L494.0 103.0 L494.2 104.4 L494.8 106.1 L496.4 107.3 L496.6 109.2 L498.0 109.2 L499.5 109.2 L500.9 109.2 L502.3 109.2 L503.7 109.2 L505.2 109.2 L506.6 109.2 L508.0 109.2 L509.4 109.2 L510.9 109.2 L512.3 109.2 L513.7 109.2 L515.1 109.2 L516.6 109.2 L518.0 109.2 L519.4 109.2 L520.8 109.2 L522.3 109.2 L523.7 109.2 L525.1 109.2 L526.5 109.2 L528.0 109.2 L529.4 109.2 L530.8 109.2 L532.2 109.2 L533.7 109.2 L535.1 109.2 L536.5 109.2 L537.9 109.2 L539.4 109.2 L540.8 109.2 L542.2 109.2 L543.6 109.2 L545.1 109.2 L546.5 109.2" fill="none" stroke="#000" stroke-width="3.0" stroke-linejoin="round"/>
<path d="M50.5 244.2 L51.9 244.2 L53.3 244.2 L54.7 244.2 L56.1 244.2 L57.5 244.2 L58.9 244.2 L60.3 244.2 L61.7 244.2 L63.1 244.2 L64.5 244.2 L65.9 244.2 L67.3 244.2 L68.7 244.2 L70.1 244.2 L71.5 244.2 L72.9 244.2 L74.3 244.2 L75.7 244.2 L77.1 244.2 L78.5 244.2 L78.2 242.8 L78.9 241.4 L78.5 239.9 L78.3 238.5 L78.6 237.1 L78.5 235.6 L78.9 234.2 L78.9 232.8 L78.7 231.4 L78.6 229.9 L78.8 228.5 L79.3 227.1 L79.0 225.7 L79.1 224.2 L78.9 222.8 L78.7 221.4 L78.8 220.0 L79.3 218.5 L79.1 217.1 L78.9 215.7 L78.7 214.2 L79.2 212.8 L79.1 211.4 L79.2 210.0 L79.2 208.6 L79.4 207.1 L79.5 205.7 L79.7 204.3 L79.7 202.9 L79.8 201.4 L79.5 200.0 L79.8 198.6 L79.5 197.1 L79.6 195.7 L79.8 194.3 L79.7 192.9 L79.9 191.4 L80.2 190.0 L79.7 188.6 L79.4 187.1 L80.3 185.7 L80.0 184.3 L80.3 182.9 L79.7 181.4 L80.7 180.0 L80.4 178.6 L80.2 177.1 L80.2 175.7 L80.4 174.3 L80.4 172.9 L80.4 171.4 L80.5 170.0 L80.3 168.5 L81.0 167.1 L80.8 165.6 L80.9 164.1 L81.0 162.7 L80.4 161.2 L81.3 159.7 L81.1 158.3 L81.3 156.8 L81.8 158.1 L82.2 159.5 L82.9 160.8 L82.9 162.3 L83.7 163.6 L84.0 165.0 L84.6 166.4 L85.0 167.8 L85.1 169.4 L85.3 170.9 L86.1 172.2 L86.7 173.6 L86.4 175.3 L87.3 176.6 L87.1 178.2 L87.8 179.5 L88.2 181.0 L88.7 182.3 L89.0 183.7 L89.0 185.2 L89.1 186.6 L89.7 187.9 L89.7 189.4 L89.7 190.8 L90.6 192.1 L91.1 193.4 L91.4 194.8 L91.8 196.2 L91.9 197.6 L92.0 199.0 L92.5 200.3 L93.1 201.7 L92.9 203.2 L94.1 204.4 L94.1 205.9 L93.5 207.5 L94.1 208.8 L94.6 210.2 L95.0 211.5 L95.0 213.0 L95.8 214.3 L96.1 215.7 L96.7 217.1 L97.5 218.4 L97.7 219.9 L98.4 221.2 L98.8 222.6 L99.3 224.0 L99.6 225.5 L100.1 226.9 L100.3 228.4 L101.0 229.7 L102.1 230.8 L102.6 232.2 L102.9 233.8 L104.1 234.8 L104.7 236.3 L105.5 237.5 L106.2 238.8 L107.3 239.9 L108.5 241.1 L110.1 241.8 L111.2 243.1 L112.5 244.2 L113.9 244.2 L115.3 244.2 L116.7 244.2 L118.1 244.2 L119.6 244.2 L121.0 244.2 L122.4 244.2 L123.8 244.2 L125.2 244.2 L126.6 244.2 L128.0 244.2 L129.4 244.2 L130.8 244.2 L132.2 244.2 L133.7 244.2 L135.1 244.2 L136.5 244.2 L137.9 244.2 L139.3 244.2 L140.7 244.2 L142.1 244.2 L143.5 244.2 L144.9 244.2 L146.4 244.2 L147.8 244.2 L149.2 244.2 L150.6 244.2 L152.0 244.2" fill="none" stroke="#000" stroke-width="2.4" stroke-dasharray="4 2.5"/>
<path d="M50.5 244.2 L51.9 244.2 L53.3 244.2 L54.7 244.2 L56.2 244.2 L57.6 244.2 L59.0 244.2 L60.4 244.2 L61.8 244.2 L63.2 244.2 L64.7 244.2 L66.1 244.2 L67.5 244.2 L68.9 244.2 L70.3 244.2 L71.7 244.2 L73.2 244.2 L74.6 244.2 L76.0 244.2 L77.4 244.2 L77.3 242.8 L77.1 241.3 L77.4 239.9 L77.3 238.5 L77.2 237.1 L77.8 235.6 L77.7 234.2 L77.6 232.8 L77.6 231.4 L77.8 229.9 L77.9 228.5 L77.9 227.1 L78.1 225.7 L78.0 224.2 L78.3 222.8 L78.4 221.4 L78.4 220.0 L78.1 218.5 L78.2 217.1 L78.6 215.7 L78.4 214.3 L78.5 212.8 L77.9 211.4 L77.9 210.0 L78.8 208.6 L78.8 207.1 L79.2 205.7 L79.0 204.3 L79.0 202.9 L79.0 201.4 L79.0 200.0 L78.7 198.5 L79.4 197.1 L79.1 195.6 L79.5 194.1 L79.5 192.6 L79.6 191.2 L79.8 189.7 L79.5 188.2 L79.6 186.7 L79.6 185.3 L79.8 183.8 L80.5 182.4 L80.0 180.9 L80.5 179.4 L80.5 177.9 L80.5 176.5 L80.6 175.0 L80.5 173.5 L80.5 171.9 L81.2 170.5 L81.8 169.1 L81.5 167.5 L82.0 166.0 L82.6 164.7 L83.0 163.3 L83.8 162.1 L84.3 160.7 L85.1 162.0 L85.0 163.7 L86.0 165.0 L86.8 166.5 L87.9 167.9 L88.2 169.6 L88.1 171.1 L88.6 172.5 L89.1 173.8 L89.4 175.2 L90.0 176.6 L90.3 178.0 L90.4 179.4 L90.7 180.9 L91.1 182.3 L91.6 183.6 L92.0 185.0 L92.8 186.4 L93.3 187.9 L93.6 189.4 L94.2 190.9 L95.3 192.1 L95.9 193.6 L96.1 195.2 L97.1 196.5 L97.6 197.9 L98.2 199.1 L99.3 200.2 L99.7 201.6 L100.4 202.8 L100.9 204.2 L102.0 205.2 L102.2 206.7 L102.4 208.3 L103.2 209.8 L103.6 211.3 L104.6 212.7 L104.8 214.3 L105.6 212.6 L106.5 211.0 L108.6 210.5 L108.6 212.0 L109.8 213.2 L109.7 214.8 L110.0 216.2 L110.7 217.5 L110.7 219.0 L111.4 220.3 L111.4 221.9 L112.0 223.2 L112.5 224.6 L112.7 226.0 L112.5 227.5 L113.1 228.9 L113.3 230.3 L114.2 231.6 L114.3 233.0 L114.2 234.5 L114.5 235.9 L115.0 237.3 L115.8 238.7 L116.3 240.2 L117.5 241.3 L118.0 242.8 L118.8 244.2 L120.2 244.2 L121.7 244.2 L123.1 244.2 L124.6 244.2 L126.0 244.2 L127.5 244.2 L128.9 244.2 L130.3 244.2 L131.8 244.2 L133.2 244.2 L134.7 244.2 L136.1 244.2 L137.6 244.2 L139.0 244.2 L140.5 244.2 L141.9 244.2 L143.3 244.2 L144.8 244.2 L146.2 244.2 L147.7 244.2 L149.1 244.2 L150.6 244.2 L152.0 244.2" fill="none" stroke="#000" stroke-width="3.0" stroke-linejoin="round"/>
<path d="M380.0 244.0 L381.4 244.0 L382.8 244.0 L384.2 244.0 L385.6 244.0 L387.0 244.0 L388.4 244.0 L389.8 244.0 L391.2 244.0 L392.7 244.0 L394.1 244.0 L395.5 244.0 L396.9 244.0 L398.3 244.0 L399.7 244.0 L401.1 244.0 L402.5 244.0 L402.2 242.6 L402.6 241.2 L402.4 239.7 L402.4 238.3 L402.6 236.9 L403.2 235.5 L402.4 234.0 L402.5 232.6 L403.0 231.2 L402.6 229.8 L403.3 228.4 L402.9 226.9 L402.9 225.5 L403.0 224.1 L403.4 222.7 L403.1 221.3 L403.1 219.8 L403.0 218.4 L402.6 217.0 L402.8 215.6 L403.5 214.2 L403.3 212.7 L403.2 211.3 L403.3 209.9 L403.0 208.5 L403.3 207.1 L403.0 205.6 L403.3 204.2 L403.1 202.8 L403.2 201.4 L403.4 199.9 L403.3 198.5 L403.5 197.1 L403.5 195.7 L403.5 194.3 L403.8 192.8 L403.1 191.4 L403.5 190.0 L403.1 188.6 L403.7 187.2 L403.9 185.8 L404.2 184.4 L403.9 183.0 L403.9 181.5 L403.5 180.1 L404.0 178.7 L404.0 177.3 L403.5 175.9 L403.6 174.5 L403.8 173.1 L404.0 171.7 L403.1 170.2 L404.0 168.8 L404.1 167.4 L404.0 166.0 L404.1 164.6 L404.1 163.2 L404.7 161.8 L404.7 160.2 L405.5 158.8 L405.8 157.2 L406.0 155.7 L406.7 154.3 L407.5 155.8 L408.0 157.4 L409.5 158.4 L410.0 160.0 L410.8 161.3 L411.2 162.8 L410.6 164.5 L411.6 165.8 L412.0 167.3 L412.6 168.7 L413.0 170.1 L413.7 171.5 L413.5 173.1 L413.8 174.6 L414.3 176.0 L415.1 177.3 L415.2 178.8 L415.4 180.2 L415.5 181.7 L415.7 183.1 L415.7 184.6 L415.9 186.0 L416.3 187.4 L416.5 188.9 L417.5 190.2 L417.6 191.6 L417.5 193.1 L418.0 194.5 L418.3 195.9 L419.2 197.2 L419.4 198.7 L419.0 200.2 L419.5 201.6 L419.6 203.0 L420.0 204.4 L420.3 205.8 L420.9 207.1 L420.6 208.6 L420.6 210.0 L420.7 211.4 L421.3 212.7 L421.6 214.1 L422.1 215.5 L421.7 217.0 L421.8 218.4 L422.7 219.7 L422.7 221.1 L423.0 222.5 L423.4 223.8 L424.1 225.1 L423.8 226.6 L423.7 228.1 L424.5 229.4 L424.6 230.8 L424.6 232.2 L426.0 233.4 L425.2 235.3 L425.9 236.7 L426.5 238.1 L427.0 239.6 L427.6 241.0 L427.9 242.5 L428.4 244.0 L429.8 244.0 L431.2 244.0 L432.6 244.0 L434.0 244.0 L435.5 244.0 L436.9 244.0 L438.3 244.0 L439.7 244.0 L441.1 244.0 L442.5 244.0 L443.9 244.0 L445.3 244.0 L446.7 244.0 L448.1 244.0 L449.6 244.0 L451.0 244.0 L452.4 244.0 L453.8 244.0 L455.2 244.0 L456.6 244.0 L458.0 244.0 L459.4 244.0 L460.8 244.0 L462.3 244.0 L463.7 244.0 L465.1 244.0 L466.5 244.0 L467.9 244.0 L469.3 244.0 L470.7 244.0 L472.1 244.0 L473.5 244.0 L474.9 244.0 L476.4 244.0 L477.8 244.0 L479.2 244.0 L480.6 244.0 L482.0 244.0" fill="none" stroke="#000" stroke-width="2.4" stroke-dasharray="4 2.5"/>
<path d="M380.0 244.0 L381.4 244.0 L382.9 244.0 L384.3 244.0 L385.8 244.0 L387.2 244.0 L388.6 244.0 L390.1 244.0 L391.5 244.0 L393.0 244.0 L394.4 244.0 L395.8 244.0 L397.3 244.0 L398.7 244.0 L400.2 244.0 L401.6 244.0 L401.6 242.6 L401.6 241.1 L401.8 239.7 L401.9 238.3 L402.3 236.9 L401.5 235.4 L402.1 234.0 L401.9 232.6 L401.8 231.1 L401.5 229.7 L402.4 228.3 L402.0 226.8 L402.1 225.4 L402.5 224.0 L402.1 222.5 L402.5 221.1 L402.5 219.7 L402.8 218.3 L403.0 216.8 L402.5 215.4 L403.0 214.0 L402.8 212.5 L402.9 211.1 L402.9 209.7 L403.2 208.3 L402.7 206.8 L403.2 205.4 L403.5 204.0 L403.2 202.5 L403.9 201.1 L403.2 199.7 L403.5 198.3 L403.3 196.8 L403.4 195.4 L403.3 194.0 L403.5 192.5 L403.7 191.1 L403.5 189.7 L404.1 188.3 L404.3 186.8 L403.5 185.4 L404.2 184.0 L404.1 182.5 L404.1 181.1 L404.6 179.6 L405.6 178.3 L405.7 176.7 L405.9 175.2 L406.3 173.7 L406.7 172.2 L406.4 170.7 L407.4 169.4 L407.2 167.9 L407.7 166.6 L408.0 165.2 L408.5 163.8 L409.0 162.4 L409.0 161.0 L409.3 159.6 L409.2 158.1 L409.6 156.4 L410.2 154.7 L410.5 153.0 L411.6 151.8 L412.3 150.4 L413.1 151.7 L412.6 153.4 L413.8 154.5 L414.0 156.0 L414.9 157.5 L414.6 159.3 L415.6 160.7 L416.6 159.5 L416.4 157.8 L416.9 156.4 L417.5 155.0 L417.0 156.6 L418.1 157.7 L419.0 159.0 L419.0 160.4 L418.6 162.0 L419.5 163.2 L419.5 164.6 L419.7 166.0 L419.8 167.5 L420.2 168.8 L420.7 170.2 L421.3 171.5 L421.0 173.0 L421.6 174.3 L421.6 175.8 L421.3 177.3 L422.0 178.6 L422.0 180.1 L422.3 181.5 L422.5 182.9 L422.4 184.4 L422.6 185.8 L423.3 187.2 L423.1 188.7 L422.8 190.2 L423.3 191.6 L423.8 193.0 L424.0 194.4 L424.5 195.8 L424.3 197.3 L423.8 198.8 L424.5 200.2 L424.6 201.6 L425.0 203.0 L425.1 204.5 L425.1 205.9 L425.3 207.3 L425.5 208.8 L425.8 210.2 L425.5 211.7 L425.4 213.1 L426.2 214.5 L426.3 216.0 L426.0 217.4 L426.9 218.8 L426.8 220.3 L426.9 221.7 L426.9 223.2 L427.1 224.6 L427.5 226.0 L428.0 227.3 L428.1 228.8 L428.8 230.1 L429.3 231.4 L429.8 232.8 L429.4 234.4 L430.4 235.6 L430.2 237.1 L430.5 238.6 L431.0 239.9 L432.1 241.4 L433.6 242.6 L434.8 244.0 L436.2 244.0 L437.7 244.0 L439.1 244.0 L440.5 244.0 L442.0 244.0 L443.4 244.0 L444.8 244.0 L446.2 244.0 L447.7 244.0 L449.1 244.0 L450.5 244.0 L452.0 244.0 L453.4 244.0 L454.8 244.0 L456.3 244.0 L457.7 244.0 L459.1 244.0 L460.5 244.0 L462.0 244.0 L463.4 244.0 L464.8 244.0 L466.3 244.0 L467.7 244.0 L469.1 244.0 L470.6 244.0 L472.0 244.0 L473.4 244.0 L474.8 244.0 L476.3 244.0 L477.7 244.0 L479.1 244.0 L480.6 244.0 L482.0 244.0" fill="none" stroke="#000" stroke-width="3.0" stroke-linejoin="round"/>
<path d="M61.5 388.0 L61.4 386.6 L61.7 385.2 L61.6 383.8 L61.4 382.4 L62.2 381.0 L61.7 379.5 L62.5 378.2 L62.2 376.7 L62.0 375.3 L62.4 373.9 L62.7 372.5 L62.0 371.1 L62.2 369.7 L62.2 368.3 L62.7 366.9 L62.8 365.5 L62.8 364.1 L62.6 362.7 L62.8 361.3 L63.3 359.9 L63.4 358.5 L63.2 357.0 L62.8 355.6 L63.5 354.2 L63.4 352.8 L63.5 351.4 L63.5 350.0 L64.1 348.6 L63.9 347.2 L63.5 345.7 L63.6 344.3 L64.4 342.9 L64.1 341.4 L64.4 340.0 L64.2 338.6 L64.1 337.1 L64.5 335.7 L65.0 334.3 L64.8 332.9 L64.4 331.4 L64.8 330.0 L64.8 328.6 L65.1 327.1 L65.4 325.7 L65.8 324.3 L65.4 322.9 L65.3 321.4 L65.5 320.0 L65.9 318.4 L66.3 316.7 L66.5 315.0 L67.0 313.4 L67.1 314.9 L67.3 316.3 L67.7 317.8 L67.4 319.3 L67.8 320.7 L68.1 322.2 L67.8 323.7 L68.3 325.1 L67.8 326.6 L68.3 328.1 L68.5 329.5 L68.9 331.0 L68.9 332.4 L69.0 333.9 L68.9 335.4 L69.5 336.8 L69.3 338.3 L70.2 339.6 L69.7 341.1 L69.7 342.6 L70.0 344.0 L70.3 345.5 L70.2 346.9 L70.9 348.3 L71.1 349.7 L70.9 351.2 L70.8 352.7 L71.2 354.1 L71.5 355.5 L71.5 357.0 L71.7 358.5 L72.3 359.8 L72.9 361.2 L72.6 362.7 L72.9 364.2 L72.8 365.6 L72.8 367.1 L73.7 368.2 L74.3 369.6 L74.6 371.0 L75.3 372.2 L76.0 373.5 L76.2 375.0 L77.4 376.0 L78.0 377.3 L78.2 378.8 L79.2 379.9 L80.6 380.5 L82.0 381.1 L82.9 382.6 L84.3 383.2 L85.5 384.1 L86.8 384.9 L88.1 385.7 L89.5 386.3 L90.9 386.6 L92.2 387.2 L93.7 387.3 L95.0 388.0" fill="none" stroke="#3a3a3a" stroke-width="2.8" stroke-dasharray="1.1 0.9"/>
<path d="M33.0 388.0 L34.4 388.0 L35.8 388.0 L37.3 388.0 L38.7 388.0 L40.1 388.0 L41.5 388.0 L42.9 388.0 L44.4 388.0 L45.8 388.0 L47.2 388.0 L48.6 388.0 L50.1 388.0 L51.5 388.0 L52.9 388.0 L54.3 388.0 L55.7 388.0 L57.2 388.0 L58.6 388.0 L60.0 388.0 L60.1 386.6 L60.2 385.1 L60.0 383.7 L60.4 382.3 L61.0 380.9 L59.9 379.4 L60.5 378.0 L60.6 376.5 L60.6 375.1 L60.1 373.7 L60.7 372.2 L60.6 370.8 L60.4 369.4 L60.4 367.9 L60.6 366.5 L60.8 365.1 L60.9 363.6 L61.3 362.2 L60.6 360.8 L60.9 359.3 L60.6 357.9 L61.0 356.5 L60.8 355.0 L60.7 353.6 L60.5 352.2 L60.7 350.7 L61.0 349.3 L61.4 347.9 L61.2 346.4 L61.0 345.0 L60.8 343.5 L61.0 342.1 L61.2 340.7 L61.2 339.2 L61.3 337.8 L61.6 336.3 L61.5 334.9 L61.3 333.4 L61.0 331.9 L61.5 330.5 L61.2 329.0 L61.6 327.6 L61.8 326.2 L61.4 324.7 L61.8 323.2 L61.8 321.8 L62.5 320.4 L62.1 318.9 L61.5 317.4 L62.1 316.0 L62.7 314.6 L63.1 313.1 L63.4 311.6 L63.8 310.1 L64.5 308.8 L64.9 307.3 L65.2 305.8 L66.0 304.6 L66.3 303.1 L67.2 302.0 L67.9 303.5 L68.8 304.8 L69.3 306.3 L69.5 308.0 L70.4 309.3 L71.2 310.7 L71.6 312.2 L72.2 313.6 L71.8 315.3 L72.7 316.7 L73.5 318.1 L74.3 319.4 L74.1 321.1 L74.9 322.5 L75.6 323.9 L76.4 325.2 L76.2 327.0 L77.0 328.3 L77.4 329.9 L78.0 331.3 L77.8 333.1 L79.0 334.3 L79.6 335.7 L80.1 337.2 L80.8 338.6 L81.5 340.0 L81.8 341.6 L82.4 343.0 L82.6 344.6 L83.5 345.9 L84.4 347.3 L84.9 348.8 L85.4 350.2 L85.6 351.8 L86.3 353.1 L86.8 354.4 L87.5 355.7 L88.2 356.9 L89.3 355.8 L89.8 354.3 L90.8 353.2 L91.5 351.8 L91.7 353.2 L91.9 354.6 L93.0 355.9 L92.4 357.5 L93.5 358.7 L93.7 360.1 L93.5 361.6 L94.1 363.0 L93.8 364.5 L94.6 365.8 L95.2 367.1 L96.1 368.3 L96.4 369.7 L97.1 371.0 L97.5 372.4 L97.3 374.0 L97.6 375.4 L98.2 376.8 L98.8 378.2 L99.0 379.6 L99.1 381.1 L99.7 382.5 L100.5 383.8 L101.2 385.2 L101.4 386.7 L102.2 388.0 L103.6 388.0 L105.1 388.0 L106.5 388.0 L107.9 388.0 L109.3 388.0 L110.8 388.0 L112.2 388.0 L113.6 388.0 L115.0 388.0 L116.5 388.0 L117.9 388.0 L119.3 388.0 L120.7 388.0 L122.2 388.0 L123.6 388.0 L125.0 388.0 L126.4 388.0 L127.9 388.0 L129.3 388.0 L130.7 388.0 L132.1 388.0 L133.6 388.0 L135.0 388.0" fill="none" stroke="#000" stroke-width="3.5" stroke-linejoin="round"/>
<path d="M407.0 388.0 L407.2 386.6 L407.0 385.2 L407.0 383.8 L406.5 382.3 L407.5 380.9 L407.1 379.5 L406.8 378.1 L406.9 376.7 L407.0 375.3 L407.7 373.9 L407.5 372.4 L406.9 371.0 L407.8 369.6 L407.7 368.2 L407.1 366.8 L406.6 365.4 L407.7 364.0 L407.3 362.5 L407.4 361.1 L407.3 359.7 L407.9 358.3 L408.0 356.9 L407.8 355.5 L407.5 354.0 L407.7 352.6 L407.8 351.2 L407.2 349.8 L408.0 348.4 L407.6 347.0 L407.8 345.6 L407.8 344.1 L408.0 342.7 L408.1 341.3 L408.4 339.9 L407.8 338.5 L407.6 337.1 L407.9 335.7 L407.7 334.2 L408.2 332.8 L407.8 331.4 L408.0 330.0 L408.1 328.6 L408.4 327.1 L408.5 325.7 L408.4 324.2 L408.8 322.8 L408.8 321.3 L408.1 319.8 L408.7 318.4 L408.8 317.0 L408.7 315.5 L408.7 314.1 L409.0 312.6 L409.2 311.2 L409.2 309.8 L409.2 308.3 L410.4 307.5 L411.3 306.3 L412.0 305.0 L412.8 306.6 L413.5 308.3 L414.0 310.0 L414.2 311.5 L415.0 312.8 L415.2 314.4 L415.6 315.8 L415.8 317.3 L416.4 318.7 L416.6 320.2 L417.5 321.5 L417.6 323.1 L418.4 324.4 L418.6 325.9 L419.0 327.4 L419.5 328.8 L420.2 330.1 L421.2 331.3 L420.8 333.0 L421.4 334.3 L422.0 335.6 L422.7 336.9 L423.1 338.3 L423.4 339.7 L424.0 341.0 L424.3 342.5 L425.0 343.8 L425.8 345.0 L425.9 346.5 L426.7 347.8 L427.1 349.2 L427.5 350.6 L428.6 351.8 L428.7 353.3 L428.9 354.8 L429.7 356.0 L430.1 357.5 L430.4 358.9 L431.0 360.2 L431.1 361.8 L432.1 362.9 L432.6 364.3 L433.0 365.7 L433.5 367.1 L434.6 368.3 L435.1 369.7 L435.1 371.4 L435.9 372.7 L436.0 374.3 L437.0 375.5 L437.6 376.9 L437.9 378.4 L438.7 379.7 L438.9 381.3 L439.9 382.5 L441.2 383.7 L441.8 385.3 L442.8 386.7 L444.0 388.0" fill="none" stroke="#3a3a3a" stroke-width="3.0" stroke-dasharray="1.1 0.9"/>
<path d="M379.0 388.0 L380.4 388.0 L381.9 388.0 L383.3 388.0 L384.7 388.0 L386.2 388.0 L387.6 388.0 L389.0 388.0 L390.5 388.0 L391.9 388.0 L393.3 388.0 L394.7 388.0 L396.2 388.0 L397.6 388.0 L399.0 388.0 L400.5 388.0 L401.9 388.0 L403.3 388.0 L404.8 388.0 L406.2 388.0 L406.4 386.6 L406.6 385.2 L406.6 383.8 L406.3 382.4 L406.2 380.9 L406.6 379.5 L406.4 378.1 L406.7 376.7 L406.8 375.3 L406.5 373.9 L406.2 372.5 L406.4 371.1 L406.7 369.7 L406.5 368.2 L406.9 366.8 L406.6 365.4 L406.7 364.0 L406.5 362.6 L406.6 361.2 L407.0 359.8 L406.6 358.4 L406.6 356.9 L406.5 355.5 L407.0 354.1 L406.4 352.7 L406.7 351.3 L407.1 349.9 L407.3 348.5 L406.8 347.1 L407.2 345.7 L406.4 344.2 L407.2 342.8 L407.1 341.4 L407.0 340.0 L406.7 338.5 L406.6 337.1 L407.0 335.6 L407.3 334.2 L407.4 332.7 L407.4 331.2 L407.6 329.8 L407.6 328.3 L407.1 326.8 L407.4 325.4 L407.5 323.9 L407.9 322.5 L407.6 321.0 L408.0 319.5 L407.8 318.1 L408.5 316.6 L407.9 315.1 L408.0 313.7 L408.0 312.2 L409.2 311.5 L410.5 310.9 L410.9 309.5 L411.9 308.2 L411.4 306.5 L411.7 305.0 L412.2 303.6 L412.8 302.2 L413.0 300.7 L413.6 302.0 L413.5 303.5 L413.8 304.9 L414.4 306.3 L414.8 307.6 L415.3 309.0 L415.5 310.4 L416.0 311.8 L415.8 313.3 L416.1 314.7 L416.9 316.0 L417.4 317.4 L417.8 318.8 L418.8 320.0 L418.9 321.5 L419.1 323.0 L419.6 324.4 L420.1 325.8 L420.4 327.2 L421.0 328.5 L421.6 329.9 L422.0 331.3 L422.2 332.8 L423.7 333.6 L424.2 335.0 L424.7 336.4 L425.4 337.7 L426.0 338.9 L426.5 340.3 L427.1 341.6 L427.8 342.9 L428.2 344.4 L428.6 345.9 L429.4 347.2 L429.9 348.7 L430.7 350.0 L431.4 351.4 L431.7 352.9 L432.2 354.3 L433.6 353.7 L434.9 352.7 L436.1 351.8 L436.2 353.3 L436.5 354.8 L436.9 356.2 L437.7 357.6 L437.5 359.2 L438.0 360.6 L438.6 362.0 L438.9 363.6 L440.0 364.6 L440.9 365.9 L441.7 367.1 L442.5 368.4 L442.8 369.8 L443.6 371.2 L443.5 372.7 L443.8 374.1 L443.8 375.6 L444.6 377.0 L444.6 378.5 L445.0 379.9 L445.2 381.5 L446.4 382.5 L446.7 384.1 L447.7 385.2 L448.3 386.6 L448.9 388.0 L450.3 388.0 L451.8 388.0 L453.2 388.0 L454.7 388.0 L456.1 388.0 L457.5 388.0 L459.0 388.0 L460.4 388.0 L461.9 388.0 L463.3 388.0 L464.7 388.0 L466.2 388.0 L467.6 388.0 L469.0 388.0 L470.5 388.0 L471.9 388.0 L473.4 388.0 L474.8 388.0 L476.2 388.0 L477.7 388.0 L479.1 388.0 L480.6 388.0 L482.0 388.0" fill="none" stroke="#000" stroke-width="3.5" stroke-linejoin="round"/>
<path d="M51.6 529.2 L51.8 527.8 L51.9 526.4 L51.6 525.0 L51.5 523.6 L52.3 522.2 L52.0 520.8 L52.2 519.4 L52.3 518.0 L52.3 516.6 L52.0 515.2 L52.1 513.8 L51.8 512.4 L52.3 511.0 L52.2 509.6 L52.3 508.2 L52.9 506.8 L52.6 505.4 L52.5 504.0 L52.2 502.6 L52.8 501.2 L53.1 499.8 L52.5 498.4 L52.9 497.0 L52.7 495.6 L52.8 494.2 L52.8 492.8 L52.5 491.4 L53.0 490.0 L52.9 488.6 L52.7 487.2 L53.6 485.8 L53.5 484.4 L53.3 483.0 L53.4 481.5 L53.4 480.1 L53.5 478.7 L53.6 477.3 L53.5 475.9 L53.6 474.5 L53.3 473.1 L53.5 471.7 L53.6 470.3 L53.9 468.9 L53.8 467.4 L54.5 466.1 L54.0 464.6 L54.0 463.2 L54.3 461.8 L54.2 460.4 L54.8 459.1 L55.3 457.7 L55.3 456.3 L55.2 454.8 L55.5 453.4 L56.2 452.1 L56.2 450.6 L56.6 449.2 L56.7 447.8 L57.5 449.1 L58.0 450.6 L59.2 451.6 L59.7 453.1 L60.6 454.3 L61.7 455.4 L62.3 456.7 L63.4 457.7 L63.9 459.0 L64.1 460.4 L64.7 461.7 L65.5 462.9 L66.6 464.1 L66.3 465.6 L66.2 467.1 L66.6 468.5 L67.4 469.7 L67.4 471.2 L67.9 472.5 L68.3 473.9 L68.3 475.3 L68.6 476.7 L69.3 478.0 L69.6 479.4 L69.9 480.8 L70.1 482.2 L70.3 483.6 L69.7 485.1 L69.7 486.6 L70.3 487.9 L70.3 489.4 L70.9 490.7 L70.9 492.2 L70.8 493.6 L71.1 495.0 L71.3 496.4 L71.9 497.8 L72.0 499.2 L71.8 500.7 L72.1 502.1 L72.3 503.6 L72.3 505.0 L72.7 506.5 L72.7 507.9 L72.8 509.4 L72.9 510.8 L73.2 512.2 L73.5 513.7 L73.7 515.1 L73.5 516.6 L74.0 518.0 L74.4 519.4 L74.3 520.9 L75.0 522.2 L75.0 523.7 L75.4 525.1 L75.6 526.5 L76.5 527.8 L76.8 529.2" fill="none" stroke="#3a3a3a" stroke-width="3.0" stroke-dasharray="1.1 0.9"/>
<path d="M30.2 529.2 L31.6 529.2 L33.1 529.2 L34.5 529.2 L36.0 529.2 L37.4 529.2 L38.9 529.2 L40.3 529.2 L41.7 529.2 L43.2 529.2 L44.6 529.2 L46.1 529.2 L47.5 529.2 L49.0 529.2 L50.4 529.2 L50.9 527.8 L50.6 526.3 L50.8 524.8 L50.9 523.3 L51.3 521.9 L51.6 520.4 L51.5 518.9 L51.5 517.4 L51.4 515.9 L52.0 514.5 L52.0 513.0 L52.2 511.6 L52.3 510.1 L52.4 508.6 L52.6 507.2 L52.9 505.7 L53.2 504.3 L53.5 502.9 L53.4 501.4 L53.7 500.0 L53.7 498.5 L53.9 497.1 L53.8 495.6 L54.6 494.2 L54.7 492.8 L55.1 491.4 L54.7 489.9 L55.1 488.5 L55.0 487.0 L55.4 485.6 L56.7 484.4 L58.0 483.1 L58.2 481.7 L58.7 480.4 L58.7 478.9 L59.2 477.6 L59.1 476.1 L59.7 474.8 L59.7 473.4 L59.9 472.0 L60.3 470.6 L60.5 469.2 L61.4 467.6 L61.8 465.7 L63.0 464.2 L63.6 465.5 L63.4 467.0 L63.8 468.3 L64.5 469.6 L64.7 471.0 L64.7 472.4 L64.7 473.9 L64.9 475.3 L65.0 476.7 L65.5 478.0 L66.2 476.7 L66.8 475.3 L66.2 473.6 L66.9 472.3 L67.6 470.9 L67.3 469.3 L68.0 468.0 L69.1 467.0 L70.5 466.7 L70.6 468.2 L70.6 469.6 L70.8 471.1 L71.8 472.5 L71.8 473.9 L71.7 475.4 L72.0 476.9 L72.0 478.3 L72.3 479.8 L72.0 481.3 L72.7 482.7 L72.8 484.2 L73.1 485.6 L73.3 487.1 L73.3 488.7 L74.1 490.1 L74.0 491.7 L74.5 493.1 L75.0 494.6 L74.5 496.2 L75.0 497.7 L75.0 499.3 L75.6 500.7 L75.8 502.2 L75.9 503.8 L76.3 505.2 L76.4 506.8 L76.9 508.2 L76.6 509.8 L77.6 511.2 L77.1 512.9 L77.9 514.3 L78.1 515.8 L78.2 517.3 L78.8 518.7 L79.0 520.2 L79.1 521.7 L79.8 523.0 L80.5 524.4 L80.6 525.9 L81.8 527.6 L83.1 529.2 L84.5 529.2 L86.0 529.2 L87.4 529.2 L88.9 529.2 L90.3 529.2 L91.7 529.2 L93.2 529.2 L94.6 529.2 L96.0 529.2 L97.5 529.2 L98.9 529.2 L100.4 529.2 L101.8 529.2 L103.2 529.2 L104.7 529.2 L106.1 529.2 L107.5 529.2 L109.0 529.2 L110.4 529.2 L111.9 529.2 L113.3 529.2 L114.7 529.2 L116.2 529.2 L117.6 529.2 L119.1 529.2 L120.5 529.2 L121.9 529.2 L123.4 529.2 L124.8 529.2 L126.2 529.2 L127.7 529.2 L129.1 529.2 L130.6 529.2 L132.0 529.2" fill="none" stroke="#000" stroke-width="3.5" stroke-linejoin="round"/>
<path d="M399.5 527.9 L399.7 526.5 L398.9 525.1 L399.9 523.7 L399.9 522.3 L399.2 520.8 L399.7 519.4 L400.0 518.0 L399.5 516.6 L399.7 515.2 L399.8 513.8 L400.0 512.4 L400.2 511.0 L399.9 509.6 L400.0 508.2 L400.3 506.8 L400.2 505.3 L400.1 503.9 L400.5 502.5 L399.8 501.1 L400.2 499.7 L400.1 498.3 L400.1 496.9 L400.3 495.5 L400.3 494.1 L401.0 492.7 L400.6 491.2 L400.5 489.8 L400.9 488.4 L400.8 487.0 L400.5 485.6 L400.2 484.1 L401.0 482.7 L401.4 481.2 L401.2 479.7 L401.7 478.3 L401.7 476.8 L402.1 475.4 L401.8 473.8 L401.9 472.3 L402.5 470.9 L403.0 469.5 L403.1 468.0 L404.2 466.9 L404.7 465.4 L405.6 464.2 L405.8 462.7 L406.6 461.4 L406.7 459.9 L407.5 458.6 L407.4 457.0 L407.2 455.4 L408.1 454.1 L408.3 452.5 L408.7 451.0 L408.9 449.4 L409.5 448.0 L410.1 446.5 L410.7 448.0 L411.1 449.6 L411.6 451.2 L411.9 452.8 L411.9 454.2 L412.1 455.7 L412.3 457.1 L412.5 458.5 L413.2 459.8 L413.3 461.3 L413.2 462.7 L413.1 464.2 L413.7 465.5 L413.6 467.0 L413.5 468.4 L413.2 469.9 L413.9 471.3 L414.2 472.6 L413.9 474.1 L414.4 475.5 L414.5 476.9 L414.8 478.3 L414.6 479.8 L415.3 481.1 L415.1 482.6 L415.3 484.0 L415.2 485.5 L416.0 486.8 L416.2 488.2 L416.1 489.7 L416.2 491.1 L416.3 492.5 L416.5 493.9 L416.5 495.4 L416.6 496.8 L416.9 498.2 L417.1 499.6 L417.7 501.0 L417.4 502.6 L418.4 503.9 L418.3 505.4 L418.3 506.9 L419.0 508.2 L418.7 509.8 L418.8 511.2 L419.2 512.6 L419.8 514.0 L419.9 515.5 L420.6 516.8 L420.7 518.3 L421.1 519.7 L421.7 521.1 L422.3 522.4 L422.8 523.8 L423.5 525.1 L424.5 526.3 L424.5 527.9" fill="none" stroke="#3a3a3a" stroke-width="3.0" stroke-dasharray="1.1 0.9"/>
<path d="M377.0 527.9 L378.4 527.9 L379.9 527.9 L381.3 527.9 L382.7 527.9 L384.2 527.9 L385.6 527.9 L387.0 527.9 L388.5 527.9 L389.9 527.9 L391.3 527.9 L392.8 527.9 L394.2 527.9 L395.6 527.9 L397.1 527.9 L398.5 527.9 L398.7 526.5 L398.8 525.0 L399.3 523.6 L399.0 522.1 L398.9 520.7 L399.2 519.2 L399.3 517.8 L399.2 516.3 L399.1 514.8 L398.9 513.4 L399.4 512.0 L399.9 510.5 L399.1 509.0 L399.4 507.6 L400.0 506.2 L399.9 504.7 L400.0 503.3 L399.5 501.8 L399.9 500.3 L400.3 498.9 L400.4 497.5 L400.4 496.0 L400.2 494.5 L400.5 493.1 L400.8 491.7 L400.5 490.2 L400.8 488.8 L400.9 487.3 L401.8 486.0 L401.5 484.5 L401.8 483.1 L404.3 484.3 L404.7 482.8 L404.5 481.2 L405.8 480.0 L406.1 478.5 L405.9 476.8 L406.8 475.5 L407.3 474.0 L408.9 473.2 L409.4 471.7 L409.6 470.1 L410.9 468.9 L410.8 467.2 L410.7 465.5 L411.9 464.2 L413.4 463.2 L414.4 461.7 L415.7 461.2 L416.9 460.4 L418.0 461.8 L419.4 462.9 L419.7 464.3 L419.9 465.7 L419.7 467.1 L420.4 468.5 L420.9 469.8 L420.4 471.3 L421.0 472.7 L420.7 474.1 L421.2 475.5 L421.5 477.0 L421.7 478.4 L421.8 479.9 L422.5 481.3 L421.7 482.9 L422.4 484.3 L422.4 485.8 L422.1 487.3 L422.7 488.7 L422.6 490.2 L422.9 491.6 L423.2 493.1 L423.2 494.6 L423.5 496.1 L423.5 497.6 L424.1 499.0 L424.1 500.5 L424.7 501.9 L424.3 503.5 L425.5 504.8 L425.0 506.4 L425.2 507.9 L425.4 509.3 L425.7 510.8 L426.0 512.2 L425.9 513.6 L425.9 515.0 L426.9 516.3 L427.5 517.6 L427.6 519.0 L427.7 520.4 L427.8 521.8 L428.1 523.2 L428.3 524.6 L429.3 526.4 L430.8 527.9 L432.2 527.9 L433.7 527.9 L435.1 527.9 L436.5 527.9 L438.0 527.9 L439.4 527.9 L440.8 527.9 L442.3 527.9 L443.7 527.9 L445.1 527.9 L446.6 527.9 L448.0 527.9 L449.4 527.9 L450.9 527.9 L452.3 527.9 L453.7 527.9 L455.1 527.9 L456.6 527.9 L458.0 527.9 L459.4 527.9 L460.9 527.9 L462.3 527.9 L463.7 527.9 L465.2 527.9 L466.6 527.9 L468.0 527.9 L469.5 527.9 L470.9 527.9 L472.3 527.9 L473.8 527.9 L475.2 527.9 L476.6 527.9 L478.1 527.9 L479.5 527.9" fill="none" stroke="#000" stroke-width="3.5" stroke-linejoin="round"/>
<path d="M549.5 14.7 H567.3" stroke="#000" stroke-width="2.8"/>
<path d="M549.5 28 H567.3" stroke="#000" stroke-width="2.8" stroke-dasharray="4.5 2.5"/>
<text x="569.7" y="18.5" font-size="11.5" font-weight="bold" text-anchor="start" fill="#000" stroke="#000" stroke-width="0.3">Tfr</text>
<text x="569.7" y="32" font-size="11.5" font-weight="bold" text-anchor="start" fill="#000" stroke="#000" stroke-width="0.3">Tfh</text>
<path d="M158.2 174 H175.6" stroke="#000" stroke-width="2.8"/>
<path d="M158.2 186.7 H175.6" stroke="#000" stroke-width="2.8" stroke-dasharray="4.5 2.5"/>
<text x="179.4" y="178" font-size="11.5" font-weight="bold" text-anchor="start" fill="#000" stroke="#000" stroke-width="0.3">Tfr</text>
<text x="179.4" y="191.3" font-size="11.5" font-weight="bold" text-anchor="start" fill="#000" stroke="#000" stroke-width="0.3">Tfh</text>
<path d="M492.8 181.1 H510.2" stroke="#000" stroke-width="2.8"/>
<path d="M492.8 193.9 H510.2" stroke="#000" stroke-width="2.8" stroke-dasharray="4.5 2.5"/>
<text x="513.2" y="185" font-size="11.5" font-weight="bold" text-anchor="start" fill="#000" stroke="#000" stroke-width="0.3">Tfr</text>
<text x="513.2" y="198.5" font-size="11.5" font-weight="bold" text-anchor="start" fill="#000" stroke="#000" stroke-width="0.3">Tfh</text>
<path d="M139.7 314.7 H160.2" stroke="#000" stroke-width="3.2"/>
<path d="M140.2 328.8 H160.2" stroke="#111" stroke-width="1.9" stroke-dasharray="2 1.9"/>
<text x="162" y="318.6" font-size="11.8" font-weight="bold" text-anchor="start" fill="#000" stroke="#000" stroke-width="0.3">Uterus Tfr</text>
<text x="162" y="332.6" font-size="11.8" font-weight="bold" text-anchor="start" fill="#000" stroke="#000" stroke-width="0.3">PB Tfr</text>
<path d="M489.6 317.9 H509.9" stroke="#000" stroke-width="3.2"/>
<path d="M490.1 332.9 H509.9" stroke="#111" stroke-width="1.9" stroke-dasharray="2 1.9"/>
<text x="512.3" y="322.4" font-size="11.7" font-weight="bold" text-anchor="start" fill="#000" stroke="#000" stroke-width="0.3">Uterus Tfr</text>
<text x="512.3" y="336.9" font-size="11.7" font-weight="bold" text-anchor="start" fill="#000" stroke="#000" stroke-width="0.3">Spleen Tfr</text>
<path d="M135.5 459 H156.1" stroke="#000" stroke-width="3.2"/>
<path d="M136.0 473.8 H156.1" stroke="#111" stroke-width="1.9" stroke-dasharray="2 1.9"/>
<text x="158.2" y="463.6" font-size="11.7" font-weight="bold" text-anchor="start" fill="#000" stroke="#000" stroke-width="0.3">Uterus Tfr</text>
<text x="158.2" y="478.2" font-size="11.7" font-weight="bold" text-anchor="start" fill="#000" stroke="#000" stroke-width="0.3">Spleen Tfr</text>
<path d="M485.7 463 H506.3" stroke="#000" stroke-width="3.2"/>
<path d="M486.2 476.8 H506.3" stroke="#111" stroke-width="1.9" stroke-dasharray="2 1.9"/>
<text x="508.1" y="467.6" font-size="11.7" font-weight="bold" text-anchor="start" fill="#000" stroke="#000" stroke-width="0.3">Uterus Tfr</text>
<text x="508.1" y="481.4" font-size="11.7" font-weight="bold" text-anchor="start" fill="#000" stroke="#000" stroke-width="0.3">Thymus Tfr</text>
<path d="M640.5 19.7 V108 H684" fill="none" stroke="#333" stroke-width="1.4"/>
<path d="M637.5 108.0 H640.5" stroke="#000" stroke-width="1.2"/>
<text x="638.0" y="111.168" font-size="8.8" font-weight="bold" text-anchor="end" fill="#000" stroke="#000" stroke-width="0.35">0</text>
<path d="M637.5 78.73333333333333 H640.5" stroke="#000" stroke-width="1.2"/>
<text x="638.0" y="81.90133333333334" font-size="8.8" font-weight="bold" text-anchor="end" fill="#000" stroke="#000" stroke-width="0.35">200</text>
<path d="M637.5 49.46666666666667 H640.5" stroke="#000" stroke-width="1.2"/>
<text x="638.0" y="52.63466666666667" font-size="8.8" font-weight="bold" text-anchor="end" fill="#000" stroke="#000" stroke-width="0.35">400</text>
<path d="M637.5 20.200000000000003 H640.5" stroke="#000" stroke-width="1.2"/>
<text x="638.0" y="23.368000000000002" font-size="8.8" font-weight="bold" text-anchor="end" fill="#000" stroke="#000" stroke-width="0.35">600</text>
<path d="M651.5 108 V111" stroke="#000" stroke-width="1.2"/>
<path d="M673.3 108 V111" stroke="#000" stroke-width="1.2"/>
<text x="616" y="62.3" font-size="13.6" font-weight="bold" text-anchor="middle" fill="#000" transform="rotate(-90 616 62.3)" stroke="#000" stroke-width="0.3">MFI of BCL-6</text>
<path d="M648 17 H674" stroke="#222" stroke-width="1.3"/>
<path d="M655.90 10.80 L656.56 12.39 L658.28 12.53 L656.97 13.65 L657.37 15.32 L655.90 14.43 L654.43 15.32 L654.83 13.65 L653.52 12.53 L655.24 12.39Z" fill="#111"/>
<path d="M661.00 10.80 L661.66 12.39 L663.38 12.53 L662.07 13.65 L662.47 15.32 L661.00 14.43 L659.53 15.32 L659.93 13.65 L658.62 12.53 L660.34 12.39Z" fill="#111"/>
<path d="M666.10 10.80 L666.76 12.39 L668.48 12.53 L667.17 13.65 L667.57 15.32 L666.10 14.43 L664.63 15.32 L665.03 13.65 L663.72 12.53 L665.44 12.39Z" fill="#111"/>
<circle cx="651.5" cy="80.2" r="2.7" fill="#fff" stroke="#000" stroke-width="1.3"/>
<circle cx="651.5" cy="84.6" r="2.7" fill="#fff" stroke="#000" stroke-width="1.3"/>
<circle cx="651.5" cy="86.0" r="2.7" fill="#fff" stroke="#000" stroke-width="1.3"/>
<circle cx="651.5" cy="90.4" r="2.7" fill="#fff" stroke="#000" stroke-width="1.3"/>
<circle cx="651.5" cy="91.9" r="2.7" fill="#fff" stroke="#000" stroke-width="1.3"/>
<circle cx="651.5" cy="93.4" r="2.7" fill="#fff" stroke="#000" stroke-width="1.3"/>
<circle cx="651.5" cy="94.8" r="2.7" fill="#fff" stroke="#000" stroke-width="1.3"/>
<circle cx="651.5" cy="96.3" r="2.7" fill="#fff" stroke="#000" stroke-width="1.3"/>
<circle cx="651.5" cy="97.8" r="2.7" fill="#fff" stroke="#000" stroke-width="1.3"/>
<circle cx="651.5" cy="99.2" r="2.7" fill="#fff" stroke="#000" stroke-width="1.3"/>
<circle cx="651.5" cy="100.7" r="2.7" fill="#fff" stroke="#000" stroke-width="1.3"/>
<circle cx="651.5" cy="102.1" r="2.7" fill="#fff" stroke="#000" stroke-width="1.3"/>
<circle cx="651.5" cy="103.6" r="2.7" fill="#fff" stroke="#000" stroke-width="1.3"/>
<circle cx="651.5" cy="104.3" r="2.7" fill="#fff" stroke="#000" stroke-width="1.3"/>
<circle cx="651.5" cy="105.1" r="2.7" fill="#fff" stroke="#000" stroke-width="1.3"/>
<path d="M651.5 80.2 L673.3 34.8" stroke="#000" stroke-width="0.95"/>
<path d="M651.5 84.6 L673.3 26.8" stroke="#000" stroke-width="0.95"/>
<path d="M651.5 86.0 L673.3 36.3" stroke="#000" stroke-width="0.95"/>
<path d="M651.5 90.4 L673.3 39.2" stroke="#000" stroke-width="0.95"/>
<path d="M651.5 91.9 L673.3 42.2" stroke="#000" stroke-width="0.95"/>
<path d="M651.5 93.4 L673.3 45.1" stroke="#000" stroke-width="0.95"/>
<path d="M651.5 94.8 L673.3 52.4" stroke="#000" stroke-width="0.95"/>
<path d="M651.5 96.3 L673.3 46.5" stroke="#000" stroke-width="0.95"/>
<path d="M651.5 97.8 L673.3 53.1" stroke="#000" stroke-width="0.95"/>
<path d="M651.5 99.2 L673.3 64.1" stroke="#000" stroke-width="0.95"/>
<path d="M651.5 100.7 L673.3 68.5" stroke="#000" stroke-width="0.95"/>
<path d="M651.5 102.1 L673.3 84.6" stroke="#000" stroke-width="0.95"/>
<path d="M651.5 103.6 L673.3 86.8" stroke="#000" stroke-width="0.95"/>
<path d="M651.5 104.3 L673.3 86.0" stroke="#000" stroke-width="0.95"/>
<path d="M651.5 105.1 L673.3 88.2" stroke="#000" stroke-width="0.95"/>
<path d="M651.5 80.2 L673.3 87.5" stroke="#000" stroke-width="0.95"/>
<circle cx="673.3" cy="26.8" r="2.7" fill="#000" stroke="#000" stroke-width="1.1"/>
<circle cx="673.3" cy="34.8" r="2.7" fill="#000" stroke="#000" stroke-width="1.1"/>
<circle cx="673.3" cy="36.3" r="2.7" fill="#000" stroke="#000" stroke-width="1.1"/>
<circle cx="673.3" cy="39.2" r="2.7" fill="#000" stroke="#000" stroke-width="1.1"/>
<circle cx="673.3" cy="42.2" r="2.7" fill="#000" stroke="#000" stroke-width="1.1"/>
<circle cx="673.3" cy="45.1" r="2.7" fill="#000" stroke="#000" stroke-width="1.1"/>
<circle cx="673.3" cy="46.5" r="2.7" fill="#000" stroke="#000" stroke-width="1.1"/>
<circle cx="673.3" cy="52.4" r="2.7" fill="#000" stroke="#000" stroke-width="1.1"/>
<circle cx="673.3" cy="53.1" r="2.7" fill="#000" stroke="#000" stroke-width="1.1"/>
<circle cx="673.3" cy="64.1" r="2.7" fill="#000" stroke="#000" stroke-width="1.1"/>
<circle cx="673.3" cy="68.5" r="2.7" fill="#000" stroke="#000" stroke-width="1.1"/>
<circle cx="673.3" cy="84.6" r="2.7" fill="#000" stroke="#000" stroke-width="1.1"/>
<circle cx="673.3" cy="86.0" r="2.7" fill="#000" stroke="#000" stroke-width="1.1"/>
<circle cx="673.3" cy="86.8" r="2.7" fill="#000" stroke="#000" stroke-width="1.1"/>
<circle cx="673.3" cy="87.5" r="2.7" fill="#000" stroke="#000" stroke-width="1.1"/>
<circle cx="673.3" cy="88.2" r="2.7" fill="#000" stroke="#000" stroke-width="1.1"/>
<text x="655.0" y="122.8" font-size="13.4" font-weight="bold" text-anchor="end" fill="#000" transform="rotate(-45 655.0 122.8)" stroke="#000" stroke-width="0.3">Tfh</text>
<text x="676.6" y="122.7" font-size="13.4" font-weight="bold" text-anchor="end" fill="#000" transform="rotate(-45 676.6 122.7)" stroke="#000" stroke-width="0.3">Tfr</text>
<path d="M258.6 149.5 V238.6 H301.3" fill="none" stroke="#333" stroke-width="1.4"/>
<path d="M255.60000000000002 238.6 H258.6" stroke="#000" stroke-width="1.2"/>
<text x="256.1" y="241.624" font-size="8.4" font-weight="bold" text-anchor="end" fill="#000" stroke="#000" stroke-width="0.35">0</text>
<path d="M255.60000000000002 209.06666666666666 H258.6" stroke="#000" stroke-width="1.2"/>
<text x="256.1" y="212.09066666666666" font-size="8.4" font-weight="bold" text-anchor="end" fill="#000" stroke="#000" stroke-width="0.35">500</text>
<path d="M255.60000000000002 179.53333333333333 H258.6" stroke="#000" stroke-width="1.2"/>
<text x="256.1" y="182.55733333333333" font-size="8.4" font-weight="bold" text-anchor="end" fill="#000" stroke="#000" stroke-width="0.35">1000</text>
<path d="M255.60000000000002 150.0 H258.6" stroke="#000" stroke-width="1.2"/>
<text x="256.1" y="153.024" font-size="8.4" font-weight="bold" text-anchor="end" fill="#000" stroke="#000" stroke-width="0.35">1500</text>
<path d="M268.3 238.6 V241.6" stroke="#000" stroke-width="1.2"/>
<path d="M290.6 238.6 V241.6" stroke="#000" stroke-width="1.2"/>
<text x="230.5" y="192.7" font-size="13.5" font-weight="bold" text-anchor="middle" fill="#000" transform="rotate(-90 230.5 192.7)" stroke="#000" stroke-width="0.3">MFI of PD-1</text>
<path d="M265 154.8 H290.6" stroke="#222" stroke-width="1.3"/>
<path d="M272.70 148.60 L273.36 150.19 L275.08 150.33 L273.77 151.45 L274.17 153.12 L272.70 152.23 L271.23 153.12 L271.63 151.45 L270.32 150.33 L272.04 150.19Z" fill="#111"/>
<path d="M277.80 148.60 L278.46 150.19 L280.18 150.33 L278.87 151.45 L279.27 153.12 L277.80 152.23 L276.33 153.12 L276.73 151.45 L275.42 150.33 L277.14 150.19Z" fill="#111"/>
<path d="M282.90 148.60 L283.56 150.19 L285.28 150.33 L283.97 151.45 L284.37 153.12 L282.90 152.23 L281.43 153.12 L281.83 151.45 L280.52 150.33 L282.24 150.19Z" fill="#111"/>
<circle cx="268.3" cy="200.2" r="2.7" fill="#fff" stroke="#000" stroke-width="1.3"/>
<circle cx="268.3" cy="200.8" r="2.7" fill="#fff" stroke="#000" stroke-width="1.3"/>
<circle cx="268.3" cy="202.0" r="2.7" fill="#fff" stroke="#000" stroke-width="1.3"/>
<circle cx="268.3" cy="203.2" r="2.7" fill="#fff" stroke="#000" stroke-width="1.3"/>
<circle cx="268.3" cy="204.3" r="2.7" fill="#fff" stroke="#000" stroke-width="1.3"/>
<circle cx="268.3" cy="205.5" r="2.7" fill="#fff" stroke="#000" stroke-width="1.3"/>
<circle cx="268.3" cy="206.7" r="2.7" fill="#fff" stroke="#000" stroke-width="1.3"/>
<circle cx="268.3" cy="207.9" r="2.7" fill="#fff" stroke="#000" stroke-width="1.3"/>
<circle cx="268.3" cy="209.1" r="2.7" fill="#fff" stroke="#000" stroke-width="1.3"/>
<circle cx="268.3" cy="210.2" r="2.7" fill="#fff" stroke="#000" stroke-width="1.3"/>
<circle cx="268.3" cy="211.4" r="2.7" fill="#fff" stroke="#000" stroke-width="1.3"/>
<circle cx="268.3" cy="212.6" r="2.7" fill="#fff" stroke="#000" stroke-width="1.3"/>
<circle cx="268.3" cy="213.8" r="2.7" fill="#fff" stroke="#000" stroke-width="1.3"/>
<circle cx="268.3" cy="215.0" r="2.7" fill="#fff" stroke="#000" stroke-width="1.3"/>
<path d="M268.3 200.2 L290.6 172.4" stroke="#000" stroke-width="0.95"/>
<path d="M268.3 200.8 L290.6 170.1" stroke="#000" stroke-width="0.95"/>
<path d="M268.3 202.0 L290.6 178.9" stroke="#000" stroke-width="0.95"/>
<path d="M268.3 203.2 L290.6 193.7" stroke="#000" stroke-width="0.95"/>
<path d="M268.3 204.3 L290.6 196.1" stroke="#000" stroke-width="0.95"/>
<path d="M268.3 205.5 L290.6 194.9" stroke="#000" stroke-width="0.95"/>
<path d="M268.3 206.7 L290.6 197.8" stroke="#000" stroke-width="0.95"/>
<path d="M268.3 207.9 L290.6 197.3" stroke="#000" stroke-width="0.95"/>
<path d="M268.3 209.1 L290.6 199.6" stroke="#000" stroke-width="0.95"/>
<path d="M268.3 210.2 L290.6 198.4" stroke="#000" stroke-width="0.95"/>
<path d="M268.3 211.4 L290.6 200.8" stroke="#000" stroke-width="0.95"/>
<path d="M268.3 212.6 L290.6 202.0" stroke="#000" stroke-width="0.95"/>
<path d="M268.3 213.8 L290.6 208.5" stroke="#000" stroke-width="0.95"/>
<path d="M268.3 215.0 L290.6 172.4" stroke="#000" stroke-width="0.95"/>
<circle cx="290.6" cy="170.1" r="2.7" fill="#000" stroke="#000" stroke-width="1.1"/>
<circle cx="290.6" cy="172.4" r="2.7" fill="#000" stroke="#000" stroke-width="1.1"/>
<circle cx="290.6" cy="178.9" r="2.7" fill="#000" stroke="#000" stroke-width="1.1"/>
<circle cx="290.6" cy="193.7" r="2.7" fill="#000" stroke="#000" stroke-width="1.1"/>
<circle cx="290.6" cy="194.9" r="2.7" fill="#000" stroke="#000" stroke-width="1.1"/>
<circle cx="290.6" cy="196.1" r="2.7" fill="#000" stroke="#000" stroke-width="1.1"/>
<circle cx="290.6" cy="197.3" r="2.7" fill="#000" stroke="#000" stroke-width="1.1"/>
<circle cx="290.6" cy="197.8" r="2.7" fill="#000" stroke="#000" stroke-width="1.1"/>
<circle cx="290.6" cy="198.4" r="2.7" fill="#000" stroke="#000" stroke-width="1.1"/>
<circle cx="290.6" cy="199.6" r="2.7" fill="#000" stroke="#000" stroke-width="1.1"/>
<circle cx="290.6" cy="200.8" r="2.7" fill="#000" stroke="#000" stroke-width="1.1"/>
<circle cx="290.6" cy="202.0" r="2.7" fill="#000" stroke="#000" stroke-width="1.1"/>
<circle cx="290.6" cy="208.5" r="2.7" fill="#000" stroke="#000" stroke-width="1.1"/>
<text x="272.1" y="253.1" font-size="13.6" font-weight="bold" text-anchor="end" fill="#000" transform="rotate(-45 272.1 253.1)" stroke="#000" stroke-width="0.3">Tfh</text>
<text x="293.8" y="253.2" font-size="13.6" font-weight="bold" text-anchor="end" fill="#000" transform="rotate(-45 293.8 253.2)" stroke="#000" stroke-width="0.3">Tfr</text>
<path d="M591.2 151.2 V241.2 H635.9" fill="none" stroke="#333" stroke-width="1.4"/>
<path d="M588.2 241.2 H591.2" stroke="#000" stroke-width="1.2"/>
<text x="588.7" y="244.26" font-size="8.5" font-weight="bold" text-anchor="end" fill="#000" stroke="#000" stroke-width="0.35">0</text>
<path d="M588.2 218.825 H591.2" stroke="#000" stroke-width="1.2"/>
<text x="588.7" y="221.885" font-size="8.5" font-weight="bold" text-anchor="end" fill="#000" stroke="#000" stroke-width="0.35">100</text>
<path d="M588.2 196.45 H591.2" stroke="#000" stroke-width="1.2"/>
<text x="588.7" y="199.51" font-size="8.5" font-weight="bold" text-anchor="end" fill="#000" stroke="#000" stroke-width="0.35">200</text>
<path d="M588.2 174.075 H591.2" stroke="#000" stroke-width="1.2"/>
<text x="588.7" y="177.135" font-size="8.5" font-weight="bold" text-anchor="end" fill="#000" stroke="#000" stroke-width="0.35">300</text>
<path d="M588.2 151.7 H591.2" stroke="#000" stroke-width="1.2"/>
<text x="588.7" y="154.76" font-size="8.5" font-weight="bold" text-anchor="end" fill="#000" stroke="#000" stroke-width="0.35">400</text>
<path d="M603.4 241.2 V244.2" stroke="#000" stroke-width="1.2"/>
<path d="M625.2 241.2 V244.2" stroke="#000" stroke-width="1.2"/>
<text x="568.2" y="193.7" font-size="14" font-weight="bold" text-anchor="middle" fill="#000" transform="rotate(-90 568.2 193.7)" stroke="#000" stroke-width="0.3">MFI of CXCR5</text>
<path d="M601.4 159.4 H625.2" stroke="#222" stroke-width="1.3"/>
<path d="M610.75 153.20 L611.41 154.79 L613.13 154.93 L611.82 156.05 L612.22 157.72 L610.75 156.83 L609.28 157.72 L609.68 156.05 L608.37 154.93 L610.09 154.79Z" fill="#111"/>
<path d="M615.85 153.20 L616.51 154.79 L618.23 154.93 L616.92 156.05 L617.32 157.72 L615.85 156.83 L614.38 157.72 L614.78 156.05 L613.47 154.93 L615.19 154.79Z" fill="#111"/>
<circle cx="603.4" cy="185.3" r="2.7" fill="#fff" stroke="#000" stroke-width="1.3"/>
<circle cx="603.4" cy="187.5" r="2.7" fill="#fff" stroke="#000" stroke-width="1.3"/>
<circle cx="603.4" cy="189.7" r="2.7" fill="#fff" stroke="#000" stroke-width="1.3"/>
<circle cx="603.4" cy="192.0" r="2.7" fill="#fff" stroke="#000" stroke-width="1.3"/>
<circle cx="603.4" cy="194.2" r="2.7" fill="#fff" stroke="#000" stroke-width="1.3"/>
<circle cx="603.4" cy="196.4" r="2.7" fill="#fff" stroke="#000" stroke-width="1.3"/>
<circle cx="603.4" cy="198.7" r="2.7" fill="#fff" stroke="#000" stroke-width="1.3"/>
<circle cx="603.4" cy="200.9" r="2.7" fill="#fff" stroke="#000" stroke-width="1.3"/>
<circle cx="603.4" cy="203.2" r="2.7" fill="#fff" stroke="#000" stroke-width="1.3"/>
<circle cx="603.4" cy="205.4" r="2.7" fill="#fff" stroke="#000" stroke-width="1.3"/>
<circle cx="603.4" cy="207.6" r="2.7" fill="#fff" stroke="#000" stroke-width="1.3"/>
<circle cx="603.4" cy="209.9" r="2.7" fill="#fff" stroke="#000" stroke-width="1.3"/>
<circle cx="603.4" cy="211.0" r="2.7" fill="#fff" stroke="#000" stroke-width="1.3"/>
<path d="M603.4 185.3 L625.2 171.8" stroke="#000" stroke-width="0.95"/>
<path d="M603.4 187.5 L625.2 169.6" stroke="#000" stroke-width="0.95"/>
<path d="M603.4 189.7 L625.2 175.2" stroke="#000" stroke-width="0.95"/>
<path d="M603.4 192.0 L625.2 189.7" stroke="#000" stroke-width="0.95"/>
<path d="M603.4 194.2 L625.2 190.9" stroke="#000" stroke-width="0.95"/>
<path d="M603.4 196.4 L625.2 192.0" stroke="#000" stroke-width="0.95"/>
<path d="M603.4 198.7 L625.2 193.1" stroke="#000" stroke-width="0.95"/>
<path d="M603.4 200.9 L625.2 194.2" stroke="#000" stroke-width="0.95"/>
<path d="M603.4 203.2 L625.2 197.6" stroke="#000" stroke-width="0.95"/>
<path d="M603.4 205.4 L625.2 196.4" stroke="#000" stroke-width="0.95"/>
<path d="M603.4 207.6 L625.2 200.9" stroke="#000" stroke-width="0.95"/>
<path d="M603.4 209.9 L625.2 198.7" stroke="#000" stroke-width="0.95"/>
<path d="M603.4 211.0 L625.2 203.2" stroke="#000" stroke-width="0.95"/>
<circle cx="625.2" cy="169.6" r="2.7" fill="#000" stroke="#000" stroke-width="1.1"/>
<circle cx="625.2" cy="171.8" r="2.7" fill="#000" stroke="#000" stroke-width="1.1"/>
<circle cx="625.2" cy="175.2" r="2.7" fill="#000" stroke="#000" stroke-width="1.1"/>
<circle cx="625.2" cy="189.7" r="2.7" fill="#000" stroke="#000" stroke-width="1.1"/>
<circle cx="625.2" cy="190.9" r="2.7" fill="#000" stroke="#000" stroke-width="1.1"/>
<circle cx="625.2" cy="192.0" r="2.7" fill="#000" stroke="#000" stroke-width="1.1"/>
<circle cx="625.2" cy="193.1" r="2.7" fill="#000" stroke="#000" stroke-width="1.1"/>
<circle cx="625.2" cy="194.2" r="2.7" fill="#000" stroke="#000" stroke-width="1.1"/>
<circle cx="625.2" cy="196.4" r="2.7" fill="#000" stroke="#000" stroke-width="1.1"/>
<circle cx="625.2" cy="197.6" r="2.7" fill="#000" stroke="#000" stroke-width="1.1"/>
<circle cx="625.2" cy="198.7" r="2.7" fill="#000" stroke="#000" stroke-width="1.1"/>
<circle cx="625.2" cy="200.9" r="2.7" fill="#000" stroke="#000" stroke-width="1.1"/>
<circle cx="625.2" cy="203.2" r="2.7" fill="#000" stroke="#000" stroke-width="1.1"/>
<text x="606.7" y="254.1" font-size="14.1" font-weight="bold" text-anchor="end" fill="#000" transform="rotate(-45 606.7 254.1)" stroke="#000" stroke-width="0.3">Tfh</text>
<text x="628.8" y="254.4" font-size="14.1" font-weight="bold" text-anchor="end" fill="#000" transform="rotate(-45 628.8 254.4)" stroke="#000" stroke-width="0.3">Tfr</text>
<path d="M275.8 291.2 V371.5 H328.3" fill="none" stroke="#333" stroke-width="1.4"/>
<path d="M272.8 371.5 H275.8" stroke="#000" stroke-width="1.2"/>
<text x="273.3" y="374.344" font-size="7.9" font-weight="bold" text-anchor="end" fill="#000" stroke="#000" stroke-width="0.35">0</text>
<path d="M272.8 344.9 H275.8" stroke="#000" stroke-width="1.2"/>
<text x="273.3" y="347.74399999999997" font-size="7.9" font-weight="bold" text-anchor="end" fill="#000" stroke="#000" stroke-width="0.35">500</text>
<path d="M272.8 318.3 H275.8" stroke="#000" stroke-width="1.2"/>
<text x="273.3" y="321.144" font-size="7.9" font-weight="bold" text-anchor="end" fill="#000" stroke="#000" stroke-width="0.35">1000</text>
<path d="M272.8 291.7 H275.8" stroke="#000" stroke-width="1.2"/>
<text x="273.3" y="294.544" font-size="7.9" font-weight="bold" text-anchor="end" fill="#000" stroke="#000" stroke-width="0.35">1500</text>
<path d="M289.2 371.5 V374.5" stroke="#000" stroke-width="1.2"/>
<path d="M315.5 371.5 V374.5" stroke="#000" stroke-width="1.2"/>
<text x="251" y="330.4" font-size="12.6" font-weight="bold" text-anchor="middle" fill="#000" transform="rotate(-90 251 330.4)" stroke="#000" stroke-width="0.3">MFI of PD-1</text>
<path d="M287.4 299.4 H311.7" stroke="#222" stroke-width="1.3"/>
<path d="M294.45 293.20 L295.11 294.79 L296.83 294.93 L295.52 296.05 L295.92 297.72 L294.45 296.82 L292.98 297.72 L293.38 296.05 L292.07 294.93 L293.79 294.79Z" fill="#111"/>
<path d="M299.55 293.20 L300.21 294.79 L301.93 294.93 L300.62 296.05 L301.02 297.72 L299.55 296.82 L298.08 297.72 L298.48 296.05 L297.17 294.93 L298.89 294.79Z" fill="#111"/>
<path d="M304.65 293.20 L305.31 294.79 L307.03 294.93 L305.72 296.05 L306.12 297.72 L304.65 296.82 L303.18 297.72 L303.58 296.05 L302.27 294.93 L303.99 294.79Z" fill="#111"/>
<circle cx="315.5" cy="308.7" r="2.7" fill="#fff" stroke="#000" stroke-width="1.3"/>
<circle cx="315.5" cy="310.3" r="2.7" fill="#fff" stroke="#000" stroke-width="1.3"/>
<circle cx="315.5" cy="312.4" r="2.7" fill="#fff" stroke="#000" stroke-width="1.3"/>
<circle cx="315.5" cy="317.2" r="2.7" fill="#fff" stroke="#000" stroke-width="1.3"/>
<path d="M289.2 338.5 L315.5 310.3" stroke="#000" stroke-width="0.95"/>
<path d="M289.2 339.6 L315.5 308.7" stroke="#000" stroke-width="0.95"/>
<path d="M289.2 340.6 L315.5 312.4" stroke="#000" stroke-width="0.95"/>
<path d="M289.2 341.7 L315.5 317.2" stroke="#000" stroke-width="0.95"/>
<path d="M289.2 342.8 L315.5 330.0" stroke="#000" stroke-width="0.95"/>
<path d="M289.2 343.8 L315.5 331.1" stroke="#000" stroke-width="0.95"/>
<path d="M289.2 344.9 L315.5 332.1" stroke="#000" stroke-width="0.95"/>
<path d="M289.2 346.0 L315.5 333.2" stroke="#000" stroke-width="0.95"/>
<path d="M289.2 347.0 L315.5 334.3" stroke="#000" stroke-width="0.95"/>
<path d="M289.2 348.1 L315.5 334.8" stroke="#000" stroke-width="0.95"/>
<path d="M289.2 349.2 L315.5 335.3" stroke="#000" stroke-width="0.95"/>
<circle cx="289.2" cy="338.5" r="2.7" fill="#000" stroke="#000" stroke-width="1.1"/>
<circle cx="289.2" cy="339.6" r="2.7" fill="#000" stroke="#000" stroke-width="1.1"/>
<circle cx="289.2" cy="340.6" r="2.7" fill="#000" stroke="#000" stroke-width="1.1"/>
<circle cx="289.2" cy="341.7" r="2.7" fill="#000" stroke="#000" stroke-width="1.1"/>
<circle cx="289.2" cy="342.8" r="2.7" fill="#000" stroke="#000" stroke-width="1.1"/>
<circle cx="289.2" cy="343.8" r="2.7" fill="#000" stroke="#000" stroke-width="1.1"/>
<circle cx="289.2" cy="344.9" r="2.7" fill="#000" stroke="#000" stroke-width="1.1"/>
<circle cx="289.2" cy="346.0" r="2.7" fill="#000" stroke="#000" stroke-width="1.1"/>
<circle cx="289.2" cy="347.0" r="2.7" fill="#000" stroke="#000" stroke-width="1.1"/>
<circle cx="289.2" cy="348.1" r="2.7" fill="#000" stroke="#000" stroke-width="1.1"/>
<circle cx="289.2" cy="349.2" r="2.7" fill="#000" stroke="#000" stroke-width="1.1"/>
<circle cx="315.5" cy="330.0" r="2.7" fill="#000" stroke="#000" stroke-width="1.1"/>
<circle cx="315.5" cy="331.1" r="2.7" fill="#000" stroke="#000" stroke-width="1.1"/>
<circle cx="315.5" cy="332.1" r="2.7" fill="#000" stroke="#000" stroke-width="1.1"/>
<circle cx="315.5" cy="333.2" r="2.7" fill="#000" stroke="#000" stroke-width="1.1"/>
<circle cx="315.5" cy="334.3" r="2.7" fill="#000" stroke="#000" stroke-width="1.1"/>
<circle cx="315.5" cy="334.8" r="2.7" fill="#000" stroke="#000" stroke-width="1.1"/>
<circle cx="315.5" cy="335.3" r="2.7" fill="#000" stroke="#000" stroke-width="1.1"/>
<text x="292.7" y="380.7" font-size="10.95" font-weight="bold" text-anchor="end" fill="#000" transform="rotate(-45 292.7 380.7)" stroke="#000" stroke-width="0.3">PB</text>
<text x="319.0" y="381.2" font-size="10.95" font-weight="bold" text-anchor="end" fill="#000" transform="rotate(-45 319.0 381.2)" stroke="#000" stroke-width="0.3">Uterus</text>
<path d="M617.5 291.0 V370.3 H669.2" fill="none" stroke="#333" stroke-width="1.4"/>
<path d="M614.5 370.3 H617.5" stroke="#000" stroke-width="1.2"/>
<text x="615.0" y="373.144" font-size="7.9" font-weight="bold" text-anchor="end" fill="#000" stroke="#000" stroke-width="0.35">0</text>
<path d="M614.5 344.03333333333336 H617.5" stroke="#000" stroke-width="1.2"/>
<text x="615.0" y="346.87733333333335" font-size="7.9" font-weight="bold" text-anchor="end" fill="#000" stroke="#000" stroke-width="0.35">500</text>
<path d="M614.5 317.76666666666665 H617.5" stroke="#000" stroke-width="1.2"/>
<text x="615.0" y="320.61066666666665" font-size="7.9" font-weight="bold" text-anchor="end" fill="#000" stroke="#000" stroke-width="0.35">1000</text>
<path d="M614.5 291.5 H617.5" stroke="#000" stroke-width="1.2"/>
<text x="615.0" y="294.344" font-size="7.9" font-weight="bold" text-anchor="end" fill="#000" stroke="#000" stroke-width="0.35">1500</text>
<path d="M630.6 370.3 V373.3" stroke="#000" stroke-width="1.2"/>
<path d="M656.6 370.3 V373.3" stroke="#000" stroke-width="1.2"/>
<text x="593.1" y="329.9" font-size="12.5" font-weight="bold" text-anchor="middle" fill="#000" transform="rotate(-90 593.1 329.9)" stroke="#000" stroke-width="0.3">MFI of PD-1</text>
<path d="M631.1 293.3 H654.5" stroke="#222" stroke-width="1.3"/>
<path d="M640.25 287.10 L640.91 288.69 L642.63 288.83 L641.32 289.95 L641.72 291.62 L640.25 290.73 L638.78 291.62 L639.18 289.95 L637.87 288.83 L639.59 288.69Z" fill="#111"/>
<path d="M645.35 287.10 L646.01 288.69 L647.73 288.83 L646.42 289.95 L646.82 291.62 L645.35 290.73 L643.88 291.62 L644.28 289.95 L642.97 288.83 L644.69 288.69Z" fill="#111"/>
<circle cx="656.6" cy="308.8" r="2.7" fill="#fff" stroke="#000" stroke-width="1.3"/>
<circle cx="656.6" cy="310.9" r="2.7" fill="#fff" stroke="#000" stroke-width="1.3"/>
<circle cx="656.6" cy="312.5" r="2.7" fill="#fff" stroke="#000" stroke-width="1.3"/>
<circle cx="656.6" cy="316.7" r="2.7" fill="#fff" stroke="#000" stroke-width="1.3"/>
<circle cx="656.6" cy="337.7" r="2.7" fill="#fff" stroke="#000" stroke-width="1.3"/>
<circle cx="656.6" cy="344.0" r="2.7" fill="#fff" stroke="#000" stroke-width="1.3"/>
<path d="M630.6 323.0 L656.6 310.9" stroke="#000" stroke-width="0.95"/>
<path d="M630.6 325.6 L656.6 308.8" stroke="#000" stroke-width="0.95"/>
<path d="M630.6 328.3 L656.6 316.7" stroke="#000" stroke-width="0.95"/>
<path d="M630.6 330.9 L656.6 312.5" stroke="#000" stroke-width="0.95"/>
<path d="M630.6 333.5 L656.6 330.4" stroke="#000" stroke-width="0.95"/>
<path d="M630.6 334.6 L656.6 329.3" stroke="#000" stroke-width="0.95"/>
<path d="M630.6 335.6 L656.6 332.5" stroke="#000" stroke-width="0.95"/>
<path d="M630.6 336.7 L656.6 331.4" stroke="#000" stroke-width="0.95"/>
<path d="M630.6 337.7 L656.6 334.1" stroke="#000" stroke-width="0.95"/>
<path d="M630.6 338.8 L656.6 333.5" stroke="#000" stroke-width="0.95"/>
<path d="M630.6 339.8 L656.6 335.6" stroke="#000" stroke-width="0.95"/>
<path d="M630.6 323.0 L656.6 334.6" stroke="#000" stroke-width="0.95"/>
<path d="M630.6 325.6 L656.6 336.2" stroke="#000" stroke-width="0.95"/>
<path d="M630.6 328.3 L656.6 337.7" stroke="#000" stroke-width="0.95"/>
<path d="M630.6 330.9 L656.6 344.0" stroke="#000" stroke-width="0.95"/>
<circle cx="630.6" cy="323.0" r="2.7" fill="#000" stroke="#000" stroke-width="1.1"/>
<circle cx="630.6" cy="325.6" r="2.7" fill="#000" stroke="#000" stroke-width="1.1"/>
<circle cx="630.6" cy="328.3" r="2.7" fill="#000" stroke="#000" stroke-width="1.1"/>
<circle cx="630.6" cy="330.9" r="2.7" fill="#000" stroke="#000" stroke-width="1.1"/>
<circle cx="630.6" cy="333.5" r="2.7" fill="#000" stroke="#000" stroke-width="1.1"/>
<circle cx="630.6" cy="334.6" r="2.7" fill="#000" stroke="#000" stroke-width="1.1"/>
<circle cx="630.6" cy="335.6" r="2.7" fill="#000" stroke="#000" stroke-width="1.1"/>
<circle cx="630.6" cy="336.7" r="2.7" fill="#000" stroke="#000" stroke-width="1.1"/>
<circle cx="630.6" cy="337.7" r="2.7" fill="#000" stroke="#000" stroke-width="1.1"/>
<circle cx="630.6" cy="338.8" r="2.7" fill="#000" stroke="#000" stroke-width="1.1"/>
<circle cx="630.6" cy="339.8" r="2.7" fill="#000" stroke="#000" stroke-width="1.1"/>
<circle cx="656.6" cy="329.3" r="2.7" fill="#000" stroke="#000" stroke-width="1.1"/>
<circle cx="656.6" cy="330.4" r="2.7" fill="#000" stroke="#000" stroke-width="1.1"/>
<circle cx="656.6" cy="331.4" r="2.7" fill="#000" stroke="#000" stroke-width="1.1"/>
<circle cx="656.6" cy="332.5" r="2.7" fill="#000" stroke="#000" stroke-width="1.1"/>
<circle cx="656.6" cy="333.5" r="2.7" fill="#000" stroke="#000" stroke-width="1.1"/>
<circle cx="656.6" cy="334.1" r="2.7" fill="#000" stroke="#000" stroke-width="1.1"/>
<circle cx="656.6" cy="334.6" r="2.7" fill="#000" stroke="#000" stroke-width="1.1"/>
<circle cx="656.6" cy="335.6" r="2.7" fill="#000" stroke="#000" stroke-width="1.1"/>
<circle cx="656.6" cy="336.2" r="2.7" fill="#000" stroke="#000" stroke-width="1.1"/>
<text x="633.9" y="379.1" font-size="10.85" font-weight="bold" text-anchor="end" fill="#000" transform="rotate(-45 633.9 379.1)" stroke="#000" stroke-width="0.3">Spleen</text>
<text x="660.1" y="379.6" font-size="10.85" font-weight="bold" text-anchor="end" fill="#000" transform="rotate(-45 660.1 379.6)" stroke="#000" stroke-width="0.3">Uterus</text>
<path d="M264.9 435.6 V512.7 H317" fill="none" stroke="#333" stroke-width="1.4"/>
<path d="M261.9 512.7 H264.9" stroke="#000" stroke-width="1.2"/>
<text x="262.4" y="515.436" font-size="7.6" font-weight="bold" text-anchor="end" fill="#000" stroke="#000" stroke-width="0.35">0</text>
<path d="M261.9 493.55000000000007 H264.9" stroke="#000" stroke-width="1.2"/>
<text x="262.4" y="496.28600000000006" font-size="7.6" font-weight="bold" text-anchor="end" fill="#000" stroke="#000" stroke-width="0.35">100</text>
<path d="M261.9 474.40000000000003 H264.9" stroke="#000" stroke-width="1.2"/>
<text x="262.4" y="477.136" font-size="7.6" font-weight="bold" text-anchor="end" fill="#000" stroke="#000" stroke-width="0.35">200</text>
<path d="M261.9 455.25 H264.9" stroke="#000" stroke-width="1.2"/>
<text x="262.4" y="457.986" font-size="7.6" font-weight="bold" text-anchor="end" fill="#000" stroke="#000" stroke-width="0.35">300</text>
<path d="M261.9 436.1 H264.9" stroke="#000" stroke-width="1.2"/>
<text x="262.4" y="438.836" font-size="7.6" font-weight="bold" text-anchor="end" fill="#000" stroke="#000" stroke-width="0.35">400</text>
<path d="M279.3 512.7 V515.7" stroke="#000" stroke-width="1.2"/>
<path d="M304.7 512.7 V515.7" stroke="#000" stroke-width="1.2"/>
<text x="245" y="472.5" font-size="12.6" font-weight="bold" text-anchor="middle" fill="#000" transform="rotate(-90 245 472.5)" stroke="#000" stroke-width="0.3">MFI of CXCR5</text>
<path d="M277.1 443.7 H304.1" stroke="#222" stroke-width="1.3"/>
<path d="M285.50 437.50 L286.16 439.09 L287.88 439.23 L286.57 440.35 L286.97 442.02 L285.50 441.12 L284.03 442.02 L284.43 440.35 L283.12 439.23 L284.84 439.09Z" fill="#111"/>
<path d="M290.60 437.50 L291.26 439.09 L292.98 439.23 L291.67 440.35 L292.07 442.02 L290.60 441.12 L289.13 442.02 L289.53 440.35 L288.22 439.23 L289.94 439.09Z" fill="#111"/>
<path d="M295.70 437.50 L296.36 439.09 L298.08 439.23 L296.77 440.35 L297.17 442.02 L295.70 441.12 L294.23 442.02 L294.63 440.35 L293.32 439.23 L295.04 439.09Z" fill="#111"/>
<circle cx="304.7" cy="452.4" r="2.7" fill="#fff" stroke="#000" stroke-width="1.3"/>
<circle cx="304.7" cy="454.3" r="2.7" fill="#fff" stroke="#000" stroke-width="1.3"/>
<circle cx="304.7" cy="457.2" r="2.7" fill="#fff" stroke="#000" stroke-width="1.3"/>
<circle cx="304.7" cy="468.7" r="2.7" fill="#fff" stroke="#000" stroke-width="1.3"/>
<circle cx="304.7" cy="470.6" r="2.7" fill="#fff" stroke="#000" stroke-width="1.3"/>
<circle cx="304.7" cy="472.5" r="2.7" fill="#fff" stroke="#000" stroke-width="1.3"/>
<circle cx="304.7" cy="474.4" r="2.7" fill="#fff" stroke="#000" stroke-width="1.3"/>
<circle cx="304.7" cy="476.3" r="2.7" fill="#fff" stroke="#000" stroke-width="1.3"/>
<circle cx="304.7" cy="478.2" r="2.7" fill="#fff" stroke="#000" stroke-width="1.3"/>
<circle cx="304.7" cy="480.1" r="2.7" fill="#fff" stroke="#000" stroke-width="1.3"/>
<path d="M279.3 464.8 L304.7 452.4" stroke="#000" stroke-width="0.95"/>
<path d="M279.3 466.7 L304.7 454.3" stroke="#000" stroke-width="0.95"/>
<path d="M279.3 468.7 L304.7 468.7" stroke="#000" stroke-width="0.95"/>
<path d="M279.3 472.5 L304.7 457.2" stroke="#000" stroke-width="0.95"/>
<path d="M279.3 476.3 L304.7 472.5" stroke="#000" stroke-width="0.95"/>
<path d="M279.3 478.2 L304.7 470.6" stroke="#000" stroke-width="0.95"/>
<path d="M279.3 480.1 L304.7 476.3" stroke="#000" stroke-width="0.95"/>
<path d="M279.3 482.1 L304.7 474.4" stroke="#000" stroke-width="0.95"/>
<path d="M279.3 484.0 L304.7 478.2" stroke="#000" stroke-width="0.95"/>
<path d="M279.3 485.9 L304.7 480.1" stroke="#000" stroke-width="0.95"/>
<circle cx="279.3" cy="464.8" r="2.7" fill="#000" stroke="#000" stroke-width="1.1"/>
<circle cx="279.3" cy="466.7" r="2.7" fill="#000" stroke="#000" stroke-width="1.1"/>
<circle cx="279.3" cy="468.7" r="2.7" fill="#000" stroke="#000" stroke-width="1.1"/>
<circle cx="279.3" cy="472.5" r="2.7" fill="#000" stroke="#000" stroke-width="1.1"/>
<circle cx="279.3" cy="476.3" r="2.7" fill="#000" stroke="#000" stroke-width="1.1"/>
<circle cx="279.3" cy="478.2" r="2.7" fill="#000" stroke="#000" stroke-width="1.1"/>
<circle cx="279.3" cy="480.1" r="2.7" fill="#000" stroke="#000" stroke-width="1.1"/>
<circle cx="279.3" cy="482.1" r="2.7" fill="#000" stroke="#000" stroke-width="1.1"/>
<circle cx="279.3" cy="484.0" r="2.7" fill="#000" stroke="#000" stroke-width="1.1"/>
<circle cx="279.3" cy="485.9" r="2.7" fill="#000" stroke="#000" stroke-width="1.1"/>
<text x="282.0" y="522.2" font-size="10.65" font-weight="bold" text-anchor="end" fill="#000" transform="rotate(-45 282.0 522.2)" stroke="#000" stroke-width="0.3">Spleen</text>
<text x="308.0" y="522.8" font-size="10.65" font-weight="bold" text-anchor="end" fill="#000" transform="rotate(-45 308.0 522.8)" stroke="#000" stroke-width="0.3">Uterus</text>
<path d="M618.2 432.5 V509.6 H668.7" fill="none" stroke="#333" stroke-width="1.4"/>
<path d="M615.2 509.6 H618.2" stroke="#000" stroke-width="1.2"/>
<text x="615.7" y="512.3720000000001" font-size="7.7" font-weight="bold" text-anchor="end" fill="#000" stroke="#000" stroke-width="0.35">120</text>
<path d="M615.2 496.83333333333337 H618.2" stroke="#000" stroke-width="1.2"/>
<text x="615.7" y="499.60533333333336" font-size="7.7" font-weight="bold" text-anchor="end" fill="#000" stroke="#000" stroke-width="0.35">140</text>
<path d="M615.2 484.06666666666666 H618.2" stroke="#000" stroke-width="1.2"/>
<text x="615.7" y="486.83866666666665" font-size="7.7" font-weight="bold" text-anchor="end" fill="#000" stroke="#000" stroke-width="0.35">160</text>
<path d="M615.2 471.3 H618.2" stroke="#000" stroke-width="1.2"/>
<text x="615.7" y="474.072" font-size="7.7" font-weight="bold" text-anchor="end" fill="#000" stroke="#000" stroke-width="0.35">180</text>
<path d="M615.2 458.53333333333336 H618.2" stroke="#000" stroke-width="1.2"/>
<text x="615.7" y="461.30533333333335" font-size="7.7" font-weight="bold" text-anchor="end" fill="#000" stroke="#000" stroke-width="0.35">200</text>
<path d="M615.2 445.76666666666665 H618.2" stroke="#000" stroke-width="1.2"/>
<text x="615.7" y="448.53866666666664" font-size="7.7" font-weight="bold" text-anchor="end" fill="#000" stroke="#000" stroke-width="0.35">220</text>
<path d="M615.2 433.0 H618.2" stroke="#000" stroke-width="1.2"/>
<text x="615.7" y="435.772" font-size="7.7" font-weight="bold" text-anchor="end" fill="#000" stroke="#000" stroke-width="0.35">240</text>
<path d="M631.3 509.6 V512.6" stroke="#000" stroke-width="1.2"/>
<path d="M656.5 509.6 V512.6" stroke="#000" stroke-width="1.2"/>
<text x="597.6" y="470.4" font-size="12.5" font-weight="bold" text-anchor="middle" fill="#000" transform="rotate(-90 597.6 470.4)" stroke="#000" stroke-width="0.3">MFI of CXCR5</text>
<path d="M631.3 437 H654.3" stroke="#222" stroke-width="1.3"/>
<path d="M642.80 430.80 L643.46 432.39 L645.18 432.53 L643.87 433.65 L644.27 435.32 L642.80 434.43 L641.33 435.32 L641.73 433.65 L640.42 432.53 L642.14 432.39Z" fill="#111"/>
<circle cx="656.5" cy="443.2" r="2.7" fill="#fff" stroke="#000" stroke-width="1.3"/>
<circle cx="656.5" cy="447.0" r="2.7" fill="#fff" stroke="#000" stroke-width="1.3"/>
<circle cx="656.5" cy="459.8" r="2.7" fill="#fff" stroke="#000" stroke-width="1.3"/>
<circle cx="656.5" cy="461.7" r="2.7" fill="#fff" stroke="#000" stroke-width="1.3"/>
<circle cx="656.5" cy="463.0" r="2.7" fill="#fff" stroke="#000" stroke-width="1.3"/>
<circle cx="656.5" cy="464.9" r="2.7" fill="#fff" stroke="#000" stroke-width="1.3"/>
<circle cx="656.5" cy="471.3" r="2.7" fill="#fff" stroke="#000" stroke-width="1.3"/>
<circle cx="656.5" cy="479.0" r="2.7" fill="#fff" stroke="#000" stroke-width="1.3"/>
<path d="M631.3 468.7 L656.5 471.3" stroke="#000" stroke-width="0.95"/>
<path d="M631.3 470.0 L656.5 479.0" stroke="#000" stroke-width="0.95"/>
<path d="M631.3 471.3 L656.5 447.0" stroke="#000" stroke-width="0.95"/>
<path d="M631.3 472.6 L656.5 464.9" stroke="#000" stroke-width="0.95"/>
<path d="M631.3 486.0 L656.5 443.2" stroke="#000" stroke-width="0.95"/>
<path d="M631.3 487.3 L656.5 461.7" stroke="#000" stroke-width="0.95"/>
<path d="M631.3 489.2 L656.5 459.8" stroke="#000" stroke-width="0.95"/>
<path d="M631.3 491.7 L656.5 463.0" stroke="#000" stroke-width="0.95"/>
<circle cx="631.3" cy="468.7" r="2.7" fill="#000" stroke="#000" stroke-width="1.1"/>
<circle cx="631.3" cy="470.0" r="2.7" fill="#000" stroke="#000" stroke-width="1.1"/>
<circle cx="631.3" cy="471.3" r="2.7" fill="#000" stroke="#000" stroke-width="1.1"/>
<circle cx="631.3" cy="472.6" r="2.7" fill="#000" stroke="#000" stroke-width="1.1"/>
<circle cx="631.3" cy="486.0" r="2.7" fill="#000" stroke="#000" stroke-width="1.1"/>
<circle cx="631.3" cy="487.3" r="2.7" fill="#000" stroke="#000" stroke-width="1.1"/>
<circle cx="631.3" cy="489.2" r="2.7" fill="#000" stroke="#000" stroke-width="1.1"/>
<circle cx="631.3" cy="491.7" r="2.7" fill="#000" stroke="#000" stroke-width="1.1"/>
<text x="634.9" y="519.8" font-size="10.4" font-weight="bold" text-anchor="end" fill="#000" transform="rotate(-45 634.9 519.8)" stroke="#000" stroke-width="0.3">Thymus</text>
<text x="659.9" y="520.3" font-size="10.4" font-weight="bold" text-anchor="end" fill="#000" transform="rotate(-45 659.9 520.3)" stroke="#000" stroke-width="0.3">Uterus</text></svg>
</body></html>
